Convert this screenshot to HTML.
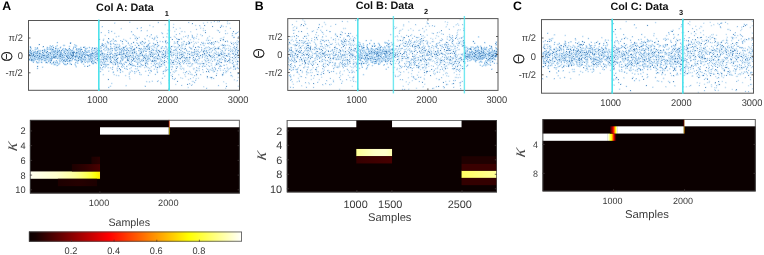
<!DOCTYPE html>
<html lang="en">
<head>
<meta charset="utf-8">
<title>Figure: circular data columns A, B, C</title>
<style>
html,body{margin:0;padding:0;background:#fff}
body{width:764px;height:255px;overflow:hidden}
svg{display:block}
</style>
</head>
<body>
<svg width="764" height="255" viewBox="0 0 764 255" text-rendering="geometricPrecision" font-family="'Liberation Sans', Arial, Helvetica, sans-serif">
<rect width="764" height="255" fill="#fff"/>
<text x="2.3" y="10.2" font-size="12.3" text-anchor="start" fill="#000" font-weight="bold">A</text>
<text x="254.7" y="10.1" font-size="12.3" text-anchor="start" fill="#000" font-weight="bold">B</text>
<text x="512.9" y="10.3" font-size="12.3" text-anchor="start" fill="#000" font-weight="bold">C</text>
<text x="96.1" y="10.6" font-size="10.8" font-weight="bold" fill="#111">Col A: Data</text>
<text x="164.8" y="15.9" font-size="7.4" font-weight="bold" fill="#111">1</text>
<text x="355.7" y="9.4" font-size="10.8" font-weight="bold" fill="#111">Col B: Data</text>
<text x="424" y="13.9" font-size="7.4" font-weight="bold" fill="#111">2</text>
<text x="610.4" y="9.8" font-size="10.8" font-weight="bold" fill="#111">Col C: Data</text>
<text x="678.9" y="14.6" font-size="7.4" font-weight="bold" fill="#111">3</text>
<path d="M37.5 68.4h0M63.6 50.4h0M70.8 53.9h0M30.5 53.4h0M38.9 62.6h0M93.8 53.7h0M33.5 52.6h0M37.6 58.1h0M95.2 57.1h0M72.2 53.1h0M54.5 57.3h0M64.5 52.9h0M75.1 59.4h0M47.9 57.8h0M38.2 57.2h0M83.9 54.7h0M75.6 47.2h0M64.5 53.9h0M85.9 49.5h0M67.1 56.3h0M97.5 58.1h0M42.9 55.5h0M67.4 55.4h0M62.5 49.8h0M53.3 49.8h0M70.1 60.4h0M45 56.9h0M84.9 54.4h0M89.5 52.4h0M37.6 57.1h0M61.4 53.8h0M48 49.1h0M34.3 56.5h0M91.5 54.5h0M58.7 56.3h0M38.9 52h0M75.9 56.4h0M42.7 52.6h0M91.9 62.3h0M43.8 55h0M30.8 49.2h0M42.6 67.1h0M52.8 53.4h0M61.5 55.6h0M92.2 48.2h0M77.5 53.8h0M52.4 49.7h0M29.7 50.3h0M39.7 57h0M98.6 53.1h0M60.8 56.2h0M77.1 56h0M32.3 53.5h0M30.9 57.2h0M88 55.8h0M69.8 56.3h0M50.2 46h0M50.8 61.6h0M34.8 58.7h0M40.6 51.3h0M30.2 53.5h0M87.5 54.8h0M61.3 51.8h0M37.4 53.8h0M80.5 58.9h0M42.3 59.4h0M32.9 56.2h0M70.6 58.2h0M91.5 59.2h0M30.4 56.5h0M85.1 57.1h0M41.9 58h0M35 58.6h0M29.8 55.7h0M49.1 49.5h0M79.6 54.6h0M63.2 54.4h0M88.5 56.2h0M43.8 55.9h0M50.7 58.3h0M46.7 55.1h0M97.3 59h0M94.7 54h0M52.5 52.5h0M59.2 52h0M50.6 48.6h0M81 52.2h0M31.3 52.2h0M33.2 58.1h0M56.9 56.1h0M45.7 52.1h0M87.9 52.3h0M80.7 58.4h0M66.9 52.6h0M75 64.2h0M77.2 55.9h0M83.4 52.6h0M93.7 63.1h0M39 60.9h0M72.5 50.3h0M38.6 57.6h0M59.7 56.7h0M83.8 47.2h0M91.4 57.4h0M81.9 58.6h0M31 60.1h0M53.8 55.9h0M40 53.3h0M98.7 55.6h0M38.6 59.8h0M45.7 55.6h0M53.6 50.4h0M32.8 57.3h0M89.7 58.9h0M73.3 56.5h0M39.7 56.5h0M63.5 60.2h0M34 56.1h0M71.5 51.9h0M44.8 49.7h0M31.2 53.4h0M36.6 61.9h0M67.6 54.1h0M73.3 48.9h0M51.3 56.3h0M73.8 55.7h0M53.3 54.8h0M37.7 66.3h0M50.7 54.9h0M56.3 61h0M92.7 59.2h0M36.6 52.6h0M34.6 52.1h0M68 57.7h0M96.3 59.4h0M92.3 47.8h0M77.8 55.4h0M33.2 61.3h0M85.2 49.1h0M76.6 52.8h0M38.6 57.8h0M61.2 60.3h0M32 58.9h0M84.9 50.9h0M79 49.9h0M85.1 54.8h0M82 54h0M47.3 54.5h0M84 54.6h0M46 52.4h0M38.2 55.3h0M56 53.2h0M63.5 61.6h0M48.6 61.3h0M71.1 55.9h0M70.9 58.4h0M45.4 58.3h0M72.3 59.6h0M53.6 47.8h0M80.2 60.3h0M48.9 55.8h0M84.7 60.6h0M57.7 58.5h0M67.4 59.4h0M75.9 62.5h0M65 60.2h0M46.6 52.9h0M97.4 48.9h0M35.3 47.8h0M51.4 46.9h0M67.1 50.7h0M30.5 55.8h0M39.4 57.5h0M84.7 57.2h0M83.6 64.1h0M73.3 53.1h0M91.9 54.6h0M81.6 57.8h0M49.5 60.1h0M73.9 55.3h0M52.4 49.3h0M81.2 58.7h0M55.6 64.5h0M39.3 55.1h0M90.1 58.4h0M77.1 56.7h0M80.9 47.3h0M67.9 54.4h0M83.6 58.8h0M60 59h0M68.3 55.3h0M32.9 59.9h0M67.5 63.8h0M85.8 57.7h0M78.1 60.7h0M85 52.1h0M63.4 48.6h0M90.5 56.1h0M36.1 54.2h0M90.1 57.8h0M54.6 56.6h0M34.9 59.2h0M72.1 56.1h0M60.5 61.5h0M58.6 64.6h0M88.4 60h0M38.2 55h0M71.9 52h0M57.6 50.6h0M65.7 54.8h0M63.6 45.4h0M37.9 51.2h0M64.5 52.5h0M89.1 56.1h0M40.5 50.7h0M29.3 60.2h0M33.3 53.8h0M60.8 54.1h0M97 55.8h0M31.6 55.1h0M98.2 52.6h0M66.2 64.6h0M36.9 56.1h0M57.9 54.9h0M43.1 57.9h0M78.7 53.5h0M66.6 56.3h0M48.8 56.7h0M46.5 53.3h0M89.5 47.7h0M82.4 60h0M59.2 58.2h0M57 61.4h0M80.4 50.1h0M96.8 55.9h0M34.1 56h0M39.7 53.6h0M54 61.4h0M64.2 56h0M33.5 54.7h0M32.3 59h0M43.9 56.2h0M55.6 56h0M80.5 52.1h0M71.4 55.2h0M30.6 47.1h0M31.7 54.8h0M60.3 48h0M90 55.2h0M92.9 60.3h0M54.2 52.1h0M90.9 53.9h0M93.8 56.8h0M57.1 51.1h0M81 53.7h0M54.2 64.7h0M39.3 53.7h0M69 55.1h0M34.6 59.7h0M75.2 59.5h0M85.4 55.5h0M92.9 63.3h0M60 52.5h0M36.8 57.6h0M92 62.3h0M89.7 55h0M96.6 51.9h0M70.3 54.2h0M75.9 57.5h0M54.8 51h0M41.4 57.4h0M49 58.9h0M79.2 56.2h0M51.4 59.5h0M77.1 60.3h0M63.8 63.5h0M60.1 56.2h0M96.6 55.7h0M40.2 51.1h0M62.8 55h0M39.7 59.7h0M94.4 48.1h0M62.9 57.1h0M51.8 50.8h0M40.3 58.9h0M70.3 43.1h0M56.6 56.4h0M37.4 48h0M30.8 53.1h0M56 54.6h0M69.5 50.5h0M65 59.9h0M91.8 56.4h0M92.6 58h0M94.4 55h0M84.7 57.5h0M62.1 59h0M65.3 53.6h0M56.4 52.4h0M56.6 57.8h0M31.4 52h0M84.7 57.7h0M45.8 59.7h0M30.6 50h0M61.3 52.7h0M79 49.6h0M59.2 50.8h0M54.1 58.2h0M74.8 59.9h0M40 53.2h0M29.3 52.1h0M70.2 53.9h0M65.8 49.8h0M89.4 50.7h0M57.7 49.1h0M83.8 59.7h0M29.8 59h0M30.4 52.5h0M70.6 60.9h0M44.4 50.7h0M33.2 52.9h0M37.5 55.6h0M54.9 54.5h0M52.2 58.1h0M68.2 57.4h0M90.9 56h0M54.2 54.6h0M41.5 55.7h0M69.2 51h0M55.6 50.3h0M50.8 54.3h0M55.7 62.4h0M32.1 55.9h0M67.5 50.5h0M72.4 52.6h0M81.2 61.9h0M95.8 51.6h0M53.5 57.5h0M74.7 44.8h0M59.6 63.7h0M43.6 58.9h0M91 53.8h0M81 58h0M94.8 53.7h0M86.3 51.9h0M93 50.5h0M37.5 48.7h0M29.6 54.4h0M42.5 50.4h0M57.5 54.8h0M76.9 53.9h0M59.3 60.1h0M64.6 50.8h0M82 58.2h0M33.5 61.4h0M76.2 49.5h0M31.9 53.5h0M46 55.8h0M79.3 54.6h0M76.5 55.7h0M57 65.6h0M49.2 52.8h0M86.7 51.6h0M47.8 53.8h0M30.7 53.6h0M45.9 62.6h0M30 51.8h0M85.5 59.6h0M37.1 55.4h0M97 56.7h0M43.5 54h0M50 60.7h0M69.7 60h0M50.2 62.9h0M55.2 56.6h0M35.8 55.8h0M55.9 47h0M30.3 55.7h0M44.3 51.8h0M92.5 53.7h0M48.2 53.7h0M47.6 55.1h0M76.3 53.7h0M90.6 55.5h0M49.3 55.1h0M55 54.6h0M78.8 52.9h0M84.2 57.7h0M71.7 60.7h0M41.1 54h0M41.2 56.2h0M81.8 56.1h0M78.2 60.1h0M91.5 55.2h0M83.3 59.2h0M58.1 51.4h0M37.9 55.8h0M91.1 61.1h0M77.4 61.7h0M69 58.5h0M76.5 46h0M55.6 51.5h0M52.6 57.8h0M69 52.2h0M62.5 62h0M78.4 60.8h0M94.3 62h0M88.1 59.6h0M55.8 49h0M54.7 56.2h0M93.7 56.4h0M56.3 55.2h0M84.8 66.2h0M35 49.8h0M60.2 55.7h0M64.8 57.7h0M85.4 48.9h0M90.2 56.1h0M39.2 58.1h0M71.9 50.6h0M72.7 54.7h0M39.2 58.9h0M87.1 48.2h0M67.4 58.9h0M96.1 52.4h0M41.6 60.5h0M65.4 51.1h0M51.2 49.4h0M73.7 53.8h0M71.3 64.3h0M64.5 52.3h0M51.3 58h0M63.9 57.9h0M54.7 54.3h0M91.2 55.5h0M61 58.1h0M61.9 54.7h0M46.7 56.9h0M46.4 62.2h0M95.6 58.6h0M50.6 60.3h0M89.6 65.3h0M70.3 50.8h0M97.5 58.8h0M40 56.7h0M94.7 50.3h0M82.8 55.7h0M68.5 55.5h0M78.4 58.5h0M79.3 57.8h0M60 52.6h0M73.1 53.1h0M44.6 57.8h0M30 51.5h0M76.1 52.8h0M61.9 59.1h0M92.2 56.2h0M47.1 48.1h0M86 54.5h0M97.9 53.7h0M91.7 49.9h0M96.3 63.3h0M39.7 53.5h0M40.1 53.3h0M44.6 49.7h0M53.9 52.4h0M36.6 55.7h0M39.1 56h0M29.8 54.8h0M94.1 60.7h0M53.9 63.4h0M72.5 54.2h0M60.5 55.4h0M80.8 47.8h0M85.2 51h0M55.4 50.9h0M66.2 49.7h0M35.4 56.9h0M48.6 53.7h0M44.2 60.7h0M50.2 59.3h0M51.3 49.7h0M68.9 58h0M51.9 54.3h0M51.5 56.4h0M87 61.2h0M29.4 55h0M32.5 55h0M89.4 47.5h0M73.1 58.2h0M79.7 53h0M95.9 59.6h0M43.8 52.7h0M93.2 50.7h0M45.6 55.2h0M65 64.5h0M76.4 60.2h0M84.6 61.7h0M46 52.2h0M62.1 54.8h0M31.7 54.6h0M48.7 61.1h0M97.5 54.4h0M92.2 55.3h0M69.4 58h0M83.8 52.9h0M92 55.8h0M51.8 48.5h0M97.5 50.8h0M60 51.6h0M39.7 52.8h0M65.8 55.5h0M70.3 58.3h0M77.2 52.5h0M75.7 53.8h0M31.4 56.4h0M73.4 55.8h0M93.3 63.8h0M75.6 65.6h0M97.1 50.7h0M64.5 45.4h0M85.5 57.5h0M38.4 50.5h0M91.5 53.9h0M59.2 50.1h0M90.2 57.8h0M51.1 58.2h0M72.4 57.9h0M88 51.3h0M78.5 51.4h0M72.1 58.6h0M96.8 54.2h0M34.7 56.9h0M35.7 57.3h0M67.3 53.7h0M95.6 48.2h0M76.8 55.3h0M50.3 61.9h0M36.1 49h0M60 55.6h0M62.3 59.4h0M61.4 55.5h0M72.1 55.5h0M47.7 57h0M90.4 57.9h0M48.8 60.4h0M36 57.5h0M53 63h0M94.3 57.6h0M39.7 57.6h0M48 55.2h0M93.7 50.6h0M53 56.5h0M87.8 55.9h0M31.7 56.3h0M91 55.1h0M45.2 59h0M41.2 59.2h0M80.7 54.3h0M98.1 57.9h0M96 62.5h0M81.4 54.8h0M92.8 60.4h0M97.9 54.8h0M67.4 61.4h0M38.7 58.1h0M88.2 56h0M56.3 54.5h0M50.5 53.3h0M63.7 56.5h0M31 57.7h0M29.8 58.8h0M47.1 51.7h0M70.4 52.6h0M81.2 55.6h0M95.8 54.7h0M86 58.8h0M94.7 52.6h0M73.3 56h0M80.1 51.9h0M69.8 53.8h0M34.2 56.4h0M32.9 60.8h0M82 52.7h0M42.7 59.2h0M84.1 60h0M61.1 57.3h0M68 55.1h0M59.7 61.8h0M33.7 54.5h0M46.9 57.7h0M50.1 49.2h0M52.8 46h0M78.2 57.4h0M40.3 58.6h0M59.7 50.3h0M71.2 57.6h0M95.1 52.6h0M36.6 57h0M34.1 55.9h0M42 62.4h0M44 58.4h0M39.9 56h0M33.8 59.3h0M43.2 53.1h0M44.2 55.2h0M62.2 58.3h0M74.1 56.9h0M54.1 57.1h0M40.3 53.8h0M35.2 49.9h0M47 49.6h0M40.5 58.1h0M62.3 59.2h0M89.8 59h0M78.9 57.9h0M42.8 55.5h0M31 48.3h0M33.3 62.1h0M59.2 55.9h0M54.1 52.7h0M76.5 56h0M34.4 54.3h0M46.4 57.2h0M76.7 52.2h0M68.5 53.4h0M64.8 60.3h0M91.9 58.8h0M36.5 57.4h0M42.2 54.4h0M68.3 55.1h0M68.3 54.8h0M97.4 53.5h0M97.2 52.6h0M69.8 60.4h0M81.9 49.7h0M77.6 50.3h0M37.8 53.2h0M70.9 54.5h0M50 49.3h0M53.7 63.4h0M39.5 54.3h0M88.5 61.3h0M78.9 57h0M81.4 54.3h0M48.8 55.3h0M57.9 58.3h0M40.9 54.8h0M70.9 53.1h0M87.5 61.3h0M83.3 53.3h0M94.2 57.1h0M46.8 59.7h0M77.8 63.2h0M37.4 55.8h0M66.2 50.6h0M36.3 52.7h0M66.5 60.7h0M66.6 55.6h0M52.9 50.9h0M53.1 54.8h0M78.5 58.4h0M62.3 55.5h0M57.2 54.8h0M36.4 53h0M48.4 56.3h0M88.1 58.9h0M96.9 53.1h0M54.7 52.4h0M89.7 59.6h0M90 59h0M43.8 52.3h0M47.8 59.5h0M77.5 57.6h0M50 56h0M95.7 56.1h0M54.2 52.7h0M79.9 56h0M78.2 48.8h0M43.5 57.2h0M89.4 61.7h0M51.6 52.3h0M36.2 57.2h0M32 56.4h0M60.3 53.2h0M73 52.5h0M47.6 57.3h0M87.7 62.5h0M47.3 47.4h0M88.1 50.7h0M30.8 58.2h0M47 52.1h0M39.7 58.4h0M60 54.2h0M53.2 56.9h0M56.3 62.8h0M88.4 55.3h0M69.3 61.8h0M71.1 54.8h0M55.9 55.9h0M85.3 60.1h0M63.8 52.2h0M81 57.1h0M92.8 61.3h0M71.5 55.4h0M59.1 50.9h0M47 48.7h0M92.6 55.4h0M82.3 62h0M84.7 56.9h0M44.1 56.5h0M59.2 57.8h0M90.6 54.5h0M45.8 58.3h0M85.7 59.6h0M66.4 55.3h0M43.9 57.8h0M54.9 57h0M33.9 52.2h0M75.8 45.4h0M79.6 48.8h0M30.5 55.3h0M49.7 59.7h0M82.6 54.2h0M42.6 50.9h0M66.3 49.9h0M85.2 55.2h0M68.6 55.8h0M37.1 56.6h0M92.4 63.4h0M81 60.6h0M68.2 54.2h0M51.9 59.6h0M69.5 58.7h0M56 53.6h0M36.8 52h0M37.1 56.1h0M31.7 60.8h0M40.5 56.6h0M45.8 58.1h0M73.2 51.3h0M69.3 57.5h0M70 63.8h0M86.3 48.9h0M35.2 52.4h0M55.9 51.5h0M34.1 57.2h0M58 63.3h0M34 52h0M33.2 60h0M35.8 51.9h0M55.9 58.2h0M82.2 55.5h0M48.3 53.3h0M80.7 49.3h0M44.9 58.1h0M48.7 52.9h0M61.7 56.1h0M33.8 54.6h0M60.1 53.4h0M69.5 53.7h0M86.5 52.6h0M32.4 56.9h0M84.8 47h0M68.6 49.6h0M69.2 54.3h0M32.1 53.8h0M90.4 60.4h0M48 54.1h0M66.9 59.4h0M66.4 60.5h0M92.5 52.3h0M70.8 42.8h0M98.2 54.2h0M44.8 54.6h0M75.1 60h0M69.1 48.7h0M64.6 51.7h0M72.6 54h0M67.2 60h0M52.2 58.3h0M73.6 54.6h0M34.4 57.1h0M62.2 54h0M60.3 58.8h0M43.5 53.6h0M68.5 61.1h0M75.6 56.5h0M37.3 48.1h0M49.4 57.3h0M32.9 50.6h0M70.5 49.9h0M34.2 59.6h0M44.6 51.5h0M60 56.9h0M60.3 53.3h0M30.8 56.4h0M95.1 52.2h0M44.7 60.5h0M71.4 57.5h0M44.1 50.2h0M70.4 53.6h0M53.3 55.3h0M50.9 52.3h0M61.9 50.8h0M69.7 54.7h0M70.6 63.5h0M76.9 50.1h0M47.4 55.5h0M34.9 52h0M46.3 57.2h0M51.5 57.5h0M71.2 54.4h0M57.6 52.3h0M50.4 49.5h0M35.4 53.3h0M70.5 55.5h0M36.2 53.2h0M64.9 61.1h0M76.9 48.8h0M72.3 56.5h0M39.7 54.3h0M53.5 52.6h0M94.7 53.7h0M34.9 59.5h0M76.2 52.2h0M59.2 55.5h0M71.6 52.4h0M56.2 62.4h0M37.2 52.2h0M68.1 51.3h0M89.3 60.9h0M84.7 59.3h0M54.8 51.8h0M66.3 59.6h0M65.6 58.8h0M97.4 60.3h0M31.6 59.6h0M49.4 47.6h0M57.1 58h0M83.9 54h0M79.8 49h0M58.3 55.5h0M29.3 51.1h0M74.1 51.1h0M57.1 45.7h0M36.7 62.3h0M72.9 52.1h0M59.8 58.8h0M50.1 58.9h0M47.4 62.8h0M65.1 64.1h0M45.9 61h0M56.2 48.8h0M94.8 55h0M62.1 55h0M46.3 57h0M65.2 48.9h0M93 53.9h0M89.4 50.9h0M76.1 56.9h0M91.7 51.4h0M81.7 55.9h0M76.3 54.7h0M58.6 57.2h0M39 44.6h0M80 56.9h0M73.1 52.6h0M96.6 47.8h0M51.1 60.9h0M90.2 59.1h0M43.9 55.8h0M95.1 59h0M98.5 61.4h0M31.8 54.5h0M51.3 58.2h0M98.7 52.9h0M96.6 56.6h0M75.7 57.7h0M38 55.2h0M46 58.7h0M94.9 48.9h0M85.1 62.2h0M58.6 51.8h0M82 56h0M92 61.1h0M49.6 49.4h0M90 59.4h0M47.5 51.7h0M51.6 57.2h0M31.6 59.7h0M39.8 50.7h0M67.2 60.7h0M30.2 46.8h0M66.9 55.9h0M40.5 58.4h0M81.2 49.5h0M37.5 63h0M43.1 46.8h0M47.4 57.3h0M69.5 46.4h0M85.4 57.9h0M81.5 54.3h0M80.6 53.7h0M76.4 56.1h0M66.7 55.1h0M52.6 53h0M41.2 62.1h0M89.2 54.9h0M57.3 62.9h0M74.2 52.1h0M33.3 55.3h0M53.9 55.1h0M35.6 59.5h0M53.4 51h0M80.1 57h0M52.5 51.5h0M76.5 56.2h0M37.2 59.4h0M55.6 57.9h0M57.3 42.6h0M64.3 59.9h0M44.6 54.7h0M77.6 55.8h0M90.6 54.2h0M85.7 53.2h0M30.7 52h0M62.8 49.2h0M52.7 50.9h0M68.8 51.9h0M34.4 60.4h0M79.8 54.4h0M57.8 52.4h0M94.9 62.3h0M29.8 56.5h0M57.9 53.4h0M62.7 57.4h0M87 55.3h0M81.7 62.6h0M41.3 59.6h0M50.1 53.5h0M80.2 59.6h0M58 48.6h0M47 51.3h0M94 61.3h0M87.8 55h0M53.5 51.9h0M67.2 57.7h0M93.9 54.2h0M43.7 55.2h0M92.4 53.6h0M90.7 56.7h0M79.6 51.7h0M76.8 53.3h0M76.7 49.3h0M66.8 56.5h0M69.5 54.5h0M42.4 57.6h0M68.1 56.8h0M75.8 55.2h0M62.6 56.7h0M76.3 60.1h0M60.7 47.1h0M85 51.9h0M79.2 59.3h0M34.8 58.2h0M82.6 52h0M48.5 57.1h0M34.2 56.9h0M37 52.4h0M51.3 51.8h0M65.4 61.5h0M51.7 64h0M42.8 56.8h0M82.6 56.4h0M54.8 57.4h0M90 59.3h0M45.7 50.9h0M77 57.5h0M53.6 56.3h0M88.3 57.3h0M74 47h0M76.2 66.8h0M35 55.9h0M81.3 59.1h0M53.4 56.6h0M80.6 57.3h0M87.9 66.2h0M37.1 52.3h0M29.6 55.2h0M81.8 59.7h0M96.6 49.9h0M91.8 53.7h0M59.1 52.8h0" stroke="#1c8ee2" stroke-opacity=".27" stroke-width="1.8" stroke-linecap="round" fill="none"/>
<path d="M123.8 52.1h0M103.3 74.7h0M145.8 60.3h0M141.2 52.7h0M146.6 66.9h0M158.2 59.4h0M137.5 64.3h0M125 54.7h0M116.5 75.4h0M135.5 66.1h0M129.6 61.9h0M129.7 52.1h0M117.7 48h0M112.7 63.4h0M154.7 57.9h0M167.4 56.2h0M145.8 54.2h0M141.3 53.7h0M110.8 56.7h0M130.2 72h0M165 54.2h0M166.5 56.8h0M104 64h0M158 50.5h0M114.1 46.6h0M165.3 57.2h0M114.7 56.6h0M153.1 57.3h0M166.2 40.8h0M102.1 69.4h0M99.7 50.1h0M136.4 54.1h0M129.2 51.6h0M165 51.6h0M119.4 54.5h0M100.3 67.3h0M160 58.8h0M141.1 74.7h0M135 52.4h0M143.2 65.2h0M162.4 57.7h0M117.3 61.8h0M116.5 55.7h0M168.4 56.4h0M135.3 56.8h0M101.2 48.4h0M152.3 81.2h0M138.5 70.4h0M102.1 26.8h0M125.2 57.9h0M140.6 63.6h0M159.7 62.2h0M145.3 62.1h0M143.7 46.2h0M151.3 63.5h0M128.4 58.6h0M155.9 58.1h0M149.8 36.8h0M105.5 65.9h0M149.8 72.9h0M161.7 51.2h0M165.2 52.9h0M129.9 22.2h0M107.4 48.3h0M138.8 48.5h0M105.8 58.4h0M139.2 37.3h0M151.4 50.7h0M140.6 66.9h0M147.6 46.8h0M151.5 55.6h0M132.5 64h0M117 59.6h0M154.2 57.1h0M134.6 71.9h0M148 67.7h0M126.1 53.6h0M162.4 78.2h0M126.6 62.6h0M141 28h0M143.4 51.5h0M136.1 51.4h0M154.7 38.6h0M117.7 63.5h0M103.2 40.2h0M109.8 57.6h0M128.9 59.9h0M148.2 48.9h0M109.6 54.4h0M128.4 56.1h0M143.1 57.8h0M113.4 55.1h0M144.1 46.9h0M144.6 57.8h0M115 55.2h0M161.6 54.1h0M165.7 42.6h0M164.3 48.4h0M114.8 44.6h0M121.7 48.5h0M137.1 55.2h0M156.1 61.4h0M100.5 55.8h0M116.6 61.4h0M144.7 67.5h0M114.8 23h0M114.3 62.5h0M168.9 50.8h0M141.6 64.9h0M147.3 49.7h0M105.1 64.8h0M119.8 53.4h0M107.4 60.9h0M116.3 56.5h0M108.3 79.5h0M106.8 65.5h0M152.8 56.3h0M118.3 47.8h0M161.8 48.2h0M99.6 56.1h0M121.4 50.5h0M120.1 52.6h0M127.2 52.5h0M139.6 50.7h0M134.3 65.5h0M123.3 48.8h0M122.7 43.9h0M148.7 57.3h0M121.1 58.4h0M147.8 59.2h0M134.2 52.3h0M115.6 57.3h0M151.9 56.1h0M136.8 47.8h0M143.6 42.4h0M104.2 54.7h0M131.1 59.9h0M134.9 35.9h0M127.8 52.8h0M125 57.8h0M108.2 64.4h0M133.8 58.4h0M153.5 46.5h0M139.8 54.2h0M120.6 63.9h0M112.4 63.8h0M125.1 62.3h0M121 60.7h0M112.2 49h0M127.7 48.1h0M124 50.8h0M136.3 55.2h0M157.2 44.6h0M124 47.9h0M146.2 53.9h0M110.8 53.6h0M115.6 47.2h0M159.3 66.9h0M151.3 66.8h0M149.1 46.9h0M156.5 48.5h0M161.6 61.1h0M164.8 65.1h0M149.9 43.2h0M164.2 62.1h0M117.7 55h0M132.4 46.9h0M112.2 50.7h0M106.3 59h0M126.7 53.1h0M122.7 71.7h0M143.2 51.4h0M127.5 49.9h0M109.8 49.8h0M133.7 42.1h0M122 64h0M152.8 60.4h0M147.3 57.7h0M166 47.7h0M139.3 60.6h0M117.2 68.2h0M138.5 62.1h0M119.8 46.7h0M135.4 57.2h0M152.3 38.2h0M149.7 54.8h0M131.1 57.1h0M120.3 72.3h0M100.9 62.5h0M159.2 66h0M157.4 72.4h0M141.4 51.4h0M155.7 56.8h0M112.5 56.6h0M145.2 39.1h0M119.4 51.5h0M156.6 48.1h0M127 66.5h0M132.6 50.9h0M124.5 50.3h0M128.9 56.2h0M160.1 59.4h0M167.3 33.7h0M155.3 60.5h0M166.2 61.8h0M135.3 61h0M141 43.3h0M156.7 36h0M145.4 48.2h0M136.6 62.1h0M161.8 66h0M138.2 55h0M154.2 39.2h0M163.3 37.1h0M121.2 52.3h0M157.5 67.7h0M112.1 57.5h0M136.9 47.2h0M144.9 50.1h0M159.2 50.4h0M121.1 57.3h0M167 54h0M151.7 55.8h0M163.7 63.6h0M116.8 46.3h0M137.3 60h0M130.7 51.8h0M166.4 43.6h0M156 67.4h0M110.4 61.5h0M162.9 57.5h0M124.3 47.5h0M132.1 46.7h0M102.7 69.7h0M134.7 52.1h0M162.5 56.1h0M131.4 48.9h0M101.1 64.2h0M158.2 46h0M131.9 49.3h0M106 66.2h0M147.9 64.4h0M111.8 62.5h0M141.7 60.9h0M128.3 60.9h0M116.3 61.3h0M129.4 51h0M119.8 54.2h0M131.9 64h0M140 55.6h0M134.3 50.5h0M102.7 55.9h0M139 55.5h0M165.3 70.9h0M158.8 54.5h0M128.5 59.6h0M153.1 26.8h0M110.8 48.5h0M148.8 40.9h0M111.3 60.4h0M104.5 58.9h0M145.4 42.4h0M123.9 66.4h0M135.1 38.5h0M102.3 53.6h0M114.8 53.1h0M104.2 57.7h0M164.1 58.2h0M107 58.9h0M163.6 54.5h0M103.7 61.8h0M113 72.5h0M148.8 70.3h0M143.3 58.8h0M102.4 45.2h0M122.2 60.6h0M107.9 52.1h0M122.6 54.4h0M124 51.9h0M136.7 40.1h0M151.6 52.6h0M101.1 65.1h0M146.4 60.4h0M164.2 62.7h0M122.4 58h0M145.4 59.4h0M130.3 64.9h0M119.6 48.6h0M136.3 59h0M103 56.2h0M146.6 62.8h0M136.7 53.3h0M117.5 50h0M101.1 32.6h0M164.3 64.7h0M144.9 57.2h0M102 44.4h0M154.3 69.2h0M106.5 47.7h0M131 46.4h0M107.3 41.3h0M163.5 54.2h0M143.9 48.6h0M147.1 35.9h0M123.1 53.2h0M121.8 58.1h0M103.3 53.4h0M160.8 82.1h0M108.1 56.4h0M141.7 55.5h0M113.4 71.9h0M105.4 43.7h0M102.1 53.4h0M121.8 58.5h0M107 64.3h0M158 59.1h0M141.8 64.8h0M111.7 40.9h0M100.7 68.9h0M131.9 61.2h0M158.1 53.3h0M116.3 59.1h0M139.6 53.1h0M115.9 63.5h0M167 51.2h0M116.3 36.8h0M113.4 61.9h0M142 41.3h0M119.1 44.7h0M159.5 52.3h0M152.6 54.2h0M147.5 63.4h0M165.9 50.9h0M129.1 58.9h0M101.7 51h0M121 40.9h0M116.5 55.2h0M111.3 44.1h0M126.9 50.7h0M103.1 64.4h0M99 71.4h0M135.8 61.8h0M109.3 58.9h0M156.9 49.3h0M106.7 57h0M105.5 56h0M140.1 49h0M155.4 50.8h0M153.8 53h0M159.4 56.6h0M131.4 43.9h0M116.3 55.5h0M100.6 71.6h0M165.2 24.7h0M140.2 53h0M165.1 55.3h0M157.9 46.6h0M145.4 64.6h0M152.6 52.8h0M110.9 53.1h0M162.2 60.8h0M158.9 45.5h0M132.4 60.5h0M129.6 45.2h0M133.6 42.7h0M138.9 45.2h0M110.5 49.6h0M165.6 69.2h0M123.6 54.7h0M101.4 54.7h0M140.9 49.9h0M108.9 32.7h0M169.1 82.9h0M164.2 56.3h0M151.9 48.5h0M103.5 59h0M158.2 22.5h0M111.7 52.8h0M143.3 52.1h0M110.9 44.6h0M149.2 46.4h0M148.5 56.3h0M123.3 56.9h0M115.7 60.9h0M158.1 45.8h0M165.2 53.8h0M110.7 51.5h0M168.9 43.6h0M138.8 58.2h0M121.7 50.4h0M133 34.7h0M103.4 44.8h0M134.7 49.4h0M141.1 64.8h0M135.2 56.6h0M101.1 62h0M150.9 70.7h0M133.4 49.5h0M110.7 46.7h0M157.5 55.9h0M142.5 55.3h0M100.3 54.2h0M129.4 57.8h0M152.5 56.4h0M144.5 43.5h0M125.7 56.7h0M154.9 37.5h0M132 53.4h0M110.1 59.9h0M108.5 43h0M161.9 32.9h0M117.2 52.9h0M140.3 42.5h0M116.2 51h0M121.4 50.3h0M121.7 66.9h0M99.9 59.5h0M99.6 51.8h0M105.1 56.1h0M149.9 25.4h0M118.3 57.8h0M129.9 78.9h0M142.4 54.2h0M134.7 51.8h0M161.7 47.4h0M153.7 61.3h0M160.8 60.7h0M120.2 62.3h0M168.2 30.2h0M165.8 56.8h0M145.2 59h0M155.3 61.9h0M111.6 48.2h0M167.3 52.4h0M112.4 69.2h0M154.7 47.4h0M101.2 60h0M152.9 53.2h0M139.1 66.4h0M127.2 54.2h0M117.8 66.1h0M132.1 47.2h0M119.3 52.6h0M124.3 47.8h0M168.6 53.4h0M124.7 49.3h0M160.1 41.4h0M130.3 64h0M159.7 51.3h0M148.7 59.6h0M159.3 58.7h0M149.7 68.4h0M142.4 54.7h0M161.3 59.6h0M145.7 51.2h0M157.4 52.7h0M146.3 51.2h0M131.2 67.7h0M118.9 36.2h0M121.6 54.2h0M157.6 42.8h0M117 44.4h0M119.2 49.6h0M167.5 42.8h0M146.3 56.5h0M122.5 65.2h0M147.7 46.8h0M130.1 55.5h0M103.4 46.6h0M162.5 33.5h0M102.5 54.5h0M165.2 55.7h0M128 58.8h0M137.1 57.1h0M133.1 57.5h0M131.3 62.2h0M158.2 80.8h0M122.4 50.9h0M168.4 47.9h0M139.6 72.6h0M157.3 71.5h0M110.7 43.7h0M112.1 50.9h0M120.7 49.2h0M160.2 52.3h0M127.5 60.7h0M155.1 64.8h0M146.7 60.8h0M111.5 53.3h0M133.8 59.9h0M107.9 61.4h0M134.4 61.2h0M110.5 68h0M146 57.8h0M131 50.2h0M140.5 55.9h0M130.4 64.6h0M139 62.6h0M128.3 43.6h0M119.9 54.8h0M165.9 52.5h0M136 54.7h0M109.3 57.3h0M123.6 52.9h0M153.3 58.7h0M137.2 59.8h0M132.6 65.8h0M139.2 48.5h0M149.7 53.3h0M167.7 59h0M108.8 30.8h0M164.7 60.5h0M131.4 59.1h0M142.4 55.3h0M128.7 64.8h0M131.2 50.5h0M126.6 52.9h0M152.6 49.3h0M132.9 54h0M153.1 50.6h0M106.1 66.1h0M100.7 51.5h0M115.8 54h0M115.2 54.1h0M116.8 55.7h0M130 56.1h0M145.7 71.2h0M162.4 63.6h0M168.5 69.8h0M144.2 55.4h0M162 57.4h0M135.2 45.3h0M151.3 55.5h0M161.3 47.4h0M147.5 49h0M127.4 56.1h0M156.2 60.6h0M153.1 55.6h0M167.5 58.5h0M156.4 54h0M139.9 62h0M115 50.6h0M99.5 39.3h0M115.1 48.7h0M148.5 55.1h0M109.4 52.5h0M148.5 44.5h0M117.3 54.5h0M110.5 86.2h0M159.5 62.9h0M107.8 56.9h0M158.8 58.7h0M141.5 42.3h0M117.6 58h0M115.4 54.1h0M140.2 51.1h0M117.1 68.9h0M141.1 48.3h0M142.1 65.4h0M100.6 64.8h0M117.3 60.4h0M150.4 55.6h0M108.6 49.1h0M151.6 61.1h0M153.6 50.1h0M156.5 58.6h0M161 64.6h0M124.4 53.5h0M165.4 71.3h0M102 52.5h0M103 67.3h0M140.5 49.3h0M103.3 55.7h0M135.5 68.8h0M120.6 61.3h0M147 57.9h0M129.2 74.3h0M122 63.9h0M145.2 86.2h0M167 49h0M115.3 55.9h0M103.6 56.8h0M110.1 57.2h0M163.1 73.7h0M150.3 52h0M99 56.1h0M113.7 56.6h0M152.9 53.9h0M108.9 39h0M133.1 55.2h0M112.1 48.8h0M118.8 54.4h0M130.3 38.3h0M132.7 55.7h0M159.5 51.2h0M132.8 52.2h0M165.7 54.5h0M135.3 57.6h0M131.5 56.2h0M119.2 63h0M126.1 46h0M167.3 69.7h0M136.8 42.9h0M111.8 83.4h0M108.1 48.4h0M143.7 61h0M137.2 28.4h0M134.4 50.6h0M142.1 59.8h0M104.1 62.5h0M103.3 57.3h0M118.6 47h0M118.6 47.5h0M149.1 51.9h0M160 52h0M139.1 58.6h0M154.3 61.7h0M154.7 58.5h0M126.8 52.5h0M138.8 50.8h0M155.4 66.2h0M165.7 41.8h0M155.6 53.2h0M128.1 50.4h0M105.5 47h0M116.2 59.2h0M136.1 53.1h0M113.5 64.6h0M150.7 56.5h0M117.5 70.9h0M129.5 48h0M127 56.8h0M168 49.8h0M128.2 54.2h0M146.3 46.7h0M166.1 70.4h0M151.1 70.5h0M149.3 48.5h0M157.2 67.5h0M127.2 58.3h0M115.6 44.8h0M114.8 49.2h0M106 61.7h0M104.2 61h0M159.7 67.4h0M163.7 71.2h0M156.9 40.7h0M114.6 44.6h0M101.6 55.6h0M150.7 51.4h0M137.4 38.4h0M139.9 74.3h0M127 48.7h0M140.8 61.2h0M151.1 71.2h0M132.9 53.5h0M129.3 73h0M129.7 55.7h0M101.6 53h0M124.9 57.5h0M126 85.7h0M116.6 60.2h0M147.7 58.8h0M155.3 53.9h0M126.6 41h0M150.5 54.6h0M134.9 48.5h0M120.4 54.2h0M100.9 68.6h0M120.6 70.5h0M161 48.6h0M157.6 81.3h0M165.2 53.6h0M154.2 57.4h0M143.8 50.2h0M102.7 63h0M104 56.6h0M157.9 63.2h0M108.5 56.7h0M107.7 57.8h0M163.1 62h0M128 55.3h0M105.1 35.3h0M114.7 59.4h0M115.6 63.9h0M133.5 54h0M104.3 56.9h0M134.9 73.3h0M121.3 63.2h0M104.7 63.1h0M129.8 56.9h0M140.3 66.1h0M120.4 61.2h0M122.1 58.1h0M122.4 56.2h0M166 67.2h0M159.8 66.2h0M121.7 59.9h0M150.8 53.1h0M158.4 64.8h0M146.3 49.6h0M148 56.5h0M104.5 45.6h0M155.6 44.4h0M102.8 57h0M168.2 63h0M113.2 39h0M114.5 59.7h0M131.6 70.6h0M125.9 55.1h0M107.4 54.1h0M110.4 41.6h0M166.9 37h0M113.3 39.4h0M101.2 51.4h0M121.2 28.7h0M132.2 71.1h0M103.8 60.3h0M146.8 63h0M132.1 55.6h0M157.1 56.5h0M116 49h0M102.2 62.1h0M137.7 66.8h0M169 80.4h0M101.5 47.6h0M151.2 53.6h0M129.9 68.7h0M148.7 61h0M123.9 63.5h0M157.5 52.9h0M138.1 58.2h0M121.5 53.7h0M122.3 49.7h0M144.7 48.4h0M118.8 75.7h0M121 51.3h0M164.8 76.1h0M114.4 57.7h0M147.3 61.8h0M110 54.2h0M112.7 67.2h0M147.5 59.6h0M125.6 75.6h0M130.7 55.5h0M115 53.3h0M163.2 53.6h0M149.3 47.4h0M116.3 41.1h0M124.1 49.2h0M117.7 62.1h0M154.4 63.5h0M142.4 49.7h0M121.5 55.5h0M136.7 47.7h0M153.2 65.4h0M116.1 62h0M126.5 56.9h0M127.4 60.6h0M138 64.4h0M101.9 45.3h0M122.1 56.7h0M113.5 58.7h0M108.5 43.7h0M123.1 59.9h0M115.1 62.3h0M145.2 49h0M106.1 64.2h0M157.2 56.9h0M159.9 63.9h0M165.6 52h0M106.7 55.7h0M103.7 57.1h0M166 56.4h0M105.4 58.1h0M107.7 42.6h0M112.9 54.5h0M141.7 59.3h0M154.8 45h0M103.5 57.1h0M123.9 54.2h0M125.5 40.3h0M165.3 51.7h0M142.2 54.8h0M131.2 48.8h0M125.4 55.9h0M123.8 48.9h0M116.7 53.2h0M148.6 49.1h0M110 62.7h0M137.3 62h0M153.4 43.2h0M134.6 48.9h0M129.8 53.5h0M143.4 56.3h0M103.4 54h0M104.7 48.7h0M105.5 60h0M119.3 68.9h0M127.3 57.6h0M120.9 57.9h0M123.1 47.2h0M147.6 57h0M154.9 54.2h0M150.1 59.2h0M148.4 59h0M102.1 43.6h0M122.3 41.7h0M127 69.2h0M142.6 60.8h0M129.3 76.8h0M140.6 55.2h0M154.3 44.5h0M139.3 45.7h0M115.3 41h0M162.7 57.7h0M158.8 55.3h0M132.4 57.1h0M151.2 35h0M103.6 66.7h0M141.1 30.8h0M140.7 53.6h0M164.6 62.1h0M149.5 82h0M100.1 48.2h0M133.5 56.2h0M165.8 46.4h0M108.3 55h0M145.2 63.1h0M124.2 64.2h0M127.8 59.3h0M163.1 71.6h0M157.2 46.8h0M123.6 57.8h0M146.1 56.6h0M118 64.9h0M137.7 43.7h0M111.8 31.4h0M153.9 39.5h0M108.6 64.7h0M103.7 39.1h0M100.2 61.4h0M157 69.6h0M147.2 30.7h0M145.4 55.5h0M163 63.6h0M148.3 75.3h0M101.7 57.7h0M103.8 58.9h0M102.5 52.9h0M106.3 54.2h0M106.5 45.1h0M116.9 59.1h0M121.2 56.3h0M137.9 63.4h0M131.5 53.2h0M150.7 60.1h0M127.9 52.4h0M168.6 60.6h0M149.5 51.6h0M98.9 63.1h0M128.2 42.6h0M119.8 45.8h0M153.5 54.7h0M103 55.3h0M160.3 58.2h0M142.3 54.1h0M160.4 66.1h0M122.1 67.2h0M163.6 54.8h0M103.2 59.1h0M149.4 58.1h0M106.6 58.2h0M162.4 52.9h0M120.5 61.8h0M142.1 61.5h0M120.2 69.8h0M144.1 56.5h0M130.9 48.2h0M116.7 47.7h0M104 49.7h0M163.4 50.8h0M131.9 65h0M123.7 39.3h0M152.9 45.9h0M148.4 44.5h0M156.7 57.9h0M152.6 61.4h0M161 83.8h0M154.2 45.7h0M143.7 58.7h0M153.6 49.5h0M162.9 41.9h0M110.9 58.7h0M126.5 50.5h0M131.6 32h0M146.9 55.8h0M114.3 41.2h0M138 55.9h0M125.9 46.9h0M110.4 54.8h0M114.4 48.6h0M166.2 46.7h0M114.7 33.3h0M114.3 60.3h0M124.7 68.1h0M104.8 57h0M119.7 63.2h0M162.5 46.8h0M126.4 54.7h0M138.1 59.1h0M134.6 53.2h0M157.5 58.1h0M149 49.4h0M146.7 81.7h0M123.8 58.3h0M134.2 59h0M102.2 59.3h0M108.1 67.7h0M136.3 37.1h0M156.9 51.3h0M127 60.1h0M103.8 64.1h0M149.7 47.6h0M123.3 48.1h0M122.4 59.1h0M162.6 55h0M165.3 70.6h0M168.5 50.5h0M100.9 46.8h0M151.1 46.3h0M136.3 71.6h0M102.1 69.2h0M146.4 61.1h0M127 66.2h0M143.3 56.2h0M106.6 47h0M108 50.6h0M147.2 45.2h0M138 70.4h0M108.8 71.1h0M142.4 44.4h0M145.7 65.6h0M137 68.8h0M148 45.4h0M107.4 59.4h0M165.6 40.7h0M109.2 58.5h0M104.8 53.6h0M139.5 56.9h0M156.7 63.7h0M158.4 55.7h0M129.9 51.2h0M125.6 46.5h0M147.7 47.6h0M106.5 56.2h0M145.5 54h0M101 59.1h0M100.5 62.6h0M139.8 59.2h0M138.6 56.5h0M125.9 50.7h0M116.4 54.1h0M157.4 37.6h0M143.2 60.3h0M117.8 58.6h0M108.9 87.4h0M147.5 61.5h0M165.8 53.7h0M153.7 54.3h0M114.1 74.6h0M106.9 50h0M141.7 44.4h0M105 67.6h0M154.3 60.3h0M105 50.8h0M120.5 61h0M105.8 47.7h0M101 51h0M115.3 64.7h0M118.4 66.5h0M149.2 58.5h0M133.8 50.8h0M161.2 56.4h0M126.2 69h0M134.1 61h0M144.8 38.6h0M133.2 65.6h0M125.4 61.7h0M151.3 56.6h0M155.3 74.3h0M159.9 62.8h0M113.4 43.4h0M130.5 50.1h0M130 63.6h0M156.4 50.4h0M115.4 50.8h0" stroke="#1c8ee2" stroke-opacity=".2" stroke-width="1.8" stroke-linecap="round" fill="none"/>
<path d="M187.7 84.2h0M206.4 40.4h0M235.9 42.7h0M216.1 57.6h0M237.9 73.9h0M177.5 67.1h0M178 47.9h0M170.3 73h0M213.3 70.9h0M227.6 23.4h0M186.8 71.7h0M227.7 45.1h0M198 68.4h0M208.1 40.6h0M182.9 45.4h0M171 75.3h0M206.7 61.9h0M190.9 48.9h0M238.6 54.7h0M225.9 72.7h0M238.2 41.5h0M186.5 43.4h0M223.9 54.3h0M238 48.8h0M184 69.8h0M193.5 41.4h0M211.6 78.7h0M227.5 33.3h0M172.8 52.4h0M198.7 60.8h0M181 50.7h0M198.3 46.7h0M175.2 37.2h0M233.1 62h0M183 48.4h0M236.7 44.7h0M221.8 57.1h0M236.5 64.4h0M183.6 63.9h0M184.9 31.9h0M203.8 86.8h0M186.8 50.1h0M219.1 21.7h0M173.7 52.7h0M179.2 52.2h0M234.4 47.9h0M186.5 63.7h0M230.5 57.3h0M226.9 55.9h0M222.7 45h0M235.3 50.8h0M208.5 40.1h0M170.7 51.9h0M190.5 63.2h0M196.8 61h0M190.3 62.9h0M203.7 55h0M229.7 23.4h0M203.5 23h0M231.7 50.7h0M170.8 54.7h0M170.9 50.9h0M200.9 74.8h0M205.3 43.5h0M185.7 59.3h0M191.4 42.4h0M233.5 69.3h0M232.4 76.5h0M179.9 55.9h0M236.9 54.7h0M209.4 55h0M209.2 50h0M175.5 58.7h0M177.2 53.1h0M175.6 43h0M190.2 72.2h0M199 56.6h0M200.8 51.8h0M228.4 48.2h0M174.9 31.4h0M199.5 66.4h0M222.9 51.8h0M216.2 75.5h0M184.4 57.2h0M203.3 65.4h0M189.2 71.2h0M206.1 50.4h0M233.6 67.1h0M190.1 47.7h0M175.2 78.4h0M189.1 51.4h0M200.2 64.4h0M233.2 62.8h0M219.1 58.9h0M175.2 70.3h0M237.4 56h0M216.8 57.5h0M207.6 60.6h0M207.5 58.3h0M181.7 39.2h0M211.7 63.7h0M175.8 47h0M236.5 47.6h0M175.8 49.5h0M202 49.1h0M184.7 52.6h0M223.6 56.2h0M225.7 88.1h0M208.5 65.7h0M186.4 44.4h0M232.7 60.4h0M228.6 50.5h0M170.8 59.8h0M174.8 64.4h0M212.5 57.9h0M227.5 21.9h0M215.3 41.9h0M187.3 58.2h0M200.7 55.1h0M222 59.5h0M174.9 54h0M186.7 42.9h0M195.9 42.3h0M232.3 54h0M186 36.1h0M208.7 62.7h0M183.3 61.8h0M184.3 48.7h0M180.9 78h0M209.9 52.6h0M233.4 64.5h0M236.1 33.3h0M192.8 64.1h0M234.6 52h0M192.2 54.1h0M217 63.6h0M186.9 59.3h0M185.4 53.7h0M176.5 55.4h0M194.1 37.5h0M189.6 63.3h0M237.3 64.6h0M235.3 61.1h0M194.2 52.4h0M198.4 49.7h0M226.6 64.7h0M184 57.6h0M188 66h0M181.1 55.6h0M237.5 46.9h0M181 47.7h0M177.8 62.8h0M173.6 54.4h0M233.4 31.7h0M235.8 61.9h0M238.2 86.1h0M205.5 62h0M233.1 53.4h0M179.8 33.9h0M203.6 52.9h0M174 43.7h0M182.9 56.9h0M173 55.3h0M186.9 50.9h0M180.8 62.9h0M237.1 46.1h0M224.4 48.5h0M181.8 57.5h0M199.3 58.8h0M188.8 41.4h0M177.1 47.3h0M188.1 35.6h0M197.6 55.9h0M225.8 60.7h0M220.8 51.8h0M199.3 52.8h0M171.4 56.2h0M238.3 68.6h0M219.2 54.2h0M226.2 26.7h0M221.6 62.8h0M205.8 66.1h0M220.4 55.8h0M223.9 53.9h0M218.8 48.5h0M228.3 54.9h0M224.7 47.1h0M169.7 58.7h0M212.2 50.8h0M173.4 27.4h0M192 65.7h0M230.6 49.6h0M216.4 54.1h0M183.6 53.8h0M214.6 53.5h0M204.3 50.2h0M210.4 56.8h0M191.6 85.1h0M180.9 54.9h0M177.5 81.2h0M174.9 47h0M238.8 51.8h0M195.4 72.2h0M196 59.7h0M214.6 49h0M182.5 62.1h0M211.8 42.9h0M189.6 61.4h0M194.4 50.1h0M223.9 57.1h0M212.7 26.6h0M181.3 50.2h0M171.9 55.1h0M237.5 42h0M189.5 58.9h0M228 56.4h0M172 39.4h0M216.4 52.2h0M213.9 78.4h0M197.9 64h0M232.2 57.5h0M204.9 66.2h0M232 63.3h0M188.6 79.6h0M180.6 58.1h0M221.1 54h0M171.7 69.5h0M196 78.6h0M238.2 57.5h0M178.1 44.6h0M194.3 53.9h0M217.7 61.5h0M227.5 61.4h0M225.4 49h0M220.3 38.8h0M233.1 47.8h0M181.8 42.7h0M185.7 72.8h0M174.6 59.6h0M183.3 44.4h0M222.9 56.3h0M194.7 49.9h0M169.2 80.4h0M236.9 64.4h0M222.5 44.3h0M182.3 54.2h0M169.8 30.6h0M225.6 33.8h0M174.3 41.8h0M171.3 66.3h0M233.9 66.9h0M220.1 68.9h0M204.2 51.4h0M174.4 50h0M203.2 51.2h0M189.4 54.6h0M205.4 56.8h0M169.5 45.3h0M212 55.8h0M215.3 65.1h0M211.3 59.2h0M212.8 50.1h0M211.3 77.3h0M227.5 67.9h0M229.2 59.4h0M189.9 53.9h0M237 68.2h0M215.6 68.6h0M169.3 54.7h0M200.2 63.5h0M211.8 44.1h0M224.7 53.3h0M189.4 47h0M196.5 49.8h0M179.1 39.8h0M185 74.8h0M226.1 71.1h0M192.6 58.6h0M223.1 70.2h0M235.1 69.2h0M236.5 47.1h0M171.3 52.6h0M221.1 58.5h0M234.6 48.8h0M224.6 53.8h0M218.3 54.4h0M197.9 54.7h0M197.8 46.8h0M188.8 53.8h0M221.2 38.5h0M170.8 62.3h0M172.2 63.7h0M204.2 45.7h0M188 53.4h0M195.8 62.3h0M214.2 57.8h0M188.4 63.6h0M203.3 30.6h0M204.8 53.7h0M174.8 42.5h0M237.7 64.9h0M226.6 86.2h0M176.7 49h0M194.9 61.9h0M221.6 54.3h0M214.5 71.1h0M173.5 62.7h0M176 66.7h0M206.6 71.9h0M170.3 51.8h0M213.5 72h0M227.3 67.5h0M231.8 43.7h0M223.4 74.8h0M172.6 74.4h0M184.5 62.4h0M196.4 70.1h0M235.6 53.5h0M223.8 65.2h0M205.5 32.8h0M181.6 54.4h0M210.1 56.7h0M192 35.2h0M194.7 82.5h0M237 80.9h0M192.1 37.3h0M201.6 47.6h0M195.3 53.7h0M183.5 72.7h0M171.3 54.8h0M187.8 53.9h0M184.1 58.2h0M184.3 49.2h0M182 52.6h0M216.8 48.8h0M197.3 34.1h0M195.6 47.5h0M171.1 49h0M171 49.5h0M238.1 42.9h0M231.7 75.5h0M230.7 59.8h0M202.5 54.9h0M227.9 70.9h0M214.8 48.9h0M179.5 46.1h0M209.4 52.1h0M209.2 43h0M188.3 43.5h0M212 43.7h0M211 55.7h0M180.5 52.1h0M177.2 41.8h0M214.3 59.5h0M222.8 48.1h0M215.7 69.5h0M209.6 66.4h0M214.4 55.9h0M205.7 60.7h0M196.5 74h0M177.5 43.4h0M206.1 53.6h0M219.7 32h0M214.2 71.3h0M182.7 51.7h0M212.7 57.6h0M236.8 56.1h0M235.1 68.8h0M202 57.8h0M173.8 60.3h0M192.2 81.3h0M195.2 62.9h0M201.4 63.4h0M192.3 23.9h0M230 54.9h0M213.2 56.6h0M237.9 53.7h0M188.3 73.9h0M219.3 46.8h0M206.5 50.4h0M225.1 58.3h0M180.3 59.5h0M203.2 72.2h0M237.6 67.1h0M176.4 48.7h0M186.2 49.7h0M211.3 65.1h0M221 26.2h0M207.6 43h0M191.2 53.5h0M234.8 65h0M176.2 61.9h0M190.9 66.2h0M189.7 66.7h0M187.7 57.6h0M179.7 63h0M237 40.9h0M236.7 49.1h0M212 48.4h0M232.1 63.3h0M189.5 57.3h0M230.7 51h0M221.6 52.7h0M225 48.3h0M218.4 30.9h0M169.9 64.7h0M220.9 62.2h0M196.8 54.1h0M212.6 70.4h0M186.1 60.2h0M232.1 63.3h0M235 55.7h0M220.2 65.4h0M233.8 37.5h0M213.6 42h0M198 53.4h0M232.9 51.1h0M230.8 72.7h0M182 31.4h0M208.9 71.4h0M172.9 46.2h0M169.7 67.3h0M177.9 53.5h0M229.3 62.8h0M182 53h0M173.9 52.7h0M233.4 44.9h0M175.8 84.4h0M203.5 43.6h0M198.7 39.3h0M205.9 48.3h0M176.7 64.2h0M202.7 43.6h0M177.5 51.3h0M195.5 59.8h0M219.2 48.7h0M179.5 49.2h0M169.2 37.7h0M214.8 60.8h0M229.5 68.8h0M180.1 68.5h0M174.2 79.3h0M181.6 44.6h0M176.5 59.4h0M205.8 51.4h0M208.4 46.9h0M177.1 58.3h0M184.9 52.6h0M224.6 58.1h0M206.2 58.8h0M204.3 48.9h0M224.2 44.6h0M196.3 43.2h0M180.5 67h0M178.8 39.2h0M205.1 55.3h0M214.4 43.4h0M224.2 55.2h0M218.5 53.5h0M218.3 55.3h0M172.8 62.9h0M198.4 56.1h0M219.7 56h0M171.3 51.1h0M169.5 46.5h0M210.5 55.8h0M181.6 53.9h0M208.7 60.2h0M169.5 45h0M171.9 53.4h0M170.4 47.7h0M210.9 43.6h0M212.5 38h0M207.8 47.8h0M232.2 50.5h0M188.3 51.9h0M189.8 83.9h0M227.2 68.7h0M209 43.8h0M192.5 52.6h0M194.3 60.8h0M190.3 74.1h0M205 25.5h0M191.6 48.1h0M195.7 25.4h0M214.1 53.5h0M208.8 59.2h0M204.8 53.9h0M170.9 37.3h0M208.4 60h0M197.2 71h0M187.5 61.9h0M224.7 68.6h0M218.2 49.1h0M233.7 54.1h0M175.1 70.4h0M196.1 38.2h0M221.9 50.5h0M181.4 31.6h0M183.4 55h0M191.2 55.3h0M171.8 46.8h0M217.4 60.5h0M224.7 48.8h0M180.1 68.3h0M177 55.1h0M214.9 67.5h0M233.6 53.2h0M237.3 51.9h0M209.1 54.5h0M207.8 37.8h0M173.7 24.3h0M196.5 29.3h0M218 64.7h0M230.5 46.6h0M218.5 85.7h0M203.8 63.6h0M202.8 66.9h0M233.2 50.3h0M221.8 25.3h0M183.6 43.8h0M234.4 79.9h0M226.5 59.9h0M213.1 47.7h0M225.8 61.6h0M220.5 49.3h0M193.3 77.6h0M218.8 42.6h0M196.1 60.7h0M171.4 55.7h0M196.3 70.9h0M207.3 52.6h0M223.1 45.7h0M206.4 51.9h0M177.5 42.8h0M195.8 47.8h0M224.4 59.6h0M193.6 52.8h0M217.4 48.2h0M191.4 51.8h0M182.3 48.4h0M232.9 35.8h0M176.2 50.5h0M223.5 72.9h0M214.7 49.7h0M173.1 71.7h0M170.2 50.7h0M186.7 71.8h0M217.5 21.9h0M223.7 81.9h0M195 58.2h0M231 68.2h0M177 66.9h0M224 37.2h0M218.9 68.1h0M193.2 59.6h0M238.5 50.9h0M194 39h0M187 60.1h0M214.3 55.9h0M207.5 77.9h0M181.2 69.2h0M193.8 37.9h0M226.5 49h0M193 60.6h0M223.2 26.5h0M210.3 49.6h0M223.2 37.8h0M185.3 49h0M230.8 75.7h0M177.2 54.7h0M210.2 77.4h0M237.1 32.6h0M177 57.8h0M183.4 41.7h0M171.3 61.3h0M217.2 41.3h0M206 47.3h0M187.8 37.9h0M219.1 54h0M205.1 48.6h0M189.4 58.8h0M183.9 52.4h0M190.6 78.8h0M229.2 54h0M195 54.7h0M212 68.5h0M222.2 54.6h0M187.3 55.2h0M217 54.3h0M200.7 28h0M233.7 65.3h0M180.2 65h0M172.3 57.6h0M199.3 70.7h0M199.5 56.8h0M182.5 55h0M225.8 45.5h0M222.4 75.4h0M217.3 41.9h0M215.5 53.4h0M218.1 48h0M224 57.2h0M202.1 35.9h0M185.7 61.2h0M179.1 58.7h0M192 49.1h0M207.2 38.9h0M237.4 61.5h0M229.4 59.4h0M206.7 64.1h0M174.2 72.3h0M179.4 64.9h0M185.2 46.7h0M178.3 60.3h0M196.2 56.3h0M217.5 70.8h0M171 66.8h0M184.5 55.8h0M233.2 42.8h0M203.7 50.5h0M206.1 47.2h0M210 69.9h0M215.8 48.2h0M185.2 57.9h0M216.9 62.8h0M175.9 55.6h0M225 53.4h0M224.3 57.3h0M191.8 52.5h0M222.8 39.8h0M178.8 74.8h0M230 60.5h0M203.1 51.7h0M202.3 66.2h0M182.3 44.1h0M225 50.8h0M203.4 45.2h0M188.8 61.3h0M183.8 55.8h0M210.1 56.6h0M172.7 67.4h0M195.4 54h0M173.5 50.3h0M230.7 48.7h0M196.3 53.5h0M174.2 36.4h0M205.1 30.6h0M185.5 76.5h0M211.2 63.3h0M226.1 83.6h0M209.4 36.3h0M228.1 53.4h0M211.4 51.6h0M225.4 30.9h0M197 62.9h0M217.8 60.6h0M192 64.8h0M220.5 58.7h0M230.4 28.2h0M189.8 42.7h0M203.3 28.5h0M199.5 63.3h0M179 61.3h0M193.2 81.5h0M194.2 43.9h0M229.1 45.9h0M218.3 63.8h0M178.6 58.5h0M179.6 58h0M188.5 60.9h0M211.5 70.1h0M185.5 44.8h0M179.6 63.7h0M215.3 50.4h0M194.3 51.4h0M202.8 55.4h0M225.9 55.8h0M235.4 33.9h0M218 47.3h0M219 64.2h0M212.2 77.3h0M207.3 53h0M177.3 39.2h0M207.4 58.3h0M183.8 68.8h0M190.8 31.8h0M204.4 60h0M232.3 49.9h0M179 63h0M196 80.1h0M182.7 60.2h0M225.4 71h0M185.9 58.2h0M201.8 42.5h0M196.7 67.8h0M211.1 22.5h0M176.1 68.1h0M214.7 46.9h0M218.9 60.4h0M188.3 36.9h0M237.7 60.4h0M217.6 57.1h0M181.2 38.5h0M192.2 84.7h0M177.5 57.5h0M196.5 75.6h0M170.9 64h0M218.5 63.3h0M237.7 61.7h0M234.4 37.1h0M181.9 85.3h0M202.9 69.8h0M211.7 65.3h0M204.7 57.5h0M208 56.1h0M174.5 46.7h0M204.2 50.9h0M210.1 48.3h0M206.8 52.9h0M237.9 44.7h0M209.5 55.1h0M206.7 88.2h0M212.6 61h0M173.9 64.2h0M210.2 69.4h0M210.6 60.6h0M224.6 45.8h0M197.8 51h0M221.9 53.4h0M198.1 42.1h0M177.8 52.8h0M194.2 68.5h0M237.1 52.3h0M206.1 55.4h0M214.7 49.2h0M171.6 46.7h0M229.5 58.9h0M209.1 55.9h0M192.2 36.2h0M229.2 61.1h0M218.3 52.3h0M169.4 59.1h0M194.6 75.8h0M211.2 57.5h0M183.3 57.1h0M219.2 61.4h0M177.1 56.4h0M219.9 54.7h0M226.4 56.2h0M200.3 55.9h0M178.4 46.7h0M209 72h0M216.1 54.4h0M202.4 56.2h0M223.4 40.4h0M238.6 32h0M205 55.9h0M224.7 60.5h0M238.1 68.1h0M236 43.9h0M175.8 57.4h0M216.8 64.5h0M209.5 62.4h0M184.7 60.2h0M219.2 59.9h0M189.6 54.7h0M171.8 53.4h0M223.6 40h0M216.6 52.7h0M174.8 60.9h0M189.2 59.7h0M190.1 57.8h0M196.7 51.6h0M171.5 52.6h0M182 46.9h0M238.2 73.4h0M220.8 59.8h0M226.6 55.7h0M235.2 68h0M200 26h0M196.5 62.5h0M215 60.6h0M179.3 53.3h0M201.8 51h0M230.7 51.7h0M199.9 58h0M172 64h0M181.4 48.4h0M220.6 40.6h0M238.5 61.6h0M192.3 55.9h0M213.6 44.8h0M220.9 53.2h0M170.2 52.6h0M175.2 49.4h0M214.2 21.5h0M206.6 68.3h0M210.1 40.4h0M172.1 62.3h0M198.8 54.1h0M207.3 53h0M188.3 43.1h0M202.1 61.3h0M204 64.3h0M198.5 58.1h0M182.4 68.1h0M235.1 57.6h0M233.6 58.9h0M199.5 68.6h0M193.8 55.5h0M219.6 66.8h0M218.3 56.1h0M227.8 23.7h0M179.8 54h0M193.4 68.4h0M227.9 55.1h0M200.9 44.9h0M193 63.8h0M216 63.7h0M218.7 55.6h0M183.6 37h0M181.3 66h0M177.1 41.9h0M175.9 53h0M180 28.2h0M204.5 63.6h0M179.7 58.5h0M175 71.6h0M235.3 49h0M189.8 43.6h0M191.6 74.1h0M172.7 78.8h0M202.3 66.8h0M211.7 57h0M221.4 66.1h0M229.8 56.8h0M225.5 53.5h0M171.9 60.2h0M178.3 41.3h0M198.5 51.8h0M216.2 51.5h0M237.5 50.5h0M235.9 49.5h0M234.7 58.8h0M224.7 61.9h0M208 69.3h0M176.8 38.7h0M229 50.1h0M173.5 55h0M214.3 52.6h0M222.3 51h0M206.5 58.2h0M207.5 22.4h0M223.7 52.3h0M185.5 72.6h0M230.9 42.2h0M220.5 27.1h0M215.3 59.5h0M236.3 59.1h0M220.6 70.3h0M227.1 40.8h0M193.5 57.5h0M184.1 41.3h0M172.4 66.4h0M229.3 60.7h0M230.9 67.5h0M204.1 54.7h0M234.1 56.6h0M191.8 64.1h0M237 57.8h0M200.7 34.7h0M203.4 42.3h0M175.2 50.8h0M176.1 34.6h0M227.8 41.8h0M184.1 41.7h0M173.2 61.6h0M179.7 55.4h0M235.7 51.8h0M219.1 62.3h0M188.9 44h0M198.4 78.1h0M195.8 51.3h0M225.5 55.8h0M236 54.7h0M181.4 45.5h0M177.2 63.9h0M189 22.5h0M232 35.7h0M188.1 87.5h0M194.6 52.5h0M216.8 73.4h0M232.4 33.7h0M183.1 54.3h0M187 51.3h0M217.4 30.2h0M234.5 46.7h0M212.5 67.3h0M194.5 59.7h0M228.4 69.1h0M224.3 65.1h0M182.7 78.3h0M199.4 47.1h0M176.2 29.2h0M207.6 56.5h0M205.5 48h0M211.3 43.2h0M235.8 54.8h0M193.5 45.2h0M225.3 41.5h0M179.6 55.9h0M175.8 61.9h0M234.8 66.7h0M170.7 49h0M213.5 69.4h0M238.5 36.8h0M198.3 68.5h0M182.2 57.9h0M173.5 54.3h0M182.8 61.1h0M193.2 46.8h0M213.2 54h0M202.9 63.5h0M169.7 42h0M186.6 57.1h0M226.5 71.9h0M223.4 73.1h0M202.9 55.7h0M181.9 56.5h0M169.5 51.4h0M183.9 68.3h0M207 76.5h0M197.8 59.8h0M175.7 71.2h0M212.3 42.8h0M219.1 55.5h0M208.2 50.5h0M220 66h0M186.6 58.9h0M211.2 52.5h0M230.4 62.5h0M176.5 70.6h0M226.8 55.9h0M170.9 63.3h0M172.4 76.8h0M206 55.5h0M208 40.5h0M196.8 36.1h0M223.1 47.7h0M194.7 52.5h0M189.8 56.9h0M187.2 61.3h0M172.8 57.4h0M208.7 54.6h0M219 54.9h0M208.8 70h0M198.8 63.8h0M220.9 53.7h0M193.8 69.4h0M238 77.4h0M197.3 50.6h0M179.4 45.4h0M232.4 53.1h0M221.1 45.1h0M209.5 48h0M178.7 61.6h0M229 60.2h0M192.3 74.9h0M187.8 59.7h0M222.3 74.5h0M234 43.1h0M232.5 60.9h0M190.5 39.8h0M238 50.6h0M229.4 53.1h0M185.2 52.8h0M237 63.5h0M185.3 58.6h0M226.2 55.9h0M203.3 64h0M189.3 57.5h0M198.1 47.2h0M169.4 67.9h0" stroke="#1c8ee2" stroke-opacity=".15" stroke-width="1.8" stroke-linecap="round" fill="none"/>
<path d="M63 50.5h1M70 53.5h1M30 53.5h1M38 62.5h1M33 52.5h1M37 58.5h1M95 57.5h1M54 57.5h1M64 52.5h1M47 57.5h1M38 57.5h1M64 53.5h1M85 49.5h1M70 60.5h1M45 56.5h1M84 54.5h1M89 52.5h1M37 57.5h1M91 54.5h1M58 56.5h1M38 51.5h1M91 62.5h1M43 55.5h1M30 49.5h1M42 67.5h1M52 53.5h1M61 55.5h1M77 53.5h1M52 49.5h1M29 50.5h1M39 56.5h1M60 56.5h1M77 55.5h1M32 53.5h1M30 57.5h1M87 55.5h1M50 45.5h1M50 61.5h1M40 51.5h1M61 51.5h1M37 53.5h1M80 58.5h1M42 59.5h1M91 59.5h1M30 56.5h1M85 57.5h1M35 58.5h1M29 55.5h1M49 49.5h1M63 54.5h1M97 58.5h1M94 53.5h1M52 52.5h1M59 51.5h1M50 48.5h1M81 52.5h1M31 52.5h1M33 58.5h1M56 56.5h1M45 52.5h1M80 58.5h1M66 52.5h1M75 64.5h1M77 55.5h1M93 63.5h1M39 60.5h1M59 56.5h1M91 57.5h1M30 60.5h1M53 55.5h1M39 53.5h1M98 55.5h1M38 59.5h1M45 55.5h1M53 50.5h1M32 57.5h1M89 58.5h1M73 56.5h1M71 51.5h1M67 54.5h1M51 56.5h1M50 54.5h1M92 59.5h1M36 52.5h1M96 59.5h1M77 55.5h1M33 61.5h1M85 49.5h1M38 57.5h1M31 58.5h1M79 49.5h1M85 54.5h1M81 53.5h1M47 54.5h1M46 52.5h1M38 55.5h1M63 61.5h1M71 55.5h1M80 60.5h1M48 55.5h1M84 60.5h1M64 60.5h1M97 48.5h1M35 47.5h1M30 55.5h1M39 57.5h1M84 57.5h1M83 64.5h1M73 53.5h1M49 60.5h1M73 55.5h1M81 58.5h1M55 64.5h1M80 47.5h1M67 54.5h1M83 58.5h1M68 55.5h1M78 60.5h1M63 48.5h1M90 56.5h1M36 54.5h1M90 57.5h1M54 56.5h1M34 59.5h1M60 61.5h1M58 64.5h1M88 59.5h1M38 54.5h1M71 52.5h1M65 54.5h1M63 45.5h1M64 52.5h1M40 50.5h1M29 60.5h1M97 55.5h1M98 52.5h1M66 64.5h1M36 56.5h1M57 54.5h1M78 53.5h1M46 53.5h1M82 59.5h1M59 58.5h1M57 61.5h1M96 55.5h1M34 55.5h1M53 61.5h1M32 59.5h1M43 56.5h1M80 52.5h1M60 47.5h1M92 60.5h1M54 52.5h1M90 53.5h1M93 56.5h1M80 53.5h1M39 53.5h1M68 55.5h1M34 59.5h1M75 59.5h1M36 57.5h1M89 55.5h1M54 50.5h1M49 58.5h1M77 60.5h1M96 55.5h1M40 51.5h1M62 54.5h1M39 59.5h1M62 57.5h1M51 50.5h1M30 53.5h1M56 54.5h1M69 50.5h1M91 56.5h1M94 55.5h1M62 58.5h1M56 52.5h1M56 57.5h1M45 59.5h1M59 50.5h1M54 58.5h1M39 53.5h1M70 53.5h1M89 50.5h1M57 49.5h1M30 52.5h1M37 55.5h1M68 57.5h1M54 54.5h1M41 55.5h1M69 50.5h1M50 54.5h1M67 50.5h1M95 51.5h1M74 44.5h1M59 63.5h1M43 58.5h1M94 53.5h1M86 51.5h1M93 50.5h1M57 54.5h1M59 60.5h1M64 50.5h1M82 58.5h1M33 61.5h1M76 49.5h1M31 53.5h1M45 55.5h1M79 54.5h1M76 55.5h1M86 51.5h1M47 53.5h1M30 53.5h1M45 62.5h1M29 51.5h1M55 56.5h1M35 55.5h1M55 46.5h1M44 51.5h1M48 53.5h1M47 55.5h1M76 53.5h1M90 55.5h1M49 55.5h1M54 54.5h1M78 52.5h1M84 57.5h1M71 60.5h1M41 54.5h1M81 56.5h1M91 55.5h1M83 59.5h1M58 51.5h1M37 55.5h1M91 61.5h1M77 61.5h1M69 58.5h1M76 45.5h1M55 51.5h1M52 57.5h1M62 61.5h1M78 60.5h1M94 61.5h1M88 59.5h1M54 56.5h1M93 56.5h1M56 55.5h1M84 66.5h1M35 49.5h1M39 58.5h1M72 54.5h1M87 48.5h1M67 58.5h1M96 52.5h1M41 60.5h1M65 51.5h1M51 49.5h1M73 53.5h1M54 54.5h1M91 55.5h1M60 58.5h1M46 56.5h1M95 58.5h1M70 50.5h1M97 58.5h1M40 56.5h1M94 50.5h1M68 55.5h1M60 52.5h1M44 57.5h1M30 51.5h1M76 52.5h1M61 59.5h1M92 56.5h1M47 48.5h1M97 53.5h1M96 63.5h1M39 53.5h1M40 53.5h1M53 52.5h1M36 55.5h1M94 60.5h1M53 63.5h1M72 54.5h1M80 47.5h1M48 53.5h1M44 60.5h1M50 59.5h1M51 49.5h1M51 54.5h1M86 61.5h1M32 55.5h1M43 52.5h1M93 50.5h1M45 55.5h1M84 61.5h1M45 52.5h1M62 54.5h1M31 54.5h1M92 55.5h1M69 57.5h1M83 52.5h1M51 48.5h1M97 50.5h1M60 51.5h1M39 52.5h1M65 55.5h1M70 58.5h1M31 56.5h1M75 65.5h1M64 45.5h1M85 57.5h1M38 50.5h1M59 50.5h1M51 58.5h1M72 57.5h1M88 51.5h1M35 57.5h1M50 61.5h1M36 49.5h1M60 55.5h1M61 55.5h1M47 56.5h1M90 57.5h1M48 60.5h1M94 57.5h1M39 57.5h1M48 55.5h1M93 50.5h1M52 56.5h1M31 56.5h1M80 54.5h1M81 54.5h1M56 54.5h1M63 56.5h1M29 58.5h1M47 51.5h1M86 58.5h1M94 52.5h1M73 55.5h1M69 53.5h1M81 52.5h1M84 59.5h1M59 61.5h1M33 54.5h1M50 49.5h1M52 45.5h1M78 57.5h1M71 57.5h1M95 52.5h1M34 55.5h1M41 62.5h1M33 59.5h1M43 53.5h1M62 58.5h1M35 49.5h1M40 58.5h1M62 59.5h1M89 59.5h1M78 57.5h1M42 55.5h1M31 48.5h1M59 55.5h1M76 56.5h1M34 54.5h1M46 57.5h1M68 53.5h1M36 57.5h1M68 55.5h1M68 54.5h1M97 52.5h1M69 60.5h1M77 50.5h1M70 54.5h1M50 49.5h1M53 63.5h1M39 54.5h1M88 61.5h1M81 54.5h1M48 55.5h1M57 58.5h1M40 54.5h1M87 61.5h1M46 59.5h1M77 63.5h1M66 50.5h1M36 52.5h1M52 50.5h1M53 54.5h1M78 58.5h1M62 55.5h1M36 53.5h1M48 56.5h1M88 58.5h1M89 59.5h1M89 58.5h1M43 52.5h1M47 59.5h1M77 57.5h1M50 55.5h1M78 48.5h1M43 57.5h1M89 61.5h1M51 52.5h1M36 57.5h1M47 57.5h1M87 62.5h1M88 50.5h1M30 58.5h1M46 52.5h1M53 56.5h1M56 62.5h1M88 55.5h1M71 54.5h1M55 55.5h1M85 60.5h1M63 52.5h1M92 61.5h1M71 55.5h1M59 50.5h1M47 48.5h1M44 56.5h1M59 57.5h1M90 54.5h1M66 55.5h1M43 57.5h1M75 45.5h1M79 48.5h1M30 55.5h1M49 59.5h1M42 50.5h1M66 49.5h1M85 55.5h1M37 56.5h1M68 54.5h1M51 59.5h1M69 58.5h1M56 53.5h1M36 52.5h1M37 56.5h1M40 56.5h1M45 58.5h1M70 63.5h1M86 48.5h1M35 52.5h1M34 57.5h1M57 63.5h1M34 52.5h1M55 58.5h1M82 55.5h1M48 53.5h1M44 58.5h1M48 52.5h1M61 56.5h1M60 53.5h1M69 53.5h1M68 49.5h1M69 54.5h1M32 53.5h1M90 60.5h1M66 60.5h1M98 54.5h1M44 54.5h1M75 59.5h1M72 53.5h1M52 58.5h1M34 57.5h1M62 53.5h1M60 58.5h1M68 61.5h1M37 48.5h1M49 57.5h1M32 50.5h1M34 59.5h1M60 53.5h1M30 56.5h1M44 50.5h1M70 53.5h1M69 54.5h1M70 63.5h1M76 50.5h1M34 51.5h1M46 57.5h1M51 57.5h1M57 52.5h1M70 55.5h1M64 61.5h1M72 56.5h1M39 54.5h1M53 52.5h1M94 53.5h1M34 59.5h1M71 52.5h1M56 62.5h1M37 52.5h1M68 51.5h1M89 60.5h1M84 59.5h1M66 59.5h1M65 58.5h1M31 59.5h1M49 47.5h1M83 53.5h1M79 48.5h1M58 55.5h1M29 51.5h1M74 51.5h1M57 45.5h1M36 62.5h1M59 58.5h1M50 58.5h1M47 62.5h1M56 48.5h1M94 55.5h1M93 53.5h1M89 50.5h1M76 56.5h1M91 51.5h1M81 55.5h1M76 54.5h1M58 57.5h1M96 47.5h1M90 59.5h1M95 58.5h1M98 61.5h1M31 54.5h1M51 58.5h1M75 57.5h1M37 55.5h1M46 58.5h1M49 49.5h1M39 50.5h1M67 60.5h1M40 58.5h1M81 49.5h1M69 46.5h1M85 57.5h1M81 54.5h1M80 53.5h1M66 55.5h1M52 53.5h1M53 51.5h1M52 51.5h1M76 56.5h1M44 54.5h1M77 55.5h1M85 53.5h1M62 49.5h1M52 50.5h1M68 51.5h1M34 60.5h1M94 62.5h1M29 56.5h1M57 53.5h1M86 55.5h1M41 59.5h1M50 53.5h1M58 48.5h1M93 61.5h1M93 54.5h1M90 56.5h1M79 51.5h1M76 53.5h1M69 54.5h1M42 57.5h1M68 56.5h1M75 55.5h1M62 56.5h1M79 59.5h1M34 56.5h1M37 52.5h1M51 51.5h1M51 63.5h1M42 56.5h1M82 56.5h1M54 57.5h1M89 59.5h1M45 50.5h1M77 57.5h1M53 56.5h1M88 57.5h1M76 66.5h1M81 59.5h1M80 57.5h1M29 55.5h1M81 59.5h1M96 49.5h1M91 53.5h1M59 52.5h1M123 52.5h1M103 74.5h1M145 60.5h1M158 59.5h1M124 54.5h1M116 75.5h1M129 61.5h1M129 52.5h1M117 47.5h1M112 63.5h1M154 57.5h1M145 54.5h1M141 53.5h1M130 72.5h1M165 54.5h1M166 56.5h1M114 46.5h1M114 56.5h1M153 57.5h1M166 40.5h1M102 69.5h1M136 54.5h1M129 51.5h1M165 51.5h1M159 58.5h1M141 74.5h1M135 52.5h1M143 65.5h1M117 61.5h1M168 56.5h1M135 56.5h1M101 48.5h1M152 81.5h1M138 70.5h1M140 63.5h1M159 62.5h1M145 62.5h1M143 46.5h1M151 63.5h1M128 58.5h1M155 58.5h1M149 36.5h1M105 65.5h1M149 72.5h1M161 51.5h1M129 22.5h1M107 48.5h1M138 48.5h1M139 37.5h1M140 66.5h1M147 46.5h1M151 55.5h1M132 63.5h1M154 57.5h1M148 67.5h1M126 53.5h1M136 51.5h1M117 63.5h1M128 59.5h1M128 56.5h1M143 57.5h1M113 55.5h1M161 54.5h1M164 48.5h1M114 44.5h1M156 61.5h1M100 55.5h1M116 61.5h1M144 67.5h1M114 23.5h1M141 64.5h1M107 60.5h1M116 56.5h1M106 65.5h1M118 47.5h1M161 48.5h1M99 56.5h1M121 50.5h1M139 50.5h1M134 65.5h1M122 43.5h1M148 57.5h1M151 56.5h1M143 42.5h1M134 35.5h1M127 52.5h1M125 57.5h1M153 46.5h1M139 54.5h1M120 63.5h1M112 63.5h1M112 48.5h1M127 48.5h1M136 55.5h1M157 44.5h1M146 53.5h1M115 47.5h1M159 66.5h1M151 66.5h1M149 46.5h1M156 48.5h1M164 65.5h1M164 62.5h1M112 50.5h1M122 71.5h1M143 51.5h1M109 49.5h1M133 42.5h1M147 57.5h1M166 47.5h1M139 60.5h1M117 68.5h1M138 62.5h1M149 54.5h1M131 57.5h1M100 62.5h1M159 65.5h1M112 56.5h1M145 39.5h1M119 51.5h1M156 48.5h1M124 50.5h1M160 59.5h1M167 33.5h1M135 60.5h1M156 36.5h1M145 48.5h1M136 62.5h1M161 66.5h1M138 55.5h1M154 39.5h1M157 67.5h1M136 47.5h1M144 50.5h1M159 50.5h1M121 57.5h1M167 53.5h1M151 55.5h1M163 63.5h1M116 46.5h1M130 51.5h1M166 43.5h1M155 67.5h1M124 47.5h1M132 46.5h1M102 69.5h1M134 52.5h1M162 56.5h1M101 64.5h1M131 49.5h1M105 66.5h1M147 64.5h1M129 51.5h1M139 55.5h1M134 50.5h1M102 55.5h1M138 55.5h1M165 70.5h1M128 59.5h1M153 26.5h1M148 40.5h1M123 66.5h1M102 53.5h1M104 57.5h1M103 61.5h1M136 40.5h1M146 60.5h1M122 57.5h1M145 59.5h1M102 56.5h1M117 49.5h1M164 64.5h1M144 57.5h1M154 69.5h1M130 46.5h1M143 48.5h1M121 58.5h1M103 53.5h1M160 82.5h1M141 55.5h1M113 71.5h1M105 43.5h1M121 58.5h1M157 59.5h1M111 40.5h1M100 68.5h1M158 53.5h1M116 59.5h1M139 53.5h1M115 63.5h1M167 51.5h1M116 36.5h1M113 61.5h1M119 44.5h1M159 52.5h1M165 50.5h1M129 58.5h1M111 44.5h1M126 50.5h1M135 61.5h1M109 58.5h1M156 49.5h1M105 56.5h1M140 48.5h1M155 50.5h1M153 53.5h1M165 24.5h1M157 46.5h1M145 64.5h1M152 52.5h1M162 60.5h1M129 45.5h1M110 49.5h1M165 69.5h1M101 54.5h1M169 82.5h1M151 48.5h1M103 59.5h1M111 52.5h1M143 52.5h1M149 46.5h1M148 56.5h1M123 56.5h1M158 45.5h1M165 53.5h1M110 51.5h1M168 43.5h1M138 58.5h1M157 55.5h1M129 57.5h1M154 37.5h1M132 53.5h1M161 32.5h1M99 59.5h1M99 51.5h1M105 56.5h1M149 25.5h1M118 57.5h1M129 78.5h1M142 54.5h1M161 47.5h1M160 60.5h1M120 62.5h1M168 30.5h1M165 56.5h1M155 61.5h1M167 52.5h1M154 47.5h1M101 59.5h1M152 53.5h1M127 54.5h1M117 66.5h1M132 47.5h1M160 41.5h1M159 51.5h1M148 59.5h1M159 58.5h1M149 68.5h1M142 54.5h1M161 59.5h1M131 67.5h1M118 36.5h1M117 44.5h1M146 56.5h1M165 55.5h1M128 58.5h1M137 57.5h1M133 57.5h1M131 62.5h1M158 80.5h1M122 50.5h1M168 47.5h1M157 71.5h1M160 52.5h1M127 60.5h1M107 61.5h1M134 61.5h1M110 67.5h1M145 57.5h1M131 50.5h1M140 55.5h1M130 64.5h1M138 62.5h1M165 52.5h1M136 54.5h1M109 57.5h1M123 52.5h1M153 58.5h1M149 53.5h1M131 59.5h1M142 55.5h1M128 64.5h1M131 50.5h1M132 53.5h1M153 50.5h1M106 66.5h1M115 54.5h1M116 55.5h1M129 56.5h1M145 71.5h1M162 63.5h1M168 69.5h1M135 45.5h1M151 55.5h1M161 47.5h1M156 60.5h1M153 55.5h1M167 58.5h1M156 54.5h1M139 62.5h1M115 48.5h1M148 55.5h1M109 52.5h1M148 44.5h1M117 54.5h1M110 86.5h1M159 62.5h1M107 56.5h1M158 58.5h1M141 42.5h1M115 54.5h1M140 51.5h1M117 68.5h1M100 64.5h1M117 60.5h1M150 55.5h1M156 58.5h1M165 71.5h1M101 52.5h1M103 55.5h1M135 68.5h1M147 57.5h1M129 74.5h1M121 63.5h1M166 49.5h1M115 55.5h1M103 56.5h1M150 52.5h1M99 56.5h1M113 56.5h1M152 53.5h1M130 38.5h1M132 55.5h1M165 54.5h1M131 56.5h1M119 62.5h1M126 45.5h1M167 69.5h1M136 42.5h1M111 83.5h1M134 50.5h1M142 59.5h1M103 57.5h1M118 47.5h1M149 51.5h1M154 61.5h1M154 58.5h1M126 52.5h1M155 53.5h1M105 47.5h1M136 53.5h1M113 64.5h1M129 47.5h1M126 56.5h1M167 49.5h1M128 54.5h1M151 70.5h1M114 49.5h1M104 61.5h1M159 67.5h1M156 40.5h1M114 44.5h1M101 55.5h1M150 51.5h1M139 74.5h1M129 73.5h1M129 55.5h1M124 57.5h1M126 85.5h1M116 60.5h1M147 58.5h1M155 53.5h1M100 68.5h1M165 53.5h1M143 50.5h1M102 63.5h1M103 56.5h1M157 63.5h1M163 61.5h1M128 55.5h1M105 35.5h1M114 59.5h1M133 53.5h1M104 56.5h1M134 73.5h1M104 63.5h1M140 66.5h1M120 61.5h1M122 58.5h1M122 56.5h1M121 59.5h1M150 53.5h1M158 64.5h1M146 49.5h1M148 56.5h1M104 45.5h1M102 56.5h1M168 62.5h1M131 70.5h1M166 36.5h1M121 28.5h1M132 71.5h1M146 63.5h1M132 55.5h1M157 56.5h1M115 49.5h1M169 80.5h1M101 47.5h1M151 53.5h1M129 68.5h1M148 61.5h1M123 63.5h1M157 52.5h1M121 53.5h1M144 48.5h1M118 75.5h1M164 76.5h1M114 57.5h1M147 61.5h1M147 59.5h1M125 75.5h1M130 55.5h1M115 53.5h1M163 53.5h1M116 41.5h1M124 49.5h1M142 49.5h1M121 55.5h1M136 47.5h1M116 61.5h1M137 64.5h1M113 58.5h1M108 43.5h1M123 59.5h1M115 62.5h1M106 64.5h1M157 56.5h1M159 63.5h1M106 55.5h1M103 57.5h1M166 56.5h1M105 58.5h1M141 59.5h1M154 45.5h1M125 40.5h1M142 54.5h1M131 48.5h1M123 48.5h1M116 53.5h1M148 49.5h1M137 62.5h1M134 48.5h1M129 53.5h1M143 56.5h1M103 53.5h1M104 48.5h1M105 59.5h1M120 57.5h1M123 47.5h1M147 56.5h1M150 59.5h1M142 60.5h1M129 76.5h1M140 55.5h1M154 44.5h1M139 45.5h1M149 81.5h1M100 48.5h1M133 56.5h1M108 55.5h1M163 71.5h1M123 57.5h1M146 56.5h1M117 64.5h1M153 39.5h1M108 64.5h1M103 39.5h1M100 61.5h1M156 69.5h1M147 30.5h1M145 55.5h1M163 63.5h1M101 57.5h1M103 58.5h1M102 52.5h1M106 54.5h1M106 45.5h1M121 56.5h1M131 53.5h1M150 60.5h1M127 52.5h1M168 60.5h1M128 42.5h1M119 45.5h1M153 54.5h1M103 55.5h1M160 58.5h1M122 67.5h1M163 54.5h1M106 58.5h1M120 61.5h1M142 61.5h1M144 56.5h1M131 65.5h1M123 39.5h1M152 45.5h1M156 57.5h1M161 83.5h1M154 45.5h1M143 58.5h1M153 49.5h1M114 41.5h1M137 55.5h1M125 46.5h1M110 54.5h1M166 46.5h1M114 33.5h1M114 60.5h1M126 54.5h1M138 59.5h1M134 53.5h1M146 81.5h1M123 58.5h1M108 67.5h1M136 37.5h1M127 60.5h1M149 47.5h1M123 48.5h1M165 70.5h1M168 50.5h1M151 46.5h1M136 71.5h1M102 69.5h1M146 61.5h1M126 66.5h1M108 50.5h1M108 71.5h1M142 44.5h1M137 68.5h1M107 59.5h1M165 40.5h1M109 58.5h1M104 53.5h1M139 56.5h1M158 55.5h1M129 51.5h1M147 47.5h1M106 56.5h1M145 54.5h1M100 59.5h1M100 62.5h1M139 59.5h1M116 54.5h1M143 60.5h1M147 61.5h1M153 54.5h1M114 74.5h1M106 49.5h1M141 44.5h1M105 67.5h1M105 50.5h1M120 61.5h1M105 47.5h1M101 50.5h1M133 50.5h1M161 56.5h1M126 68.5h1M144 38.5h1M125 61.5h1M151 56.5h1M159 62.5h1M130 50.5h1M206 40.5h1M216 57.5h1M237 73.5h1M177 67.5h1M178 47.5h1M213 70.5h1M227 23.5h1M186 71.5h1M227 45.5h1M198 68.5h1M208 40.5h1M182 45.5h1M171 75.5h1M206 61.5h1M238 54.5h1M225 72.5h1M186 43.5h1M223 54.5h1M237 48.5h1M183 69.5h1M193 41.5h1M211 78.5h1M227 33.5h1M172 52.5h1M198 60.5h1M175 37.5h1M236 44.5h1M221 57.5h1M236 64.5h1M184 31.5h1M203 86.5h1M173 52.5h1M234 47.5h1M230 57.5h1M226 55.5h1M208 40.5h1M170 51.5h1M190 63.5h1M196 61.5h1M190 62.5h1M203 54.5h1M229 23.5h1M203 23.5h1M231 50.5h1M170 50.5h1M205 43.5h1M185 59.5h1M233 69.5h1M232 76.5h1M209 54.5h1M175 58.5h1M177 53.5h1M175 43.5h1M190 72.5h1M200 51.5h1M228 48.5h1M174 31.5h1M222 51.5h1M203 65.5h1M189 71.5h1M206 50.5h1M233 67.5h1M190 47.5h1M200 64.5h1M233 62.5h1M219 58.5h1M175 70.5h1M216 57.5h1M207 60.5h1M207 58.5h1M181 39.5h1M211 63.5h1M175 46.5h1M236 47.5h1M184 52.5h1M223 56.5h1M225 88.5h1M208 65.5h1M174 64.5h1M227 21.5h1M187 58.5h1M174 54.5h1M186 42.5h1M195 42.5h1M232 53.5h1M183 61.5h1M184 48.5h1M180 77.5h1M233 64.5h1M192 64.5h1M234 51.5h1M192 54.5h1M217 63.5h1M186 59.5h1M185 53.5h1M176 55.5h1M194 37.5h1M235 61.5h1M194 52.5h1M198 49.5h1M226 64.5h1M184 57.5h1M187 65.5h1M181 55.5h1M237 46.5h1M180 47.5h1M173 54.5h1M235 61.5h1M238 86.5h1M205 61.5h1M174 43.5h1M172 55.5h1M186 50.5h1M237 46.5h1M224 48.5h1M177 47.5h1M220 51.5h1M171 56.5h1M238 68.5h1M226 26.5h1M205 66.5h1M220 55.5h1M223 53.5h1M224 47.5h1M169 58.5h1M191 65.5h1M230 49.5h1M183 53.5h1M214 53.5h1M204 50.5h1M174 47.5h1M238 51.5h1M195 59.5h1M214 49.5h1M182 62.5h1M189 61.5h1M194 50.5h1M181 50.5h1M171 55.5h1M237 42.5h1M189 58.5h1M216 52.5h1M197 63.5h1M188 79.5h1M221 53.5h1M196 78.5h1M194 53.5h1M217 61.5h1M225 49.5h1M220 38.5h1M181 42.5h1M174 59.5h1M183 44.5h1M222 56.5h1M236 64.5h1M169 30.5h1M174 41.5h1M171 66.5h1M220 68.5h1M204 51.5h1M205 56.5h1M169 45.5h1M212 55.5h1M215 65.5h1M211 59.5h1M227 67.5h1M229 59.5h1M189 53.5h1M237 68.5h1M169 54.5h1M200 63.5h1M224 53.5h1M196 49.5h1M184 74.5h1M192 58.5h1M223 70.5h1M171 52.5h1M221 58.5h1M197 46.5h1M188 53.5h1M221 38.5h1M170 62.5h1M172 63.5h1M204 45.5h1M187 53.5h1M195 62.5h1M203 30.5h1M174 42.5h1M176 49.5h1M194 61.5h1M176 66.5h1M213 71.5h1M227 67.5h1M223 74.5h1M172 74.5h1M196 70.5h1M235 53.5h1M223 65.5h1M210 56.5h1M195 53.5h1M183 72.5h1M171 54.5h1M184 58.5h1M181 52.5h1M216 48.5h1M197 34.5h1M238 42.5h1M230 59.5h1M227 70.5h1M214 48.5h1M179 46.5h1M209 52.5h1M212 43.5h1M211 55.5h1M180 52.5h1M177 41.5h1M222 48.5h1M206 53.5h1M214 71.5h1M212 57.5h1M236 56.5h1M192 81.5h1M195 62.5h1M201 63.5h1M230 54.5h1M219 46.5h1M180 59.5h1M203 72.5h1M176 48.5h1M186 49.5h1M211 65.5h1M191 53.5h1M234 65.5h1M176 61.5h1M190 66.5h1M189 66.5h1M179 63.5h1M237 40.5h1M232 63.5h1M189 57.5h1M224 48.5h1M169 64.5h1M212 70.5h1M186 60.5h1M232 63.5h1M213 42.5h1M182 31.5h1M172 46.5h1M169 67.5h1M229 62.5h1M182 53.5h1M173 52.5h1M175 84.5h1M198 39.5h1M205 48.5h1M176 64.5h1M177 51.5h1M219 48.5h1M169 37.5h1M214 60.5h1M229 68.5h1M180 68.5h1M181 44.5h1M205 51.5h1M208 46.5h1M224 58.5h1M206 58.5h1M224 44.5h1M196 43.5h1M180 66.5h1M205 55.5h1M214 43.5h1M218 53.5h1M218 55.5h1M198 56.5h1M171 51.5h1M181 53.5h1M171 53.5h1M170 47.5h1M212 38.5h1M207 47.5h1M232 50.5h1M188 51.5h1M227 68.5h1M190 74.5h1M195 25.5h1M214 53.5h1M208 59.5h1M208 60.5h1M197 70.5h1M187 61.5h1M218 49.5h1M175 70.5h1M196 38.5h1M221 50.5h1M181 31.5h1M183 54.5h1M224 48.5h1M180 68.5h1M233 53.5h1M237 51.5h1M207 37.5h1M173 24.5h1M217 64.5h1M230 46.5h1M203 63.5h1M202 66.5h1M233 50.5h1M183 43.5h1M234 79.5h1M226 59.5h1M213 47.5h1M220 49.5h1M193 77.5h1M218 42.5h1M224 59.5h1M191 51.5h1M214 49.5h1M173 71.5h1M170 50.5h1M217 21.5h1M223 81.5h1M230 68.5h1M223 37.5h1M187 60.5h1M214 55.5h1M181 69.5h1M193 37.5h1M226 48.5h1M193 60.5h1M223 26.5h1M210 49.5h1M223 37.5h1M230 75.5h1M177 54.5h1M183 41.5h1M171 61.5h1M217 41.5h1M205 47.5h1M187 37.5h1M205 48.5h1M189 58.5h1M183 52.5h1M229 54.5h1M187 55.5h1M217 54.5h1M200 28.5h1M233 65.5h1M172 57.5h1M199 70.5h1M199 56.5h1M182 54.5h1M217 41.5h1M224 57.5h1M191 49.5h1M207 38.5h1M237 61.5h1M174 72.5h1M179 64.5h1M185 46.5h1M171 66.5h1M184 55.5h1M233 42.5h1M203 50.5h1M206 47.5h1M210 69.5h1M185 57.5h1M216 62.5h1M224 57.5h1M222 39.5h1M178 74.5h1M203 51.5h1M182 44.5h1M203 45.5h1M188 61.5h1M210 56.5h1M172 67.5h1M195 53.5h1M230 48.5h1M196 53.5h1M174 36.5h1M185 76.5h1M211 63.5h1M226 83.5h1M209 36.5h1M211 51.5h1M225 30.5h1M197 62.5h1M217 60.5h1M192 64.5h1M220 58.5h1M203 28.5h1M199 63.5h1M193 81.5h1M194 43.5h1M229 45.5h1M178 58.5h1M179 58.5h1M188 60.5h1M211 70.5h1M185 44.5h1M215 50.5h1M202 55.5h1M225 55.5h1M219 64.5h1M212 77.5h1M207 52.5h1M177 39.5h1M183 68.5h1M190 31.5h1M204 59.5h1M232 49.5h1M225 70.5h1M211 22.5h1M214 46.5h1M218 60.5h1M188 36.5h1M237 60.5h1M217 57.5h1M181 38.5h1M192 84.5h1M196 75.5h1M170 63.5h1M218 63.5h1M211 65.5h1M204 57.5h1M174 46.5h1M206 52.5h1M210 69.5h1M210 60.5h1M224 45.5h1M197 51.5h1M198 42.5h1M177 52.5h1M194 68.5h1M206 55.5h1M229 61.5h1M218 52.5h1M169 59.5h1M211 57.5h1M183 57.5h1M177 56.5h1M219 54.5h1M226 56.5h1M178 46.5h1M209 72.5h1M216 54.5h1M223 40.5h1M238 31.5h1M205 55.5h1M236 43.5h1M175 57.5h1M209 62.5h1M189 54.5h1M171 53.5h1M216 52.5h1M174 60.5h1M189 59.5h1M171 52.5h1M181 46.5h1M220 59.5h1M214 60.5h1M179 53.5h1M230 51.5h1M199 57.5h1M171 64.5h1M181 48.5h1M220 53.5h1M175 49.5h1M206 68.5h1M210 40.5h1M198 54.5h1M207 53.5h1M202 61.5h1M203 64.5h1M198 58.5h1M182 68.5h1M233 58.5h1M199 68.5h1M218 56.5h1M227 23.5h1M179 54.5h1M193 68.5h1M227 55.5h1M183 36.5h1M181 66.5h1M175 53.5h1M180 28.5h1M204 63.5h1M179 58.5h1M175 71.5h1M235 48.5h1M191 74.5h1M202 66.5h1M211 56.5h1M225 53.5h1M178 41.5h1M216 51.5h1M237 50.5h1M234 58.5h1M224 61.5h1M229 50.5h1M214 52.5h1M206 58.5h1M207 22.5h1M223 52.5h1M185 72.5h1M230 42.5h1M215 59.5h1M236 59.5h1M220 70.5h1M227 40.5h1M230 67.5h1M234 56.5h1M191 64.5h1M237 57.5h1M200 34.5h1M203 42.5h1M175 50.5h1M173 61.5h1M179 55.5h1M235 51.5h1M219 62.5h1M188 44.5h1M198 78.5h1M195 51.5h1M225 55.5h1M181 45.5h1M177 63.5h1M188 87.5h1M194 52.5h1M216 73.5h1M183 54.5h1M187 51.5h1M217 30.5h1M212 67.5h1M194 59.5h1M228 69.5h1M182 78.5h1M176 29.5h1M207 56.5h1M205 48.5h1M193 45.5h1M179 55.5h1M213 69.5h1M198 68.5h1M182 57.5h1M213 54.5h1M223 73.5h1M202 55.5h1M181 56.5h1M169 51.5h1M183 68.5h1M175 71.5h1M212 42.5h1M208 50.5h1M186 58.5h1M211 52.5h1M230 62.5h1M176 70.5h1M170 63.5h1M196 36.5h1M189 56.5h1M187 61.5h1M172 57.5h1M208 70.5h1M198 63.5h1M193 69.5h1M238 77.5h1M197 50.5h1M221 45.5h1M178 61.5h1M192 74.5h1M187 59.5h1M234 43.5h1M232 60.5h1M190 39.5h1M229 53.5h1M185 52.5h1M185 58.5h1M226 55.5h1M198 47.5h1" stroke="#5a94c8" stroke-opacity=".18" stroke-width="1" fill="none" shape-rendering="crispEdges"/>
<path d="M37 68.5h1M93 53.5h1M72 53.5h1M75 59.5h1M83 54.5h1M75 47.5h1M67 56.5h1M42 55.5h1M67 55.5h1M62 49.5h1M53 49.5h1M61 53.5h1M47 49.5h1M34 56.5h1M92 48.5h1M98 53.5h1M69 56.5h1M34 58.5h1M30 53.5h1M87 54.5h1M32 56.5h1M79 54.5h1M88 56.5h1M43 55.5h1M50 58.5h1M46 55.5h1M87 52.5h1M83 52.5h1M72 50.5h1M38 57.5h1M81 58.5h1M34 56.5h1M44 49.5h1M36 61.5h1M73 48.5h1M53 54.5h1M56 60.5h1M34 52.5h1M92 47.5h1M61 60.5h1M84 50.5h1M84 54.5h1M55 53.5h1M48 61.5h1M70 58.5h1M45 58.5h1M72 59.5h1M57 58.5h1M67 59.5h1M75 62.5h1M51 46.5h1M91 54.5h1M39 55.5h1M90 58.5h1M77 56.5h1M60 58.5h1M32 59.5h1M85 57.5h1M84 52.5h1M57 50.5h1M89 56.5h1M33 53.5h1M31 55.5h1M43 57.5h1M66 56.5h1M48 56.5h1M89 47.5h1M80 50.5h1M64 55.5h1M31 54.5h1M90 55.5h1M57 51.5h1M54 64.5h1M85 55.5h1M92 63.5h1M60 52.5h1M91 62.5h1M96 51.5h1M70 54.5h1M75 57.5h1M41 57.5h1M79 56.5h1M51 59.5h1M63 63.5h1M40 58.5h1M56 56.5h1M37 47.5h1M64 59.5h1M92 58.5h1M84 57.5h1M31 51.5h1M84 57.5h1M61 52.5h1M78 49.5h1M74 59.5h1M29 52.5h1M65 49.5h1M83 59.5h1M70 60.5h1M44 50.5h1M33 52.5h1M54 54.5h1M52 58.5h1M90 56.5h1M55 50.5h1M55 62.5h1M32 55.5h1M72 52.5h1M81 61.5h1M91 53.5h1M80 57.5h1M37 48.5h1M76 53.5h1M57 65.5h1M49 52.5h1M85 59.5h1M97 56.5h1M43 53.5h1M50 60.5h1M30 55.5h1M41 56.5h1M68 52.5h1M60 55.5h1M64 57.5h1M85 48.5h1M90 56.5h1M71 50.5h1M39 58.5h1M64 52.5h1M51 58.5h1M63 57.5h1M61 54.5h1M50 60.5h1M89 65.5h1M82 55.5h1M79 57.5h1M86 54.5h1M91 49.5h1M44 49.5h1M39 55.5h1M29 54.5h1M60 55.5h1M85 50.5h1M55 50.5h1M66 49.5h1M35 56.5h1M51 56.5h1M29 54.5h1M89 47.5h1M73 58.5h1M79 53.5h1M95 59.5h1M64 64.5h1M76 60.5h1M48 61.5h1M97 54.5h1M91 55.5h1M77 52.5h1M75 53.5h1M73 55.5h1M93 63.5h1M97 50.5h1M91 53.5h1M90 57.5h1M78 51.5h1M72 58.5h1M96 54.5h1M34 56.5h1M67 53.5h1M95 48.5h1M76 55.5h1M62 59.5h1M36 57.5h1M90 55.5h1M45 58.5h1M41 59.5h1M98 57.5h1M92 60.5h1M97 54.5h1M67 61.5h1M38 58.5h1M30 57.5h1M70 52.5h1M81 55.5h1M95 54.5h1M80 51.5h1M32 60.5h1M42 59.5h1M61 57.5h1M67 55.5h1M46 57.5h1M40 58.5h1M36 57.5h1M44 58.5h1M39 56.5h1M74 56.5h1M40 53.5h1M47 49.5h1M33 62.5h1M54 52.5h1M76 52.5h1M64 60.5h1M91 58.5h1M42 54.5h1M97 53.5h1M37 53.5h1M78 57.5h1M70 53.5h1M83 53.5h1M94 57.5h1M37 55.5h1M66 60.5h1M66 55.5h1M96 53.5h1M54 52.5h1M95 56.5h1M54 52.5h1M32 56.5h1M60 53.5h1M47 47.5h1M39 58.5h1M59 54.5h1M69 61.5h1M80 57.5h1M92 55.5h1M45 58.5h1M85 59.5h1M54 56.5h1M33 52.5h1M82 54.5h1M68 55.5h1M92 63.5h1M81 60.5h1M73 51.5h1M69 57.5h1M55 51.5h1M33 60.5h1M35 51.5h1M80 49.5h1M33 54.5h1M86 52.5h1M32 56.5h1M84 47.5h1M66 59.5h1M92 52.5h1M70 42.5h1M64 51.5h1M67 59.5h1M43 53.5h1M75 56.5h1M70 49.5h1M44 51.5h1M59 56.5h1M95 52.5h1M44 60.5h1M71 57.5h1M53 55.5h1M50 52.5h1M47 55.5h1M71 54.5h1M50 49.5h1M35 53.5h1M36 53.5h1M76 48.5h1M76 52.5h1M59 55.5h1M54 51.5h1M97 60.5h1M57 58.5h1M65 64.5h1M45 60.5h1M46 56.5h1M65 48.5h1M79 56.5h1M73 52.5h1M43 55.5h1M98 52.5h1M96 56.5h1M94 48.5h1M85 62.5h1M58 51.5h1M82 56.5h1M89 59.5h1M47 51.5h1M51 57.5h1M30 46.5h1M66 55.5h1M37 62.5h1M76 56.5h1M41 62.5h1M89 54.5h1M57 62.5h1M53 55.5h1M35 59.5h1M80 57.5h1M37 59.5h1M55 57.5h1M57 42.5h1M64 59.5h1M90 54.5h1M30 52.5h1M79 54.5h1M62 57.5h1M81 62.5h1M80 59.5h1M53 51.5h1M67 57.5h1M92 53.5h1M76 49.5h1M76 60.5h1M60 47.5h1M85 51.5h1M34 58.5h1M48 57.5h1M73 47.5h1M35 55.5h1M53 56.5h1M37 52.5h1M146 66.5h1M137 64.5h1M135 66.5h1M167 56.5h1M104 64.5h1M165 57.5h1M100 67.5h1M162 57.5h1M116 55.5h1M102 26.5h1M125 57.5h1M165 52.5h1M105 58.5h1M151 50.5h1M134 71.5h1M162 78.5h1M126 62.5h1M141 27.5h1M143 51.5h1M154 38.5h1M103 40.5h1M109 57.5h1M148 48.5h1M109 54.5h1M144 46.5h1M114 55.5h1M165 42.5h1M121 48.5h1M137 55.5h1M114 62.5h1M168 50.5h1M147 49.5h1M105 64.5h1M119 53.5h1M120 52.5h1M127 52.5h1M123 48.5h1M121 58.5h1M147 59.5h1M115 57.5h1M104 54.5h1M131 59.5h1M108 64.5h1M125 62.5h1M120 60.5h1M123 50.5h1M110 53.5h1M161 61.5h1M149 43.5h1M117 55.5h1M132 46.5h1M126 53.5h1M127 49.5h1M122 64.5h1M119 46.5h1M135 57.5h1M152 38.5h1M120 72.5h1M157 72.5h1M141 51.5h1M155 56.5h1M126 66.5h1M132 50.5h1M128 56.5h1M155 60.5h1M166 61.5h1M140 43.5h1M163 37.5h1M121 52.5h1M137 59.5h1M162 57.5h1M131 48.5h1M158 45.5h1M141 60.5h1M116 61.5h1M119 54.5h1M131 64.5h1M110 48.5h1M111 60.5h1M104 58.5h1M145 42.5h1M135 38.5h1M114 53.5h1M164 58.5h1M106 58.5h1M113 72.5h1M148 70.5h1M143 58.5h1M122 60.5h1M107 52.5h1M122 54.5h1M123 51.5h1M119 48.5h1M136 58.5h1M146 62.5h1M136 53.5h1M101 32.5h1M102 44.5h1M106 47.5h1M107 41.5h1M147 35.5h1M108 56.5h1M107 64.5h1M141 64.5h1M131 61.5h1M152 54.5h1M147 63.5h1M101 50.5h1M120 40.5h1M103 64.5h1M98 71.5h1M106 56.5h1M159 56.5h1M131 43.5h1M116 55.5h1M100 71.5h1M110 53.5h1M158 45.5h1M123 54.5h1M140 49.5h1M108 32.5h1M158 22.5h1M110 44.5h1M115 60.5h1M121 50.5h1M133 34.5h1M103 44.5h1M141 64.5h1M135 56.5h1M101 61.5h1M150 70.5h1M110 46.5h1M152 56.5h1M144 43.5h1M125 56.5h1M110 59.5h1M108 42.5h1M117 52.5h1M140 42.5h1M116 50.5h1M121 50.5h1M121 66.5h1M134 51.5h1M153 61.5h1M111 48.5h1M112 69.5h1M139 66.5h1M119 52.5h1M124 47.5h1M168 53.5h1M124 49.5h1M130 64.5h1M145 51.5h1M157 52.5h1M146 51.5h1M121 54.5h1M119 49.5h1M167 42.5h1M122 65.5h1M147 46.5h1M103 46.5h1M162 33.5h1M102 54.5h1M139 72.5h1M110 43.5h1M112 50.5h1M120 49.5h1M155 64.5h1M146 60.5h1M111 53.5h1M128 43.5h1M137 59.5h1M132 65.5h1M167 58.5h1M108 30.5h1M126 52.5h1M152 49.5h1M100 51.5h1M115 53.5h1M144 55.5h1M162 57.5h1M147 49.5h1M127 56.5h1M115 50.5h1M141 48.5h1M142 65.5h1M108 49.5h1M151 61.5h1M153 50.5h1M124 53.5h1M102 67.5h1M140 49.5h1M120 61.5h1M145 86.5h1M110 57.5h1M163 73.5h1M133 55.5h1M112 48.5h1M118 54.5h1M135 57.5h1M108 48.5h1M137 28.5h1M104 62.5h1M118 47.5h1M160 51.5h1M139 58.5h1M138 50.5h1M155 66.5h1M116 59.5h1M117 70.5h1M166 70.5h1M149 48.5h1M127 58.5h1M115 44.5h1M105 61.5h1M163 71.5h1M126 48.5h1M140 61.5h1M151 71.5h1M132 53.5h1M101 53.5h1M126 41.5h1M134 48.5h1M120 54.5h1M120 70.5h1M161 48.5h1M157 81.5h1M154 57.5h1M108 56.5h1M107 57.5h1M115 63.5h1M121 63.5h1M129 56.5h1M166 67.5h1M159 66.5h1M113 39.5h1M114 59.5h1M125 55.5h1M110 41.5h1M113 39.5h1M101 51.5h1M103 60.5h1M102 62.5h1M137 66.5h1M138 58.5h1M122 49.5h1M121 51.5h1M110 54.5h1M112 67.5h1M149 47.5h1M154 63.5h1M153 65.5h1M101 45.5h1M122 56.5h1M145 48.5h1M165 52.5h1M107 42.5h1M112 54.5h1M103 57.5h1M123 54.5h1M165 51.5h1M110 62.5h1M153 43.5h1M127 57.5h1M154 54.5h1M148 58.5h1M102 43.5h1M127 69.5h1M115 40.5h1M132 57.5h1M151 34.5h1M103 66.5h1M141 30.5h1M140 53.5h1M164 62.5h1M165 46.5h1M124 64.5h1M157 46.5h1M137 43.5h1M111 31.5h1M148 75.5h1M116 59.5h1M137 63.5h1M149 51.5h1M142 54.5h1M160 66.5h1M149 58.5h1M162 52.5h1M130 48.5h1M103 49.5h1M148 44.5h1M162 41.5h1M110 58.5h1M126 50.5h1M131 31.5h1M146 55.5h1M114 48.5h1M124 68.5h1M104 56.5h1M119 63.5h1M162 46.5h1M134 58.5h1M102 59.5h1M156 51.5h1M103 64.5h1M122 59.5h1M162 54.5h1M100 46.5h1M143 56.5h1M106 46.5h1M147 45.5h1M138 70.5h1M148 45.5h1M156 63.5h1M125 46.5h1M138 56.5h1M125 50.5h1M157 37.5h1M117 58.5h1M108 87.5h1M165 53.5h1M118 66.5h1M149 58.5h1M134 61.5h1M133 65.5h1M155 74.5h1M113 43.5h1M156 50.5h1M115 50.5h1M235 42.5h1M170 72.5h1M190 48.5h1M238 41.5h1M180 50.5h1M198 46.5h1M233 62.5h1M182 48.5h1M183 63.5h1M186 50.5h1M219 21.5h1M179 52.5h1M186 63.5h1M222 45.5h1M235 50.5h1M170 54.5h1M200 74.5h1M191 42.5h1M179 55.5h1M236 54.5h1M209 49.5h1M198 56.5h1M199 66.5h1M184 57.5h1M175 78.5h1M189 51.5h1M237 55.5h1M175 49.5h1M201 49.5h1M232 60.5h1M228 50.5h1M170 59.5h1M212 57.5h1M200 55.5h1M222 59.5h1M185 36.5h1M208 62.5h1M209 52.5h1M236 33.5h1M189 63.5h1M237 64.5h1M177 62.5h1M233 53.5h1M179 33.5h1M203 52.5h1M180 62.5h1M199 58.5h1M188 41.5h1M188 35.5h1M197 55.5h1M225 60.5h1M199 52.5h1M219 54.5h1M228 54.5h1M212 50.5h1M173 27.5h1M216 54.5h1M191 85.5h1M180 54.5h1M195 72.5h1M223 57.5h1M227 56.5h1M213 78.5h1M204 66.5h1M232 63.5h1M171 69.5h1M178 44.5h1M233 47.5h1M185 72.5h1M169 80.5h1M222 44.5h1M182 54.5h1M225 33.5h1M174 50.5h1M212 50.5h1M215 68.5h1M211 44.5h1M189 47.5h1M226 71.5h1M235 69.5h1M234 48.5h1M224 53.5h1M218 54.5h1M197 54.5h1M214 57.5h1M188 63.5h1M237 64.5h1M214 71.5h1M184 62.5h1M192 35.5h1M194 82.5h1M237 80.5h1M192 37.5h1M201 47.5h1M187 53.5h1M184 49.5h1M171 49.5h1M171 49.5h1M231 75.5h1M209 42.5h1M188 43.5h1M214 59.5h1M215 69.5h1M209 66.5h1M214 55.5h1M205 60.5h1M177 43.5h1M219 32.5h1M182 51.5h1M235 68.5h1M202 57.5h1M173 60.5h1M213 56.5h1M237 53.5h1M188 73.5h1M206 50.5h1M237 67.5h1M221 26.5h1M207 43.5h1M187 57.5h1M236 49.5h1M211 48.5h1M230 51.5h1M221 52.5h1M218 30.5h1M220 62.5h1M196 54.5h1M234 55.5h1M220 65.5h1M233 37.5h1M197 53.5h1M232 51.5h1M230 72.5h1M177 53.5h1M233 44.5h1M203 43.5h1M202 43.5h1M195 59.5h1M174 79.5h1M176 59.5h1M177 58.5h1M184 52.5h1M204 48.5h1M224 55.5h1M169 46.5h1M210 55.5h1M208 60.5h1M169 44.5h1M210 43.5h1M189 83.5h1M208 43.5h1M192 52.5h1M191 48.5h1M204 53.5h1M170 37.5h1M224 68.5h1M233 54.5h1M191 55.5h1M217 60.5h1M177 55.5h1M214 67.5h1M209 54.5h1M196 29.5h1M218 85.5h1M221 25.5h1M225 61.5h1M196 60.5h1M171 55.5h1M196 70.5h1M207 52.5h1M206 51.5h1M177 42.5h1M195 47.5h1M193 52.5h1M217 48.5h1M182 48.5h1M232 35.5h1M176 50.5h1M223 72.5h1M186 71.5h1M195 58.5h1M177 66.5h1M218 68.5h1M193 59.5h1M193 38.5h1M207 77.5h1M210 77.5h1M237 32.5h1M177 57.5h1M219 54.5h1M190 78.5h1M194 54.5h1M212 68.5h1M222 54.5h1M180 64.5h1M225 45.5h1M222 75.5h1M215 53.5h1M218 48.5h1M202 35.5h1M185 61.5h1M179 58.5h1M229 59.5h1M206 64.5h1M178 60.5h1M217 70.5h1M175 55.5h1M224 53.5h1M191 52.5h1M229 60.5h1M202 66.5h1M225 50.5h1M183 55.5h1M173 50.5h1M205 30.5h1M228 53.5h1M230 28.5h1M179 61.5h1M218 63.5h1M194 51.5h1M235 33.5h1M218 47.5h1M207 58.5h1M195 80.5h1M182 60.5h1M185 58.5h1M201 42.5h1M196 67.5h1M234 37.5h1M181 85.5h1M202 69.5h1M207 56.5h1M204 50.5h1M210 48.5h1M237 44.5h1M209 55.5h1M206 88.5h1M212 61.5h1M173 64.5h1M221 53.5h1M214 49.5h1M171 46.5h1M229 58.5h1M192 36.5h1M194 75.5h1M219 61.5h1M202 56.5h1M224 60.5h1M238 68.5h1M219 59.5h1M190 57.5h1M196 51.5h1M235 68.5h1M199 25.5h1M196 62.5h1M201 50.5h1M238 61.5h1M192 55.5h1M213 44.5h1M214 21.5h1M172 62.5h1M188 43.5h1M193 55.5h1M219 66.5h1M200 44.5h1M192 63.5h1M216 63.5h1M172 78.5h1M221 66.5h1M229 56.5h1M171 60.5h1M198 51.5h1M235 49.5h1M207 69.5h1M176 38.5h1M173 55.5h1M222 50.5h1M184 41.5h1M172 66.5h1M229 60.5h1M204 54.5h1M176 34.5h1M227 41.5h1M184 41.5h1M188 22.5h1M232 35.5h1M232 33.5h1M234 46.5h1M224 65.5h1M199 47.5h1M211 43.5h1M175 61.5h1M234 66.5h1M170 48.5h1M238 36.5h1M173 54.5h1M182 61.5h1M193 46.5h1M202 63.5h1M169 42.5h1M226 71.5h1M197 59.5h1M219 55.5h1M220 66.5h1M226 55.5h1M206 55.5h1M208 40.5h1M223 47.5h1M194 52.5h1M208 54.5h1M218 54.5h1M220 53.5h1M232 53.5h1M209 47.5h1M237 50.5h1M237 63.5h1M169 67.5h1" stroke="#3a82c4" stroke-opacity=".38" stroke-width="1" fill="none" shape-rendering="crispEdges"/>
<path d="M97 58.5h1M75 56.5h1M42 52.5h1M70 58.5h1M41 57.5h1M83 47.5h1M39 56.5h1M63 60.5h1M31 53.5h1M73 55.5h1M37 66.5h1M67 57.5h1M76 52.5h1M53 47.5h1M46 52.5h1M67 50.5h1M81 57.5h1M52 49.5h1M67 63.5h1M72 56.5h1M37 51.5h1M60 54.5h1M39 53.5h1M33 54.5h1M55 56.5h1M71 55.5h1M30 47.5h1M60 56.5h1M94 48.5h1M70 43.5h1M65 53.5h1M30 50.5h1M29 59.5h1M53 57.5h1M29 54.5h1M42 50.5h1M37 55.5h1M69 60.5h1M50 62.5h1M92 53.5h1M78 60.5h1M55 48.5h1M71 64.5h1M46 62.5h1M78 58.5h1M73 53.5h1M68 58.5h1M72 55.5h1M53 62.5h1M87 55.5h1M95 62.5h1M88 55.5h1M50 53.5h1M34 56.5h1M59 50.5h1M44 55.5h1M54 57.5h1M81 49.5h1M57 54.5h1M79 56.5h1M73 52.5h1M82 61.5h1M84 56.5h1M31 60.5h1M48 54.5h1M69 48.5h1M73 54.5h1M61 50.5h1M72 52.5h1M62 55.5h1M39 44.5h1M51 60.5h1M91 61.5h1M31 59.5h1M43 46.5h1M47 57.5h1M74 52.5h1M33 55.5h1M57 52.5h1M47 51.5h1M87 55.5h1M43 55.5h1M66 56.5h1M82 51.5h1M65 61.5h1M87 66.5h1M141 52.5h1M110 56.5h1M158 50.5h1M99 50.5h1M119 54.5h1M116 59.5h1M144 57.5h1M108 79.5h1M152 56.5h1M134 52.5h1M136 47.5h1M133 58.5h1M123 47.5h1M106 59.5h1M152 60.5h1M112 57.5h1M110 61.5h1M111 62.5h1M128 60.5h1M158 54.5h1M163 54.5h1M102 45.5h1M151 52.5h1M101 65.5h1M164 62.5h1M130 64.5h1M163 54.5h1M123 53.5h1M102 53.5h1M142 41.5h1M116 55.5h1M140 53.5h1M165 55.5h1M132 60.5h1M133 42.5h1M138 45.5h1M164 56.5h1M134 49.5h1M133 49.5h1M142 55.5h1M100 54.5h1M145 58.5h1M157 42.5h1M130 55.5h1M133 59.5h1M119 54.5h1M139 48.5h1M164 60.5h1M99 39.5h1M117 58.5h1M161 64.5h1M108 38.5h1M159 51.5h1M132 52.5h1M143 60.5h1M165 41.5h1M128 50.5h1M150 56.5h1M146 46.5h1M157 67.5h1M137 38.5h1M150 54.5h1M155 44.5h1M107 54.5h1M117 62.5h1M126 56.5h1M127 60.5h1M125 55.5h1M119 68.5h1M122 41.5h1M162 57.5h1M158 55.5h1M145 63.5h1M127 59.5h1M98 63.5h1M103 59.5h1M120 69.5h1M116 47.5h1M163 50.5h1M152 61.5h1M157 58.5h1M149 49.5h1M145 65.5h1M154 60.5h1M115 64.5h1M129 63.5h1M187 84.5h1M216 75.5h1M186 44.5h1M215 41.5h1M233 31.5h1M182 56.5h1M181 57.5h1M221 62.5h1M218 48.5h1M210 56.5h1M177 81.5h1M211 42.5h1M212 26.5h1M172 39.5h1M232 57.5h1M180 58.5h1M238 57.5h1M227 61.5h1M194 49.5h1M233 66.5h1M203 51.5h1M189 54.5h1M211 77.5h1M179 39.5h1M236 47.5h1M204 53.5h1M226 86.5h1M221 54.5h1M173 62.5h1M206 71.5h1M170 51.5h1M231 43.5h1M205 32.5h1M181 54.5h1M195 47.5h1M202 54.5h1M196 74.5h1M192 23.5h1M225 58.5h1M208 71.5h1M179 49.5h1M178 39.5h1M172 62.5h1M219 55.5h1M194 60.5h1M204 25.5h1M171 46.5h1M223 45.5h1M238 50.5h1M185 48.5h1M196 56.5h1M215 48.5h1M189 42.5h1M179 63.5h1M179 63.5h1M176 68.5h1M177 57.5h1M237 61.5h1M237 52.5h1M209 55.5h1M200 55.5h1M216 64.5h1M184 60.5h1M223 39.5h1M238 73.5h1M226 55.5h1M220 40.5h1M170 52.5h1M235 57.5h1M218 55.5h1M177 41.5h1M189 43.5h1M220 27.5h1M193 57.5h1M235 54.5h1M235 54.5h1M225 41.5h1M186 57.5h1M207 76.5h1M172 76.5h1M179 45.5h1M228 60.5h1M222 74.5h1M203 63.5h1M189 57.5h1" stroke="#2a6aa8" stroke-opacity=".66" stroke-width="1" fill="none" shape-rendering="crispEdges"/>
<rect x="28.5" y="20.5" width="211" height="69.8" fill="none" stroke="#565656" stroke-width="1"/>
<path d="M98.8 90.3v-2M98.8 20.5v2M169.2 90.3v-2M169.2 20.5v2M28.5 72.8h2M239.5 72.8h-2M28.5 55.4h2M239.5 55.4h-2M28.5 38h2M239.5 38h-2" stroke="#444" stroke-width=".85" fill="none"/>
<line x1="98.8" y1="19.6" x2="98.8" y2="90.9" stroke="#4de2ec" stroke-width="1.65" stroke-opacity="1"/>
<line x1="169.2" y1="19.6" x2="169.2" y2="90.9" stroke="#4de2ec" stroke-width="1.65" stroke-opacity="1"/>
<path d="M305.3 36.4h0M354.1 48.5h0M301 59.9h0M300.3 48h0M312.3 62.1h0M303.9 25.8h0M334.7 51.1h0M295.8 69.4h0M350.6 54.5h0M347.9 62.5h0M325.7 51.9h0M295.2 45h0M305.8 49.6h0M317 55.9h0M319.5 58.4h0M320.6 41.5h0M352.8 56.5h0M305.9 53.3h0M300.9 48.3h0M334.7 63.2h0M354.1 48.2h0M352.4 44.6h0M349.4 59.9h0M292.3 60.1h0M353.4 42h0M333.3 39.8h0M348.8 51.3h0M316.4 38.2h0M303.1 38h0M343.3 67.9h0M334.1 55.9h0M342.3 65.8h0M301.9 42.9h0M297.2 49.2h0M341.3 63.8h0M354 51.7h0M297.2 57h0M329.8 47.5h0M317.1 74.4h0M310.4 70.2h0M299.7 65.5h0M342.4 44.7h0M351.8 40.3h0M338.8 58.3h0M329.8 59.8h0M337.6 57.7h0M325.3 48.9h0M326.9 30.3h0M351.3 47.9h0M307.6 33.6h0M303.3 52.3h0M354.1 41.1h0M353.8 63.9h0M321.1 74.7h0M343.9 60.3h0M339.8 49.9h0M354.3 56.8h0M293.5 57.8h0M350.7 57h0M322.8 69h0M319.2 79.7h0M335.9 53.8h0M331 60.4h0M318.3 72h0M308.2 61.4h0M352.1 71.1h0M345.1 64.5h0M294.9 65.4h0M316.1 46.3h0M341.3 55.4h0M349.4 43.4h0M355.2 49.5h0M304.6 36.1h0M350.2 45.7h0M336.4 59.6h0M292.5 55.8h0M302.5 53.4h0M301 52.2h0M293.2 57.5h0M335.9 54.7h0M309.5 61.5h0M336.2 35.8h0M293.5 52h0M348.8 60.1h0M336.5 73.5h0M342.6 74.4h0M330.3 44.1h0M319.8 61.7h0M301.3 24.7h0M353.8 49.6h0M297.9 42.3h0M324.3 67.7h0M296.3 55.2h0M295.3 48.5h0M336.6 59.9h0M350 57.9h0M320.1 57.4h0M343.4 39.7h0M348 64.2h0M325.3 52.2h0M342.1 42.8h0M308.3 52.6h0M298.3 51.8h0M301 40.8h0M292.7 60.8h0M340.4 50.7h0M351.1 49.3h0M291.8 52.1h0M338.3 43.1h0M342.3 62.7h0M335.5 33.6h0M322.7 36.9h0M321.8 72.7h0M336.4 48.1h0M304.9 64.5h0M340.5 53.4h0M301.2 59.2h0M290.2 52.9h0M353.2 50.9h0M294.1 60h0M301.5 46.4h0M291.7 47.8h0M288.5 57.8h0M296.4 38.4h0M352.3 86.3h0M336.5 67.2h0M316.1 48.6h0M345.8 57.3h0M321.7 77.2h0M347.6 21.7h0M323.1 71.6h0M293.2 44.8h0M292.9 69.9h0M343.1 58.7h0M303.3 52.4h0M298.3 56.1h0M316.4 70.8h0M306.1 60.1h0M307.1 54.7h0M343.4 59.1h0M320.6 46.5h0M357.5 53.5h0M294.6 53h0M308.4 35.5h0M349.5 47.9h0M318.3 74.6h0M341.7 57.1h0M318.1 48.3h0M316.2 51.3h0M349.8 52.1h0M309.7 54.8h0M326 36.2h0M327.3 60.5h0M290.8 77.5h0M294.7 26.6h0M304.3 55.4h0M335.6 42.1h0M328.3 40.5h0M311.7 40.9h0M317.1 59.4h0M290.6 50.4h0M315.9 62.7h0M346.7 61h0M290.4 66.4h0M333.5 81.9h0M336.2 52.1h0M303.1 45.3h0M308.5 47.3h0M300.3 57.8h0M327.4 54.2h0M313.6 78.1h0M296.9 28.1h0M308 48.7h0M304.9 50.8h0M356.9 51.1h0M330.5 58.3h0M321.3 49.2h0M322 53.3h0M328.1 65.3h0M356.5 67.4h0M314.7 47.2h0M291.8 50.7h0M300.7 65.2h0M301.9 55.6h0M330 55.4h0M305.8 50.6h0M346.4 45.1h0M354.4 63h0M296.3 45.7h0M344.2 45.2h0M334.1 64.4h0M357.3 63.9h0M341.4 47.9h0M311 57.2h0M301.7 31.6h0M305.9 58h0M353.5 39.5h0M321.3 51.4h0M318.2 53.9h0M348.9 35.9h0M347.8 60h0M350.6 38.5h0M289.3 59.5h0M357.5 45.2h0M335.8 47.8h0M351 54.1h0M344 65.5h0M350.7 50.8h0M349.8 59.7h0M333.1 57.2h0M296.7 69.7h0M335.4 63.6h0M290.3 69.1h0M312.3 61.3h0M307.6 59.4h0M308.4 47.2h0M344.2 70.9h0M349.6 55.7h0M350.9 43.1h0M331.2 37.8h0M341.9 43.7h0M296.6 21.3h0M312 55.1h0M342.9 63.8h0M319.6 58.3h0M322.4 65.3h0M342.8 49.7h0M303.4 58.7h0M348.5 44.7h0M339.6 77.6h0M293.1 30.2h0M317.5 29.4h0M352 70h0M306.7 47.6h0M288.6 61.1h0M299.7 52.5h0M325.8 61h0M294.9 30.1h0M291.5 54.2h0M297.3 71.1h0M345.6 59.5h0M355.6 48.7h0M297.2 51h0M326.9 80.8h0M335.4 62.8h0M292.7 52.8h0M349.4 72.2h0M340.1 62.3h0M335.5 65.8h0M321.4 61.8h0M343.1 46.9h0M345.6 39.3h0M307.8 53.4h0M304.4 67.7h0M356.7 35.3h0M321.7 46.1h0M316.7 32.3h0M353.3 71.2h0M338.3 55.3h0M340.1 59h0M344.1 40.3h0M346.2 59.2h0M335.6 40.1h0M357.5 51.3h0M343.2 44.2h0M345.7 59.7h0M346 52.7h0M291 48h0M357.1 56.2h0M341.3 55.1h0M293.7 55.7h0M338.3 67.4h0M337.4 66.2h0M322.7 50.6h0M309 45.9h0M325.5 46.5h0M299.2 81.3h0M315.3 53.6h0M331.4 71.6h0M337.9 56.5h0M325.8 63.5h0M350 49.5h0M350.3 38.2h0M351.5 51.1h0M329.3 62.5h0M305.2 63.2h0M291 76.2h0M328.4 70.5h0M324 73.6h0M297.7 68.8h0M355.6 38.4h0M340.4 79.6h0M351.2 54.9h0M310.5 56.5h0M318 55.8h0M328.7 70.7h0M315.9 58h0M290 60.7h0M320.7 56.3h0M334.4 67.5h0M312.8 53.8h0M352.5 78h0M353.1 59.9h0M289.8 65.8h0M316.9 51.4h0M330.1 57.7h0M316.3 69h0M356.3 55.6h0M308.9 50.3h0M350.7 33.4h0M311.9 57.1h0M349.9 62.4h0M294.8 62.7h0M347.4 61.5h0M346.8 54.3h0M327.3 55.6h0M309.1 62.2h0M315.1 48.3h0M296.7 72.1h0M307.3 63.7h0M323.9 47.7h0M324.3 54.3h0M320.7 56.3h0M348.9 33.7h0M302.7 43h0M342.6 54.9h0M348.2 70.6h0M312.6 65.5h0M291.8 65.6h0M345.2 33.3h0M338.9 52.4h0M321.7 43.6h0M352.7 44.2h0M306 77.8h0M338.7 52.1h0M333.2 58.3h0M314.9 47.5h0M342.3 62.2h0M295.2 48.8h0M309.4 48.2h0M322.4 37.4h0M355.4 62.1h0M341.2 41.6h0M291.7 61.2h0M331.6 53.9h0M297.4 44.8h0M315.1 48.1h0M355.3 66h0M306.9 74.7h0M295 59.9h0M352.7 55.3h0M302.7 55.5h0M329 57.3h0M306.1 46.7h0M354 77.3h0M340.4 62.2h0M343.8 51.9h0M294.9 44.4h0M313.1 61.3h0M347.7 64.6h0M308.4 40.5h0M295.3 66.8h0M347.7 36h0M306.6 48.2h0M329.2 64h0M301.1 58.3h0M296.2 61.1h0M322.3 46.4h0M332.5 51h0M341.7 35h0M353.1 40.8h0M324.2 52.8h0M335.9 24.3h0M309.6 42.6h0M350.3 56.7h0M311.9 57h0M290.4 67h0M302.5 61.1h0M297.9 54.4h0M332.6 58.7h0M298.9 43.2h0M319.7 57.1h0M310.8 46.2h0M343.5 46h0M308.1 55.8h0M304.4 51.6h0M307.9 42.8h0M301.1 55.9h0M333.7 53.2h0M324.4 22.5h0M336.5 52.1h0M295.9 50.5h0M343.9 54.2h0M325.8 66.5h0M356 59h0M357 61.7h0M288.8 64.8h0M329.9 56h0M305.6 43.9h0M336.4 44.4h0M297.3 54.8h0M327.5 46.5h0M341.1 40.5h0M327.7 64.3h0M308.9 56.5h0M340 73.4h0M353.2 67.8h0M307.1 44h0M295.4 54.9h0M315.4 43.5h0M316.4 56.5h0M315.3 48h0M354.2 66.5h0M304.6 62.6h0M291.7 67.9h0M288.8 59.6h0M321.5 57.9h0M306.6 72.8h0M322 40.1h0M336.3 58.1h0M310.3 59h0M296.8 51.1h0M351.7 53.1h0M300.7 25.9h0M309.5 60.8h0M289.3 59.6h0M330.6 60.4h0M304.4 48.1h0M340.1 51.8h0M317.8 64.2h0M345.7 41.9h0M311.2 79.5h0M342.5 66.1h0M292.7 57.8h0M312.6 57.1h0M310.3 50.7h0M316.4 54.6h0M303 20h0M308.3 67.7h0M355.9 49.5h0M293.5 69.5h0M322.5 54.3h0M351.2 55.7h0M320.2 49.8h0M319 27.7h0M324.3 41.9h0M297.1 69.1h0M301.8 59h0M336.9 35.5h0M329.7 31.7h0M303.8 43.1h0M321.5 44.3h0M356.9 70.1h0M302.1 61.4h0M343.8 64h0M353.5 45.8h0M325.7 83.9h0M299.1 74.3h0M320.9 52.9h0M342.7 44.4h0M334 51.6h0M346.8 40.4h0M323 59.5h0M290 56h0M343.7 50.8h0M325.4 55h0M351.5 70.5h0M347 50.8h0M332.8 62.3h0M329.3 42.3h0M342.1 55.4h0M299.7 40.5h0M313.6 87.3h0M332.7 49.7h0M324.4 52.2h0M299.4 50.5h0M310.5 49.3h0M297.3 56.6h0M346.3 44.3h0M300.5 70.1h0M333.2 52.5h0M299.6 59.8h0M296.7 40.9h0M290.7 80h0M313 67.8h0M346.4 44.1h0M351.5 58.4h0M325.4 63.7h0M348.3 53.5h0M333.6 57.4h0M354.9 37.9h0M302.4 63.8h0M305.7 24.4h0M306.7 38.4h0M345.2 63.1h0M353.4 77.8h0M342.1 50.9h0M355.1 51.1h0M299.1 80.4h0M298.4 78.2h0M310.9 63.3h0M313.5 63.3h0M315.9 34.7h0M298.8 31.5h0M324.5 56.2h0M333.8 51.7h0M344.8 63.1h0M298.4 67.8h0M356.8 47.7h0M305.9 41h0M317 51.5h0M350.9 57.5h0M298.2 52h0M317.4 55.3h0M312.4 57.2h0M294 33.2h0M290.8 43.9h0M302.3 45.7h0M323.7 40.2h0M291 64.3h0M301.7 85.9h0M353.9 76.5h0M321.7 60.2h0M307 67.1h0M356.4 45.7h0M337.8 59.4h0M312 52.1h0M347 35.9h0M290.4 87h0M310 48.3h0M354.5 72.1h0M324.7 60h0M294.5 62.5h0M293.9 75.5h0M353.7 38.7h0M314.4 75.8h0M350 39.8h0M305.6 60.6h0M328.8 61.7h0M304.3 42.4h0M347.2 69.2h0M343.4 55.9h0M355.9 62.8h0M322.2 26.7h0M341.3 56.7h0M294.2 36.1h0M330.7 62.4h0M339.8 45.5h0M340 37.2h0M307.2 58.2h0M288.9 59h0M330.9 26.2h0M340.9 54.8h0M325.4 63.2h0M300.3 76.4h0M316.1 53.4h0M303.5 54.6h0M349.3 41.9h0M335.4 34.9h0M330.6 54.4h0M338.3 58.7h0M356.7 63.3h0M355.1 49.3h0M288.7 51.4h0M291 54.3h0M357.5 56.2h0M313.8 64.1h0M339.2 63.6h0M314.3 53.8h0M343.6 28.5h0M340.3 50.8h0M308.5 50.5h0M338.6 59.1h0M289.4 49.8h0M291 56.5h0M323.7 66.2h0M352.1 50.1h0M357.5 50.9h0M291.1 40.4h0M310.7 72.3h0M297 81.8h0M349.8 63.1h0M315.6 69.3h0M309.9 51.2h0M318.3 35.6h0M314.7 37.1h0M324.6 55.6h0M293.5 41.1h0M294.4 36.6h0M306.5 71.6h0M296.3 50.9h0M355.5 57.6h0M298.5 54.2h0M350.2 53.4h0M308.9 53.4h0M357.3 46.4h0M298.1 36.6h0M328.1 51.1h0M337.1 36.6h0M289.6 49.3h0M326.2 40.5h0M322.6 61.2h0M344.1 57.7h0M313.5 61.8h0M322.3 37.4h0M289.5 42.5h0M336.3 58.8h0M355.5 65.7h0M342.4 64.3h0M343.7 42.9h0M340.6 75.9h0M303.9 42.5h0M353.7 55h0M293.5 67.5h0M321 39.8h0M345.3 54h0M339 59.3h0M304.8 60.6h0M308.4 45.1h0M325.6 24.5h0M314.5 49.9h0M297.9 72.7h0M307 28.5h0M339.8 57.7h0M319.8 49.7h0M323.5 64.5h0M296.1 51.3h0M289.5 69h0M351.4 45.7h0M347 54.5h0M322.2 65.6h0M333.5 71.3h0M334.9 57.5h0M319.2 24.5h0M294.8 60.4h0M289.4 42.2h0M340 52.1h0M345.2 52h0M292.3 81.9h0M344.7 66.1h0M289.1 75.7h0M349.4 43.7h0M323 48.2h0M322.5 52.1h0M357.5 66.3h0M339.6 89.1h0M324.9 53.3h0M347.3 63.4h0M319.2 48.5h0M307.6 47.9h0M344.1 60.3h0M345.3 55.9h0M330.8 51.1h0M307 50.2h0M356.7 70.4h0M344.6 41.8h0M299.6 43h0M333.4 52.5h0M328.5 54.6h0M290.8 47.8h0M335.3 55h0M293.6 67.7h0M335.1 55h0M332.5 65.8h0M349.7 61.6h0M308.1 66.8h0M328.1 50.6h0M338.9 56.8h0M291 70.5h0M301.5 76.6h0M329.9 84.9h0M348 54.1h0M317.6 57.5h0M354.8 44.4h0M357.5 36.4h0M315.4 60.1h0M313.4 30.9h0M333.7 71.4h0M333.3 55.2h0M351.7 72.7h0M301.8 60.4h0M352.4 53.3h0M321 74.5h0M308.7 72.9h0M314.9 39.9h0M302.8 40.9h0M308.3 44h0M341.4 58.1h0M313 49h0M350.1 63.1h0M334.5 47.8h0M316 44.8h0M315.8 52.5h0M328.6 57.7h0M330.1 31.8h0M309.3 56.5h0M289.3 50.9h0M327.5 45.6h0M310.4 47.8h0M342.2 54.7h0M349.9 48.7h0M311.9 38.6h0M312.9 53.5h0M356.9 63h0M343.1 51.2h0M342.6 41.3h0M304.7 60.8h0M352.5 72.3h0M329.2 72.4h0M320.7 30.2h0M304.8 47.4h0M336.7 50.7h0M343.2 64.3h0M316.7 67.6h0M341.2 31.9h0M336.4 59.4h0M307.3 45.4h0M335.6 38.9h0M295.7 60.5h0M322.9 40.2h0M323.6 53.4h0M340 73h0M340.9 51.7h0M328.2 40.2h0M289 48.2h0M296.8 42.8h0M331.2 50.5h0M348.7 41.4h0M292.1 39.5h0M343.7 54.8h0M323 84.9h0M335.1 58h0M289.5 54.3h0M316 48.9h0M353 80h0M297.8 58h0M302.3 71.2h0M315.3 48.4h0M321.5 55.8h0M290.9 50.6h0M293.1 87.6h0M329.5 54.1h0M304.6 50.8h0M306.4 87.1h0M305 66.4h0M352.5 57.5h0M302.4 60.7h0M333.4 80.2h0M301.1 50.6h0M352.5 54.4h0M339.7 66.8h0M302.3 72.6h0M327.9 71h0M326.7 44.8h0M348.5 64.5h0M305.6 62.8h0M336.7 54.9h0M294.2 55.5h0M320.3 43.3h0M313.9 83.7h0M337.8 67.5h0M307.1 51.8h0M295.1 60.9h0M306.2 54.6h0M291.6 79.3h0M357.1 52.6h0M311.8 69.6h0M350.2 44.4h0M323.2 54.5h0M353.1 64.6h0M321.8 31.8h0M300.3 51.1h0M304.6 59.3h0M316.7 71.3h0M295.9 53.5h0M333.4 53.4h0M292.3 24.9h0M320.9 54.5h0M325.9 40.9h0M355 56.6h0M317.3 49h0M349.8 43.1h0M322.8 56.4h0M331 84.2h0M346.7 79.8h0M325.7 54.3h0M355.1 57.8h0M349.9 77.4h0M339.4 50.4h0M299 48.1h0M304.3 54.3h0M349.2 36.5h0M307.9 43.6h0M353 63.5h0M299.5 43.4h0M321.4 60.6h0M300.8 70.1h0M338.7 44.6h0M334.8 48h0M309.4 48.7h0M299.5 61.5h0M353.8 54.2h0M334.8 65h0M330 62.5h0M337.4 48.8h0M288.4 44.7h0M295 45.9h0M347.4 54.8h0M312 31.5h0M340.2 56.3h0M350.4 61.4h0M354 61.7h0M357 53.2h0M349.8 53.4h0M308 50.8h0M342.4 81.1h0M338.6 39.5h0M316.6 45h0M345.9 64.2h0M318 51.8h0M299.5 45.5h0M328.9 45.6h0M296.8 27.2h0M353.9 81.1h0M294.4 58.7h0M308.8 82.9h0M314.3 60.9h0M295.8 60.5h0M316.1 52h0M319.6 49.3h0M289.3 43.8h0M293.3 84.2h0M322.9 32.6h0M308.8 64h0M347 66.2h0M290.4 76.7h0M352.6 36.4h0M296 62.2h0M291.1 47.4h0M323.5 34.1h0M352 67.2h0M330.4 57.4h0M301.1 48.4h0M328.9 51.6h0M323.4 54.5h0M291.3 59.8h0M326.2 54.9h0M344 38h0M342.2 32.5h0M310.7 48.3h0M308.2 53.4h0M316.8 37.3h0M326.5 50h0M293.2 27.8h0M299 46.4h0M296.6 61.7h0M332.8 54.8h0M330.2 78.3h0M350.3 45.8h0M306.2 36.2h0M313.1 63.2h0M357.3 43.8h0M310.2 43.2h0M332.2 43.7h0M300.7 52.8h0M342.2 21.3h0M296.3 57.5h0M345.4 28.4h0M311.4 51.2h0M335 49.1h0M339.1 56.5h0M303.8 57.6h0M306.9 55.2h0M290.2 74.8h0M317.4 39.5h0M316.7 48.9h0M327.9 45.8h0M296.9 36h0M306.1 43.7h0M311.2 75.7h0M333.4 59.3h0M308.5 57.8h0M339.4 64.5h0M324.2 70h0M340.3 34.5h0M340.5 51.1h0M304.9 61.9h0M342.8 61.3h0M315.9 58h0M345.2 48.9h0M324.8 44.9h0M344.2 54.6h0M325.3 58h0M294.4 57.2h0M321.6 57.1h0M292.2 36.6h0M342.4 60.2h0M346.6 41.1h0M293.5 61.7h0M341.2 56.8h0M319.8 53h0M333.7 68.1h0M333.4 39.4h0M307.6 72.9h0M345.5 47.7h0M288.8 62.2h0M357.2 70.9h0M318 82.1h0M353.6 40.9h0M301.7 53.6h0M348.6 49.1h0M305.6 82.9h0M348.3 75.3h0M340 49.8h0M350.7 80.6h0M335.4 54.8h0M295.4 53.7h0M293.6 57.1h0M335 46.3h0M341.8 83h0M347.7 60.4h0M336 54.9h0M355.9 81.8h0M308.6 35.3h0M291.8 53.4h0M347.3 57h0M304.6 21.4h0M338.2 57h0M333.7 68.8h0M339.6 65.2h0M323.7 63.3h0M294 75.1h0M348.5 60.4h0M355.1 59.1h0M295.1 59.9h0M356.8 64.7h0M331.7 44.2h0M345.1 66.1h0M350.4 66.4h0M344.4 54.5h0M319.2 24.8h0M335.6 59.4h0M291.6 58.2h0M314.7 58.7h0M318.7 56.2h0M288.4 39.6h0M344.6 55.7h0M342.9 55.3h0M319.3 53.9h0M307.2 70h0M293.9 52.9h0M355.9 20.2h0M295.5 45.9h0M291.1 49.6h0M312.1 72.6h0M354.6 50.6h0M290.7 60.6h0M292.5 51.3h0M308.2 63.2h0M318.4 66.4h0M340.5 59.6h0M305.6 36.3h0M315.7 47.2h0M345.2 43.7h0M303.7 68h0M304 41.1h0M346.1 60.4h0M338.8 66.5h0M354.9 50.4h0M345.8 60.9h0M335.3 64.1h0M292.8 56.7h0M294.8 55h0M304.9 23.3h0M342.6 60.8h0M311.5 64.3h0M291.5 63.8h0M356.7 52.7h0M314.2 42h0M291 36.8h0M341.8 56.5h0M338.3 54.7h0M309.3 83.8h0M295.8 40.2h0M340.3 71.4h0M292 55h0" stroke="#1c8ee2" stroke-opacity=".15" stroke-width="1.8" stroke-linecap="round" fill="none"/>
<path d="M365.8 58h0M386.6 55.6h0M385.5 55.1h0M390.7 52.4h0M358.5 42h0M376 52.2h0M361.9 55.2h0M388.6 40.6h0M392.1 61.1h0M383.8 53.3h0M370.3 50.6h0M362.6 61.7h0M392 55.5h0M386.5 50.8h0M374.9 61.7h0M376.2 52.6h0M381.2 56.6h0M385.4 48h0M389.8 59.8h0M376.5 56.1h0M375.6 48.8h0M368.1 55.6h0M389.1 50.8h0M369 53.4h0M377.9 55.2h0M384.1 60.3h0M368.7 54.3h0M390.7 61.1h0M366.6 49.5h0M360.1 57.1h0M384.1 64.9h0M365.9 57h0M391.5 58.9h0M371.3 51.1h0M378.9 59h0M359.3 46.5h0M380.2 50.7h0M371.1 49.1h0M377.8 52.2h0M386.8 61.2h0M358.1 63.2h0M377.1 60.8h0M359.1 55.7h0M365.5 58.7h0M388.3 67.3h0M387.6 55.8h0M373.1 55.1h0M388.4 50h0M366.5 69h0M367.9 65.6h0M367.3 57.4h0M387.6 52.6h0M369.8 58.2h0M388.8 55.1h0M359.8 49.6h0M374.4 59.2h0M381.6 55.9h0M379.5 50.2h0M385.9 60.7h0M385.9 51.9h0M364.2 58.5h0M389.3 43.9h0M365.4 58.2h0M381.6 57.6h0M381.9 54h0M371 40.4h0M368.5 50.9h0M371.6 57.4h0M360.3 51.5h0M363.7 52.8h0M367.4 55.6h0M375.8 61.9h0M378 60.5h0M386.4 53h0M383 50.3h0M372.2 46.1h0M358.3 56.2h0M366.1 40.6h0M365.8 54.9h0M359.1 57.1h0M380.5 50.7h0M386.5 53.8h0M380.3 50.1h0M374.5 45.4h0M361.3 63.1h0M381.9 57.8h0M362.5 55.1h0M387.8 51.9h0M386.2 69.2h0M359.2 60.2h0M384.7 53.7h0M369.9 54.2h0M369.6 51.4h0M360.9 60.7h0M358.9 55.3h0M378.5 52.6h0M360.8 53.2h0M358.2 45.5h0M380.1 59h0M370.6 58.3h0M382 50.2h0M359.9 63.5h0M392.4 57.5h0M361.7 57.4h0M372.6 48.9h0M359.2 54.1h0M383 47.9h0M379.3 49.1h0M388 44.1h0M385.9 53.8h0M359.3 56.5h0M388.1 46.1h0M385.2 51.9h0M385.2 55.7h0M362.8 54h0M389.5 46.5h0M358.5 57.2h0M385.9 42.6h0M371.6 52h0M367.5 58.3h0M390.7 34.6h0M381.4 61.1h0M382 54.4h0M360.2 50.9h0M373.2 61.4h0M376.1 56.1h0M377 51.6h0M361 46.2h0M392.2 52.3h0M383.9 49.9h0M367.7 60.4h0M362.7 47.1h0M368.9 58.9h0M385.1 56h0M362.5 48h0M375.8 63h0M362.7 55.9h0M372.2 62h0M366.6 55.3h0M367 54.4h0M392.2 53.6h0M361.1 52.6h0M359.8 58.8h0M362.1 48.2h0M368.1 58.6h0M358.9 55h0M359.5 68.4h0M376.7 61.8h0M381.3 60.5h0M364.4 58.4h0M387.2 58.3h0M391.6 57.9h0M376.9 55.6h0M379.9 45.5h0M360.5 58.1h0M390.2 46.3h0M385.9 57.1h0M371.7 53.1h0M358 64.2h0M379.7 61.1h0M365.1 56.3h0M377.5 59.4h0M374.5 46.2h0M376.8 60.1h0M371.9 49.7h0M363.3 48.3h0M366.4 60h0M361.1 58.1h0M383.7 56.9h0M381.3 54.7h0M379.8 58.6h0M371.8 56.6h0M358.5 59.1h0M383.1 58.5h0M388 61.6h0M392.2 49.9h0M367 58.6h0M390.9 58.5h0M368.8 52.3h0M363.5 74.7h0M377.7 56.7h0M383.4 59.8h0M371.4 51.5h0M362.6 56.1h0M361.5 57.8h0M386.5 57.3h0M392.5 48.8h0M391.3 42.6h0M390.6 53h0M374.8 50.5h0M382.1 58.6h0M374.1 43.3h0M376.2 53.2h0M364.1 47.6h0M361.8 47.7h0M385.4 51.2h0M384.9 53.4h0M379.8 55.7h0M389.3 54.4h0M365.9 53.1h0M387 55.5h0M374.1 58h0M375.5 59.4h0M385.8 61.9h0M381.6 61.5h0M384.9 55h0M364.4 51.8h0M381.9 60.1h0M380.4 47.5h0M392.3 44.3h0M383 57.9h0M381.1 56.6h0M377.6 52.5h0M371.7 54.6h0M360.7 59.8h0M372 58.7h0M367.7 48.9h0M378.3 55.1h0M389.7 52.1h0M385.9 54.8h0M372.7 53.9h0M365 55.6h0M373.6 53h0M380 55.3h0M360.2 58.1h0M378.5 43.5h0M383.8 65.1h0M378.8 54h0M358.9 44.9h0M367.2 67.4h0M377 54.8h0M367.6 54.3h0M362.8 57.3h0M372.5 49.8h0M373.8 51.7h0M374.7 52.2h0M372.9 56.1h0M381.4 52.7h0M362.3 57.1h0M384.8 51.4h0M386.2 55.8h0M374.3 52.2h0M370 50.9h0M389.1 47.6h0M369.5 56.5h0M370.8 59.8h0M360.8 54.6h0M374.3 51.8h0M392.3 50.3h0M379.5 60.7h0M362.9 50.6h0M360.2 55.9h0M358.5 48.5h0M390 50.2h0M379.2 44h0M383.5 49.6h0M362.4 50.4h0M360.2 57h0M387.5 59.6h0M378.7 64.3h0M372.3 61.6h0M374.8 50.7h0M384.2 60.6h0M362.4 58.1h0M375.7 51.8h0M388 60.5h0M385.8 51.1h0M367.4 49.1h0M389.5 51.6h0M371.1 62h0M364.8 55.4h0M374.9 52.4h0M361.4 46h0M363.6 63.4h0M377.1 58.2h0M372.4 52.3h0M375.6 51.3h0M364.8 50.1h0M361.5 65h0M370.2 52.6h0M386.5 50.2h0M372.4 50.7h0M389.9 56.3h0M376.3 63.2h0M360 44.1h0M376.2 53.9h0M390.7 53.8h0M384 49.8h0M378 51.5h0M368.9 64.4h0M378.8 58.4h0M379.6 59h0M385.8 56.3h0M363.6 47.5h0M366.2 55.3h0M376.7 49h0M388.7 58.6h0M383.1 59.3h0M377.7 53.4h0M376.6 54.5h0M382.6 52.1h0M386.6 56.9h0M377.4 49.3h0M385.3 43.1h0M362.1 67h0M392.6 55.8h0M384 60.3h0M375.4 45.8h0M391.5 53.3h0M386.7 51.5h0M373 57.6h0M383.1 49.7h0M378.9 55.8h0M371 49h0M378.4 58.2h0M371.2 48.1h0M380.3 62.8h0M389.4 46.8h0M384.8 51.9h0M379.5 48.1h0M370.7 56.7h0M375.7 59.7h0M384.7 46.7h0M367.1 47.1h0M358.7 50.2h0M378.4 58.1h0M385.8 55.3h0M379.9 51h0M389.2 47.4h0M390.1 58.5h0M378.7 63.5h0M374.8 57.2h0M358.3 54.4h0M386.6 49.7h0M384.7 51.4h0M376.2 62.5h0M379.7 52.8h0M366.8 60.3h0M391.5 49.5h0M360 51.4h0M374.7 50.8h0M380.2 53.6h0M385.4 50.2h0M390.3 63.1h0M370.3 60h0M384.8 51h0M392.1 49.9h0M369.2 51.2h0M373.2 59.8h0M379.8 49.1h0M360.3 60.2h0M384.3 58.7h0M378.9 53.5h0M377.7 52.7h0M358.6 53.5h0M380.7 56.9h0M384.9 42.3h0M374.1 54.5h0M388.1 55.2h0M375.8 51.3h0M377.5 48.3h0M376 51.3h0M377.5 53.7h0M388.2 51h0M368.4 49h0M380.2 52.7h0M367 46.1h0M391.8 57.2h0M378.3 56.2h0M385.5 56.1h0M392.1 45h0M391.4 49.5h0M371.4 48.8h0M384.6 47.5h0M358.6 55.3h0M374.9 53.6h0M366.5 53.8h0M378.7 55.1h0M360 55.7h0M385.9 61.8h0M372.7 62.7h0M384.9 60.5h0M385.6 60h0M381.1 53.4h0M363.4 58.7h0M366.1 61.4h0M373.3 49.6h0M386.3 51.4h0M384 52h0M392.3 48.6h0M383.2 49.9h0M390.1 50.4h0M361.1 49.6h0M382.8 58.3h0M372.4 65.6h0M372.2 45.6h0M387.9 43.4h0M380.1 50.5h0M361.4 53.1h0M374.4 53.3h0M376.4 59.4h0M380.4 47.4h0M370.1 53.5h0M387.7 53.5h0M388.4 51.9h0M363.2 43.8h0M365.1 53.8h0M390.8 55h0M371 60.8h0M386.9 45.9h0M375.9 53.8h0M361.7 63.1h0M367.2 59.9h0M378.4 47.1h0M380.7 50.5h0M358 56.8h0M383.6 53.4h0M360.8 52.9h0M369.8 43.5h0M381.2 46.8h0M373 58.4h0M382.8 51.2h0M364.8 59.8h0M379.4 64.1h0M387.1 63.9h0M388.2 47.8h0M366 61.5h0M379.4 61.4h0M376.4 56.9h0M367.8 62.1h0M366.5 63.5h0M362.8 51.4h0M382.3 61.5h0M378.6 57.1h0M365.9 52h0M374.6 63.5h0M377.8 53.4h0M372.2 56.9h0M386.8 42.9h0M374.4 57.1h0M382.5 51.8h0M364.6 63.2h0M386 54.2h0M367.4 53.6h0M358.3 57.5h0M382.1 53.9h0M369.3 53.8h0M390.3 63.2h0M368.5 52h0M386.7 52.3h0M389.1 52h0M374.3 53.7h0M361.2 57.1h0M377.7 56.6h0M370.7 56.2h0M376.6 48.8h0M369.3 56.6h0M375.2 49.3h0M378 49.3h0M375.7 61.7h0M379.1 50.4h0M388.1 60.4h0M358.6 57.1h0M372 58.2h0M359.9 42.8h0M376.5 51.8h0M387.8 59.3h0M383.1 58h0M363.7 47.9h0M367.3 44.9h0M389.6 58.1h0M360.6 55.9h0M391.6 49.7h0M366 55.7h0M380 48.3h0M377.7 51.9h0M363.3 50.2h0M380.4 54.4h0M380.8 49.8h0M389.8 49.1h0M363.7 45.3h0M358.5 57.1h0M369 59.4h0M368.9 49.9h0M390.2 53.9h0M378.9 51h0M375.1 59.2h0M386.6 52h0M358.2 55h0M375.3 57.3h0M389 58.3h0M385.2 57.7h0M386.5 53.2h0M368.4 54.1h0M391.2 64.5h0M374.2 43.7h0M380.4 56.5h0M374.9 58.6h0M388.4 56.9h0M381.6 52.1h0" stroke="#1c8ee2" stroke-opacity=".27" stroke-width="1.8" stroke-linecap="round" fill="none"/>
<path d="M407.2 58.3h0M460.9 58.6h0M405.1 58.2h0M393.5 43.1h0M424.9 66.4h0M409.4 64.1h0M400 66.1h0M457.7 69.1h0M403.2 56.3h0M463.4 36.4h0M403.7 24.7h0M395.7 53.9h0M399 71.5h0M445.8 73.5h0M399.5 55.8h0M461 60.9h0M405.3 41.3h0M412.6 38.1h0M436.9 60.3h0M429.7 54.7h0M429.2 59.1h0M424.9 50.9h0M449.8 37.1h0M422.4 67.4h0M458.2 29.9h0M437.3 33h0M399.1 51.6h0M406.2 81.9h0M412.3 53.5h0M429.3 46.6h0M453 40.9h0M413.3 59.8h0M446.8 45.2h0M441.4 48.6h0M424.8 52.2h0M418.7 77.2h0M431.9 55.7h0M462 66.6h0M422.4 82h0M433.3 66.1h0M409.1 54h0M413.7 62.1h0M404.8 56.7h0M456.6 59.8h0M421 51.4h0M437.2 43.6h0M458.2 61.7h0M414.8 58.2h0M415.7 24.9h0M399.9 45.1h0M399.2 62.8h0M440.7 50.4h0M454.1 55.9h0M427.1 23.3h0M447.5 68.2h0M410.9 63.9h0M427.3 44.2h0M414.5 59.1h0M460.3 57.1h0M455.1 48.1h0M432 56.7h0M449.5 81h0M417.4 75h0M460.2 85.9h0M414.8 61.7h0M445.1 43.6h0M393.8 28.7h0M415 50.3h0M446.6 59.2h0M455.3 66.1h0M462.8 37.4h0M431.2 54.5h0M397.9 55.6h0M420.5 52.4h0M427.7 64.2h0M397 54.7h0M401.3 48.7h0M431.6 47.6h0M442.5 69.2h0M462.7 24.8h0M414 78.3h0M439 59.3h0M412.7 46.9h0M414.2 63.9h0M421.2 38.8h0M410 48.9h0M430.4 60.6h0M402.3 40.7h0M420.7 43.7h0M453.9 87.2h0M441.8 38.8h0M456.3 37.3h0M408.9 22h0M408.2 57.2h0M447.7 22.4h0M428.2 46.3h0M422.1 49.3h0M417.1 52.2h0M450.3 50.2h0M406.7 69.5h0M463.4 43.8h0M414.9 54.9h0M415.5 48.2h0M450.8 60.9h0M455.8 61.5h0M427.7 55.7h0M435.9 51.9h0M403.1 86.2h0M461.2 57.9h0M408.2 84.3h0M447.1 47h0M393.9 45.3h0M433.9 46.5h0M430.3 54.4h0M443.2 47.6h0M451.7 46.4h0M411.3 60.5h0M395.5 54.2h0M401.7 56.3h0M417.4 60.7h0M427.5 55h0M447.1 62.3h0M454.8 46.7h0M456.9 74.6h0M417 37.4h0M418.3 41h0M444.9 45.5h0M426.8 43.2h0M412.3 80.7h0M407.9 67.3h0M429.2 51.9h0M404.1 53.9h0M404.8 89.3h0M432 69.3h0M461 82h0M451.3 52.8h0M407.2 55.9h0M404.2 56.9h0M411.2 42.9h0M446.4 50.6h0M447.2 39h0M414.7 62.5h0M463.4 59.6h0M452.8 39.5h0M426.6 60.8h0M394.2 52.3h0M434.7 61.8h0M435.8 51.6h0M401.4 58.5h0M431.6 52.9h0M443.8 60.8h0M455.1 58.6h0M400.4 74.8h0M453.9 45.2h0M435.2 56.9h0M423 52h0M430.4 54.3h0M440.5 59.6h0M453.7 26.8h0M427.7 55.3h0M410.2 67.8h0M457.3 55.5h0M445.4 69.1h0M432.3 25.8h0M442.1 44.8h0M426.8 64.7h0M455.7 60.5h0M422.8 56.5h0M411.7 34.7h0M436.6 46.2h0M414.3 51.5h0M422.2 56.1h0M460.2 19.6h0M449 64.5h0M452.6 40.4h0M428.2 45.5h0M437.9 55.3h0M435.4 58.4h0M433.3 60.6h0M424.9 84.1h0M394.7 55.5h0M425.3 67h0M394.4 26.8h0M424.8 53h0M457.3 65.1h0M425.1 46.3h0M418.1 60.5h0M438.5 36.4h0M436.9 64.7h0M464 61.1h0M431 50.2h0M455.1 56.8h0M436.1 44.5h0M431.5 51.5h0M406.7 35.3h0M447.4 58.4h0M422.8 28.5h0M446.4 84.8h0M444.8 67.8h0M422.1 41.7h0M414.8 46.1h0M460.6 58.1h0M406.9 45.7h0M395.4 55.4h0M398.4 63.8h0M400.3 49h0M411.7 52h0M403.4 39.5h0M406.4 52h0M421.7 53.5h0M408.3 58.8h0M429.4 60.3h0M415.6 55.9h0M415.6 57.6h0M410.1 51.8h0M404.1 43h0M445.9 52.6h0M404.4 66.6h0M423.1 35.9h0M438.7 52.7h0M414.5 36.2h0M457.2 56.8h0M412 70.6h0M403.3 42.4h0M408.6 42.2h0M437.1 72.2h0M453 51.7h0M440.1 69.7h0M435.9 46.9h0M459.1 62.9h0M423.5 46.6h0M446.5 84.1h0M430.7 75.8h0M414 56.7h0M416.4 37.4h0M445.8 81.4h0M462.5 68.8h0M455.7 68h0M464.3 42.2h0M407.2 61.5h0M424 61.2h0M447.4 36.9h0M449.4 48.3h0M415.7 62.6h0M445.7 46.4h0M423 86.9h0M435.7 68.9h0M441.4 52.4h0M393 49.9h0M445.2 21.8h0M425.8 26.4h0M436.2 58.2h0M410.2 52.4h0M417.2 65.3h0M463.7 46.8h0M419 65.8h0M424.5 64.7h0M458.4 58.9h0M439.3 79.5h0M442.3 56.8h0M397.7 53h0M452 60.7h0M446.2 42h0M404.8 63.6h0M434.6 26h0M408.6 36.5h0M408.9 57.1h0M414.6 61.3h0M459.1 61.2h0M394.3 52.4h0M455.9 52.9h0M432.6 56.4h0M447.3 73.3h0M459.1 49.6h0M399 58.1h0M395.9 57h0M443.9 70.9h0M423.8 59.5h0M420.9 34.6h0M413 77h0M437.5 55.1h0M463.8 30.3h0M463 40.4h0M461 54.2h0M418.3 46.7h0M450.3 50.7h0M452.5 42h0M438 50.5h0M450.3 39.9h0M418.9 60h0M447.6 58.2h0M409.9 65.4h0M407.9 57.9h0M440.8 63.9h0M423 38.4h0M431.4 56.8h0M401.4 60.5h0M446 27h0M445 44.9h0M411.8 42.7h0M463.3 68.6h0M421 52.6h0M394.4 60.6h0M408.4 77.8h0M416.8 54.2h0M442.3 46.5h0M449.9 48.9h0M446.5 65.8h0M447 58.6h0M422.4 55.9h0M445.6 68.5h0M448.4 53.3h0M414.3 47.3h0M411.1 64h0M397.3 46.3h0M449.6 34.7h0M454.7 48.7h0M394.5 50.3h0M452 58.2h0M424.3 50.3h0M427 43.4h0M437.1 45.8h0M415.1 44.7h0M411.5 59.4h0M429.6 52.7h0M451 57.7h0M460.1 68.3h0M448.3 48.9h0M443.3 82.4h0M397.7 59.7h0M434.9 53.1h0M397.1 55.4h0M453.8 68.2h0M448 57.8h0M457.5 66.7h0M463.8 45.1h0M438.1 65.9h0M425 62.8h0M420.6 69.6h0M418.9 68.2h0M455.1 80.5h0M436.9 54.6h0M406.5 42.8h0M400.1 40.2h0M399.4 62.3h0M456.6 43.3h0M446.5 58.4h0M431.7 53.1h0M442.1 59.8h0M400 45.6h0M398.2 57h0M436.2 56.3h0M416.2 42.4h0M462.5 54.3h0M427.7 51.1h0M430.3 59.9h0M421.1 64.9h0M444.2 67.1h0M419.9 39.8h0M459.2 58.7h0M411.2 67.9h0M427.1 35h0M456.3 54.9h0M395.2 48.7h0M432.1 33.1h0M427.2 71.1h0M429.4 26h0M442 60.2h0M446 56.7h0M444 61.7h0M457.2 61h0M417 45.9h0M455.5 55.5h0M399.2 33.1h0M450.7 53.2h0M400.8 53.7h0M431.9 53h0M424 40.6h0M424.2 31.9h0M454 68.9h0M426.4 29.9h0M452.7 62.3h0M457.9 45.3h0M458.1 43.5h0M431.4 65.8h0M449.8 36.5h0M409.5 63.7h0M401.8 60.5h0M452.3 83.9h0M409.4 40.7h0M396.1 46h0M434.8 74.4h0M429.5 52.1h0M426.9 54.9h0M436.8 54.6h0M402.5 43.7h0M448.6 56.8h0M429.8 48.7h0M410.9 60.4h0M398.9 53.2h0M413.7 62.8h0M411.5 62.9h0M463.5 61.6h0M402.6 89.4h0M450.2 45.9h0M411.2 50.7h0M439.7 64.9h0M436.2 53.8h0M462.4 45.1h0M413.8 60.8h0M459.5 38.3h0M452.3 64.4h0M407.7 43.8h0M435 56h0M404.9 51.3h0M402 54.9h0M399.4 46.7h0M454.2 61.6h0M402.3 60.4h0M441.9 62.1h0M462.9 60h0M404.5 37.9h0M398.4 76.3h0M446.6 57.9h0M422.7 56.2h0M395.3 53h0M444 87.2h0M400 53.1h0M446.6 66.2h0M449 53.8h0M420.3 42.2h0M409.2 39.6h0M439.6 42.4h0M417.4 41.8h0M463.4 42.7h0M443.2 34.1h0M426 68.8h0M413.7 76.6h0M411.2 40.4h0M453 59.1h0M421.6 60h0M409.3 50.6h0M453.7 64.5h0M408.8 89.2h0M448 50.3h0M420.9 48.7h0M459.6 42.4h0M440.5 62.9h0M401.7 60.8h0M444.7 61.5h0M430.1 43.2h0M424.8 37.2h0M454 53.5h0M455.3 77.4h0M433.7 48.5h0M445 57.9h0M416.5 79h0M460.1 29.9h0M443.4 54h0M422.5 40.5h0M404.9 63.4h0M451.2 64h0M418.3 46h0M438.4 52.9h0M459.4 74.6h0M433.4 33.6h0M459 42.5h0M440 40.3h0M400.7 50h0M439.6 72.2h0M425.5 62.5h0M395.7 28.1h0M393.8 67.6h0M445.6 47.3h0M437.4 51.5h0M443.3 86.8h0M438.2 48.6h0M397.5 68.2h0M443.3 64.5h0M428.4 59.8h0M431.5 59h0M400.1 79.6h0M420 41.6h0M458.4 63.5h0M424.7 57h0M436.7 53.4h0M399.5 31.4h0M397.4 56.7h0M428.3 23.8h0M425.8 59.4h0M460.6 41.6h0M428.2 58.3h0M444 88h0M440.1 53.4h0M413.2 30.4h0M423.5 55.7h0M437.1 48.2h0M414.7 59.3h0M441.8 60.3h0M458.7 45.7h0M420.4 60.4h0M399 62h0M457.8 30.8h0M462.2 41.2h0M415.8 79.2h0M427.4 52.4h0M450.3 58h0M439.4 32.1h0M420.9 60h0M414.6 78.5h0M422.4 58.5h0M412 45.4h0M433.4 41.5h0M397.2 50.5h0M437.4 62h0M435.1 63.3h0M418.1 45.6h0M461.1 54.1h0M400.7 72.4h0M441.6 33.9h0M435.2 52.2h0M462 59.4h0M456 63.4h0M418.7 72.1h0M399 59.5h0M409.6 61.8h0M395.2 75.2h0M396.5 48.8h0M434.2 70.1h0M422.5 53.2h0M423.5 55.4h0M424.4 79.3h0M409.9 45.1h0M461.3 44.2h0M456.3 50.7h0M426.1 64.3h0M451.5 49.7h0M453.2 58.6h0M424 78.4h0M395.5 63.4h0M421.9 42h0M409.7 62.4h0M452.4 68.8h0M448.2 64.7h0M426.4 73h0M437 62.6h0M462 41.9h0M460.2 57h0M399.2 61.4h0M406.6 48.9h0M427.8 42.5h0M422.8 68.6h0M394.6 56.6h0M411.8 64.8h0M405.6 64.1h0M395.2 36.8h0M423 59.1h0M452.1 43.4h0M425.4 59.1h0M431 38.3h0M456.5 77.3h0M415.8 50.4h0M463.4 41.5h0M393.3 63.7h0M405.5 49.6h0M445.8 52h0M464.2 43.6h0M397.7 76.4h0M462.1 81.1h0M421.8 47.3h0M394.7 55h0M393.4 54.5h0M437.8 52.3h0M438.9 86.4h0M428.3 46.5h0M448.5 44.4h0M433.9 53.1h0M408.2 46.6h0M433.6 50.9h0M422.6 64.1h0M410.9 28.8h0M459.6 82.8h0M463.7 28.5h0M459.4 43.3h0M464.3 57h0M446 47.2h0M424.8 51h0M418.9 37.3h0M423.2 43.5h0M417.4 47.1h0M437.6 43.1h0M409.7 65.8h0M444.6 54.8h0M418 67.1h0M413 59h0M428.6 49.8h0M397.1 36h0M444.4 51.2h0M404.1 52.2h0M417.3 57.3h0M398 41h0M410.8 51.4h0M405.4 58.6h0M402.8 58.1h0M454.2 53.2h0M395.6 76.5h0M415.1 64.1h0M436.1 45.7h0M414.1 56.8h0M448.2 59.3h0M412.8 59.2h0M463.6 61.7h0M437 53h0M403.1 38.1h0M410.1 43.4h0M446.9 44.7h0M460.4 65.1h0M413.8 42.3h0M419.5 55.8h0M455.8 56.6h0M421 60.1h0M424.9 48.5h0M414.8 41.3h0M442.6 39.8h0M432.1 41.7h0M426.5 62.5h0M444.7 65h0M458.5 41.2h0M420.9 77.2h0M405.5 46h0M456.2 37h0M441.3 46.6h0M425.9 41h0M456.9 57.4h0M461.1 38h0M403.9 71.8h0M424.2 70.2h0M420.7 39.4h0M445.2 66.5h0M413.8 58h0M449.4 50.1h0M419 30.3h0M418.5 58h0M394.3 56.1h0M404.8 66.6h0M440.3 61.3h0M427.6 71.4h0M423.6 50.8h0M455.3 58h0M422.1 46.9h0M439 79.9h0M402.3 56.3h0M456.9 43.5h0M394.8 67.3h0M393.5 67.7h0M422.2 52.2h0M442.5 54.2h0M419.8 66.8h0M447.7 42.8h0M418.5 48.8h0M415.7 58.6h0M438.9 53.2h0M420 53.1h0M464.3 52.3h0M417.2 45.2h0M419.6 30.1h0M399.5 65.3h0M417 60.7h0M425.3 51.6h0M406.7 56.3h0M440 45h0M457.1 32.9h0M402.6 29.1h0M455.6 38.3h0M395.9 49.3h0M428.4 62.9h0M448.4 46.3h0M424.5 47.3h0M396.7 52.7h0M409.4 82.7h0M448 59.8h0M452.3 53.6h0M399.5 51.7h0M401.4 36.5h0M449.5 53.6h0M432.9 57h0M397.1 51.8h0M393.6 72.6h0M419.3 51.6h0M397.2 69.5h0M448.2 57h0M399.8 40.1h0M418.9 63.5h0M435.7 38.1h0M460.6 65.5h0M461 58.9h0M396.7 27.4h0M447.9 54.1h0M400 30.3h0M436.5 78.6h0M459.9 71.8h0M446.7 75.9h0M416.5 88.2h0M444.9 57.7h0M453.3 58h0M424.1 55.3h0M451 46.6h0M402.4 66.6h0M433.8 88.1h0M419.2 46.4h0M415.6 50.5h0M420.1 44.9h0M416.8 46.5h0M441.3 31h0M406.1 42h0M433.6 41.6h0M457.1 47.9h0M455.3 54.4h0M404.3 46.4h0M419 67.7h0M412.7 51.4h0M432.9 39.1h0M439.5 54.6h0M440.1 62.2h0M455.6 50.1h0M458.7 25.1h0M415.7 46.3h0M428.3 50.8h0M437 43.8h0M424.7 75.1h0M412 68.6h0M452.9 64.1h0M448.7 50.7h0M444.4 57.2h0M458.1 77.7h0M437.5 68.5h0M446.5 50.4h0M456.1 71.1h0M449.1 29.1h0M460.4 70.8h0M401.3 67.8h0M443 47.6h0M449.2 59.2h0M426.5 67.4h0M403.7 45.7h0M436.4 47h0M442.6 68.2h0M428 59.7h0M456 24.9h0M433.9 73.5h0M405.4 65.1h0M411.9 76.3h0M414.8 42.5h0M440.4 50.7h0M453.6 69.4h0M428.9 63.9h0M447.1 62.7h0M414 57h0M440 60.5h0M413.4 44.4h0M406.4 61.2h0M414.5 65h0M451.8 42.1h0M426.5 71.5h0M456.8 59.3h0M430 59.3h0M396.2 54.1h0M408.5 68h0M453.4 51.5h0M444.2 49.7h0M421 40.8h0M408.3 61.9h0M437.2 53.8h0M427.7 41.4h0M429.7 57.8h0M395.8 53.9h0M406.8 66.3h0M431.9 47.4h0M452.5 43.3h0M422.4 47.3h0M445 54.6h0M417.6 37.8h0M439.8 54.1h0M399.8 68.6h0M447.5 48.2h0M455.4 46.2h0M418.2 59.3h0M426.8 40.7h0M416.1 46.7h0M424.8 60.6h0M394 57.5h0M429.8 51.4h0M432.1 61.1h0M447.7 84.4h0M464.2 47.4h0M418.8 43.7h0M450.9 63.2h0M432.9 41.6h0M403.4 37.3h0M412 59.3h0M450.5 56.4h0M435.9 54.6h0M436.3 86.9h0M440.8 60.6h0M463.6 28.5h0M400.1 53.9h0M459.4 69.9h0M416.5 65.9h0M444.2 60h0M416.6 40h0M421.7 56.9h0M442.1 60.9h0M427 53.4h0M464.3 68.7h0M408.8 41.8h0M446.1 72.6h0M414.1 65.2h0M441.7 77.8h0M459.4 49.5h0M400.9 66h0M452.5 57.4h0M453.8 83.6h0M428.9 54.9h0M407 58.9h0M420.2 56.9h0M438.7 55.3h0M453.7 80.7h0M454.9 62.7h0M464 59.1h0M400.7 44.2h0M459.4 58.2h0M404.1 49.6h0M437.6 67.6h0M409 49.2h0M451.4 60.9h0M447.1 46.5h0M443 54.4h0M451.7 38.3h0M425.6 50.6h0M415.2 41.6h0M434.5 54.4h0M455.1 56.6h0M429 66.3h0M464.2 48.4h0M401 30.4h0M455.3 51.5h0M450.9 37.9h0M445.7 62.9h0M426.1 55.6h0M457 36h0M429.4 48.1h0M461.3 60.5h0M414.9 61.1h0M408.7 58.8h0M410.7 46.3h0M398.6 49.3h0M415.4 60.8h0M421.8 50.1h0M407 55.9h0M451.7 63.3h0M419.8 50.9h0M452.9 65.2h0M457.8 24h0M462 55.1h0M449.1 40.4h0M402.2 48.2h0M437.3 71.7h0M419.1 81.6h0M447.2 24.7h0M440.9 45.8h0M418.9 66.2h0M404.4 52.9h0M438.1 50.3h0M455 52.5h0M460.8 89h0M453.4 49.8h0M397.9 36.7h0M409.5 50.4h0M444.3 44.4h0M426.1 49.8h0M447.2 48.5h0M440.5 45.6h0M462.7 41.1h0M455.5 54.2h0M444.2 49.7h0M421.2 61.7h0M424.3 72.6h0M407.7 50.1h0M461.9 37.8h0M454.1 72.8h0M419.1 47.7h0M431 55.3h0M452.2 46.7h0M440.2 63.5h0M437.2 57.6h0M416.1 50.3h0M421.9 36.2h0M452.9 37.4h0M448.6 76.1h0M462.1 46.2h0M413.1 44.4h0M408.5 30.1h0M446.6 53.1h0M460 58.2h0M397.4 46.1h0M428.1 55.2h0M420.9 60.6h0M408.5 72.5h0M427.4 64.8h0M441.6 40.8h0M413.9 67.6h0M441.3 53.3h0M459 59.6h0M406.5 52.9h0M406.7 54.4h0M431.5 53.8h0M426.3 65.4h0M449.6 60.9h0M412.8 56h0M455.2 56.2h0M409.9 64.3h0M414.5 49.2h0M460.7 41h0M414.7 56.5h0M409.3 44h0M447.9 48.4h0M433 53.2h0M438.5 58.2h0M408.4 66.7h0M424.9 56h0M397 69.8h0M433.8 50.5h0M437.5 59.8h0M438.7 51.1h0M447.6 53.2h0M424.8 58.5h0M432.7 88.5h0M412.9 54.1h0M449.2 63.6h0M432.1 45.7h0M454.4 63.5h0M433.5 71.5h0M411 35.7h0M454.2 46.4h0M416.9 67.4h0M403.1 58.5h0M448.6 49.8h0M456.3 70h0M456.4 69.3h0M460.2 83.8h0M399.2 75.5h0M457.6 34.4h0M423.5 43.9h0M414.2 61.6h0M460 64.9h0M438.1 52.9h0M458.9 54.4h0M399 48.3h0M397.4 40h0M407.4 46.8h0M427 22h0M414.9 46.3h0M453.5 44.3h0M404 53.9h0M411.1 65h0M436.6 35.7h0M437.6 62.7h0M397.1 59.8h0M407.2 44.4h0M421.6 60.2h0M457.7 39.2h0M411.4 58.8h0M405.1 51.7h0M462.3 55.7h0M458.2 65.1h0M424.3 31.2h0M419.1 43.3h0M452.3 66.1h0M449.1 63.4h0M416.9 65.7h0M427.2 55.2h0M419.7 48.2h0M419 63.9h0M410.5 41.1h0M443.3 74.8h0M423.5 67.6h0M425.5 67.9h0M449.1 62.7h0M441 58h0M438.7 43.2h0M403.6 26h0M435.1 73.2h0M458 49.8h0M441.5 66.8h0M395.3 54.7h0M450.6 59.7h0M419.6 62.3h0M402.6 80h0M396.7 61.1h0M442.5 53.2h0M406.7 63.1h0M424 54h0M429.9 71.2h0M458.5 70.3h0M410 62.4h0M460.2 77.3h0M462.6 53.8h0M423.6 45.8h0M445.8 55.7h0M461.1 54.3h0M423.8 48.7h0M427.9 53.7h0M405.5 43.8h0M452.3 35.9h0M430.7 53.1h0M428 51.4h0M411.6 73.8h0" stroke="#1c8ee2" stroke-opacity=".15" stroke-width="1.8" stroke-linecap="round" fill="none"/>
<path d="M475.7 55.6h0M477.8 58.8h0M489.9 55.7h0M482.4 66.2h0M474 59.4h0M480.3 65.2h0M472.1 58.8h0M465.9 57.8h0M479.3 55.8h0M494.3 55.2h0M475.9 50.8h0M464.9 61.9h0M485.5 52.6h0M480.5 57.9h0M475.9 52.3h0M492.4 62h0M483 48.4h0M472.3 54.3h0M484 58.6h0M484.5 55.2h0M495.5 53.9h0M475.8 59h0M479.3 59.2h0M467.7 65.1h0M495.9 53h0M497 51.2h0M471.5 56.4h0M489.4 55.9h0M490.7 57.3h0M476.1 52.4h0M496.5 53.8h0M494.3 63.1h0M479.2 52.8h0M488.4 54.2h0M491.2 54.7h0M475.2 51.9h0M465.9 53.6h0M482.2 58.6h0M467.3 50.5h0M468.3 49.2h0M495.7 47.6h0M490.3 60.4h0M491.5 47.2h0M481.8 57.4h0M488.5 54.5h0M490 58.5h0M484.5 48.1h0M466.3 54.4h0M467.7 51.1h0M465.6 47.9h0M481.4 55.7h0M467.7 57.4h0M492.9 55.3h0M488.7 53.3h0M483.6 52.7h0M495.4 55.2h0M469.8 54.1h0M471.2 47h0M470.9 55.7h0M481.3 51.5h0M468.1 54h0M482.4 55.3h0M483.5 50.1h0M474.7 43.2h0M490.6 57.9h0M465.6 53.4h0M478.4 56.5h0M486.7 47.5h0M489.1 59.2h0M475.1 54.5h0M466 50.2h0M479.3 54.5h0M483.2 54.4h0M491.7 59.3h0M484.2 57.1h0M483.5 54.4h0M485.4 64.9h0M496.5 52.3h0M466.5 56.8h0M470.8 53h0M489.5 49h0M478.6 52.3h0M494 53.5h0M489 52.8h0M480.6 58.3h0M471.8 56.6h0M490.5 48.6h0M483.1 56h0M488.1 55.5h0M470.5 48.7h0M486.9 64.9h0M488.8 51.5h0M487.1 54.8h0M495.1 57.1h0M485.6 65.7h0M472.4 51.3h0M494.1 53.2h0M496.4 49h0M464.9 63.2h0M480.2 53.5h0M483.3 50.6h0M482.4 59.2h0M484.4 53.5h0M484 57.1h0M474.4 48.5h0M464.8 45.7h0M474.9 57.5h0M464.7 59.3h0M478.3 47.9h0M470.1 57.2h0M481.8 48.5h0M481 47.8h0M481.7 49.9h0M464.4 61.9h0M471.9 52h0M484.3 56.7h0M466 56.2h0M478.5 49.4h0M478.4 55.2h0M476 54.3h0M483.6 55.2h0M486.2 56.8h0M479.9 54.8h0M469.9 56.6h0M486.3 58h0M476.6 57.6h0M473.4 52.3h0M470.4 56.7h0M468 59.5h0M496.3 42h0M478.2 57.8h0M479.5 56h0M484.9 42.7h0M493.2 57.7h0M493.5 55.1h0M465.9 56h0M486.8 62.5h0M496.2 45h0M495.6 56.1h0M480.8 55.3h0M474 52.3h0M469.5 55h0M479.5 62.4h0M483.3 53h0M476.7 55.7h0M483.2 53.9h0M475.8 48.4h0M480.3 58.4h0M489.5 60.8h0M465.9 52.1h0M483.2 51.4h0M476.7 51.3h0M466.2 54.7h0M481.9 52h0M493.7 58.9h0M489 58.1h0M486.3 49.4h0M467.8 56.3h0M466.5 56.2h0M481.2 47.1h0M491 54.1h0M485.2 49.8h0M495.1 55.3h0M487.6 54.5h0M479.6 54h0M467.5 56.6h0M496.8 53.4h0M486.7 53.3h0M479.3 53.5h0M468.7 55.6h0M496 53.7h0M495.6 53.8h0M465.7 56.2h0M496.2 51.8h0M472 56.2h0M494.5 56.7h0M484.6 47.4h0M485.9 49.5h0M496 54h0M478 55.9h0M485.7 56.1h0M483.7 54.3h0M491.9 48.1h0M467.2 54.8h0M470.4 52.7h0M480.6 46.2h0M476.8 57.1h0M494.7 56.5h0M476.4 54.2h0M485 55.3h0M471.7 56.5h0M493.6 53.1h0M487.1 63.6h0M483.2 52.7h0M475.3 56.3h0M476.4 50.3h0M492.5 57h0M466.2 58.6h0M484.8 58h0M486.9 58.7h0M472.4 57.7h0M482.5 52.3h0M484.4 54.2h0M477.7 59.8h0M496.1 55.2h0M487.7 60.6h0M496.7 51h0M466.7 47.1h0M487.9 61h0M474.1 53.3h0M465.2 47.2h0M497.4 49.2h0M468.9 54.7h0M496.2 48.2h0M495.5 52.7h0M478.6 37h0M489.1 52.8h0M484.9 52h0M469.9 51.8h0M474.9 54.6h0M485.9 54.6h0M495.5 55.2h0M489.2 55.5h0M493.6 52.4h0M494.1 56.8h0M469.3 57.7h0M469.1 55h0M490.5 65h0M489.4 58.3h0M474.6 54h0M494.3 51.7h0M488.6 60.2h0M488.9 53.9h0M474.5 54.6h0M488.7 56h0M465.6 51.3h0M465.8 50h0M470.5 54.8h0M481 56.1h0M471 53.8h0M485.5 48.8h0M481.2 59.5h0M496.3 53.2h0M490.4 62.5h0M473.5 52.7h0M470.7 48.3h0M470.1 52.8h0M465.7 56.7h0M481.7 57.4h0M488.9 64.4h0M467.6 59.5h0M488.8 51.4h0M482.7 55.8h0M476 47.5h0M480.4 56.6h0M469.1 53.3h0M472.4 53.3h0M474.9 56.7h0M470 48.9h0M496.9 55.1h0M468.5 57.4h0M485.8 61.8h0M478.7 58.5h0M471.8 52.7h0M477.8 53.8h0M477.9 51.9h0M474.1 56.9h0M485.6 55.1h0M494.9 50.4h0M470.4 58.3h0M490.7 53.9h0M465.1 53.9h0M483.8 54.5h0M470.7 60.1h0M478.8 56h0M491.2 51.3h0M471.3 59.9h0M493.9 54h0M475 58.6h0M484.6 53.4h0M494.8 53.7h0M473.9 49.5h0M492.6 58.9h0M481.2 58.2h0M474.6 53h0M473.3 41.4h0M484.3 57.9h0M479.2 54.4h0M485.3 56.3h0M482.8 57.3h0M497 63.3h0M485.4 49.8h0M466 52h0M473.9 49.3h0M492.5 50.5h0M479.7 58.3h0M495.8 56.7h0M478.3 58h0M480.3 54.2h0M493.9 54.3h0M495.2 52.7h0M476.5 60h0M466.3 51.2h0M478.6 56.9h0M471.3 57.9h0M479.2 52.6h0M468.9 56.2h0M481.3 61.7h0M494.5 55.5h0M482 62.1h0M493.6 57h0M494.6 58.8h0M484.9 62.3h0M481.6 55.5h0M469.8 52.4h0M486.5 49.1h0M476.5 57.1h0M472.2 58.1h0M469.3 54.7h0M465.3 52.6h0M478.4 47.2h0M471.8 50.9h0M479.9 54.3h0M488.8 59.5h0M470.9 54.2h0M489.1 50.8h0M474.4 54.8h0M495.5 59.6h0M485.9 60.8h0M470 49.3h0M492.1 55.3h0M489.2 54.6h0M475.7 48.4h0M477.9 55.1h0M477.7 50.1h0M495.8 53.7h0M467 57.2h0M478.8 53.3h0M478.5 51h0M467.7 61.2h0M495.2 51h0M475.6 50.4h0M468.5 55.6h0M474.3 59.9h0M485.3 54.3h0M491.6 55.3h0M480 61.8h0M492.1 49.2h0M478 59.8h0M482 55.1h0M492 69.1h0M479 57.3h0M495.9 43.9h0M482.2 57.7h0M491.2 59.7h0M490 52.4h0M473.4 56.1h0M479 53.8h0M483.1 54.1h0M471 53.3h0M487.1 59h0M466.9 58.1h0M488.5 52.4h0M464.6 53.7h0M465.6 53.1h0M468.2 54.7h0M481.2 53.1h0M488.1 57h0M476.3 58.8h0M484.5 49.7h0M467.6 50.8h0M476.9 47.4h0M490.5 55.4h0M495.5 56.6h0M465.2 57.2h0M465.1 52.3h0M464.6 58.5h0M480.5 51.1h0M482.3 54h0M469.8 60.7h0M473.4 58.8h0M481.8 50.1h0M492.5 51.7h0M464.7 49.8h0M490.7 56.7h0M484.1 57.6h0M475.2 60.7h0M492.3 58.3h0M492.5 56.5h0M491 58.8h0M496.4 56.1h0M480.7 56.9h0M491.5 46.4h0M492.8 61.2h0M485.1 55.3h0M468.5 54.7h0M473.6 56.4h0M489.2 53.9h0M475.1 50.2h0M489.5 52h0M480.4 59.8h0M483.8 65.1h0M496.6 54.8h0M465.1 56.9h0M478 56.3h0M492.8 54.2h0M491 56.1h0M469.8 57h0M469.2 49.2h0M484.5 53.8h0M467.6 55.9h0M468 56.4h0M485.4 54.6h0M467.4 53.1h0M484.3 53.6h0M481.4 52.9h0M491.8 52.1h0M469.3 58.1h0M475.8 61.8h0M487.1 51h0M494.1 59.1h0M473.9 53.5h0M491.4 51.9h0M484.9 53.4h0M492.2 56.2h0M477.2 51.6h0M483.2 55.2h0M496.9 56.7h0M491.7 51.3h0M464.5 55.5h0M466.7 66.3h0M472 51.8h0M475.3 47.8h0M482.3 49.7h0M484.6 57.2h0M473.1 55.6h0M484.9 63.7h0M491.4 58.6h0M488.8 49.7h0M482.1 52.3h0M475 57.6h0M483.9 51.9h0M468.9 56.3h0M464.5 59.6h0M495.5 51.2h0M479.3 54.1h0M477.5 46.1h0M471.3 56.7h0M483.3 57.1h0M482.9 54.9h0M465.7 52.2h0M471.3 49.2h0M481.5 55.7h0M475.2 50.3h0M477.7 55.4h0M492.6 53h0M478.9 50.9h0M481.4 49.6h0M477.8 56.9h0M481.6 56.2h0M493.9 51.2h0M469.8 55.5h0M467.8 48.1h0M464.9 47.4h0M473 47h0M489.8 45.9h0M481.5 48.9h0M496.8 54.2h0M474.1 55.9h0M475.2 54.5h0M479.7 50.8h0" stroke="#1c8ee2" stroke-opacity=".27" stroke-width="1.8" stroke-linecap="round" fill="none"/>
<path d="M305 36.5h1M312 62.5h1M334 51.5h1M295 69.5h1M305 49.5h1M352 56.5h1M305 53.5h1M300 48.5h1M334 63.5h1M354 48.5h1M352 44.5h1M349 59.5h1M353 41.5h1M316 38.5h1M342 65.5h1M301 42.5h1M297 49.5h1M354 51.5h1M329 47.5h1M310 70.5h1M342 44.5h1M351 40.5h1M338 58.5h1M329 59.5h1M337 57.5h1M325 48.5h1M351 47.5h1M303 52.5h1M354 41.5h1M343 60.5h1M339 49.5h1M293 57.5h1M350 57.5h1M319 79.5h1M335 53.5h1M330 60.5h1M318 71.5h1M308 61.5h1M352 71.5h1M345 64.5h1M316 46.5h1M341 55.5h1M349 43.5h1M350 45.5h1M336 59.5h1M300 52.5h1M293 57.5h1M336 35.5h1M293 51.5h1M336 73.5h1M342 74.5h1M353 49.5h1M324 67.5h1M295 48.5h1M336 59.5h1M350 57.5h1M320 57.5h1M343 39.5h1M347 64.5h1M325 52.5h1M342 42.5h1M308 52.5h1M292 60.5h1M340 50.5h1M291 52.5h1M338 43.5h1M342 62.5h1M335 33.5h1M321 72.5h1M304 64.5h1M290 52.5h1M301 46.5h1M352 86.5h1M336 67.5h1M316 48.5h1M321 77.5h1M347 21.5h1M293 44.5h1M292 69.5h1M343 58.5h1M298 56.5h1M316 70.5h1M306 60.5h1M343 59.5h1M357 53.5h1M294 53.5h1M308 35.5h1M318 74.5h1M318 48.5h1M326 36.5h1M290 77.5h1M294 26.5h1M335 42.5h1M315 62.5h1M346 60.5h1M290 66.5h1M336 52.5h1M303 45.5h1M308 47.5h1M327 54.5h1M313 78.5h1M308 48.5h1M304 50.5h1M356 67.5h1M300 65.5h1M301 55.5h1M329 55.5h1M305 50.5h1M346 45.5h1M354 63.5h1M334 64.5h1M357 63.5h1M321 51.5h1M318 53.5h1M350 38.5h1M289 59.5h1M290 69.5h1M312 61.5h1M307 59.5h1M344 70.5h1M350 43.5h1M331 37.5h1M296 21.5h1M342 63.5h1M319 58.5h1M322 65.5h1M342 49.5h1M303 58.5h1M348 44.5h1M317 29.5h1M351 70.5h1M306 47.5h1M288 61.5h1M294 30.5h1M291 54.5h1M345 59.5h1M297 50.5h1M335 62.5h1M292 52.5h1M340 62.5h1M335 65.5h1M321 61.5h1M307 53.5h1M304 67.5h1M356 35.5h1M321 46.5h1M353 71.5h1M340 59.5h1M346 59.5h1M335 40.5h1M343 44.5h1M345 59.5h1M345 52.5h1M291 48.5h1M341 55.5h1M293 55.5h1M338 67.5h1M337 66.5h1M325 46.5h1M325 63.5h1M350 49.5h1M350 38.5h1M351 51.5h1M290 76.5h1M328 70.5h1M297 68.5h1M355 38.5h1M351 54.5h1M310 56.5h1M318 55.5h1M328 70.5h1M315 58.5h1M289 60.5h1M320 56.5h1M334 67.5h1M312 53.5h1M352 77.5h1M289 65.5h1M316 51.5h1M330 57.5h1M356 55.5h1M308 50.5h1M311 57.5h1M349 62.5h1M294 62.5h1M347 61.5h1M346 54.5h1M309 62.5h1M315 48.5h1M296 72.5h1M307 63.5h1M323 47.5h1M324 54.5h1M320 56.5h1M302 42.5h1M342 54.5h1M348 70.5h1M291 65.5h1M352 44.5h1M338 52.5h1M295 48.5h1M322 37.5h1M355 62.5h1M291 61.5h1M331 53.5h1M297 44.5h1M315 48.5h1M355 66.5h1M306 74.5h1M306 46.5h1M353 77.5h1M343 51.5h1M294 44.5h1M347 64.5h1M329 63.5h1M301 58.5h1M341 34.5h1M309 42.5h1M350 56.5h1M311 56.5h1M302 61.5h1M298 43.5h1M304 51.5h1M307 42.5h1M301 55.5h1M324 22.5h1M336 52.5h1M295 50.5h1M343 54.5h1M325 66.5h1M356 58.5h1M329 56.5h1M305 43.5h1M336 44.5h1M297 54.5h1M327 46.5h1M308 56.5h1M339 73.5h1M353 67.5h1M315 43.5h1M315 47.5h1M354 66.5h1M304 62.5h1M291 67.5h1M288 59.5h1M321 57.5h1M306 72.5h1M322 40.5h1M336 58.5h1M351 53.5h1M300 25.5h1M309 60.5h1M289 59.5h1M330 60.5h1M304 48.5h1M311 79.5h1M292 57.5h1M310 50.5h1M316 54.5h1M302 19.5h1M308 67.5h1M322 54.5h1M351 55.5h1M320 49.5h1M301 58.5h1M336 35.5h1M321 44.5h1M356 70.5h1M302 61.5h1M299 74.5h1M334 51.5h1M346 40.5h1M343 50.5h1M351 70.5h1M347 50.5h1M329 42.5h1M324 52.5h1M297 56.5h1M346 44.5h1M333 52.5h1M296 40.5h1M313 67.5h1M346 44.5h1M351 58.5h1M325 63.5h1M348 53.5h1M345 63.5h1M342 50.5h1M355 51.5h1M299 80.5h1M298 78.5h1M310 63.5h1M313 63.5h1M315 34.5h1M333 51.5h1M298 67.5h1M356 47.5h1M350 57.5h1M298 52.5h1M312 57.5h1M290 43.5h1M302 45.5h1M301 85.5h1M353 76.5h1M321 60.5h1M307 67.5h1M356 45.5h1M337 59.5h1M311 52.5h1M309 48.5h1M354 72.5h1M324 59.5h1M294 62.5h1M293 75.5h1M353 38.5h1M305 60.5h1M328 61.5h1M355 62.5h1M322 26.5h1M341 56.5h1M294 36.5h1M339 45.5h1M307 58.5h1M330 26.5h1M325 63.5h1M300 76.5h1M316 53.5h1M349 41.5h1M330 54.5h1M338 58.5h1M357 56.5h1M339 63.5h1M343 28.5h1M352 50.5h1M291 40.5h1M310 72.5h1M297 81.5h1M349 63.5h1M309 51.5h1M318 35.5h1M293 41.5h1M298 54.5h1M308 53.5h1M289 49.5h1M344 57.5h1M313 61.5h1M322 37.5h1M336 58.5h1M355 65.5h1M340 75.5h1M303 42.5h1M321 39.5h1M345 54.5h1M339 59.5h1M304 60.5h1M325 24.5h1M307 28.5h1M339 57.5h1M351 45.5h1M346 54.5h1M322 65.5h1M333 71.5h1M334 57.5h1M319 24.5h1M289 42.5h1M292 81.5h1M344 66.5h1M349 43.5h1M323 48.5h1M322 52.5h1M339 89.5h1M345 55.5h1M306 50.5h1M299 43.5h1M328 54.5h1M290 47.5h1M293 67.5h1M335 55.5h1M332 65.5h1M308 66.5h1M338 56.5h1M347 54.5h1M317 57.5h1M354 44.5h1M357 36.5h1M315 60.5h1M313 30.5h1M351 72.5h1M301 60.5h1M352 53.5h1M320 74.5h1M308 72.5h1M302 40.5h1M308 43.5h1M341 58.5h1M334 47.5h1M315 52.5h1M309 56.5h1M327 45.5h1M349 48.5h1M311 38.5h1M312 53.5h1M356 62.5h1M343 51.5h1M320 30.5h1M304 47.5h1M336 50.5h1M343 64.5h1M341 31.5h1M335 38.5h1M295 60.5h1M339 72.5h1M340 51.5h1M328 40.5h1M288 48.5h1M331 50.5h1M292 39.5h1M343 54.5h1M335 57.5h1M352 79.5h1M302 71.5h1M315 48.5h1M321 55.5h1M290 50.5h1M304 50.5h1M304 66.5h1M352 57.5h1M302 60.5h1M333 80.5h1M339 66.5h1M302 72.5h1M348 64.5h1M336 54.5h1M320 43.5h1M307 51.5h1M295 60.5h1M311 69.5h1M350 44.5h1M323 54.5h1M321 31.5h1M304 59.5h1M316 71.5h1M295 53.5h1M325 40.5h1M317 49.5h1M349 43.5h1M331 84.5h1M325 54.5h1M355 57.5h1M349 77.5h1M339 50.5h1M299 48.5h1M304 54.5h1M307 43.5h1M353 63.5h1M299 43.5h1M321 60.5h1M300 70.5h1M338 44.5h1M309 48.5h1M299 61.5h1M353 54.5h1M330 62.5h1M288 44.5h1M294 45.5h1M347 54.5h1M340 56.5h1M350 61.5h1M353 61.5h1M357 53.5h1M349 53.5h1M342 81.5h1M338 39.5h1M316 45.5h1M317 51.5h1M328 45.5h1M296 27.5h1M308 82.5h1M314 60.5h1M295 60.5h1M316 51.5h1M319 49.5h1M289 43.5h1M293 84.5h1M346 66.5h1M352 36.5h1M295 62.5h1M291 47.5h1M323 34.5h1M351 67.5h1M330 57.5h1M301 48.5h1M343 38.5h1M308 53.5h1M326 50.5h1M293 27.5h1M298 46.5h1M332 54.5h1M350 45.5h1M306 36.5h1M313 63.5h1M357 43.5h1M310 43.5h1M332 43.5h1M296 57.5h1M345 28.5h1M311 51.5h1M339 56.5h1M303 57.5h1M306 55.5h1M290 74.5h1M316 48.5h1M333 59.5h1M339 64.5h1M324 70.5h1M340 51.5h1M342 61.5h1M315 57.5h1M345 48.5h1M324 44.5h1M344 54.5h1M294 57.5h1M321 57.5h1M292 36.5h1M342 60.5h1M346 41.5h1M341 56.5h1M319 52.5h1M333 39.5h1M307 72.5h1M345 47.5h1M288 62.5h1M357 70.5h1M301 53.5h1M348 49.5h1M348 75.5h1M350 80.5h1M335 54.5h1M293 57.5h1M335 46.5h1M355 81.5h1M308 35.5h1M291 53.5h1M347 57.5h1M304 21.5h1M338 56.5h1M333 68.5h1M339 65.5h1M323 63.5h1M293 75.5h1M295 59.5h1M350 66.5h1M335 59.5h1M291 58.5h1M314 58.5h1M342 55.5h1M293 52.5h1M312 72.5h1M308 63.5h1M318 66.5h1M340 59.5h1M305 36.5h1M345 43.5h1M304 41.5h1M346 60.5h1M338 66.5h1M345 60.5h1M335 64.5h1M304 23.5h1M314 42.5h1M290 36.5h1M338 54.5h1M309 83.5h1M295 40.5h1M340 71.5h1M386 55.5h1M385 55.5h1M358 42.5h1M388 40.5h1M370 50.5h1M392 55.5h1M386 50.5h1M376 52.5h1M381 56.5h1M385 47.5h1M389 59.5h1M376 56.5h1M375 48.5h1M368 55.5h1M389 50.5h1M377 55.5h1M384 60.5h1M368 54.5h1M366 49.5h1M360 57.5h1M365 56.5h1M391 58.5h1M378 59.5h1M380 50.5h1M371 49.5h1M386 61.5h1M358 63.5h1M377 60.5h1M359 55.5h1M365 58.5h1M388 67.5h1M387 55.5h1M373 55.5h1M388 50.5h1M387 52.5h1M369 58.5h1M388 55.5h1M359 49.5h1M381 55.5h1M379 50.5h1M385 51.5h1M364 58.5h1M381 54.5h1M371 40.5h1M368 50.5h1M371 57.5h1M363 52.5h1M377 60.5h1M358 56.5h1M365 54.5h1M380 50.5h1M386 53.5h1M380 50.5h1M374 45.5h1M361 63.5h1M381 57.5h1M362 55.5h1M387 51.5h1M386 69.5h1M359 60.5h1M369 54.5h1M360 53.5h1M380 58.5h1M392 57.5h1M372 48.5h1M359 54.5h1M382 47.5h1M379 49.5h1M359 56.5h1M385 55.5h1M362 53.5h1M389 46.5h1M358 57.5h1M385 42.5h1M367 58.5h1M390 34.5h1M382 54.5h1M373 61.5h1M376 51.5h1M383 49.5h1M367 60.5h1M362 47.5h1M368 58.5h1M362 55.5h1M372 62.5h1M366 54.5h1M361 52.5h1M359 58.5h1M362 48.5h1M359 68.5h1M381 60.5h1M364 58.5h1M391 57.5h1M360 58.5h1M390 46.5h1M379 61.5h1M365 56.5h1M371 49.5h1M363 48.5h1M366 59.5h1M381 54.5h1M383 58.5h1M368 52.5h1M363 74.5h1M377 56.5h1M383 59.5h1M362 56.5h1M392 48.5h1M391 42.5h1M390 53.5h1M374 43.5h1M376 53.5h1M361 47.5h1M385 51.5h1M384 53.5h1M379 55.5h1M365 53.5h1M387 55.5h1M374 58.5h1M385 61.5h1M381 61.5h1M364 51.5h1M381 60.5h1M383 57.5h1M381 56.5h1M377 52.5h1M371 54.5h1M389 52.5h1M385 54.5h1M372 53.5h1M360 58.5h1M378 43.5h1M383 65.5h1M358 44.5h1M367 67.5h1M377 54.5h1M362 57.5h1M372 49.5h1M373 51.5h1M374 52.5h1M372 56.5h1M362 57.5h1M386 55.5h1M374 52.5h1M370 50.5h1M389 47.5h1M369 56.5h1M370 59.5h1M374 51.5h1M379 60.5h1M360 55.5h1M390 50.5h1M383 49.5h1M360 56.5h1M387 59.5h1M372 61.5h1M384 60.5h1M362 58.5h1M375 51.5h1M388 60.5h1M385 51.5h1M367 49.5h1M371 62.5h1M364 55.5h1M361 46.5h1M377 58.5h1M364 50.5h1M370 52.5h1M386 50.5h1M372 50.5h1M376 63.5h1M390 53.5h1M377 51.5h1M368 64.5h1M378 58.5h1M379 59.5h1M383 59.5h1M382 52.5h1M385 43.5h1M392 55.5h1M383 60.5h1M375 45.5h1M386 51.5h1M383 49.5h1M378 58.5h1M371 48.5h1M380 62.5h1M389 46.5h1M384 51.5h1M379 48.5h1M370 56.5h1M375 59.5h1M384 46.5h1M379 51.5h1M389 47.5h1M374 57.5h1M358 54.5h1M386 49.5h1M384 51.5h1M376 62.5h1M366 60.5h1M359 51.5h1M374 50.5h1M380 53.5h1M385 50.5h1M384 50.5h1M392 49.5h1M369 51.5h1M379 49.5h1M360 60.5h1M384 58.5h1M378 53.5h1M380 56.5h1M384 42.5h1M388 55.5h1M375 51.5h1M377 48.5h1M376 51.5h1M388 51.5h1M368 48.5h1M366 46.5h1M391 57.5h1M391 49.5h1M371 48.5h1M384 47.5h1M358 55.5h1M374 53.5h1M359 55.5h1M384 60.5h1M366 61.5h1M373 49.5h1M383 49.5h1M390 50.5h1M361 49.5h1M382 58.5h1M372 65.5h1M372 45.5h1M361 53.5h1M374 53.5h1M376 59.5h1M380 47.5h1M363 43.5h1M365 53.5h1M390 55.5h1M371 60.5h1M367 59.5h1M378 47.5h1M380 50.5h1M372 58.5h1M379 64.5h1M387 63.5h1M388 47.5h1M379 61.5h1M376 56.5h1M367 62.5h1M366 63.5h1M362 51.5h1M382 61.5h1M378 57.5h1M377 53.5h1M372 56.5h1M386 42.5h1M382 51.5h1M364 63.5h1M367 53.5h1M382 53.5h1M369 53.5h1M390 63.5h1M389 51.5h1M361 57.5h1M370 56.5h1M376 48.5h1M375 49.5h1M378 49.5h1M379 50.5h1M359 42.5h1M376 51.5h1M387 59.5h1M383 58.5h1M389 58.5h1M360 55.5h1M366 55.5h1M380 48.5h1M363 50.5h1M389 49.5h1M363 45.5h1M358 57.5h1M378 51.5h1M375 59.5h1M358 55.5h1M375 57.5h1M368 54.5h1M374 58.5h1M388 56.5h1M407 58.5h1M460 58.5h1M424 66.5h1M409 64.5h1M400 66.5h1M403 56.5h1M463 36.5h1M403 24.5h1M399 71.5h1M445 73.5h1M399 55.5h1M460 60.5h1M405 41.5h1M436 60.5h1M429 59.5h1M449 37.5h1M458 29.5h1M399 51.5h1M406 81.5h1M413 59.5h1M441 48.5h1M424 52.5h1M431 55.5h1M409 54.5h1M413 62.5h1M404 56.5h1M421 51.5h1M437 43.5h1M458 61.5h1M399 62.5h1M454 55.5h1M447 68.5h1M427 44.5h1M414 59.5h1M460 57.5h1M455 48.5h1M431 56.5h1M449 81.5h1M417 75.5h1M445 43.5h1M462 37.5h1M397 55.5h1M427 64.5h1M414 78.5h1M439 59.5h1M409 48.5h1M430 60.5h1M420 43.5h1M441 38.5h1M408 21.5h1M408 57.5h1M447 22.5h1M414 54.5h1M427 55.5h1M403 86.5h1M408 84.5h1M393 45.5h1M433 46.5h1M430 54.5h1M443 47.5h1M451 46.5h1M411 60.5h1M417 60.5h1M447 62.5h1M454 46.5h1M456 74.5h1M416 37.5h1M418 40.5h1M444 45.5h1M426 43.5h1M412 80.5h1M451 52.5h1M407 55.5h1M411 42.5h1M447 39.5h1M414 62.5h1M394 52.5h1M434 61.5h1M435 51.5h1M401 58.5h1M431 52.5h1M455 58.5h1M400 74.5h1M453 45.5h1M435 56.5h1M430 54.5h1M440 59.5h1M453 26.5h1M457 55.5h1M445 69.5h1M442 44.5h1M455 60.5h1M422 56.5h1M411 34.5h1M460 19.5h1M448 64.5h1M452 40.5h1M428 45.5h1M437 55.5h1M433 60.5h1M424 84.5h1M394 55.5h1M425 67.5h1M394 26.5h1M424 52.5h1M457 65.5h1M425 46.5h1M418 60.5h1M438 36.5h1M436 64.5h1M464 61.5h1M430 50.5h1M455 56.5h1M444 67.5h1M422 41.5h1M414 46.5h1M406 45.5h1M400 48.5h1M403 39.5h1M406 51.5h1M421 53.5h1M408 58.5h1M429 60.5h1M415 55.5h1M415 57.5h1M410 51.5h1M404 43.5h1M445 52.5h1M404 66.5h1M423 35.5h1M457 56.5h1M403 42.5h1M423 46.5h1M446 84.5h1M445 81.5h1M455 67.5h1M407 61.5h1M447 36.5h1M449 48.5h1M445 46.5h1M423 86.5h1M435 68.5h1M441 52.5h1M392 49.5h1M445 21.5h1M425 26.5h1M436 58.5h1M410 52.5h1M463 46.5h1M418 65.5h1M424 64.5h1M458 58.5h1M397 52.5h1M451 60.5h1M414 61.5h1M459 61.5h1M394 52.5h1M455 52.5h1M432 56.5h1M447 73.5h1M459 49.5h1M398 58.5h1M443 70.5h1M461 54.5h1M418 46.5h1M450 50.5h1M450 39.5h1M418 59.5h1M447 58.5h1M440 63.5h1M423 38.5h1M431 56.5h1M401 60.5h1M446 26.5h1M411 42.5h1M463 68.5h1M394 60.5h1M408 77.5h1M416 54.5h1M446 65.5h1M447 58.5h1M414 47.5h1M411 64.5h1M397 46.5h1M449 34.5h1M454 48.5h1M394 50.5h1M424 50.5h1M415 44.5h1M451 57.5h1M460 68.5h1M434 53.5h1M397 55.5h1M447 57.5h1M438 65.5h1M425 62.5h1M420 69.5h1M418 68.5h1M406 42.5h1M399 62.5h1M456 43.5h1M446 58.5h1M431 53.5h1M442 59.5h1M399 45.5h1M436 56.5h1M416 42.5h1M427 51.5h1M421 64.5h1M444 67.5h1M419 39.5h1M459 58.5h1M411 67.5h1M427 35.5h1M456 54.5h1M395 48.5h1M432 33.5h1M427 71.5h1M429 26.5h1M446 56.5h1M444 61.5h1M424 31.5h1M426 29.5h1M452 62.5h1M457 45.5h1M431 65.5h1M409 63.5h1M401 60.5h1M452 83.5h1M434 74.5h1M402 43.5h1M448 56.5h1M429 48.5h1M410 60.5h1M411 62.5h1M450 45.5h1M411 50.5h1M436 53.5h1M459 38.5h1M452 64.5h1M407 43.5h1M435 56.5h1M402 60.5h1M441 62.5h1M462 59.5h1M398 76.5h1M422 56.5h1M395 52.5h1M400 53.5h1M446 66.5h1M417 41.5h1M425 68.5h1M411 40.5h1M452 59.5h1M421 60.5h1M408 89.5h1M420 48.5h1M459 42.5h1M401 60.5h1M430 43.5h1M424 37.5h1M455 77.5h1M433 48.5h1M416 79.5h1M460 29.5h1M443 54.5h1M422 40.5h1M451 63.5h1M418 45.5h1M459 74.5h1M400 50.5h1M439 72.5h1M425 62.5h1M393 67.5h1M397 68.5h1M443 64.5h1M431 59.5h1M424 57.5h1M399 31.5h1M460 41.5h1M428 58.5h1M444 87.5h1M440 53.5h1M413 30.5h1M423 55.5h1M437 48.5h1M414 59.5h1M458 45.5h1M457 30.5h1M462 41.5h1M427 52.5h1M450 57.5h1M439 32.5h1M414 78.5h1M433 41.5h1M397 50.5h1M437 61.5h1M435 63.5h1M461 54.5h1M441 33.5h1M435 52.5h1M418 72.5h1M398 59.5h1M395 75.5h1M396 48.5h1M422 53.5h1M423 55.5h1M424 79.5h1M409 45.5h1M461 44.5h1M456 50.5h1M451 49.5h1M424 78.5h1M395 63.5h1M421 41.5h1M448 64.5h1M462 41.5h1M406 48.5h1M422 68.5h1M411 64.5h1M405 64.5h1M395 36.5h1M422 59.5h1M430 38.5h1M456 77.5h1M463 41.5h1M393 63.5h1M405 49.5h1M445 52.5h1M397 76.5h1M421 47.5h1M437 52.5h1M433 53.5h1M433 50.5h1M422 64.5h1M410 28.5h1M459 82.5h1M463 28.5h1M464 56.5h1M445 47.5h1M424 50.5h1M418 37.5h1M423 43.5h1M417 47.5h1M437 43.5h1M409 65.5h1M417 67.5h1M413 58.5h1M428 49.5h1M397 35.5h1M444 51.5h1M417 57.5h1M398 40.5h1M410 51.5h1M415 64.5h1M436 45.5h1M448 59.5h1M437 53.5h1M403 38.5h1M460 65.5h1M413 42.5h1M419 55.5h1M420 60.5h1M426 62.5h1M458 41.5h1M456 37.5h1M441 46.5h1M425 41.5h1M403 71.5h1M424 70.5h1M445 66.5h1M413 57.5h1M418 30.5h1M394 56.5h1M440 61.5h1M423 50.5h1M455 57.5h1M422 46.5h1M438 79.5h1M456 43.5h1M394 67.5h1M393 67.5h1M422 52.5h1M418 48.5h1M438 53.5h1M420 53.5h1M464 52.5h1M417 45.5h1M419 30.5h1M416 60.5h1M425 51.5h1M406 56.5h1M439 45.5h1M457 32.5h1M402 29.5h1M395 49.5h1M428 62.5h1M448 46.5h1M396 52.5h1M409 82.5h1M447 59.5h1M401 36.5h1M449 53.5h1M397 51.5h1M397 69.5h1M448 57.5h1M399 40.5h1M418 63.5h1M435 38.5h1M461 58.5h1M396 27.5h1M447 54.5h1M399 30.5h1M436 78.5h1M446 75.5h1M416 88.5h1M444 57.5h1M453 57.5h1M424 55.5h1M450 46.5h1M402 66.5h1M433 88.5h1M419 46.5h1M433 41.5h1M412 51.5h1M432 39.5h1M439 54.5h1M440 62.5h1M455 50.5h1M458 25.5h1M428 50.5h1M424 75.5h1M452 64.5h1M458 77.5h1M437 68.5h1M456 71.5h1M460 70.5h1M426 67.5h1M442 68.5h1M427 59.5h1M456 24.5h1M433 73.5h1M405 65.5h1M411 76.5h1M453 69.5h1M428 63.5h1M447 62.5h1M413 57.5h1M406 61.5h1M451 42.5h1M456 59.5h1M396 54.5h1M408 67.5h1M421 40.5h1M437 53.5h1M427 41.5h1M395 53.5h1M452 43.5h1M445 54.5h1M399 68.5h1M426 40.5h1M424 60.5h1M394 57.5h1M432 61.5h1M447 84.5h1M418 43.5h1M440 60.5h1M463 28.5h1M416 40.5h1M421 56.5h1M442 60.5h1M426 53.5h1M446 72.5h1M414 65.5h1M459 49.5h1M452 57.5h1M428 54.5h1M438 55.5h1M454 62.5h1M400 44.5h1M404 49.5h1M437 67.5h1M408 49.5h1M451 60.5h1M443 54.5h1M415 41.5h1M455 56.5h1M428 66.5h1M464 48.5h1M400 30.5h1M445 62.5h1M429 48.5h1M461 60.5h1M414 61.5h1M408 58.5h1M410 46.5h1M398 49.5h1M406 55.5h1M419 50.5h1M452 65.5h1M457 23.5h1M462 55.5h1M437 71.5h1M447 24.5h1M440 45.5h1M404 52.5h1M438 50.5h1M453 49.5h1M397 36.5h1M462 41.5h1M455 54.5h1M421 61.5h1M407 50.5h1M454 72.5h1M430 55.5h1M452 46.5h1M440 63.5h1M437 57.5h1M416 50.5h1M421 36.5h1M448 76.5h1M413 44.5h1M408 30.5h1M446 53.5h1M420 60.5h1M408 72.5h1M427 64.5h1M413 67.5h1M458 59.5h1M431 53.5h1M455 56.5h1M414 49.5h1M460 41.5h1M433 53.5h1M438 58.5h1M424 55.5h1M396 69.5h1M433 50.5h1M437 59.5h1M438 51.5h1M447 53.5h1M412 54.5h1M449 63.5h1M433 71.5h1M454 46.5h1M416 67.5h1M403 58.5h1M460 83.5h1M399 75.5h1M457 34.5h1M423 43.5h1M460 64.5h1M458 54.5h1M398 48.5h1M397 39.5h1M407 46.5h1M427 22.5h1M453 44.5h1M411 65.5h1M436 35.5h1M457 39.5h1M411 58.5h1M462 55.5h1M458 65.5h1M424 31.5h1M452 66.5h1M449 63.5h1M427 55.5h1M419 48.5h1M443 74.5h1M425 67.5h1M440 58.5h1M438 43.5h1M403 25.5h1M435 73.5h1M458 49.5h1M395 54.5h1M419 62.5h1M396 61.5h1M406 63.5h1M424 54.5h1M429 71.5h1M409 62.5h1M460 77.5h1M462 53.5h1M423 45.5h1M430 53.5h1M411 73.5h1M489 55.5h1M482 66.5h1M480 65.5h1M472 58.5h1M494 55.5h1M475 50.5h1M464 61.5h1M485 52.5h1M492 61.5h1M483 48.5h1M475 59.5h1M495 52.5h1M476 52.5h1M491 54.5h1M475 51.5h1M465 53.5h1M468 49.5h1M495 47.5h1M490 60.5h1M481 57.5h1M488 54.5h1M484 48.5h1M466 54.5h1M465 47.5h1M481 55.5h1M492 55.5h1M488 53.5h1M469 54.5h1M471 47.5h1M470 55.5h1M481 51.5h1M468 54.5h1M489 59.5h1M465 50.5h1M479 54.5h1M483 54.5h1M491 59.5h1M484 57.5h1M483 54.5h1M485 64.5h1M496 52.5h1M470 52.5h1M489 48.5h1M488 52.5h1M483 56.5h1M470 48.5h1M486 64.5h1M488 51.5h1M495 57.5h1M485 65.5h1M494 53.5h1M483 50.5h1M484 57.5h1M464 45.5h1M474 57.5h1M478 47.5h1M470 57.5h1M481 48.5h1M484 56.5h1M466 56.5h1M478 55.5h1M483 55.5h1M486 56.5h1M479 54.5h1M486 58.5h1M476 57.5h1M473 52.5h1M470 56.5h1M467 59.5h1M480 55.5h1M473 52.5h1M479 62.5h1M483 53.5h1M476 55.5h1M475 48.5h1M480 58.5h1M489 60.5h1M466 54.5h1M493 58.5h1M486 49.5h1M466 56.5h1M481 47.5h1M485 49.5h1M487 54.5h1M467 56.5h1M496 53.5h1M479 53.5h1M495 53.5h1M465 56.5h1M484 47.5h1M485 49.5h1M495 54.5h1M478 55.5h1M483 54.5h1M491 48.5h1M480 46.5h1M476 57.5h1M485 55.5h1M471 56.5h1M493 53.5h1M483 52.5h1M476 50.5h1M482 52.5h1M484 54.5h1M477 59.5h1M496 51.5h1M466 47.5h1M465 47.5h1M496 48.5h1M495 52.5h1M478 36.5h1M489 52.5h1M484 51.5h1M474 54.5h1M485 54.5h1M495 55.5h1M489 55.5h1M493 52.5h1M494 56.5h1M469 55.5h1M489 58.5h1M488 60.5h1M474 54.5h1M488 56.5h1M465 51.5h1M465 50.5h1M470 54.5h1M470 53.5h1M485 48.5h1M481 59.5h1M496 53.5h1M490 62.5h1M470 52.5h1M481 57.5h1M488 64.5h1M488 51.5h1M482 55.5h1M469 53.5h1M485 61.5h1M478 58.5h1M471 52.5h1M485 55.5h1M470 58.5h1M465 53.5h1M483 54.5h1M470 60.5h1M478 56.5h1M491 51.5h1M493 54.5h1M474 58.5h1M484 53.5h1M494 53.5h1M473 49.5h1M492 58.5h1M474 52.5h1M484 57.5h1M497 63.5h1M473 49.5h1M478 57.5h1M480 54.5h1M495 52.5h1M466 51.5h1M478 56.5h1M471 57.5h1M479 52.5h1M468 56.5h1M481 61.5h1M494 55.5h1M481 62.5h1M493 57.5h1M494 58.5h1M484 62.5h1M481 55.5h1M486 49.5h1M472 58.5h1M465 52.5h1M471 50.5h1M474 54.5h1M495 59.5h1M485 60.5h1M489 54.5h1M475 48.5h1M477 55.5h1M495 53.5h1M466 57.5h1M478 53.5h1M478 51.5h1M467 61.5h1M495 51.5h1M475 50.5h1M474 59.5h1M491 55.5h1M492 49.5h1M478 59.5h1M481 55.5h1M479 57.5h1M482 57.5h1M491 59.5h1M483 54.5h1M470 53.5h1M487 59.5h1M466 58.5h1M488 52.5h1M465 53.5h1M468 54.5h1M488 57.5h1M476 58.5h1M467 50.5h1M476 47.5h1M490 55.5h1M495 56.5h1M465 57.5h1M465 52.5h1M464 58.5h1M480 51.5h1M482 53.5h1M469 60.5h1M473 58.5h1M481 50.5h1M492 51.5h1M464 49.5h1M490 56.5h1M484 57.5h1M492 56.5h1M480 56.5h1M473 56.5h1M475 50.5h1M480 59.5h1M483 65.5h1M496 54.5h1M465 56.5h1M469 56.5h1M469 49.5h1M484 53.5h1M467 55.5h1M485 54.5h1M467 53.5h1M484 53.5h1M473 53.5h1M491 51.5h1M477 51.5h1M491 51.5h1M466 66.5h1M482 49.5h1M484 57.5h1M473 55.5h1M488 49.5h1M475 57.5h1M483 51.5h1M468 56.5h1M464 59.5h1M495 51.5h1M471 56.5h1M482 54.5h1M465 52.5h1M477 55.5h1M492 52.5h1M481 49.5h1M477 56.5h1M481 56.5h1M493 51.5h1M473 47.5h1M475 54.5h1" stroke="#5a94c8" stroke-opacity=".18" stroke-width="1" fill="none" shape-rendering="crispEdges"/>
<path d="M354 48.5h1M350 54.5h1M347 62.5h1M325 51.5h1M295 44.5h1M316 55.5h1M319 58.5h1M320 41.5h1M292 60.5h1M333 39.5h1M348 51.5h1M303 38.5h1M343 67.5h1M334 55.5h1M341 63.5h1M299 65.5h1M326 30.5h1M307 33.5h1M353 63.5h1M321 74.5h1M354 56.5h1M322 68.5h1M294 65.5h1M355 49.5h1M292 55.5h1M302 53.5h1M335 54.5h1M309 61.5h1M348 60.5h1M330 44.5h1M297 42.5h1M296 55.5h1M301 40.5h1M322 36.5h1M336 48.5h1M340 53.5h1M301 59.5h1M353 50.5h1M294 60.5h1M291 47.5h1M288 57.5h1M296 38.5h1M345 57.5h1M323 71.5h1M303 52.5h1M320 46.5h1M341 57.5h1M316 51.5h1M309 54.5h1M327 60.5h1M304 55.5h1M328 40.5h1M311 40.5h1M317 59.5h1M290 50.5h1M333 81.5h1M296 28.5h1M356 51.5h1M328 65.5h1M314 47.5h1M341 47.5h1M311 57.5h1M305 57.5h1M353 39.5h1M357 45.5h1M335 47.5h1M351 54.5h1M344 65.5h1M350 50.5h1M349 59.5h1M333 57.5h1M296 69.5h1M335 63.5h1M308 47.5h1M341 43.5h1M312 55.5h1M339 77.5h1M293 30.5h1M325 60.5h1M297 71.5h1M326 80.5h1M349 72.5h1M316 32.5h1M338 55.5h1M344 40.5h1M357 51.5h1M357 56.5h1M308 45.5h1M299 81.5h1M315 53.5h1M331 71.5h1M337 56.5h1M329 62.5h1M340 79.5h1M353 59.5h1M316 69.5h1M350 33.5h1M327 55.5h1M345 33.5h1M338 52.5h1M321 43.5h1M305 77.5h1M314 47.5h1M342 62.5h1M309 48.5h1M341 41.5h1M294 59.5h1M302 55.5h1M340 62.5h1M313 61.5h1M308 40.5h1M295 66.5h1M347 36.5h1M296 61.5h1M322 46.5h1M332 50.5h1M353 40.5h1M324 52.5h1M335 24.5h1M290 66.5h1M332 58.5h1M319 57.5h1M310 46.5h1M343 46.5h1M333 53.5h1M357 61.5h1M288 64.5h1M341 40.5h1M307 43.5h1M295 54.5h1M316 56.5h1M296 51.5h1M340 51.5h1M345 41.5h1M342 66.5h1M312 57.5h1M355 49.5h1M293 69.5h1M324 41.5h1M297 69.5h1M329 31.5h1M303 43.5h1M343 64.5h1M353 45.5h1M325 83.5h1M320 52.5h1M342 44.5h1M322 59.5h1M290 55.5h1M325 55.5h1M332 62.5h1M342 55.5h1M313 87.5h1M332 49.5h1M299 50.5h1M299 59.5h1M290 80.5h1M333 57.5h1M354 37.5h1M302 63.5h1M305 24.5h1M306 38.5h1M353 77.5h1M298 31.5h1M324 56.5h1M344 63.5h1M305 41.5h1M317 55.5h1M293 33.5h1M323 40.5h1M347 35.5h1M290 87.5h1M314 75.5h1M349 39.5h1M304 42.5h1M347 69.5h1M343 55.5h1M330 62.5h1M340 37.5h1M288 58.5h1M340 54.5h1M335 34.5h1M356 63.5h1M355 49.5h1M288 51.5h1M290 54.5h1M313 64.5h1M314 53.5h1M308 50.5h1M338 59.5h1M289 49.5h1M357 50.5h1M314 37.5h1M324 55.5h1M294 36.5h1M306 71.5h1M355 57.5h1M350 53.5h1M357 46.5h1M298 36.5h1M326 40.5h1M322 61.5h1M342 64.5h1M343 42.5h1M353 55.5h1M293 67.5h1M314 49.5h1M297 72.5h1M319 49.5h1M323 64.5h1M296 51.5h1M294 60.5h1M339 52.5h1M289 75.5h1M357 66.5h1M324 53.5h1M347 63.5h1M319 48.5h1M307 47.5h1M344 60.5h1M330 51.5h1M356 70.5h1M333 52.5h1M335 55.5h1M328 50.5h1M291 70.5h1M301 76.5h1M329 84.5h1M333 71.5h1M333 55.5h1M314 39.5h1M312 49.5h1M350 63.5h1M315 44.5h1M328 57.5h1M330 31.5h1M289 50.5h1M342 54.5h1M342 41.5h1M352 72.5h1M316 67.5h1M336 59.5h1M322 40.5h1M296 42.5h1M348 41.5h1M322 84.5h1M289 54.5h1M316 48.5h1M297 57.5h1M293 87.5h1M329 54.5h1M306 87.5h1M352 54.5h1M327 70.5h1M294 55.5h1M337 67.5h1M291 79.5h1M357 52.5h1M353 64.5h1M300 51.5h1M333 53.5h1M292 24.5h1M320 54.5h1M355 56.5h1M322 56.5h1M346 79.5h1M349 36.5h1M334 65.5h1M337 48.5h1M312 31.5h1M307 50.5h1M345 64.5h1M299 45.5h1M353 81.5h1M294 58.5h1M322 32.5h1M308 64.5h1M290 76.5h1M328 51.5h1M323 54.5h1M291 59.5h1M326 54.5h1M342 32.5h1M330 78.5h1M300 52.5h1M342 21.5h1M334 49.5h1M317 39.5h1M327 45.5h1M306 43.5h1M311 75.5h1M293 61.5h1M333 68.5h1M317 82.5h1M305 82.5h1M339 49.5h1M341 83.5h1M347 60.5h1M336 54.5h1M348 60.5h1M355 59.5h1M356 64.5h1M331 44.5h1M345 66.5h1M344 54.5h1M319 24.5h1M318 56.5h1M288 39.5h1M344 55.5h1M319 53.5h1M307 69.5h1M355 20.5h1M295 45.5h1M291 49.5h1M354 50.5h1M290 60.5h1M292 51.5h1M315 47.5h1M303 67.5h1M354 50.5h1M292 56.5h1M294 55.5h1M342 60.5h1M311 64.5h1M291 63.5h1M356 52.5h1M341 56.5h1M292 54.5h1M390 52.5h1M376 52.5h1M361 55.5h1M392 61.5h1M383 53.5h1M362 61.5h1M374 61.5h1M384 64.5h1M377 52.5h1M366 68.5h1M367 65.5h1M367 57.5h1M374 59.5h1M385 60.5h1M389 43.5h1M365 58.5h1M381 57.5h1M360 51.5h1M382 50.5h1M366 40.5h1M359 57.5h1M369 51.5h1M360 60.5h1M358 55.5h1M378 52.5h1M358 45.5h1M382 50.5h1M361 57.5h1M385 53.5h1M388 46.5h1M371 52.5h1M381 61.5h1M360 50.5h1M376 56.5h1M361 46.5h1M385 56.5h1M362 48.5h1M375 63.5h1M366 55.5h1M392 53.5h1M358 55.5h1M376 61.5h1M387 58.5h1M376 55.5h1M379 45.5h1M385 57.5h1M371 53.5h1M357 64.5h1M377 59.5h1M376 60.5h1M383 56.5h1M379 58.5h1M371 56.5h1M387 61.5h1M367 58.5h1M390 58.5h1M371 51.5h1M361 57.5h1M386 57.5h1M374 50.5h1M382 58.5h1M364 47.5h1M384 54.5h1M392 44.5h1M360 59.5h1M371 58.5h1M367 48.5h1M378 55.5h1M373 52.5h1M379 55.5h1M378 54.5h1M367 54.5h1M381 52.5h1M384 51.5h1M360 54.5h1M392 50.5h1M362 50.5h1M358 48.5h1M379 44.5h1M362 50.5h1M378 64.5h1M374 50.5h1M389 51.5h1M372 52.5h1M375 51.5h1M361 64.5h1M389 56.5h1M360 44.5h1M376 53.5h1M383 49.5h1M385 56.5h1M363 47.5h1M376 48.5h1M388 58.5h1M377 53.5h1M386 56.5h1M362 67.5h1M391 53.5h1M372 57.5h1M371 48.5h1M358 50.5h1M378 58.5h1M385 55.5h1M390 58.5h1M378 63.5h1M379 52.5h1M391 49.5h1M390 63.5h1M370 60.5h1M373 59.5h1M377 52.5h1M358 53.5h1M374 54.5h1M380 52.5h1M378 56.5h1M385 56.5h1M392 44.5h1M366 53.5h1M378 55.5h1M372 62.5h1M385 59.5h1M381 53.5h1M363 58.5h1M386 51.5h1M383 51.5h1M392 48.5h1M387 43.5h1M380 50.5h1M370 53.5h1M387 53.5h1M388 51.5h1M386 45.5h1M375 53.5h1M358 56.5h1M383 53.5h1M360 52.5h1M369 43.5h1M381 46.5h1M382 51.5h1M364 59.5h1M365 61.5h1M365 52.5h1M374 63.5h1M374 57.5h1M385 54.5h1M358 57.5h1M368 51.5h1M374 53.5h1M377 56.5h1M369 56.5h1M375 61.5h1M388 60.5h1M358 57.5h1M372 58.5h1M367 44.5h1M391 49.5h1M377 51.5h1M380 54.5h1M380 49.5h1M368 59.5h1M368 49.5h1M388 58.5h1M385 57.5h1M386 53.5h1M374 43.5h1M381 52.5h1M405 58.5h1M393 43.5h1M457 69.5h1M395 53.5h1M412 38.5h1M429 54.5h1M424 50.5h1M422 67.5h1M437 32.5h1M429 46.5h1M453 40.5h1M446 45.5h1M418 77.5h1M462 66.5h1M433 66.5h1M456 59.5h1M414 58.5h1M415 24.5h1M427 23.5h1M410 63.5h1M460 85.5h1M414 61.5h1M393 28.5h1M415 50.5h1M446 59.5h1M455 66.5h1M431 54.5h1M420 52.5h1M401 48.5h1M431 47.5h1M442 69.5h1M462 24.5h1M414 63.5h1M402 40.5h1M453 87.5h1M456 37.5h1M428 46.5h1M450 50.5h1M406 69.5h1M463 43.5h1M415 48.5h1M450 60.5h1M461 57.5h1M447 47.5h1M395 54.5h1M401 56.5h1M427 54.5h1M407 67.5h1M429 51.5h1M404 53.5h1M404 89.5h1M460 82.5h1M404 56.5h1M446 50.5h1M463 59.5h1M452 39.5h1M443 60.5h1M423 52.5h1M427 55.5h1M432 25.5h1M426 64.5h1M436 46.5h1M422 56.5h1M435 58.5h1M436 44.5h1M431 51.5h1M406 35.5h1M447 58.5h1M422 28.5h1M446 84.5h1M460 58.5h1M398 63.5h1M411 51.5h1M438 52.5h1M414 36.5h1M412 70.5h1M408 42.5h1M437 72.5h1M453 51.5h1M440 69.5h1M435 46.5h1M413 56.5h1M416 37.5h1M424 61.5h1M415 62.5h1M417 65.5h1M439 79.5h1M442 56.5h1M404 63.5h1M434 26.5h1M408 57.5h1M395 57.5h1M423 59.5h1M413 77.5h1M463 30.5h1M437 50.5h1M409 65.5h1M445 44.5h1M420 52.5h1M442 46.5h1M449 48.5h1M448 53.5h1M452 58.5h1M427 43.5h1M437 45.5h1M411 59.5h1M429 52.5h1M448 48.5h1M397 59.5h1M453 68.5h1M455 80.5h1M436 54.5h1M398 56.5h1M462 54.5h1M430 59.5h1M441 60.5h1M457 61.5h1M417 45.5h1M455 55.5h1M399 33.5h1M400 53.5h1M431 53.5h1M458 43.5h1M449 36.5h1M409 40.5h1M396 46.5h1M426 54.5h1M398 53.5h1M413 62.5h1M463 61.5h1M402 89.5h1M439 64.5h1M462 45.5h1M413 60.5h1M404 51.5h1M399 46.5h1M454 61.5h1M446 57.5h1M444 87.5h1M448 53.5h1M420 42.5h1M409 39.5h1M439 42.5h1M463 42.5h1M443 34.5h1M413 76.5h1M409 50.5h1M440 62.5h1M444 61.5h1M444 57.5h1M404 63.5h1M438 52.5h1M433 33.5h1M459 42.5h1M440 40.5h1M395 28.5h1M445 47.5h1M437 51.5h1M443 86.5h1M438 48.5h1M428 59.5h1M400 79.5h1M420 41.5h1M458 63.5h1M436 53.5h1M397 56.5h1M428 23.5h1M425 59.5h1M399 62.5h1M415 79.5h1M420 59.5h1M422 58.5h1M400 72.5h1M456 63.5h1M409 61.5h1M434 70.5h1M453 58.5h1M409 62.5h1M452 68.5h1M426 72.5h1M436 62.5h1M460 57.5h1M399 61.5h1M427 42.5h1M452 43.5h1M415 50.5h1M464 43.5h1M462 81.5h1M394 54.5h1M393 54.5h1M428 46.5h1M448 44.5h1M408 46.5h1M459 43.5h1M444 54.5h1M404 52.5h1M405 58.5h1M454 53.5h1M395 76.5h1M414 56.5h1M412 59.5h1M410 43.5h1M446 44.5h1M455 56.5h1M424 48.5h1M414 41.5h1M442 39.5h1M432 41.5h1M420 77.5h1M405 46.5h1M456 57.5h1M461 38.5h1M420 39.5h1M418 57.5h1M404 66.5h1M402 56.5h1M442 54.5h1M419 66.5h1M447 42.5h1M415 58.5h1M399 65.5h1M424 47.5h1M452 53.5h1M399 51.5h1M393 72.5h1M460 65.5h1M459 71.5h1M415 50.5h1M420 44.5h1M416 46.5h1M406 41.5h1M457 47.5h1M455 54.5h1M404 46.5h1M436 43.5h1M412 68.5h1M448 50.5h1M444 57.5h1M449 29.5h1M401 67.5h1M443 47.5h1M449 59.5h1M403 45.5h1M436 47.5h1M414 42.5h1M440 50.5h1M440 60.5h1M413 44.5h1M414 64.5h1M429 59.5h1M408 61.5h1M429 57.5h1M406 66.5h1M431 47.5h1M422 47.5h1M417 37.5h1M439 54.5h1M447 48.5h1M455 46.5h1M418 59.5h1M416 46.5h1M429 51.5h1M450 63.5h1M432 41.5h1M403 37.5h1M411 59.5h1M435 54.5h1M436 86.5h1M459 69.5h1M416 65.5h1M444 59.5h1M464 68.5h1M408 41.5h1M441 77.5h1M400 66.5h1M406 58.5h1M420 56.5h1M453 80.5h1M464 59.5h1M459 58.5h1M447 46.5h1M451 38.5h1M455 51.5h1M450 37.5h1M426 55.5h1M456 35.5h1M415 60.5h1M421 50.5h1M451 63.5h1M449 40.5h1M402 48.5h1M419 81.5h1M418 66.5h1M454 52.5h1M460 88.5h1M409 50.5h1M444 44.5h1M426 49.5h1M447 48.5h1M440 45.5h1M444 49.5h1M461 37.5h1M452 37.5h1M462 46.5h1M460 58.5h1M397 46.5h1M428 55.5h1M441 40.5h1M406 52.5h1M406 54.5h1M426 65.5h1M449 60.5h1M409 64.5h1M414 56.5h1M409 44.5h1M447 48.5h1M408 66.5h1M424 58.5h1M432 88.5h1M432 45.5h1M454 63.5h1M410 35.5h1M448 49.5h1M456 69.5h1M456 69.5h1M414 61.5h1M438 52.5h1M414 46.5h1M437 62.5h1M407 44.5h1M421 60.5h1M405 51.5h1M419 43.5h1M418 63.5h1M410 41.5h1M423 67.5h1M449 62.5h1M441 66.5h1M402 79.5h1M442 53.5h1M458 70.5h1M445 55.5h1M461 54.5h1M423 48.5h1M427 53.5h1M452 35.5h1M475 55.5h1M473 59.5h1M465 57.5h1M479 55.5h1M480 57.5h1M483 58.5h1M484 55.5h1M495 53.5h1M479 59.5h1M467 65.5h1M471 56.5h1M490 57.5h1M494 63.5h1M488 54.5h1M482 58.5h1M467 50.5h1M491 47.5h1M467 51.5h1M467 57.5h1M495 55.5h1M483 50.5h1M474 43.5h1M490 57.5h1M478 56.5h1M486 47.5h1M478 52.5h1M494 53.5h1M480 58.5h1M471 56.5h1M490 48.5h1M488 55.5h1M487 54.5h1M472 51.5h1M496 48.5h1M464 63.5h1M482 59.5h1M484 53.5h1M474 48.5h1M464 59.5h1M481 49.5h1M464 61.5h1M471 52.5h1M478 49.5h1M476 54.5h1M469 56.5h1M496 42.5h1M478 57.5h1M479 56.5h1M484 42.5h1M493 57.5h1M465 55.5h1M496 44.5h1M469 54.5h1M483 53.5h1M465 52.5h1M483 51.5h1M476 51.5h1M489 58.5h1M491 54.5h1M479 53.5h1M486 53.5h1M468 55.5h1M496 51.5h1M471 56.5h1M494 56.5h1M485 56.5h1M467 54.5h1M470 52.5h1M494 56.5h1M476 54.5h1M487 63.5h1M475 56.5h1M466 58.5h1M484 57.5h1M472 57.5h1M487 60.5h1M487 60.5h1M497 49.5h1M468 54.5h1M469 51.5h1M469 57.5h1M490 65.5h1M474 53.5h1M494 51.5h1M488 53.5h1M480 56.5h1M473 52.5h1M465 56.5h1M467 59.5h1M475 47.5h1M472 53.5h1M474 56.5h1M469 48.5h1M468 57.5h1M477 53.5h1M477 51.5h1M490 53.5h1M471 59.5h1M481 58.5h1M479 54.5h1M485 56.5h1M482 57.5h1M485 49.5h1M465 52.5h1M492 50.5h1M479 58.5h1M495 56.5h1M493 54.5h1M476 60.5h1M469 52.5h1M469 54.5h1M478 47.5h1M479 54.5h1M470 54.5h1M489 50.5h1M477 50.5h1M468 55.5h1M480 61.5h1M491 69.5h1M490 52.5h1M473 56.5h1M478 53.5h1M464 53.5h1M481 53.5h1M484 49.5h1M475 60.5h1M490 58.5h1M496 56.5h1M485 55.5h1M468 54.5h1M489 52.5h1M478 56.5h1M492 54.5h1M468 56.5h1M481 52.5h1M491 52.5h1M469 58.5h1M475 61.5h1M487 51.5h1M494 59.5h1M484 53.5h1M483 55.5h1M496 56.5h1M464 55.5h1M471 51.5h1M475 47.5h1M484 63.5h1M491 58.5h1M482 52.5h1M479 54.5h1M477 46.5h1M483 57.5h1M471 49.5h1M478 50.5h1M469 55.5h1M467 48.5h1M464 47.5h1M489 45.5h1M496 54.5h1M474 55.5h1M479 50.5h1" stroke="#3a82c4" stroke-opacity=".38" stroke-width="1" fill="none" shape-rendering="crispEdges"/>
<path d="M301 59.5h1M300 47.5h1M303 25.5h1M297 56.5h1M317 74.5h1M304 36.5h1M319 61.5h1M301 24.5h1M298 51.5h1M351 49.5h1M307 54.5h1M349 47.5h1M349 52.5h1M300 57.5h1M330 58.5h1M321 49.5h1M322 53.5h1M291 50.5h1M296 45.5h1M344 45.5h1M301 31.5h1M348 35.5h1M347 59.5h1M349 55.5h1M299 52.5h1M355 48.5h1M343 46.5h1M345 39.5h1M322 50.5h1M305 63.5h1M323 73.5h1M348 33.5h1M312 65.5h1M333 58.5h1M352 55.5h1M328 57.5h1M306 48.5h1M297 54.5h1M308 55.5h1M327 64.5h1M310 58.5h1M317 64.5h1M318 27.5h1M299 40.5h1M310 49.5h1M300 70.5h1M317 51.5h1M290 64.5h1M303 54.5h1M340 50.5h1M290 56.5h1M323 66.5h1M315 69.5h1M296 50.5h1M328 51.5h1M337 36.5h1M289 42.5h1M308 45.5h1M289 69.5h1M345 51.5h1M344 41.5h1M349 61.5h1M310 47.5h1M304 60.5h1M329 72.5h1M307 45.5h1M323 53.5h1M301 50.5h1M326 44.5h1M305 62.5h1M313 83.5h1M306 54.5h1M334 47.5h1M310 48.5h1M316 37.5h1M296 61.5h1M296 35.5h1M308 57.5h1M340 34.5h1M304 61.5h1M325 57.5h1M353 40.5h1M295 53.5h1M365 57.5h1M369 53.5h1M390 61.5h1M371 51.5h1M359 46.5h1M367 55.5h1M375 61.5h1M386 52.5h1M372 46.5h1M384 53.5h1M370 58.5h1M359 63.5h1M388 44.5h1M385 51.5h1M392 52.5h1M368 58.5h1M374 46.5h1M361 58.5h1M358 59.5h1M392 49.5h1M389 54.5h1M375 59.5h1M380 47.5h1M364 55.5h1M374 52.5h1M363 63.5h1M366 55.5h1M376 54.5h1M377 49.5h1M378 55.5h1M367 47.5h1M377 53.5h1M385 61.5h1M361 63.5h1M386 52.5h1M363 47.5h1M390 53.5h1M386 51.5h1M391 64.5h1M380 56.5h1M412 53.5h1M422 82.5h1M399 45.5h1M440 50.5h1M397 54.5h1M412 46.5h1M421 38.5h1M422 49.5h1M417 52.5h1M455 61.5h1M435 51.5h1M431 69.5h1M426 60.5h1M410 67.5h1M414 51.5h1M395 55.5h1M459 62.5h1M430 75.5h1M462 68.5h1M464 42.5h1M446 42.5h1M408 36.5h1M420 34.5h1M437 55.5h1M463 40.5h1M452 41.5h1M407 57.5h1M422 55.5h1M445 68.5h1M443 82.5h1M457 66.5h1M463 45.5h1M400 40.5h1M450 53.5h1M423 40.5h1M454 68.5h1M429 52.5h1M436 54.5h1M402 54.5h1M404 37.5h1M453 64.5h1M447 50.5h1M454 53.5h1M441 60.5h1M420 60.5h1M412 45.5h1M418 45.5h1M461 59.5h1M426 64.5h1M394 56.5h1M425 59.5h1M438 86.5h1M402 58.5h1M463 61.5h1M444 64.5h1M449 50.5h1M427 71.5h1M455 38.5h1M432 56.5h1M419 51.5h1M441 30.5h1M418 67.5h1M415 46.5h1M446 50.5h1M426 71.5h1M453 51.5h1M444 49.5h1M464 47.5h1M450 56.5h1M400 53.5h1M453 83.5h1M425 50.5h1M434 54.5h1M424 72.5h1M419 47.5h1M441 53.5h1M412 56.5h1M403 53.5h1M397 59.5h1M416 65.5h1M450 59.5h1M405 43.5h1M428 51.5h1M477 58.5h1M475 52.5h1M472 54.5h1M496 51.5h1M489 55.5h1M496 53.5h1M479 52.5h1M489 58.5h1M483 52.5h1M482 55.5h1M465 53.5h1M475 54.5h1M466 56.5h1M480 53.5h1M481 47.5h1M493 55.5h1M486 62.5h1M495 56.5h1M481 51.5h1M467 56.5h1M495 55.5h1M495 53.5h1M492 56.5h1M486 58.5h1M496 55.5h1M474 53.5h1M470 48.5h1M480 56.5h1M496 55.5h1M474 56.5h1M494 50.5h1M473 41.5h1M476 57.5h1M488 59.5h1M470 49.5h1M492 55.5h1M485 54.5h1M495 43.5h1M492 58.5h1M491 46.5h1M492 61.5h1M489 53.5h1M491 56.5h1M492 56.5h1M481 55.5h1M475 50.5h1M481 48.5h1" stroke="#2a6aa8" stroke-opacity=".66" stroke-width="1" fill="none" shape-rendering="crispEdges"/>
<rect x="287.75" y="18.6" width="210.25" height="71.8" fill="none" stroke="#565656" stroke-width="1"/>
<path d="M357.8 90.4v-2M357.8 18.6v2M427.9 90.4v-2M427.9 18.6v2M287.8 72.5h2M498 72.5h-2M287.8 54.5h2M498 54.5h-2M287.8 36.5h2M498 36.5h-2" stroke="#444" stroke-width=".85" fill="none"/>
<line x1="357.8" y1="18.1" x2="357.8" y2="91.2" stroke="#4de2ec" stroke-width="1.55" stroke-opacity="0.95"/>
<line x1="393.4" y1="16" x2="393.4" y2="93.4" stroke="#4de2ec" stroke-width="1.4" stroke-opacity="0.8"/>
<line x1="464.4" y1="16" x2="464.4" y2="93.4" stroke="#4de2ec" stroke-width="1.4" stroke-opacity="0.8"/>
<path d="M602.6 52.3h0M601.9 54.1h0M598.8 54.3h0M560 53h0M547 62h0M608.4 53.6h0M584.9 58.9h0M605.8 55.1h0M611.1 59h0M561.7 56.6h0M599 52.4h0M547.3 57.4h0M572.5 55.8h0M599.3 57.3h0M570.4 63.8h0M578.1 49h0M549.8 41.3h0M599 44.2h0M576.7 64h0M559 56.8h0M596.4 67h0M610.7 52.3h0M579.5 62.5h0M593.6 55.2h0M611.7 40.3h0M543.6 55.1h0M583.8 50.7h0M609.9 65.5h0M549.8 61h0M557.3 54h0M580.4 51.9h0M592.5 54.2h0M580.6 71.4h0M580.2 44.5h0M545.1 40.8h0M593.7 66.4h0M564.2 43.9h0M546.7 44.9h0M609.2 50h0M588.1 52.2h0M573.7 49.4h0M593.3 64.5h0M575.3 56.8h0M550.3 62.5h0M584.2 52.6h0M594.3 50h0M594.1 59.4h0M580.5 51.7h0M607.1 59.8h0M608.3 58.4h0M603.3 55.1h0M567.8 47.5h0M560.4 58.1h0M578.9 60.2h0M587.7 60h0M552.8 38.4h0M581 51.5h0M572.5 56.6h0M571.1 53.5h0M569.8 61.2h0M609.6 58.7h0M545.4 63.9h0M607.1 51.5h0M605.7 45.8h0M583.9 67.9h0M554.7 34.8h0M597.4 59.7h0M552.9 58.5h0M564.2 55.4h0M588.6 50.4h0M571.5 56.7h0M574.1 64.7h0M562.9 57.3h0M544.1 62.2h0M567 61.7h0M599.9 58h0M600.2 53.8h0M547.2 48.3h0M580.6 45.3h0M566.5 56.1h0M569.7 52.3h0M611.3 49.6h0M598.7 62.3h0M577.3 65.9h0M577.4 48.4h0M606.3 67h0M568 57.1h0M596.8 57.2h0M593.1 69.2h0M593.6 58.5h0M573.7 65.2h0M589.9 51h0M600.7 61.9h0M562.4 56.2h0M595.4 45.5h0M575.6 55.3h0M579.3 44.7h0M574.3 49.1h0M568 52.1h0M594.7 61.6h0M569.2 65.6h0M554.3 34.9h0M597.2 60.3h0M569.7 60.7h0M582.4 45.5h0M610.9 56.4h0M587.3 54.2h0M578.6 49.7h0M561.6 57.7h0M591.6 65.9h0M609.4 59.1h0M591.6 57.9h0M595.9 58.3h0M564 58.5h0M563.6 47.5h0M566.8 63.6h0M575.3 38.7h0M604.6 59.6h0M574.5 71.6h0M554 51.3h0M579.2 55.9h0M559.9 60.1h0M586.4 68.5h0M565.4 60.5h0M608.7 49.4h0M572.4 57.1h0M582.7 72.3h0M582.8 55.4h0M570.7 78.7h0M610.6 70.3h0M544.5 48.5h0M594.1 54.8h0M560.2 48.7h0M545.8 56.2h0M554.2 61.4h0M594.6 45.7h0M605.7 64.7h0M596.3 57h0M561.6 53.8h0M576.6 51.4h0M549.9 55.2h0M571.2 50.7h0M559.7 59.3h0M543.7 56.7h0M562.1 67.4h0M607.1 45.7h0M579 58.7h0M560.9 45.5h0M549.6 46.6h0M604.9 52.4h0M548 41.3h0M544.2 61.6h0M549.4 51.9h0M594.7 56h0M607.5 44.5h0M548.3 52.4h0M586.6 56.2h0M587.6 69.4h0M578.7 58.9h0M590.4 48.8h0M571.9 65.2h0M607.3 56.5h0M612 54.6h0M586.5 51.7h0M549.7 71.8h0M563.9 57.7h0M586 60.9h0M603.1 57.4h0M571.3 61.8h0M567 47.4h0M584.4 58h0M601.9 52.6h0M555.3 58.6h0M583.6 52.1h0M585 65.6h0M575.1 50.6h0M566.9 66.2h0M608.5 57.9h0M599.2 56.6h0M552.5 58.3h0M559.7 60h0M571.4 65.8h0M553 61.5h0M565.4 41.6h0M589.6 55.5h0M593.7 57.2h0M599.3 52.1h0M599 46.7h0M564.3 60.1h0M579.2 62.6h0M593.6 58h0M584.8 55.1h0M582.5 52.5h0M598.9 57.1h0M608.3 57.6h0M604.9 59.3h0M560.6 58h0M550 57.1h0M561.9 55.4h0M598.1 66.2h0M563.8 51.1h0M594 47.3h0M583.4 44.2h0M611.7 64.4h0M549.9 45.7h0M600 73.1h0M544.8 58.7h0M586.7 54.6h0M579.5 53.6h0M558.8 44.1h0M560.1 49.7h0M568.9 54.5h0M575.7 40h0M552.6 53.9h0M572.6 61.9h0M547.7 66.7h0M576.8 63.8h0M579.6 51.5h0M568.9 66.6h0M576.3 53h0M581.7 58.2h0M578.3 66.1h0M554.3 44.4h0M557 62.6h0M560.3 65.7h0M612.1 54.3h0M576.9 59.8h0M591.5 58.3h0M555.8 55.1h0M578.3 59.1h0M572.4 69.4h0M555.8 52.6h0M557 50.8h0M558.5 56.3h0M593.7 61.6h0M594.1 50.1h0M602.8 55.6h0M565.3 55.7h0M578.2 59.7h0M592.8 53.8h0M581.1 65.1h0M602.3 51h0M543 52.7h0M590.7 58.4h0M550.8 47.7h0M578 60.1h0M569.2 62h0M573.5 58.8h0M595.8 57.5h0M547.9 56h0M545 63.6h0M607.8 52.2h0M575.9 53.5h0M570.5 57.1h0M552.3 63.8h0M577.1 50.5h0M588.6 51.8h0M604.7 59.5h0M569.1 60.9h0M550.6 46.2h0M595 58.4h0M563 70.9h0M592 52.5h0M598.1 53.7h0M609.6 52.5h0M553.6 63h0M560.1 59.1h0M568.9 55.8h0M599.3 55.7h0M572.3 58.2h0M572.2 53.6h0M600.8 59.5h0M549.9 54.4h0M549.2 51.5h0M548 61.5h0M577.5 46.3h0M556.4 59.1h0M566.9 53.8h0M576.4 57.1h0M578.9 58.2h0M569.2 58.3h0M551.3 64.8h0M599.3 60.2h0M602.7 69.2h0M581.4 60.3h0M561.9 64.1h0M612.1 78.7h0M549.9 71.3h0M603.8 49h0M585.8 53h0M559.8 49.6h0M583.3 57.8h0M580.6 59.8h0M542.2 57.9h0M574.4 58.5h0M596.3 60.7h0M586.4 51.1h0M550.7 53.4h0M556.5 59.6h0M590.6 47.2h0M543.4 41.8h0M590.3 52.8h0M579.2 58.3h0M568.7 42.8h0M571.2 59.2h0M575.3 59h0M548.5 52.7h0M607 58.1h0M571.2 50.4h0M588.4 38.5h0M548.9 51.8h0M603.6 63.9h0M590.7 69.3h0M559.5 59.1h0M605.3 47.3h0M603.6 45.2h0M574.2 69.3h0M561.2 49.7h0M599.8 63.9h0M608.7 56.8h0M609.5 57.1h0M547.3 52.1h0M608.1 57.4h0M561.5 50.8h0M598.9 62h0M602.6 51h0M554.1 48.6h0M565.7 55.5h0M609.1 62.7h0M596.9 42.4h0M591.1 42.1h0M558.1 75.7h0M593.3 63.2h0M544.3 51.9h0M560.2 48.3h0M559.1 55h0M545.5 54.5h0M574.6 54h0M543.9 54.7h0M611.1 64.9h0M576 54.7h0M596.1 54.1h0M578.9 46.2h0M550.2 65.9h0M573.4 50.8h0M562.7 53.8h0M586.4 52.5h0M554.2 78.8h0M606.3 59.8h0M586.4 47.5h0M543.3 47.5h0M571.8 58.3h0M604.8 55.2h0M559.6 50.4h0M549.9 59.3h0M561 55.5h0M575.8 42.9h0M569.3 51.9h0M558.7 50.7h0M574.4 64.3h0M575.7 55.2h0M590.9 45.8h0M612 52.3h0M586.3 61.8h0M547 56.8h0M552.2 59.3h0M562.7 54.7h0M608 58.5h0M546 61.8h0M587.5 61.6h0M570.1 51.5h0M558.8 63.3h0M586.9 46.5h0M595 43h0M596 63.4h0M556.8 54.7h0M555.1 61.1h0M555 65.1h0M557.2 63.6h0M556.7 51.9h0M578.4 50.4h0M563.9 46.2h0M585.3 55.4h0M610.2 57.9h0M597.5 65.8h0M547.8 33.2h0M608.3 63.8h0M568.9 45.3h0M554 52.6h0M558.8 71.1h0M545.4 54.7h0M561.5 45.8h0M574.7 58.3h0M549 61.4h0M609.8 62.1h0M571.7 50.4h0M579.5 57h0M563.9 60.4h0M605.4 59.6h0M602 47.4h0M575.6 57.6h0M588.1 71.6h0M565.2 35.4h0M551.3 40.9h0M574.3 54.4h0M593 68.3h0M588.2 56.3h0M548.4 68h0M606 60.8h0M575.5 52.3h0M605.6 39.9h0M571.2 59h0M605.6 52.7h0M601.1 55.2h0M544.1 62.9h0M604.2 56.7h0M589.6 45.8h0M582.6 57.3h0M586.2 56.1h0M586.9 64.7h0M602.6 48.6h0M569.3 57.9h0M545.9 63.8h0M593.5 71.1h0M567.5 54.1h0M564.7 44.7h0M589 56.2h0M544.3 48.4h0M543.7 60.3h0M610.4 60.3h0M603 52.4h0M598 64.2h0M575.6 54.5h0M569 65.6h0M554.5 57.1h0M543.8 66.8h0M597.7 57.2h0M559.5 50.6h0M594.5 64.9h0M545.7 55.7h0M558.8 50.5h0M571.8 52.9h0M568.1 56.4h0M556.1 58.1h0M596.4 59.6h0M546.5 52.3h0M584.7 62h0M581.3 48.3h0M578.4 54.9h0M554.3 67.6h0M587.4 63h0M592.2 72.2h0M581.6 58.8h0M582.6 61h0M580 47.4h0M572.2 47.2h0M582.3 41.3h0M578 57.6h0M561.7 48.8h0M601.3 62h0M565.7 58.3h0M548.6 53h0M585.7 54.3h0M602 61.6h0M549.5 54.8h0M543.5 63.2h0M564.1 55.4h0M560.7 65.5h0M552.5 60.2h0M561.1 53.7h0M571.5 54.1h0M557.2 50.3h0M579.1 45h0M570.4 41.9h0M569.4 72.3h0M549.3 39.2h0M594.9 60.5h0M585.3 57.1h0M580.8 49.7h0M563.5 55.4h0M612 51.6h0M593.3 54h0M600.3 62.8h0M581 61.8h0M585.2 55.9h0M590.3 48.1h0M561.4 59.4h0M559.5 50.5h0M595.7 49.4h0M563.8 66.9h0M543.5 62.9h0M574.1 46.3h0M602.4 54.2h0M571.4 57.7h0M581.3 53.4h0M605.2 41h0M552.2 53.5h0M554.5 57h0M542.8 78.9h0M566.6 60.7h0M550.6 39.5h0M582 64.9h0M565 41.1h0M547.9 46.9h0M592.9 51.6h0M595 54.2h0M605.7 48.5h0M566.6 55h0M579.9 60.2h0M586.6 54.8h0M603.4 49.8h0M608.3 40.2h0M565.1 42h0M556.8 73h0M561 62.3h0M560 78.1h0M596.2 52.4h0M585.5 52.8h0M550 50h0M585.7 59.2h0M588.3 51.4h0M576.3 61.9h0M593.5 60.1h0M546.5 52.8h0M590.2 46.1h0M545.5 65.3h0M602 59.5h0M579.2 74.8h0M601 58.5h0M551.8 63.1h0M555.6 58.4h0M600.5 49.9h0M547.8 44.4h0M564.2 62.1h0M596.7 60h0M601.9 37.7h0M551.4 50.1h0M546.1 53.7h0M585.9 70.3h0M557 57.2h0M562.4 67.6h0M545.3 62.5h0M566.5 51.8h0M598.9 50.9h0M582.2 50.9h0M543.6 58.9h0M546.8 60.7h0M604.5 51.2h0M586.2 50.1h0M553.9 49.1h0M585.2 48.7h0M597.8 41.4h0M599.9 58.2h0M587.2 58.1h0M551.5 50.2h0M601.5 66.3h0M589 52.2h0M599.8 59.4h0M575 59.7h0M602.9 58.1h0M598.2 62.4h0M564.9 65.5h0M552.4 55.7h0M585.4 49h0M556.1 48.9h0M565.9 52.7h0M557.6 64.5h0M569.2 59.9h0M566.4 51.3h0M591 56.8h0M584.4 52.6h0M553.6 58.1h0M587.6 57.9h0M594.7 50.9h0M573.5 56.6h0M544 58.4h0M597.6 59.9h0M592.5 63.9h0M546 54.6h0M561 48.9h0M595.2 53.3h0M586.3 66.3h0M551.7 60.7h0M565.6 54.7h0M544.6 46.3h0M604.6 56.1h0M596.9 62.6h0M559.1 46.5h0M571.1 41.9h0M594.1 50.4h0M579 59.7h0M548.5 65.4h0M596.7 48.4h0M592 49.7h0M542.9 53.6h0M602.1 53.9h0M575.2 61.1h0M582.8 36.5h0M589.5 54.7h0M604.3 64.8h0M576.7 50.4h0M559.3 53.6h0M570.1 55.1h0M603.2 67.6h0M586.1 45.8h0M580.1 55.6h0M580.4 66h0M576 56.1h0M607.4 52.3h0M608.6 55.4h0M565.6 60.6h0M552.9 51.9h0M559.4 54.3h0M570.6 63.5h0M589.3 44.2h0M588.6 52.6h0M575.3 57.1h0M606.9 42.9h0M549 61.2h0M570.6 49.9h0M598.7 62.6h0M589.6 48.5h0M579.9 45.8h0M590.5 51.9h0M591.7 45.6h0M577.9 51.6h0M601.5 55.5h0M554 52.7h0M569.6 51.8h0M610.3 56.5h0M563.7 59.8h0M589.8 66.5h0M606.5 65.9h0M579.7 66.7h0M577.8 46.6h0M578.1 53h0M559.4 57.7h0M577.8 50.1h0M592.2 50.3h0M576.7 48.3h0M564.4 54.1h0M569.5 51.4h0M548 54.1h0M607.2 57.2h0M568.2 45.9h0M592.6 53h0M588.6 65.4h0M560.8 47.5h0M563.1 60.6h0M587.3 59.9h0M576.5 54.8h0M587.7 53.2h0M582.2 56h0M574.8 46.4h0M586.1 56.4h0M573.4 54.4h0M545.8 58.8h0M578.9 42.2h0M608.5 50.2h0M594 69.9h0M560.4 60.2h0M577.3 55.9h0M548.7 57.2h0M589.2 54.5h0M568.2 64.2h0M582.9 48h0M610.2 63.3h0M584.5 50.2h0M598.1 48.4h0M563.9 65.3h0M582.6 41.8h0M554.9 42.3h0M580.2 52.4h0M565.6 56.7h0M574.6 47.3h0M547.5 55.1h0M592.2 53h0M559.7 54.8h0M564.8 58.7h0M552.9 57.4h0M559.2 43.1h0M551.9 38.7h0M611.6 60.6h0M598.7 50.8h0M594.6 54.3h0M547.5 53.4h0M559.3 50.9h0M606.4 48.4h0M604.7 52.6h0M554.1 49.5h0M583.4 52.8h0M588.9 56.5h0M570.8 48.6h0M564.9 56.9h0M559.5 47.4h0M591.7 57.4h0M564.4 55.2h0M592.5 54.3h0M543.2 54.2h0M579.3 64.9h0M603.9 64.1h0M550.4 54.9h0M592.9 49.1h0M554.9 54.7h0M581.4 58.9h0M576.5 53.3h0M570.7 57.8h0M542.7 57.2h0M562.2 58.5h0M573.6 52.2h0M578 53.8h0M564.1 57.3h0M587.8 48.1h0M594.4 60.8h0M549 63.6h0M606 56.3h0M566.8 57.4h0M584.2 42.1h0M606.4 48.3h0M590.1 50.5h0M571.6 64.4h0M594.9 49.7h0M564.6 55.1h0M543.5 61.7h0M589.1 57.2h0M569 64.1h0M601.6 48.2h0M543.6 57.1h0M592.3 61.6h0M573.2 59.7h0M544 45.1h0M570 48.9h0M598.6 54.1h0M604.1 51.4h0M586.4 60h0M591.7 59.6h0M604 69.8h0M607.8 54.3h0M577.8 62.6h0M543.9 46.5h0M587.8 60.3h0M544.9 44.3h0M546.1 50.7h0M577 57h0M584.5 54.3h0M548.2 66.4h0M587.2 68h0M593.9 59.5h0M606.7 56.3h0M573.2 45.3h0M609.8 51.1h0M556 51.9h0M581.8 48.3h0M558.1 66.8h0M567.3 60.7h0M559.3 54.7h0M611.4 57.1h0M608.6 61.4h0M582 52h0M546.9 77h0M556.8 57.4h0M553.3 52.1h0M562.2 54h0M572.9 60.2h0M569.1 55.8h0M573.1 71.6h0M598.2 50h0M571.6 53.4h0M578.2 49.7h0M575.4 56.8h0M559.6 61.4h0M583.3 61.6h0M553.5 52.5h0M549.1 55.1h0M582.3 62.7h0M590.7 59.6h0M549 62.3h0M576.8 64.1h0M549.8 53.2h0M565.5 58h0M587.8 62.2h0M588.5 66.3h0M571.2 56.1h0M600.2 64.5h0M602 50.4h0M556 69.1h0M607.8 61.7h0M558.6 71h0M606.2 58.9h0M583.9 54.1h0M608.1 54.2h0M565.1 54.7h0M600.9 51.2h0M565.6 59.6h0M590.8 48.9h0M594.1 53.5h0M599.9 43.3h0M585.9 53.7h0M572.3 62.5h0M592.5 48.8h0M582.1 57.5h0M549.3 48.8h0M590.7 59.5h0M568.5 61.1h0M587.9 53.7h0M573.4 63.1h0M597.9 51.5h0M592.8 58.7h0M604 43.4h0M603.9 56.4h0M584.8 58.2h0M610.9 54.5h0M543.1 66.8h0M595.2 59.4h0M561 59h0M581 55.8h0M547.2 58.8h0M587.4 53.9h0M601.8 61.4h0M594.3 55h0M591.6 62.3h0M604.3 54.7h0M581.5 50.8h0M557 55.5h0M578.8 53.8h0M599.4 55h0M563.5 49.3h0M570.7 49.9h0M599.2 49.8h0M545.5 48.9h0M545.2 53.6h0M565.9 43.5h0M601.5 60.6h0M549.7 53.4h0M580.3 45.5h0M589.1 51.2h0M545.2 61.7h0M601.1 58.5h0M597 62.1h0M543.3 53h0M574.5 59.7h0M571 60.8h0M594.1 53.6h0M543.4 53.7h0M565.9 57.5h0M545 57.6h0M577.7 43.5h0M546.5 51.5h0M598.2 57.7h0M564.5 62.6h0M562.5 56.7h0M579.3 61h0M556.1 53.6h0M551.2 53.5h0M596.2 64.4h0M581.7 59h0M543.7 59h0M590.2 56.5h0M547.3 59h0M597.5 51.6h0M599.9 55.8h0M561 61.4h0M542.1 54.1h0M579.6 58.6h0M581 55.6h0M564.4 61.5h0M569.2 53.2h0M543.3 59.5h0M608.5 56.6h0M548.3 68.3h0M573.4 63.9h0M559.3 56.3h0M585 55.4h0M557.4 44.5h0M545.4 51.9h0M577.3 60.9h0M559.1 66.3h0M587.7 56.1h0M562 57.7h0M604.8 59.9h0M582.1 52h0M576.7 62.8h0M575.1 47.1h0M581.8 49.6h0M580 63.3h0M578.6 58.2h0M554.9 56.8h0M596.1 51.9h0M568.5 49.1h0M558.2 59.7h0M584.5 55.9h0M586.4 63.3h0M567.1 49.1h0M591.4 49h0M555.6 67.8h0M544.3 53.6h0M556.6 68h0M594.8 59.8h0M549.8 59.8h0M587.3 58.7h0M581.4 64.1h0M582.5 64.9h0M564.6 77.5h0M570.5 53.9h0M599.6 61.3h0M569.3 51.4h0M545.6 54h0M574.1 58.9h0M546 56.8h0M552 65.5h0M557.8 62.9h0M577.1 51.8h0M579.7 53.1h0M570.2 57.2h0M544.5 51.7h0M550.3 49.1h0M582.8 54.4h0M595.8 51.5h0M583.4 48h0M580.5 52.4h0M605 66.1h0M550.3 60h0M584.2 52.5h0M570.4 46.7h0M595.7 51.4h0M584.1 52.6h0M581.3 44.6h0M570.8 62.8h0M604 53.2h0M581 56.3h0M556.9 63.4h0M548.5 52h0M608.5 63h0M605.8 51.5h0M588.5 48.3h0M596.7 64.8h0M609.5 52.5h0M593.3 55.1h0M563.9 50.5h0M594.3 54.6h0M585 57.5h0M556 57.7h0M581.4 54.4h0M609.2 59.8h0M609 51h0M567.1 60.3h0M606.8 51.7h0M558 49h0M566 47h0M555.6 51.2h0M565.8 45.1h0M608.2 64.7h0M554.5 56.4h0M556.1 47.3h0M564 52.4h0M602.2 55.3h0M562.2 60.1h0M567.6 62.1h0M575.4 54.6h0M599.1 61.5h0M566.8 49.1h0M592.5 50.7h0M598.7 60.4h0M542.3 66.7h0M603.4 49.9h0M563 53.5h0M577.5 64.3h0M542.8 58.9h0M606.2 67.6h0M547.4 57.1h0M607.8 58.7h0M577.5 55.6h0M592 47.8h0M588.7 56.8h0M543.4 61.5h0M589.5 48.6h0M556.9 54.2h0M547.5 52.3h0M606.2 49.7h0M558 61h0M602.7 58.8h0M557.6 57.4h0" stroke="#1c8ee2" stroke-opacity=".2" stroke-width="1.8" stroke-linecap="round" fill="none"/>
<path d="M677.9 74.8h0M677.8 40.8h0M641.6 46.8h0M621.5 45.6h0M654.1 62.9h0M649.1 67.4h0M665.2 74.7h0M658.9 52.1h0M675.1 61.9h0M676.5 74.8h0M651.4 49.5h0M681.9 25h0M625.4 52h0M658.4 54.9h0M677.2 55.9h0M658.7 72.9h0M628.3 51.8h0M614.7 51.2h0M670.1 64h0M649.8 62.2h0M673 67.8h0M673.2 63.7h0M681.7 59.5h0M663.5 69.5h0M625.4 58.5h0M658.5 56.1h0M622.1 67.1h0M613.8 55.5h0M651.1 57.3h0M679.8 48.8h0M618.1 42h0M669.1 58.4h0M661 63.2h0M631.3 54.5h0M671.4 42.2h0M625.8 55.2h0M635.7 49.3h0M615.9 55.1h0M669.1 48.1h0M646.2 58.2h0M647.8 40h0M639.2 61.2h0M620.6 28.9h0M637.4 51.7h0M640.8 65.6h0M660.4 66.7h0M647.2 67.1h0M633.7 49.5h0M665.1 44.6h0M663.5 78.3h0M643.8 64.4h0M625.9 65.4h0M663.7 65.3h0M666.4 60.8h0M663.8 50.3h0M673.3 64.6h0M674.5 59.9h0M661.8 67.5h0M635.5 55.5h0M639.1 61.5h0M628.5 57.3h0M673.7 58.8h0M673.2 59.6h0M637.3 69.5h0M628.8 52.6h0M673.8 48.7h0M671.8 47h0M670.9 65.6h0M661.4 58.9h0M648.5 54.8h0M643.8 59.3h0M646.7 49.4h0M672.8 57.5h0M674.6 55.5h0M649.5 58.3h0M680.6 69.8h0M619.5 64.5h0M617.2 40.7h0M674.7 62.5h0M641.1 50.2h0M613.3 47.4h0M677.7 58.9h0M619.9 52.6h0M679 55.5h0M616 73.1h0M640.6 53.3h0M628 57.5h0M623.8 66.5h0M662.1 68.3h0M612.2 68.4h0M624.7 58.8h0M663 56.8h0M615.2 53.9h0M648.7 57.7h0M679.4 55.2h0M643.8 53.4h0M648.4 65.8h0M679.8 51.9h0M640.1 65.9h0M639.7 59h0M623 60.8h0M636.8 52.7h0M639.5 68.9h0M619.3 52.5h0M636.2 56.9h0M626.6 52.8h0M613.1 66.5h0M646.3 66.1h0M640.1 43.5h0M645.6 45.6h0M671.3 55.8h0M639.9 51.7h0M682.1 46.7h0M612.3 24.4h0M667.8 60.2h0M632.2 58h0M671.3 56.7h0M670.1 63.2h0M663.8 57.3h0M656.5 51.6h0M617.5 48.3h0M679.7 52h0M665.2 64h0M618 58.3h0M634.1 43.7h0M681.9 59.3h0M652.2 65.3h0M624.4 38.5h0M647.5 25.4h0M643.7 61.8h0M623.8 51.8h0M632.3 78.5h0M629.3 64.4h0M666.8 49.4h0M616.2 48.1h0M658.9 63.2h0M681.5 49.9h0M652.2 41.2h0M663.1 46.7h0M631 57.3h0M633 59h0M652.5 64h0M682.7 68.3h0M660 50.4h0M655.6 66.6h0M630.3 67.8h0M621.8 54.5h0M628.1 64.1h0M662.5 56.4h0M650.6 66.4h0M658.4 44.1h0M641 58.1h0M619.6 51.1h0M675.8 70.4h0M615.4 61.4h0M677.3 59.1h0M671.2 31.1h0M627.2 66h0M638.7 39.9h0M654.1 55h0M661.6 60.3h0M658.1 59.2h0M665.3 62.8h0M640.8 52.4h0M678.6 56.4h0M665 53.9h0M658.9 57.3h0M624.5 60.8h0M621.9 70h0M671.9 61.1h0M682.5 70.1h0M633.3 57.5h0M631 70.2h0M641.3 50h0M674.7 67.4h0M636.3 46.5h0M661.3 62.1h0M650.1 57.7h0M614.1 69.6h0M612.6 60.7h0M654.4 52.5h0M631.1 54.6h0M612.7 47.9h0M656.5 73.3h0M662 56.1h0M670.3 61.4h0M662.6 72.5h0M622 54.1h0M664.3 56.5h0M682.4 52.5h0M667.2 61.7h0M643 61.4h0M673.7 34.4h0M620.2 56h0M645.2 57h0M621.8 52.2h0M612.8 45.8h0M640.6 69.2h0M628.1 53.8h0M660.2 56.3h0M651.7 45.4h0M645.4 48.6h0M648 48.2h0M660.4 70.6h0M637.5 63.1h0M655.1 52.9h0M653.2 53.1h0M675 60.6h0M616.4 37.4h0M648.6 40.7h0M644.6 42.1h0M680.8 70.8h0M668.7 54.3h0M663.7 78.5h0M682.5 62h0M612.7 65.1h0M625.4 51.7h0M615.7 55.9h0M659.6 53h0M623.5 58.7h0M620.8 48h0M668.2 55.1h0M678.3 60.8h0M638.6 63.4h0M659.5 45.3h0M671.4 53.6h0M662.3 59.7h0M651.7 53.5h0M674.5 37.1h0M671.6 75.6h0M639.4 58.2h0M648.6 41.7h0M613.8 65.5h0M651.1 49.5h0M630.8 49.4h0M680.1 61.5h0M663.4 56.7h0M621.9 56.7h0M675.8 64.2h0M658 73h0M665.4 46.3h0M624.6 60.8h0M652.6 52.5h0M637.4 71.2h0M623.5 54.5h0M627.4 60.5h0M628.4 60.8h0M663.4 59.3h0M646 64.3h0M667.5 70.4h0M665.4 52h0M662.3 60.2h0M644.7 61h0M634.6 48.8h0M619.2 48.4h0M682.8 50h0M670.7 40.4h0M647.2 55.3h0M649.9 55.9h0M679.6 50.6h0M629.3 51.1h0M666.1 39.5h0M614.5 54.3h0M653.4 51.4h0M682.7 50.1h0M647.1 77.6h0M621.5 66.9h0M666.8 66.6h0M675.2 57h0M644.4 57.4h0M644.2 57.2h0M676.9 62.6h0M631.6 65.6h0M625.8 45.3h0M681.1 69h0M675.1 54.4h0M619.6 64.6h0M627.6 47.5h0M669.9 82.5h0M632.5 57.5h0M645 56.2h0M638.4 52.8h0M668.9 32.7h0M632.6 59.6h0M660.3 61.1h0M664.5 70.7h0M630.6 90.8h0M663.7 49.9h0M631.2 65.2h0M680.9 47.5h0M679.1 57.8h0M636.6 48.8h0M617.1 52.2h0M612.2 65.3h0M646.1 54.1h0M650.8 40.3h0M641.7 55.5h0M613 69.4h0M674.1 54.8h0M672.2 31.3h0M675.5 56.9h0M633.2 54.3h0M645.7 52.2h0M658.4 61.5h0M676.6 52.7h0M665.6 64.5h0M616.8 57.6h0M632.4 73.1h0M661.3 62.3h0M673.4 70.8h0M637.3 62.7h0M614.8 57.6h0M642.5 46.3h0M649.7 55.4h0M673.9 76h0M619.3 52.2h0M636 79h0M623.2 59.7h0M630.5 64h0M650.8 51.8h0M670.5 58.3h0M667.1 45.6h0M673.7 63.5h0M671.4 66h0M657.1 64.6h0M662.5 70.5h0M615.5 64.2h0M654.6 65.7h0M632.4 36.9h0M645 49.8h0M632.3 46.1h0M620.7 61.7h0M651.5 61.4h0M629.7 61.9h0M648.6 59.6h0M649.5 59.7h0M626.1 21.6h0M620 57.1h0M634.5 80.8h0M650.4 46.5h0M636.1 27.9h0M656.9 56.9h0M641.8 46.9h0M618.8 82.7h0M619.2 70.1h0M645.6 61.5h0M622.8 46.9h0M648.5 48.7h0M660.6 56.8h0M619.9 54.7h0M645.1 51.2h0M663.7 39h0M642.3 59.8h0M653.1 62.9h0M628.3 55.5h0M628 63.9h0M625.6 65.7h0M650.5 45.7h0M673.9 38.3h0M680.1 39.8h0M632.3 45h0M678.5 49.8h0M676 58.3h0M668.5 81.3h0M617.9 56.1h0M657.3 80.9h0M664.9 59.5h0M675.6 62h0M645 52.3h0M624 43.5h0M658.1 55.4h0M631.8 64.6h0M654.3 53.7h0M634.4 25h0M625.9 59.3h0M614 60.7h0M680 56.5h0M639.4 80.5h0M640.2 55.4h0M668.6 52.7h0M619.3 65.2h0M647.4 66.5h0M643.5 53.4h0M655.5 77.5h0M631.9 54.9h0M616.1 61.5h0M643.2 48.9h0M639.4 54.9h0M679.7 51.4h0M627.4 68.2h0M666.6 63.1h0M635.3 49.9h0M643.7 45.3h0M625.7 37.3h0M676.6 50.6h0M617.7 62.7h0M668 39h0M635.9 61.1h0M648.7 47.7h0M643.3 54.8h0M634.5 53.3h0M641.1 53.7h0M619.9 51h0M632.9 46.6h0M639.4 62.5h0M656.4 54.9h0M619.3 62.5h0M640.1 61.4h0M615.8 59.1h0M678.3 56h0M619.6 89.1h0M675 85.9h0M661.8 53h0M660.1 53h0M653.3 56.5h0M636.7 64.4h0M680.4 56.6h0M618.9 43.5h0M680.6 63.5h0M654.2 54h0M682.2 50.9h0M614.2 75.2h0M644.9 37h0M631.4 62.9h0M643.9 67h0M634.1 65.6h0M678.5 48.1h0M643.8 79.1h0M636 53.8h0M680.9 64.4h0M618.6 57.1h0M631.1 42.4h0M645.3 66.4h0M665.2 38.5h0M650 53.9h0M672.6 49.3h0M655.1 56.4h0M650 60.4h0M618.3 79.8h0M615.8 59.2h0M618 51.6h0M661.4 58.8h0M637.4 61h0M681.5 53.8h0M625 58.2h0M617 77.8h0M613.8 61.7h0M647.4 39.4h0M641.5 43.3h0M624.3 55.1h0M680.5 66.8h0M642.6 64.4h0M670.3 60.7h0M623.8 53.9h0M630.4 70.9h0M638.3 74h0M662.4 52.5h0M628.7 50.2h0M646.3 85.6h0M661.5 56.1h0M654.9 42.9h0M634 66.3h0M632.3 50.8h0M623.5 53.7h0M673.1 30.1h0M635.5 54.7h0M644.7 59.8h0M642.2 50.1h0M614.1 55.8h0M623.8 34.6h0M638.9 62h0M652.3 44.5h0M625.2 56.1h0M642.6 58h0M630.5 40h0M627.8 53h0M660.4 65.1h0M648.6 61.4h0M630.8 45.4h0M644.5 52.2h0M676.7 64.3h0M630.8 61h0M622.8 56.7h0M659.4 59h0M661.9 57.1h0M621.5 47.4h0M639.4 58h0M666.5 66h0M645.2 51.1h0M612.8 51.1h0M653.2 59.1h0M625.1 46h0M615.2 46.2h0M657.5 63.4h0M668.6 57.4h0M620.6 41.1h0M654.3 61.7h0M678.9 48.4h0M656.6 57.3h0M674.5 54.9h0M645.6 57.3h0M677.1 59.6h0M644.4 52.4h0M680.1 52.6h0M621.9 39h0M658.8 55.2h0M669.5 54.8h0M655.6 51.1h0M674.8 45.6h0M676.7 39.5h0M680.3 69.8h0M644.5 50.8h0M636.4 49.4h0M645.6 64h0M652.1 52.1h0M661.8 74.5h0M642.8 65.7h0M667.6 64.2h0M634.9 49.8h0M677.8 52.1h0M648.7 65.4h0M636.4 63.7h0M628.2 59.8h0M625.2 64h0M615.4 34.3h0M678.1 34.9h0M630.7 45.8h0M613.5 62.6h0M664.2 68.7h0M628.6 65.4h0M615.9 40.9h0M659.9 67.2h0M653.7 49h0M667.2 44.8h0M613.5 60.8h0M642.6 69.9h0M665.4 52.3h0M638.3 63.3h0M650.3 67.4h0M644.5 41.4h0M648.2 58.5h0M674.8 46.7h0M636.9 52.6h0M644.5 55.2h0M647 74.4h0M616.1 61.5h0M682.3 65.4h0M631.6 50.6h0M657.8 50.7h0M653.9 35.8h0M657.2 55.9h0M649.5 60.3h0M673.1 56h0M641.6 56.3h0M634.3 57.3h0M635 63.3h0M617.5 49.9h0M643 42.2h0M626.7 44.6h0M634 51h0M615.6 51h0M662.7 73.4h0M673.7 51h0M676.3 43h0M613.3 60.2h0M656 49.4h0M614.3 47.8h0M661.3 60.7h0M659 53.3h0M635.5 70.5h0M612.7 53.8h0M658.4 60.5h0M614.3 55h0M642.1 61.9h0M675.5 58.6h0M681.7 60.4h0M642 45.6h0M670.2 63.5h0M614 85h0M642.9 46.1h0M661.4 60.3h0M650.7 63.1h0M642.2 57.6h0M657.5 65.8h0M638.9 59.3h0M663.9 50.4h0M665.4 60.7h0M619.8 71.2h0M656.2 60.8h0M677.5 49.5h0M674.5 49.8h0M638.3 58.7h0M623.7 62h0M654 33.7h0M670.4 56.1h0M671.7 57.7h0M640.9 73.9h0M614.8 41.8h0M664.7 47.1h0M656.3 70.5h0M660.8 64.1h0M635.2 53.3h0M618.9 48.2h0M638.2 46.4h0M614.5 61.8h0M672.6 66.8h0M656.1 63.7h0M666.8 59.8h0M629.1 60.9h0M677.1 58.7h0M636.6 59.8h0M664.2 61.6h0M637.2 63.2h0M645.7 60.8h0M626.2 64.7h0M658.7 81.1h0M664.7 52.3h0M639.8 54.3h0M616.4 77.3h0M666.6 67.2h0M672.3 59.4h0M646.5 53.5h0M614.1 68.6h0M614.3 57.6h0M677.2 73.2h0M639.3 54.4h0M622.1 58.4h0M674.5 58.6h0M636.5 66.5h0M640.5 70.1h0M677 61.1h0M614.7 45.1h0M624.6 72.2h0M623.5 53.3h0M651.7 61.6h0M615.1 29.6h0M626.9 73.2h0M621.9 64.4h0M631.2 57.5h0M674.6 53.7h0M629.5 50h0M616.4 53.1h0M631.2 64.7h0M655 56.7h0M614.8 42.7h0M673.6 45.5h0M677.6 62.5h0M675.5 68.9h0M623.2 46.7h0M661.5 50.9h0M626.2 50.7h0M669.9 62.4h0M642.7 54.7h0M633.7 46.5h0M680.1 59.4h0M666.6 53.1h0M625.9 48.7h0M640.4 46.7h0M666.2 61.9h0M640.4 61.4h0M625.7 68.5h0M613 49.2h0M671.9 57h0M644.8 64.2h0M654 67h0M665.5 52.4h0M629.2 62.8h0M663.6 50.5h0M636 60.7h0M615.8 78.9h0M613.2 65.5h0M618.1 59h0M663.1 45.3h0M633.1 69.4h0M614 50.6h0M669.8 61h0M631.6 56.2h0M645.8 63.8h0M639.7 47.4h0M621 84.2h0M658.8 52h0M652.9 87.2h0M680.5 50.8h0M660.5 50.8h0M614.2 67.2h0M621.6 67.2h0M678.8 48h0M678.2 53.9h0M626.7 64.4h0M656.6 55.3h0M638.7 57.2h0M657.9 62.7h0M652.9 56.7h0M622 71.4h0M642.3 76.6h0M628.6 57.8h0M654.6 48.3h0M655.6 22.6h0M674.5 69.8h0M654.8 46.4h0M678.1 61.6h0M632.8 63.8h0M626.3 66.9h0M657.7 69.4h0M648.9 58.8h0M648.7 56.5h0M633.3 51.8h0M645.6 64.7h0M657.2 44.2h0M622 53.3h0M674.8 61.9h0M657.4 61.7h0M650.8 59.3h0M634.9 74h0M675.9 52h0M627.5 59.3h0M672.4 52.1h0M682.3 45.3h0M650.7 66h0M652.9 62.6h0M661.8 81.7h0M653.9 67.4h0M622.2 59h0M651.5 46.3h0M647.3 61.6h0M654.2 60h0M648.9 52.9h0M647.2 47.1h0M673.1 58.7h0M624.7 47.6h0M621.9 55.1h0M635 51.7h0M666 67.3h0M672.1 62.5h0M679.7 63.3h0M613.5 68.9h0M618.7 49.6h0M632.3 60.1h0M647.1 53.6h0M643.6 67.5h0M635.5 59h0M628.3 62.9h0M615.1 55.9h0M620.9 62.2h0M645.7 48.7h0M619.5 66.7h0M656.9 62.6h0M630.3 46.4h0M636.5 59.8h0M643.1 53.7h0M675.9 45h0M655.9 63.5h0M670.4 73.1h0M613.1 51.4h0M612.8 72.8h0M616.2 62.4h0M648.8 54.4h0M649 53.7h0M616.5 47.6h0M613.9 31.8h0M635.2 63.4h0M637.5 71.1h0M614.7 52.9h0M625 54.6h0M627.1 58h0M618.5 54.7h0M666.4 54.7h0M636.6 59.1h0M665.6 68.3h0M631.9 47.9h0M671.8 46.2h0M673.8 48.5h0M622.3 46.4h0M627.5 54.7h0M656.1 70.6h0M620.9 62h0M616.9 53.5h0M647.7 69.5h0M682.7 42.7h0M661.7 60.2h0M647.3 65.9h0M634.1 61.4h0M616 49.9h0M678.1 52.5h0M672 53.3h0M680.6 73.8h0M669.6 63.4h0M641.1 39.3h0M661.6 64.1h0M613.7 56.7h0M668.5 61.1h0M646.1 56.1h0M643.7 62.6h0M640.2 61.6h0M679.2 66.1h0M675.2 59.1h0M677.4 51.3h0M634.8 43.4h0M613.3 64.2h0M653.2 55.1h0M639.4 49.6h0M641.9 34.4h0M615 62.5h0M681.6 64.2h0M635 62.5h0M679.5 51.9h0M631.3 54h0M671.3 51.7h0M678.6 63.6h0M629 60.8h0M678 54.2h0M679.1 28.7h0M675.7 62.4h0M681.1 57.4h0M646.8 46.8h0M650.6 47.3h0M658.2 41h0M614.2 65.3h0M641.8 50h0M680.6 46.8h0M648.2 61.8h0M669.8 69h0M666.8 53.5h0M640.5 69.6h0M630.9 54.8h0M639.5 47.6h0M663.6 65.2h0M650.2 60.7h0M676.5 66.9h0M675.1 61.6h0M633.6 56.8h0M629.4 55.9h0M670.2 59.3h0M617.3 59.4h0M624.3 53.5h0M637.9 62.5h0M645.5 42.9h0M649.8 41h0M671.2 56.6h0M642.8 54.6h0M636.7 43.1h0M648.9 45.4h0M651 49.6h0M644.3 53.7h0M630.8 68.7h0M643.1 44.1h0M659 46.9h0M629.3 70h0M652 55h0M681.6 44.3h0M617.6 62.1h0M675.2 45.9h0M632.1 65.2h0M633.5 49.9h0M613.5 79.2h0M660.2 67.5h0M665 54.2h0M623.1 55.1h0M646.2 59.1h0M641.8 41.6h0M654.1 46.3h0M680.7 43h0M666.6 35.7h0M677.5 50.3h0M636.6 66h0M650.9 69.3h0M681 58.8h0M615.1 56.6h0M681.1 26.7h0M647.9 76.6h0M626.6 53.4h0M631.2 62.1h0M624.9 55.6h0M632.8 55.1h0M637.1 45.1h0M670.1 53.4h0M629.8 46.4h0M640.8 70.3h0M624.6 47.8h0M613.6 62.1h0M673.7 64.6h0M656.6 38.7h0M642.8 57.3h0M622.7 50.8h0M678 51.4h0M637 59.2h0M648 61.7h0M655 52.1h0M673.6 81.8h0M647.1 41.7h0M630.2 48.7h0M614.5 56.3h0M644.1 66.4h0M652.1 56.4h0M642.2 48.8h0M612.4 48h0M627.4 38.6h0M667.1 45h0M671.4 53.1h0M674.1 56.1h0M679.1 39.9h0M671.6 58.5h0M618.1 47.6h0M644.1 68.3h0M650.6 50.5h0M613.3 23.6h0M658.3 52.5h0M613.8 61.4h0M654.4 48.5h0M651.5 50.4h0M648.7 60.1h0M635.5 59.3h0M615.3 52.5h0M643.2 72.4h0M675.8 58.1h0M624 78h0M631 67.1h0M669.1 34.1h0M660.5 45.9h0M613.9 80.2h0M644.1 63.9h0M626.4 86.3h0M671.3 56.6h0M655.5 42.2h0M648.5 50.5h0M642.5 45.8h0M657.7 61.7h0M671.6 61.2h0M682.1 32.6h0M643.9 55.7h0M670.7 66.3h0M677.3 58.4h0M622.8 55.4h0M634.9 60.6h0M658.1 49.8h0M666 86.8h0M669.7 53h0M630.1 51.1h0M655.3 67.9h0M635.3 45.3h0M670.8 41.9h0M651.5 63.8h0M672.5 57.2h0M633.5 46.4h0M662.6 70.1h0M617.5 63.1h0M675.9 48.2h0M621.6 47.5h0M679.9 58.4h0M670.6 59.2h0M646.2 59.7h0M636.9 58.7h0M631.8 60.9h0M639 65.3h0M668.4 49.5h0M656.1 57.3h0M646.7 44.5h0M662.3 56.1h0M653.7 45.6h0M665.6 45h0M643.7 50.6h0M637.4 49.9h0M648.5 49h0M615.1 55.4h0M649.3 63.8h0M624.1 60.8h0M675.8 41.6h0M669.8 55.1h0M624.6 71.8h0M642.4 49.5h0M617.9 50.8h0M634 44.2h0M634.8 42.5h0M680.1 55.4h0M631.2 61.2h0M672.3 50.3h0M635.7 57.6h0M625.3 57.3h0M672.3 56.2h0M613.1 58.3h0M638.5 68h0M679.8 62.3h0M665.6 40.3h0M662.4 73.1h0M679.3 57.8h0M632.9 63.1h0M617.6 53h0M635.8 43.3h0M616 55.4h0M674.7 68.2h0M666.3 44.7h0M614 58.4h0M656.4 68.2h0M671.7 64.1h0M656.1 59.2h0M679.4 66.5h0M633 77.3h0M674.9 49.7h0M669.6 58.7h0" stroke="#1c8ee2" stroke-opacity=".2" stroke-width="1.8" stroke-linecap="round" fill="none"/>
<path d="M746.2 54.1h0M686.9 56.2h0M708.4 41.8h0M690.7 58.4h0M685 53.8h0M733.4 71h0M745.6 56.3h0M737.4 53.3h0M716.7 85.9h0M690 21.7h0M717.5 42.3h0M744.1 58h0M690 53.3h0M705.8 49.3h0M745.6 66.4h0M722.1 61.4h0M749.7 59.1h0M695 64.4h0M724.4 57.2h0M749.6 63.7h0M683.5 61.1h0M718.3 90.4h0M719.2 24.7h0M700.8 63.1h0M742.3 60.6h0M733.2 51.4h0M697.5 48.5h0M737.4 76.3h0M703 50.4h0M695.1 62h0M710.1 22.3h0M709.8 60h0M745.9 59h0M711.9 69.6h0M690.5 52.4h0M702.8 52.4h0M684.5 72.7h0M687.4 48.5h0M718.6 57.6h0M740.2 34.5h0M726.8 67.8h0M684.7 75.1h0M749.2 47.5h0M725.8 65.7h0M710.1 73.1h0M718.9 62.4h0M752.2 57.5h0M744.2 67.1h0M692.6 46.9h0M704.1 56.9h0M700.3 67h0M699.9 49.6h0M687.2 51.8h0M741.3 68.7h0M748.5 52.9h0M689.1 51.7h0M726.7 49.3h0M710.1 39.1h0M739 57.8h0M752.5 67h0M690.6 44.5h0M752.3 25.8h0M714.6 53.7h0M723.3 59.7h0M743.3 55.4h0M708.2 71.5h0M728.9 29.3h0M707 39.5h0M716.5 35.2h0M743.3 50.4h0M718.9 81.7h0M730.5 71.9h0M705.8 51.4h0M703 50.9h0M752 53.2h0M723.7 47.3h0M687.3 47.3h0M726.5 75.3h0M704.6 57.6h0M689.5 56.6h0M748.6 91.8h0M704.4 58.8h0M716.6 48.8h0M695.1 59.7h0M741.9 29.1h0M731.2 60.8h0M740.1 52.4h0M716.6 62.9h0M693.4 49.2h0M715.1 60.6h0M719.4 51.9h0M731.2 46.3h0M733.5 53.7h0M702.2 56.7h0M743.1 73.8h0M731.3 47.6h0M700.7 51.2h0M718.6 73.7h0M745.2 48.1h0M692.8 51.4h0M727.9 62.5h0M687 47.1h0M725.5 57.4h0M707.4 82.7h0M703.2 30.7h0M737.6 58.9h0M689 64.1h0M684 58.9h0M731.6 47.4h0M699.9 51.3h0M700.4 71.9h0M728.1 60.9h0M714 63.4h0M685.4 70h0M741.1 56.4h0M735.6 50.6h0M732.9 50.5h0M686.3 86.9h0M705.5 52.8h0M723.4 51.2h0M701.1 54.7h0M694.5 35.5h0M752.8 39.5h0M695.6 59.1h0M711.6 86.5h0M690.5 56.5h0M740.1 56.1h0M748.8 39.5h0M726.5 57.9h0M750.5 77.8h0M683.5 61h0M684.1 48.4h0M721.3 61.7h0M710.6 52.7h0M716.1 50.1h0M704.5 84.1h0M708.5 40.6h0M711.5 49.9h0M705 70.6h0M716.1 57.2h0M732.3 39h0M690.9 60.1h0M748.4 63h0M727.1 58.3h0M693.9 59.8h0M701 56.7h0M700.3 60.8h0M710.3 42.4h0M709.6 48.9h0M737.9 62h0M739.4 64.8h0M695.8 26.2h0M743.1 67.1h0M685.1 56h0M731.4 74.5h0M735.1 73.4h0M725.9 58h0M746.9 39.8h0M741.5 61.3h0M695.8 50.8h0M683.1 62.5h0M711.7 69.8h0M728.8 71.9h0M724 53.1h0M749.6 59.3h0M715.5 66.2h0M693.1 68.4h0M711.7 46.4h0M751.4 58.4h0M736 69.3h0M692.7 76h0M688.9 48.2h0M713.9 24.7h0M694.8 54.4h0M721.5 49.4h0M736.8 56.6h0M717.7 56.1h0M722.7 48h0M712.1 42.9h0M720.2 26.8h0M696 57.3h0M741.3 48h0M717.7 45.5h0M701.1 43.5h0M690.8 61h0M706.4 67.7h0M684 49.4h0M752.5 59.3h0M723.6 46.5h0M720.2 48h0M686.4 62.1h0M745.4 56.2h0M750.2 27.4h0M733.6 63.6h0M741.1 68.8h0M704.5 90.8h0M742.6 36.5h0M722.2 45.2h0M688.1 45.1h0M743.8 55.8h0M687 59.4h0M721.9 45.9h0M735.7 70.9h0M683.4 87h0M723 65.9h0M714.8 89.9h0M746.3 69.6h0M695.5 46.6h0M698.3 92.3h0M705 47.2h0M697 41.8h0M721.6 51.8h0M684 53.5h0M709.4 72.7h0M707 54.3h0M691.7 47.1h0M737.2 46h0M688.6 45.1h0M743 58.6h0M686.5 73.9h0M719.3 56.6h0M685.9 67.7h0M689.5 86.2h0M736.7 43h0M684.1 38.6h0M711.5 73.4h0M701.1 57.6h0M699.3 69.4h0M735.8 58.2h0M701 26.5h0M699.7 55.2h0M734.4 61.4h0M735.4 71.7h0M724.4 71h0M690.1 47.5h0M747.3 72.5h0M744.7 64.8h0M702.3 75.5h0M717.3 54.2h0M719.9 63.4h0M720.9 27.7h0M715.5 64.3h0M722 48.1h0M704.6 59.6h0M706.3 61.2h0M690.6 57h0M730.5 59.3h0M700.7 32.7h0M688 66.6h0M719.7 52h0M732.6 52.8h0M736.1 69.5h0M726 82.7h0M687.5 74h0M687.2 55.1h0M726.1 51.9h0M721.7 42.3h0M740.2 60.1h0M713.2 34.5h0M752.8 43.8h0M722.7 54.3h0M694 59.4h0M723.5 77.7h0M714.7 40.6h0M718.7 56.8h0M693.4 55.9h0M700.1 69.4h0M718.7 57.3h0M747.5 59.1h0M718.1 59.2h0M698.1 64.6h0M727.7 73.7h0M722.2 68.8h0M731.1 52.2h0M752.6 57.9h0M733 38.9h0M684.1 46.5h0M721.2 46.3h0M719.1 74.8h0M699.3 42.2h0M692.6 28.7h0M690.9 56.7h0M701.4 37.2h0M726 52.2h0M697.1 82.7h0M696.1 65.8h0M714.5 58.8h0M697.3 76.2h0M693.1 59.6h0M699.2 85.6h0M736.1 53h0M705.6 43.8h0M748.8 75.4h0M713.6 74.2h0M713.6 52.9h0M683.7 57.5h0M745 39.1h0M705.2 61.9h0M685.7 60.2h0M714.8 63.8h0M734.3 50.3h0M750 58.9h0M713 59.6h0M706.8 52.8h0M720.3 53.7h0M750.2 48.9h0M705.1 47.1h0M701.9 39.8h0M715 39.8h0M747.8 66.9h0M698.9 71.2h0M721.8 53.8h0M703.8 75.6h0M723.3 65.5h0M703.1 54.6h0M722.7 40.8h0M720.8 42.7h0M698.7 56.3h0M750 65.7h0M742.6 59.1h0M750.1 57.8h0M707.7 60.4h0M694.4 53.2h0M689 43.4h0M735.1 33h0M736.6 44.6h0M749.1 52.6h0M692 65h0M688.5 41.4h0M686.1 47.5h0M746.3 60.9h0M688.7 70.9h0M706.4 53.8h0M689.3 55.8h0M732.3 65.5h0M701.1 58.9h0M732 53.6h0M694.3 71h0M741 65.5h0M696.7 29.9h0M724.1 50.7h0M726.5 52.5h0M705.9 78.2h0M699.5 57.4h0M692.3 55.8h0M704.4 79.3h0M722.8 63.9h0M716.5 51.8h0M707.1 59.9h0M737.3 51.3h0M716.9 61.1h0M716 50h0M700.7 62.3h0M743.2 52h0M686.4 45.2h0M690.1 72.7h0M744.6 50.6h0M743.7 40.5h0M724.4 69.9h0M710.5 75.7h0M752.1 72.5h0M747.5 67.4h0M713.7 64.5h0M709.2 52.1h0M737.7 58.7h0M696 33.8h0M703.9 23.1h0M717 55.6h0M712.4 50.5h0M715.5 41.9h0M741.8 72.3h0M732.4 37.3h0M722 59.5h0M713.2 47.3h0M742.7 42.6h0M722 76.6h0M721 72.5h0M726.2 62.9h0M698.7 41.4h0M706.8 53.9h0M742.1 67.4h0M701.6 57.4h0M698.5 54.2h0M697.6 50.7h0M722.9 52.1h0M708.5 70.2h0M688.3 31.6h0M743.4 48.4h0M721.3 73.1h0M751.2 72h0M685 35.6h0M695.1 39.8h0M718.5 60.7h0M721.6 41.6h0M716.9 69.9h0M750.6 79.8h0M709.4 81.2h0M718.6 59.2h0M740.9 47.5h0M734.1 45.1h0M711.1 60.4h0M749.3 59.8h0M729.5 72.9h0M692.7 44h0M724.7 60.1h0M697.9 43.1h0M728.4 53.8h0M741.8 54.4h0M695.9 57h0M690.7 61h0M739 55h0M683.5 47.3h0M688.3 40.9h0M694.3 46.4h0M694.6 65.2h0M742.5 68.8h0M741.9 48.1h0M712.6 56h0M739.6 65.1h0M749.6 39h0M690 55.9h0M737.8 66.7h0M752 57.3h0M690.7 51.7h0M727.5 40.6h0M700.7 61.2h0M745.7 62.9h0M707.5 58.3h0M725.6 51.9h0M702.4 58.5h0M715.5 69.7h0M721.7 23h0M744.2 24.1h0M688.1 68.8h0M735.9 69.5h0M711.5 84.9h0M736.1 49.1h0M686.1 61.9h0M703.5 75.4h0M704.9 64.4h0M723.3 68.8h0M704.4 51.5h0M686 49.8h0M739.7 55.1h0M726.7 39h0M707.1 51.8h0M730.7 74.3h0M748.5 60.8h0M751.6 84.4h0M709 37.3h0M752.1 59.9h0M747.2 58.6h0M709.9 52.2h0M719.8 57h0M690 58.6h0M692.4 65.3h0M743.7 26.2h0M683 53.3h0M705.8 61.5h0M725.9 50.1h0M684.1 60.2h0M687.9 52.5h0M719.4 49.4h0M720.9 50.9h0M702.3 57.4h0M717.2 43.7h0M702.7 55.4h0M685 49.7h0M686.9 66.5h0M690 67.1h0M714.6 58.7h0M752.8 51.1h0M743.1 54h0M748.4 55.4h0M723.5 40.4h0M705.8 58.9h0M731.7 40.8h0M742.1 41.5h0M735.1 51h0M730.1 63.1h0M731.9 52.1h0M696.7 42h0M731.7 50.5h0M726.8 64.7h0M727.2 37.2h0M694.6 57.7h0M750.8 73h0M717.7 60.2h0M745 72.3h0M732.7 57.9h0M725.9 58.9h0M732.1 51.8h0M716.8 62.2h0M686.1 49.4h0M716.4 87.8h0M683.8 61.6h0M713.4 48.9h0M694.2 60h0M711.2 37.8h0M748.9 70.3h0M701.4 49h0M731.4 37.1h0M699.6 28.3h0M688.9 53h0M737.5 66.4h0M747.7 49.2h0M685.2 58.4h0M717.8 71.5h0M699.8 77h0M711.9 62.3h0M708.9 68.1h0M727.5 67.2h0M725.3 49.2h0M717.1 78.2h0M751.5 67.7h0M742.9 50.1h0M719.3 50.4h0M725 47.5h0M719.3 63.6h0M740 67.3h0M732.5 75.2h0M750.4 57.7h0M708.9 63.8h0M737.9 57.1h0M709.1 54.3h0M734.6 57.6h0M699.5 75.5h0M709.7 62.8h0M745.3 50.9h0M723.7 70.2h0M701.4 63.9h0M694.5 51.7h0M694.8 57.1h0M693.2 66.1h0M752.1 51.2h0M714.9 87.8h0M733.4 34.4h0M715.9 62.6h0M734.9 49.1h0M707.2 78.8h0M707.4 79h0M745.5 91.3h0M686.9 46.5h0M718.9 77.9h0M736.4 60.2h0M700 68.3h0M737.1 65.2h0M736.9 68.2h0M747.8 60.8h0M706.5 50.2h0M718.4 43.7h0M752.4 51.6h0M717.1 54.9h0M712.5 53.5h0M749.9 62.3h0M709 82.4h0M734.5 68.9h0M696.3 73.9h0M716 70.8h0M685.3 66.5h0M735.5 55.7h0M747 24.7h0M730.5 52.5h0M752.3 33h0M705.3 53.9h0M694.3 31.9h0M699 44.5h0M719.4 66h0M727.8 43.5h0M683.2 82.9h0M701.4 48h0M700.3 56.5h0M683.5 54.2h0M712.3 57.6h0M713.8 54.3h0M751.5 52h0M686.5 50.3h0M736.4 48.5h0M710.8 52.3h0M695.9 40.8h0M720.4 44.9h0M738.3 80.3h0M745.2 60.8h0M740.9 30.6h0M684.5 67.9h0M690.2 51.5h0M692.8 39.8h0M727.5 71.6h0M740.7 52.4h0M691.9 42.7h0M732.2 89.3h0M731.9 62.4h0M720 56.2h0M715.1 90.2h0M735.9 53.4h0M713.5 60.6h0M737.5 50.4h0M747.3 62.5h0M734.5 49.3h0M746.9 58h0M683.7 70.3h0M725.3 43.1h0M742.9 43.3h0M700.2 38h0M697.9 37.9h0M701.5 53.5h0M714.9 42.3h0M701.4 58.8h0M744.2 72h0M752.4 21.1h0M742.6 62.5h0M727.4 55.3h0M746.7 68.4h0M720.8 23.1h0M685.4 65h0M744 61.8h0M703.2 58.1h0M699.8 83.1h0M728.9 68.7h0M727.2 46.3h0M726.1 54.4h0M693.2 68.7h0M701.2 43.2h0M737.8 42.9h0M732.8 55.7h0M740.9 73.8h0M739.7 53.9h0M744.9 41.7h0M713.5 73.4h0M725.4 87.5h0M733.3 46.4h0M741.2 39h0M748.3 57.7h0M712.1 68.8h0M722 49.6h0M733 62.8h0M735 50h0M751.4 47.2h0M749.7 51.2h0M700.7 45.7h0M722 73.5h0M698.4 61h0M697.8 63.5h0M700 47.5h0M730.3 52.7h0M703.6 65.4h0M718.4 84.5h0M751.9 40h0M735.8 65.7h0M694.9 50.3h0M747.5 50.4h0M736.3 89.9h0M726.7 59.4h0M727.7 50.6h0M683 58.5h0M745.3 77.7h0M688 54h0M689.3 44h0M712.8 68.4h0M736.3 59.5h0M711.8 34.9h0M683.5 75.6h0M696.7 45.7h0M705.9 87.4h0M697.6 61.3h0M711.1 71.4h0M695.6 44.9h0M726.2 34.3h0M686.2 60.1h0M738.7 40.2h0M695.7 63.2h0M731 58.9h0M727.8 57.6h0M698.6 77.8h0M722 67.6h0M703.6 61.8h0M687.3 55h0M733.8 38h0M750.6 84.4h0M740.4 74.7h0M735.2 35.4h0M699.2 43.4h0M699.7 56.7h0M733.3 48.4h0M720.4 62.9h0M721.8 75.2h0M720.7 62h0M719.3 65.4h0M733.3 62.2h0M696.8 70.3h0M743.8 53.8h0M690.6 69.2h0M724.5 70.5h0M741.9 67.9h0M692 76.2h0M731.7 59.2h0M703.6 34.9h0M716.8 51.1h0M714.5 49.8h0M752.7 50.4h0M691.6 53.9h0M688.3 51.1h0M709.7 58.4h0M701.3 52.8h0M716.8 46.5h0M691 85.4h0M725.5 22.1h0M712.3 63.1h0M744.3 67.5h0M704.3 49.6h0M746.3 72h0M735.3 56.2h0M711.4 58.7h0M705.7 53.5h0M723.9 60.7h0M719.6 59.9h0M737.3 26.7h0M710.2 36.1h0M726.6 40.5h0M707.1 46.1h0M684.1 40.4h0M688.9 72.9h0M746 62.8h0M721.9 23h0M704.1 41.2h0M738.3 74.4h0M701.6 72.3h0M742.5 47.6h0M747.9 73.4h0M702.3 72.4h0M700.1 43.2h0M685.5 71.9h0M694.3 54.6h0M750.4 74h0M702.6 59.3h0M718.9 44.3h0M700.7 58.1h0M701.6 26.9h0M748.2 65h0M737.8 35.6h0M689.9 24.8h0M722.6 62.8h0M708.7 65.7h0M729.2 48h0M727.9 47.5h0M705.3 40.1h0M720.5 46.2h0M702.3 41.1h0M715.2 56h0M722.2 81.4h0M691 41.1h0M687.2 51.8h0M743 57.2h0M691 67.8h0M695.7 59.6h0M739.9 69.5h0M704.3 73.7h0M744.9 54.7h0M715.2 56.5h0M706.4 36.9h0M684.1 59h0M750.8 55.3h0M691.6 66.1h0M735.6 43.3h0M701.3 49.4h0M714.8 49.9h0M696.6 64h0M726.9 54.3h0M714.4 51h0M687.4 62.8h0M698.8 74h0M694.6 63.2h0M735.7 61.5h0M748.9 38.5h0M732.8 48.3h0M692.1 72.7h0M728.7 56.2h0M731.8 62.6h0M704.9 48.7h0M752.5 61.4h0M741 35.5h0M710.6 75.9h0M688.1 23.5h0M725.9 50.3h0M729.7 56h0M717.3 45.8h0M715.1 82.7h0M688.5 57.6h0M727.4 67.1h0M691.3 33.5h0M752.2 55.2h0M711.4 50.7h0M710.8 61.1h0M693.3 53.7h0M736.9 55.8h0M697.5 72.8h0M687.5 49.8h0M720.2 55.5h0M731.6 47h0M745.3 51.2h0M688 67.6h0M737.5 56.1h0M742 57.7h0M704.3 45h0M699.2 53.4h0M745.4 25.5h0M693.1 44h0M742.9 41.7h0M748.6 85.8h0M697.2 48.5h0M710 69.8h0M731.3 56.6h0M688.7 44.4h0M726.9 58.8h0M718.5 42.5h0M693.9 47.8h0M687.7 62.6h0M715 45.4h0M689.4 37.8h0M718.5 77.6h0M718.4 57.6h0M697.7 55.1h0M714.3 38.3h0M698.6 52.3h0M702.9 57.8h0M752.6 88.8h0M726.9 67.9h0M733.4 51.3h0M733.5 61.3h0M694.3 42.1h0M711.6 60.3h0M707.8 59.9h0M706 71.1h0M709.1 67.5h0M712.8 66.6h0M693 49.9h0M725.4 57.9h0M738.9 46.1h0M683.2 60.6h0M688.6 37.8h0M700.9 45.6h0M712.9 37.3h0M746.8 58.9h0M695.6 59.1h0M685.4 68.8h0M737.5 57.9h0M730.3 54h0M684.2 52.1h0M726.9 42.4h0M728.9 45.9h0M707.1 75.8h0M715.8 76.6h0M732 54.2h0M709.7 53.1h0M701.2 61.5h0M714.8 56.2h0M707.7 63.9h0M698.3 67.9h0M717.8 64.9h0M729.7 74.9h0M712.3 59.2h0M746.3 56.7h0M731 75.1h0M729.7 54.7h0M693.8 48.7h0M694.4 53.7h0M703.5 47.7h0M688.8 62.8h0M736.4 76.3h0M744.1 62.8h0M722 74.1h0M744.9 39.8h0M722 60.1h0M714.8 70.6h0M725.8 48.8h0M706.2 40.5h0M717.4 51.9h0M687 65.1h0M696.2 47.9h0M728.7 51.6h0M711.7 52.6h0M719.6 84.5h0M711.2 56.4h0M688 48.9h0M751.5 53.8h0M735.9 90.2h0M752.7 49.2h0M728.9 53.7h0M715.9 38.9h0M714.7 65.2h0M742.2 57.7h0M686.1 64.1h0M735.8 69.7h0M695.4 65.1h0M749.7 63.8h0M745.9 60h0M691.4 42.4h0M714.6 56.4h0M719.4 50.5h0M751.8 49h0M731 49.2h0M718 48.9h0M694.6 55.1h0M726.1 57.9h0M741.2 56.2h0M715.2 83.5h0M718.7 56.5h0M734.4 61.8h0M727.8 29.3h0M750.3 53.5h0M690.3 57.4h0M685.4 73.2h0M742.2 63.6h0M717.4 49.1h0M694.5 43.6h0M711.4 25.7h0M736.2 37.7h0M682.9 66.7h0M713.1 50.3h0M748.7 46.7h0M734.8 35.3h0M727.7 23.8h0M701.2 62.7h0M730.2 30.3h0M733 43.3h0M714.7 74.1h0M736.3 90.4h0M715.7 51.5h0M731 44.4h0M706.8 42.5h0M718 73.2h0M728.1 51.2h0M730.9 50.3h0M723.5 62h0M701.2 49.9h0M722 49.6h0M688.3 44.8h0M683.4 50.3h0M734.2 66.2h0M746.5 56.1h0M724 60.5h0M711.4 65.3h0M717.8 67.1h0M742.6 82.7h0M721.5 65.9h0M719.3 49.8h0M729.7 70.7h0M720.8 64.3h0M752.3 45.3h0M684.1 58.8h0M739.8 47.9h0M736.9 81.3h0M709.4 73.7h0M724.3 75.5h0M708 51.2h0M687.6 62.2h0M702.6 61.9h0M706.2 74.1h0M715.9 66.3h0M720.6 54.7h0M728.2 50.4h0M686.5 59.7h0M705.6 58.7h0M688 73.4h0M714.1 53.1h0M739.6 74h0M731.8 50.7h0M720.4 62.5h0M702.5 51h0M691 60.3h0M686.4 40.5h0M717.9 23.5h0M747.8 64.5h0M703.4 75.4h0M732.3 52.1h0M703.8 48.1h0M741.8 27h0M690.8 50.5h0M704.1 55.6h0M689.6 55.7h0M727 49.4h0M725 67.5h0M683.8 32.5h0" stroke="#1c8ee2" stroke-opacity=".15" stroke-width="1.8" stroke-linecap="round" fill="none"/>
<path d="M598 54.5h1M559 53.5h1M546 61.5h1M608 53.5h1M584 58.5h1M605 55.5h1M598 52.5h1M547 57.5h1M572 55.5h1M599 57.5h1M578 49.5h1M576 63.5h1M559 56.5h1M596 67.5h1M610 52.5h1M593 55.5h1M611 40.5h1M543 55.5h1M583 50.5h1M609 65.5h1M549 60.5h1M580 51.5h1M580 71.5h1M593 66.5h1M564 43.5h1M546 44.5h1M609 49.5h1M575 56.5h1M550 62.5h1M584 52.5h1M594 50.5h1M594 59.5h1M607 59.5h1M608 58.5h1M603 55.5h1M567 47.5h1M560 58.5h1M587 59.5h1M552 38.5h1M581 51.5h1M572 56.5h1M571 53.5h1M607 51.5h1M605 45.5h1M554 34.5h1M597 59.5h1M571 56.5h1M574 64.5h1M562 57.5h1M544 62.5h1M600 53.5h1M547 48.5h1M580 45.5h1M566 56.5h1M611 49.5h1M577 65.5h1M577 48.5h1M606 67.5h1M568 57.5h1M596 57.5h1M593 58.5h1M573 65.5h1M595 45.5h1M574 49.5h1M567 52.5h1M594 61.5h1M569 65.5h1M554 34.5h1M561 57.5h1M591 65.5h1M609 59.5h1M591 57.5h1M595 58.5h1M563 58.5h1M563 47.5h1M566 63.5h1M604 59.5h1M574 71.5h1M553 51.5h1M579 55.5h1M565 60.5h1M608 49.5h1M582 72.5h1M582 55.5h1M570 78.5h1M610 70.5h1M594 45.5h1M605 64.5h1M596 56.5h1M571 50.5h1M562 67.5h1M607 45.5h1M579 58.5h1M549 51.5h1M594 55.5h1M607 44.5h1M548 52.5h1M586 56.5h1M587 69.5h1M578 58.5h1M590 48.5h1M607 56.5h1M586 51.5h1M586 60.5h1M584 58.5h1M601 52.5h1M583 52.5h1M585 65.5h1M566 66.5h1M599 56.5h1M552 58.5h1M552 61.5h1M593 57.5h1M599 52.5h1M599 46.5h1M579 62.5h1M584 55.5h1M608 57.5h1M604 59.5h1M560 58.5h1M549 57.5h1M561 55.5h1M598 66.5h1M563 51.5h1M611 64.5h1M549 45.5h1M600 73.5h1M558 44.5h1M560 49.5h1M568 54.5h1M575 39.5h1M572 61.5h1M547 66.5h1M576 63.5h1M581 58.5h1M578 66.5h1M560 65.5h1M612 54.5h1M591 58.5h1M555 55.5h1M572 69.5h1M555 52.5h1M557 50.5h1M558 56.5h1M594 50.5h1M602 55.5h1M565 55.5h1M578 59.5h1M592 53.5h1M602 50.5h1M577 60.5h1M595 57.5h1M544 63.5h1M575 53.5h1M570 57.5h1M552 63.5h1M577 50.5h1M604 59.5h1M569 60.5h1M550 46.5h1M609 52.5h1M553 63.5h1M560 59.5h1M568 55.5h1M572 58.5h1M572 53.5h1M549 54.5h1M549 51.5h1M577 46.5h1M556 59.5h1M576 57.5h1M569 58.5h1M551 64.5h1M599 60.5h1M602 69.5h1M581 60.5h1M561 64.5h1M612 78.5h1M559 49.5h1M583 57.5h1M574 58.5h1M596 60.5h1M590 47.5h1M543 41.5h1M575 59.5h1M548 52.5h1M607 58.5h1M571 50.5h1M590 69.5h1M559 59.5h1M574 69.5h1M599 63.5h1M609 57.5h1M608 57.5h1M561 50.5h1M598 62.5h1M602 51.5h1M554 48.5h1M565 55.5h1M558 75.5h1M560 48.5h1M574 53.5h1M543 54.5h1M575 54.5h1M596 54.5h1M606 59.5h1M604 55.5h1M559 50.5h1M558 50.5h1M574 64.5h1M611 52.5h1M586 61.5h1M547 56.5h1M562 54.5h1M546 61.5h1M587 61.5h1M570 51.5h1M558 63.5h1M594 43.5h1M555 61.5h1M557 63.5h1M556 51.5h1M610 57.5h1M597 65.5h1M608 63.5h1M568 45.5h1M554 52.5h1M545 54.5h1M575 57.5h1M588 71.5h1M565 35.5h1M574 54.5h1M593 68.5h1M588 56.5h1M548 68.5h1M575 52.5h1M605 39.5h1M571 58.5h1M544 62.5h1M589 45.5h1M586 64.5h1M593 71.5h1M589 56.5h1M544 48.5h1M603 52.5h1M575 54.5h1M554 57.5h1M597 57.5h1M559 50.5h1M558 50.5h1M571 52.5h1M568 56.5h1M556 58.5h1M546 52.5h1M581 48.5h1M587 62.5h1M592 72.5h1M581 58.5h1M582 60.5h1M577 57.5h1M561 48.5h1M601 62.5h1M565 58.5h1M548 52.5h1M560 65.5h1M552 60.5h1M561 53.5h1M570 41.5h1M569 72.5h1M594 60.5h1M580 49.5h1M612 51.5h1M600 62.5h1M580 61.5h1M590 48.5h1M561 59.5h1M543 62.5h1M574 46.5h1M602 54.5h1M571 57.5h1M581 53.5h1M605 40.5h1M552 53.5h1M554 57.5h1M566 60.5h1M550 39.5h1M547 46.5h1M592 51.5h1M566 55.5h1M586 54.5h1M603 49.5h1M608 40.5h1M565 42.5h1M556 72.5h1M560 78.5h1M596 52.5h1M549 50.5h1M588 51.5h1M546 52.5h1M601 59.5h1M579 74.5h1M551 63.5h1M600 49.5h1M547 44.5h1M596 59.5h1M601 37.5h1M551 50.5h1M585 70.5h1M557 57.5h1M545 62.5h1M543 58.5h1M586 50.5h1M585 48.5h1M597 41.5h1M599 58.5h1M587 58.5h1M551 50.5h1M588 52.5h1M599 59.5h1M575 59.5h1M602 58.5h1M564 65.5h1M585 49.5h1M556 48.5h1M565 52.5h1M557 64.5h1M569 59.5h1M591 56.5h1M553 58.5h1M587 57.5h1M594 50.5h1M543 58.5h1M597 59.5h1M592 63.5h1M561 48.5h1M595 53.5h1M586 66.5h1M551 60.5h1M544 46.5h1M571 41.5h1M594 50.5h1M596 48.5h1M592 49.5h1M542 53.5h1M602 53.5h1M575 61.5h1M582 36.5h1M604 64.5h1M576 50.5h1M559 53.5h1M603 67.5h1M586 45.5h1M580 55.5h1M580 65.5h1M608 55.5h1M559 54.5h1M588 52.5h1M575 57.5h1M548 61.5h1M598 62.5h1M589 48.5h1M579 45.5h1M601 55.5h1M563 59.5h1M606 65.5h1M579 66.5h1M577 46.5h1M578 52.5h1M559 57.5h1M592 50.5h1M564 54.5h1M568 45.5h1M588 65.5h1M560 47.5h1M587 53.5h1M582 55.5h1M574 46.5h1M586 56.5h1M573 54.5h1M545 58.5h1M578 42.5h1M608 50.5h1M593 69.5h1M560 60.5h1M577 55.5h1M589 54.5h1M568 64.5h1M582 48.5h1M584 50.5h1M598 48.5h1M563 65.5h1M565 56.5h1M574 47.5h1M547 55.5h1M559 54.5h1M552 57.5h1M551 38.5h1M611 60.5h1M598 50.5h1M594 54.5h1M547 53.5h1M559 50.5h1M604 52.5h1M583 52.5h1M588 56.5h1M570 48.5h1M564 56.5h1M591 57.5h1M564 55.5h1M543 54.5h1M570 57.5h1M577 53.5h1M564 57.5h1M587 48.5h1M594 60.5h1M549 63.5h1M566 57.5h1M590 50.5h1M569 64.5h1M601 48.5h1M543 57.5h1M573 59.5h1M544 45.5h1M570 48.5h1M607 54.5h1M577 62.5h1M543 46.5h1M587 60.5h1M544 44.5h1M584 54.5h1M548 66.5h1M587 68.5h1M573 45.5h1M581 48.5h1M558 66.5h1M567 60.5h1M559 54.5h1M611 57.5h1M581 51.5h1M556 57.5h1M573 71.5h1M575 56.5h1M559 61.5h1M583 61.5h1M553 52.5h1M549 55.5h1M590 59.5h1M576 64.5h1M549 53.5h1M587 62.5h1M588 66.5h1M571 56.5h1M600 64.5h1M556 69.5h1M607 61.5h1M583 54.5h1M608 54.5h1M565 54.5h1M585 53.5h1M572 62.5h1M549 48.5h1M590 59.5h1M568 61.5h1M573 63.5h1M597 51.5h1M592 58.5h1M610 54.5h1M561 59.5h1M547 58.5h1M587 53.5h1M601 61.5h1M604 54.5h1M556 55.5h1M578 53.5h1M599 55.5h1M545 48.5h1M545 53.5h1M601 60.5h1M549 53.5h1M580 45.5h1M589 51.5h1M545 61.5h1M601 58.5h1M594 53.5h1M565 57.5h1M546 51.5h1M598 57.5h1M551 53.5h1M596 64.5h1M543 59.5h1M597 51.5h1M542 54.5h1M564 61.5h1M543 59.5h1M608 56.5h1M573 63.5h1M559 56.5h1M585 55.5h1M557 44.5h1M577 60.5h1M562 57.5h1M604 59.5h1M582 52.5h1M575 47.5h1M581 49.5h1M579 63.5h1M596 51.5h1M584 55.5h1M586 63.5h1M591 49.5h1M555 67.5h1M544 53.5h1M556 67.5h1M549 59.5h1M587 58.5h1M582 64.5h1M570 53.5h1M545 53.5h1M574 58.5h1M551 65.5h1M579 53.5h1M570 57.5h1M544 51.5h1M582 54.5h1M595 51.5h1M583 48.5h1M584 52.5h1M570 46.5h1M556 63.5h1M608 62.5h1M605 51.5h1M588 48.5h1M609 52.5h1M593 55.5h1M563 50.5h1M594 54.5h1M584 57.5h1M581 54.5h1M609 59.5h1M606 51.5h1M557 48.5h1M565 46.5h1M555 51.5h1M608 64.5h1M554 56.5h1M556 47.5h1M602 55.5h1M562 60.5h1M567 62.5h1M599 61.5h1M592 50.5h1M542 66.5h1M563 53.5h1M577 64.5h1M542 58.5h1M606 67.5h1M607 58.5h1M577 55.5h1M588 56.5h1M547 52.5h1M606 49.5h1M602 58.5h1M557 57.5h1M677 74.5h1M654 62.5h1M649 67.5h1M665 74.5h1M675 61.5h1M676 74.5h1M625 51.5h1M658 54.5h1M677 55.5h1M658 72.5h1M628 51.5h1M614 51.5h1M670 64.5h1M649 62.5h1M672 67.5h1M673 63.5h1M681 59.5h1M663 69.5h1M625 58.5h1M658 56.5h1M622 67.5h1M613 55.5h1M651 57.5h1M618 41.5h1M669 58.5h1M660 63.5h1M625 55.5h1M635 49.5h1M669 48.5h1M647 40.5h1M639 61.5h1M620 28.5h1M637 51.5h1M640 65.5h1M660 66.5h1M647 67.5h1M663 78.5h1M643 64.5h1M625 65.5h1M663 65.5h1M666 60.5h1M663 50.5h1M673 64.5h1M674 59.5h1M639 61.5h1M673 58.5h1M673 59.5h1M628 52.5h1M673 48.5h1M670 65.5h1M661 58.5h1M648 54.5h1M646 49.5h1M672 57.5h1M649 58.5h1M680 69.5h1M619 64.5h1M674 62.5h1M677 58.5h1M619 52.5h1M640 53.5h1M623 66.5h1M624 58.5h1M662 56.5h1M615 53.5h1M648 57.5h1M648 65.5h1M640 65.5h1M639 59.5h1M622 60.5h1M636 52.5h1M646 66.5h1M640 43.5h1M645 45.5h1M671 55.5h1M639 51.5h1M682 46.5h1M612 24.5h1M632 57.5h1M671 56.5h1M670 63.5h1M663 57.5h1M656 51.5h1M617 48.5h1M679 52.5h1M617 58.5h1M666 49.5h1M616 48.5h1M658 63.5h1M633 59.5h1M682 68.5h1M660 50.5h1M655 66.5h1M630 67.5h1M621 54.5h1M628 64.5h1M658 44.5h1M677 59.5h1M654 55.5h1M665 62.5h1M665 53.5h1M624 60.5h1M671 61.5h1M682 70.5h1M631 70.5h1M641 49.5h1M674 67.5h1M661 62.5h1M614 69.5h1M612 60.5h1M664 56.5h1M667 61.5h1M620 56.5h1M645 56.5h1M621 52.5h1M612 45.5h1M640 69.5h1M628 53.5h1M651 45.5h1M645 48.5h1M660 70.5h1M655 52.5h1M674 60.5h1M616 37.5h1M644 42.5h1M668 54.5h1M663 78.5h1M659 53.5h1M623 58.5h1M620 48.5h1M678 60.5h1M659 45.5h1M662 59.5h1M674 37.5h1M671 75.5h1M639 58.5h1M648 41.5h1M613 65.5h1M630 49.5h1M680 61.5h1M663 56.5h1M621 56.5h1M665 46.5h1M624 60.5h1M637 71.5h1M623 54.5h1M628 60.5h1M645 64.5h1M667 70.5h1M682 49.5h1M670 40.5h1M647 55.5h1M649 55.5h1M614 54.5h1M653 51.5h1M647 77.5h1M621 66.5h1M675 57.5h1M644 57.5h1M644 57.5h1M676 62.5h1M631 65.5h1M619 64.5h1M627 47.5h1M632 57.5h1M644 56.5h1M660 61.5h1M664 70.5h1M631 65.5h1M680 47.5h1M679 57.5h1M646 54.5h1M650 40.5h1M641 55.5h1M674 54.5h1M675 56.5h1M633 54.5h1M645 52.5h1M658 61.5h1M676 52.5h1M665 64.5h1M616 57.5h1M632 73.5h1M642 46.5h1M649 55.5h1M623 59.5h1M650 51.5h1M670 58.5h1M667 45.5h1M673 63.5h1M671 66.5h1M662 70.5h1M654 65.5h1M632 46.5h1M620 61.5h1M651 61.5h1M648 59.5h1M626 21.5h1M650 46.5h1M636 27.5h1M656 56.5h1M619 70.5h1M645 61.5h1M648 48.5h1M619 54.5h1M645 51.5h1M663 39.5h1M642 59.5h1M653 62.5h1M650 45.5h1M680 39.5h1M668 81.5h1M657 80.5h1M675 62.5h1M631 64.5h1M654 53.5h1M614 60.5h1M679 56.5h1M639 80.5h1M640 55.5h1M668 52.5h1M619 65.5h1M616 61.5h1M639 54.5h1M627 68.5h1M666 63.5h1M635 49.5h1M625 37.5h1M617 62.5h1M668 39.5h1M648 47.5h1M643 54.5h1M634 53.5h1M619 51.5h1M632 46.5h1M639 62.5h1M656 54.5h1M619 62.5h1M678 56.5h1M619 89.5h1M674 85.5h1M661 52.5h1M653 56.5h1M680 56.5h1M618 43.5h1M680 63.5h1M654 54.5h1M644 37.5h1M631 62.5h1M678 48.5h1M636 53.5h1M618 57.5h1M631 42.5h1M645 66.5h1M665 38.5h1M655 56.5h1M649 60.5h1M615 59.5h1M661 58.5h1M616 77.5h1M613 61.5h1M641 43.5h1M670 60.5h1M630 70.5h1M638 74.5h1M662 52.5h1M661 56.5h1M633 66.5h1M632 50.5h1M623 53.5h1M673 30.5h1M635 54.5h1M642 50.5h1M614 55.5h1M638 62.5h1M652 44.5h1M625 56.5h1M642 58.5h1M627 53.5h1M660 65.5h1M648 61.5h1M630 45.5h1M644 52.5h1M676 64.5h1M659 58.5h1M661 57.5h1M621 47.5h1M639 58.5h1M666 66.5h1M645 51.5h1M653 59.5h1M625 45.5h1M657 63.5h1M668 57.5h1M674 54.5h1M645 57.5h1M677 59.5h1M644 52.5h1M680 52.5h1M658 55.5h1M669 54.5h1M674 45.5h1M676 39.5h1M636 49.5h1M645 64.5h1M661 74.5h1M667 64.5h1M677 52.5h1M648 65.5h1M636 63.5h1M625 64.5h1M615 34.5h1M630 45.5h1M664 68.5h1M615 40.5h1M659 67.5h1M653 48.5h1M667 44.5h1M613 60.5h1M665 52.5h1M638 63.5h1M650 67.5h1M644 41.5h1M648 58.5h1M674 46.5h1M644 55.5h1M616 61.5h1M682 65.5h1M631 50.5h1M653 35.5h1M657 55.5h1M673 56.5h1M634 63.5h1M626 44.5h1M615 50.5h1M662 73.5h1M673 51.5h1M676 43.5h1M613 60.5h1M661 60.5h1M658 53.5h1M635 70.5h1M658 60.5h1M614 55.5h1M641 45.5h1M670 63.5h1M614 85.5h1M642 46.5h1M661 60.5h1M638 59.5h1M663 50.5h1M619 71.5h1M656 60.5h1M623 61.5h1M654 33.5h1M640 73.5h1M614 41.5h1M656 70.5h1M635 53.5h1M638 46.5h1M672 66.5h1M656 63.5h1M666 59.5h1M629 60.5h1M677 58.5h1M636 59.5h1M645 60.5h1M626 64.5h1M658 81.5h1M664 52.5h1M646 53.5h1M639 54.5h1M674 58.5h1M636 66.5h1M626 73.5h1M631 57.5h1M674 53.5h1M616 53.5h1M675 68.5h1M623 46.5h1M661 50.5h1M626 50.5h1M669 62.5h1M633 46.5h1M680 59.5h1M666 61.5h1M625 68.5h1M613 49.5h1M671 56.5h1M644 64.5h1M665 52.5h1M629 62.5h1M615 78.5h1M613 65.5h1M618 58.5h1M663 45.5h1M633 69.5h1M669 60.5h1M631 56.5h1M645 63.5h1M652 87.5h1M680 50.5h1M614 67.5h1M678 53.5h1M626 64.5h1M656 55.5h1M657 62.5h1M621 71.5h1M628 57.5h1M655 22.5h1M654 46.5h1M626 66.5h1M648 56.5h1M633 51.5h1M645 64.5h1M650 59.5h1M634 74.5h1M627 59.5h1M682 45.5h1M661 81.5h1M653 67.5h1M622 59.5h1M654 59.5h1M648 52.5h1M673 58.5h1M621 55.5h1M635 51.5h1M672 62.5h1M679 63.5h1M632 60.5h1M647 53.5h1M643 67.5h1M628 62.5h1M620 62.5h1M645 48.5h1M619 66.5h1M656 62.5h1M630 46.5h1M636 59.5h1M655 63.5h1M612 72.5h1M616 47.5h1M635 63.5h1M637 71.5h1M618 54.5h1M666 54.5h1M636 59.5h1M671 46.5h1M627 54.5h1M656 70.5h1M616 53.5h1M661 60.5h1M647 65.5h1M634 61.5h1M671 53.5h1M680 73.5h1M641 39.5h1M668 61.5h1M646 56.5h1M643 62.5h1M640 61.5h1M679 66.5h1M675 59.5h1M677 51.5h1M634 43.5h1M613 64.5h1M614 62.5h1M679 51.5h1M631 53.5h1M671 51.5h1M629 60.5h1M679 28.5h1M675 62.5h1M650 47.5h1M614 65.5h1M680 46.5h1M648 61.5h1M669 68.5h1M663 65.5h1M650 60.5h1M633 56.5h1M629 55.5h1M670 59.5h1M617 59.5h1M624 53.5h1M637 62.5h1M649 41.5h1M671 56.5h1M636 43.5h1M648 45.5h1M651 49.5h1M630 68.5h1M659 46.5h1M681 44.5h1M613 79.5h1M665 54.5h1M666 35.5h1M677 50.5h1M636 66.5h1M650 69.5h1M680 58.5h1M615 56.5h1M681 26.5h1M647 76.5h1M670 53.5h1M629 46.5h1M640 70.5h1M624 47.5h1M613 62.5h1M673 64.5h1M656 38.5h1M642 57.5h1M622 50.5h1M677 51.5h1M637 59.5h1M648 61.5h1M614 56.5h1M644 66.5h1M652 56.5h1M642 48.5h1M612 47.5h1M627 38.5h1M671 53.5h1M674 56.5h1M679 39.5h1M671 58.5h1M618 47.5h1M644 68.5h1M650 50.5h1M658 52.5h1M613 61.5h1M654 48.5h1M648 60.5h1M635 59.5h1M615 52.5h1M643 72.5h1M623 77.5h1M631 67.5h1M669 34.5h1M613 80.5h1M671 56.5h1M655 42.5h1M671 61.5h1M622 55.5h1M658 49.5h1M665 86.5h1M630 51.5h1M655 67.5h1M670 41.5h1M651 63.5h1M633 46.5h1M662 70.5h1M670 59.5h1M646 59.5h1M636 58.5h1M631 60.5h1M639 65.5h1M668 49.5h1M656 57.5h1M653 45.5h1M643 50.5h1M637 49.5h1M648 49.5h1M615 55.5h1M649 63.5h1M624 60.5h1M675 41.5h1M669 55.5h1M624 71.5h1M642 49.5h1M680 55.5h1M631 61.5h1M672 50.5h1M635 57.5h1M625 57.5h1M613 58.5h1M679 62.5h1M662 73.5h1M632 63.5h1M617 53.5h1M635 43.5h1M666 44.5h1M614 58.5h1M671 64.5h1M633 77.5h1M669 58.5h1M746 54.5h1M686 56.5h1M690 58.5h1M685 53.5h1M733 70.5h1M745 56.5h1M689 21.5h1M717 42.5h1M744 57.5h1M690 53.5h1M705 49.5h1M722 61.5h1M749 63.5h1M683 61.5h1M718 90.5h1M697 48.5h1M737 76.5h1M695 61.5h1M710 22.5h1M711 69.5h1M690 52.5h1M702 52.5h1M718 57.5h1M726 67.5h1M684 75.5h1M749 47.5h1M725 65.5h1M718 62.5h1M744 67.5h1M704 56.5h1M741 68.5h1M748 52.5h1M689 51.5h1M710 39.5h1M752 25.5h1M714 53.5h1M723 59.5h1M743 55.5h1M708 71.5h1M728 29.5h1M707 39.5h1M716 35.5h1M743 50.5h1M730 71.5h1M705 51.5h1M703 50.5h1M751 53.5h1M723 47.5h1M704 57.5h1M689 56.5h1M741 29.5h1M731 60.5h1M740 52.5h1M716 62.5h1M693 49.5h1M715 60.5h1M731 47.5h1M745 48.5h1M727 62.5h1M687 47.5h1M725 57.5h1M707 82.5h1M703 30.5h1M737 58.5h1M689 64.5h1M728 60.5h1M685 70.5h1M735 50.5h1M732 50.5h1M686 86.5h1M723 51.5h1M701 54.5h1M695 59.5h1M711 86.5h1M690 56.5h1M748 39.5h1M726 57.5h1M684 48.5h1M721 61.5h1M716 50.5h1M704 84.5h1M711 49.5h1M732 38.5h1M709 48.5h1M695 26.5h1M685 55.5h1M731 74.5h1M741 61.5h1M683 62.5h1M751 58.5h1M692 75.5h1M688 48.5h1M713 24.5h1M694 54.5h1M736 56.5h1M717 56.5h1M722 47.5h1M712 42.5h1M695 57.5h1M717 45.5h1M690 60.5h1M684 49.5h1M752 59.5h1M720 47.5h1M686 62.5h1M750 27.5h1M741 68.5h1M688 45.5h1M735 70.5h1M683 86.5h1M723 65.5h1M714 89.5h1M698 92.5h1M697 41.5h1M721 51.5h1M684 53.5h1M709 72.5h1M743 58.5h1M686 73.5h1M685 67.5h1M689 86.5h1M700 26.5h1M699 55.5h1M734 61.5h1M735 71.5h1M724 71.5h1M690 47.5h1M744 64.5h1M719 63.5h1M704 59.5h1M690 57.5h1M700 32.5h1M687 66.5h1M732 52.5h1M725 82.5h1M687 73.5h1M713 34.5h1M722 54.5h1M694 59.5h1M723 77.5h1M714 40.5h1M718 56.5h1M718 57.5h1M718 59.5h1M698 64.5h1M727 73.5h1M722 68.5h1M731 52.5h1M752 57.5h1M721 46.5h1M719 74.5h1M690 56.5h1M726 52.5h1M697 82.5h1M696 65.5h1M714 58.5h1M697 76.5h1M693 59.5h1M736 53.5h1M683 57.5h1M744 39.5h1M714 63.5h1M749 58.5h1M706 52.5h1M720 53.5h1M750 48.5h1M705 47.5h1M701 39.5h1M714 39.5h1M747 66.5h1M698 71.5h1M721 53.5h1M703 75.5h1M723 65.5h1M722 40.5h1M720 42.5h1M742 59.5h1M694 53.5h1M688 43.5h1M686 47.5h1M746 60.5h1M688 70.5h1M689 55.5h1M732 65.5h1M701 58.5h1M694 71.5h1M696 29.5h1M724 50.5h1M705 78.5h1M692 55.5h1M716 51.5h1M707 59.5h1M716 61.5h1M700 62.5h1M743 52.5h1M690 72.5h1M752 72.5h1M713 64.5h1M709 52.5h1M737 58.5h1M695 33.5h1M703 23.5h1M717 55.5h1M741 72.5h1M722 59.5h1M713 47.5h1M721 76.5h1M720 72.5h1M698 41.5h1M742 67.5h1M701 57.5h1M697 50.5h1M708 70.5h1M743 48.5h1M685 35.5h1M721 41.5h1M716 69.5h1M709 81.5h1M749 59.5h1M724 60.5h1M697 43.5h1M741 54.5h1M690 61.5h1M738 55.5h1M683 47.5h1M694 65.5h1M742 68.5h1M741 48.5h1M712 55.5h1M739 65.5h1M749 38.5h1M690 55.5h1M727 40.5h1M700 61.5h1M745 62.5h1M702 58.5h1M721 22.5h1M711 84.5h1M736 49.5h1M704 64.5h1M723 68.5h1M704 51.5h1M739 55.5h1M726 39.5h1M707 51.5h1M730 74.5h1M748 60.5h1M751 84.5h1M752 59.5h1M719 56.5h1M689 58.5h1M692 65.5h1M682 53.5h1M705 61.5h1M725 50.5h1M687 52.5h1M719 49.5h1M720 50.5h1M717 43.5h1M685 49.5h1M686 66.5h1M689 67.5h1M714 58.5h1M743 53.5h1M748 55.5h1M723 40.5h1M731 40.5h1M730 63.5h1M731 52.5h1M731 50.5h1M727 37.5h1M694 57.5h1M717 60.5h1M744 72.5h1M732 57.5h1M725 58.5h1M716 62.5h1M686 49.5h1M716 87.5h1M683 61.5h1M713 48.5h1M694 59.5h1M711 37.5h1M701 49.5h1M731 37.5h1M699 28.5h1M688 53.5h1M737 66.5h1M717 71.5h1M711 62.5h1M727 67.5h1M725 49.5h1M717 78.5h1M751 67.5h1M725 47.5h1M719 63.5h1M732 75.5h1M750 57.5h1M708 63.5h1M734 57.5h1M699 75.5h1M745 50.5h1M723 70.5h1M694 51.5h1M694 57.5h1M752 51.5h1M714 87.5h1M715 62.5h1M686 46.5h1M718 77.5h1M736 60.5h1M737 65.5h1M736 68.5h1M706 50.5h1M718 43.5h1M752 51.5h1M749 62.5h1M709 82.5h1M735 55.5h1M730 52.5h1M752 33.5h1M705 53.5h1M698 44.5h1M719 66.5h1M727 43.5h1M683 82.5h1M701 47.5h1M700 56.5h1M683 54.5h1M712 57.5h1M751 51.5h1M686 50.5h1M736 48.5h1M695 40.5h1M738 80.5h1M740 30.5h1M690 51.5h1M740 52.5h1M732 89.5h1M719 56.5h1M735 53.5h1M737 50.5h1M747 62.5h1M734 49.5h1M746 57.5h1M683 70.5h1M701 58.5h1M744 71.5h1M752 21.5h1M727 55.5h1M685 64.5h1M743 61.5h1M703 58.5h1M699 83.5h1M701 43.5h1M740 73.5h1M744 41.5h1M713 73.5h1M725 87.5h1M733 46.5h1M741 38.5h1M748 57.5h1M712 68.5h1M722 49.5h1M734 49.5h1M751 47.5h1M749 51.5h1M722 73.5h1M698 60.5h1M699 47.5h1M703 65.5h1M718 84.5h1M751 40.5h1M747 50.5h1M726 59.5h1M727 50.5h1M683 58.5h1M687 53.5h1M712 68.5h1M711 34.5h1M683 75.5h1M696 45.5h1M711 71.5h1M695 44.5h1M726 34.5h1M686 60.5h1M695 63.5h1M721 67.5h1M703 61.5h1M687 54.5h1M733 37.5h1M740 74.5h1M735 35.5h1M699 43.5h1M733 48.5h1M720 62.5h1M721 75.5h1M720 61.5h1M719 65.5h1M733 62.5h1M743 53.5h1M690 69.5h1M692 76.5h1M703 34.5h1M716 51.5h1M714 49.5h1M709 58.5h1M716 46.5h1M744 67.5h1M704 49.5h1M735 56.5h1M711 58.5h1M705 53.5h1M723 60.5h1M719 59.5h1M710 36.5h1M707 46.5h1M684 40.5h1M688 72.5h1M745 62.5h1M704 41.5h1M738 74.5h1M701 72.5h1M747 73.5h1M702 72.5h1M700 43.5h1M694 54.5h1M750 73.5h1M702 59.5h1M700 58.5h1M701 26.5h1M737 35.5h1M689 24.5h1M722 62.5h1M708 65.5h1M705 40.5h1M720 46.5h1M702 41.5h1M715 56.5h1M722 81.5h1M739 69.5h1M744 54.5h1M706 36.5h1M684 59.5h1M750 55.5h1M735 43.5h1M701 49.5h1M696 63.5h1M726 54.5h1M714 50.5h1M687 62.5h1M694 63.5h1M735 61.5h1M692 72.5h1M728 56.5h1M731 62.5h1M710 75.5h1M688 57.5h1M727 67.5h1M691 33.5h1M752 55.5h1M711 50.5h1M693 53.5h1M687 49.5h1M745 51.5h1M688 67.5h1M737 56.5h1M699 53.5h1M693 43.5h1M742 41.5h1M748 85.5h1M710 69.5h1M731 56.5h1M726 58.5h1M718 42.5h1M687 62.5h1M714 45.5h1M718 57.5h1M697 55.5h1M702 57.5h1M752 88.5h1M733 51.5h1M733 61.5h1M694 42.5h1M711 60.5h1M707 59.5h1M706 71.5h1M692 49.5h1M725 57.5h1M688 37.5h1M695 59.5h1M685 68.5h1M730 53.5h1M684 52.5h1M728 45.5h1M707 75.5h1M715 76.5h1M701 61.5h1M714 56.5h1M712 59.5h1M746 56.5h1M731 75.5h1M729 54.5h1M693 48.5h1M694 53.5h1M703 47.5h1M736 76.5h1M721 74.5h1M744 39.5h1M722 60.5h1M714 70.5h1M717 51.5h1M686 65.5h1M696 47.5h1M728 51.5h1M711 52.5h1M751 53.5h1M735 90.5h1M752 49.5h1M715 38.5h1M714 65.5h1M742 57.5h1M686 64.5h1M735 69.5h1M695 65.5h1M749 63.5h1M691 42.5h1M719 50.5h1M751 49.5h1M730 49.5h1M694 55.5h1M715 83.5h1M718 56.5h1M734 61.5h1M727 29.5h1M685 73.5h1M742 63.5h1M717 49.5h1M694 43.5h1M711 25.5h1M736 37.5h1M682 66.5h1M748 46.5h1M727 23.5h1M701 62.5h1M714 74.5h1M736 90.5h1M715 51.5h1M731 44.5h1M706 42.5h1M728 51.5h1M701 49.5h1M722 49.5h1M688 44.5h1M683 50.5h1M734 66.5h1M746 56.5h1M724 60.5h1M742 82.5h1M719 49.5h1M729 70.5h1M720 64.5h1M684 58.5h1M709 73.5h1M724 75.5h1M708 51.5h1M687 62.5h1M702 61.5h1M706 74.5h1M715 66.5h1M728 50.5h1M714 53.5h1M739 73.5h1M731 50.5h1M720 62.5h1M702 51.5h1M717 23.5h1M747 64.5h1M732 52.5h1M741 27.5h1M690 50.5h1M704 55.5h1M689 55.5h1M726 49.5h1M683 32.5h1" stroke="#5a94c8" stroke-opacity=".18" stroke-width="1" fill="none" shape-rendering="crispEdges"/>
<path d="M601 54.5h1M611 58.5h1M561 56.5h1M570 63.5h1M599 44.5h1M579 62.5h1M557 54.5h1M592 54.5h1M545 40.5h1M588 52.5h1M580 51.5h1M578 60.5h1M569 61.5h1M552 58.5h1M564 55.5h1M588 50.5h1M566 61.5h1M599 58.5h1M598 62.5h1M593 69.5h1M589 50.5h1M600 61.5h1M562 56.5h1M575 55.5h1M579 44.5h1M597 60.5h1M569 60.5h1M582 45.5h1M610 56.5h1M587 54.5h1M578 49.5h1M575 38.5h1M559 60.5h1M586 68.5h1M572 57.5h1M594 54.5h1M560 48.5h1M545 56.5h1M561 53.5h1M576 51.5h1M543 56.5h1M560 45.5h1M549 46.5h1M604 52.5h1M544 61.5h1M611 54.5h1M549 71.5h1M563 57.5h1M603 57.5h1M571 61.5h1M567 47.5h1M555 58.5h1M575 50.5h1M608 57.5h1M559 60.5h1M571 65.5h1M565 41.5h1M589 55.5h1M564 60.5h1M593 58.5h1M582 52.5h1M598 57.5h1M594 47.5h1M544 58.5h1M586 54.5h1M579 53.5h1M579 51.5h1M576 52.5h1M554 44.5h1M557 62.5h1M576 59.5h1M578 59.5h1M593 61.5h1M581 65.5h1M543 52.5h1M550 47.5h1M573 58.5h1M547 56.5h1M607 52.5h1M588 51.5h1M594 58.5h1M563 70.5h1M591 52.5h1M598 53.5h1M599 55.5h1M600 59.5h1M547 61.5h1M566 53.5h1M578 58.5h1M585 52.5h1M580 59.5h1M542 57.5h1M586 51.5h1M550 53.5h1M556 59.5h1M568 42.5h1M571 59.5h1M588 38.5h1M548 51.5h1M603 63.5h1M605 47.5h1M603 45.5h1M561 49.5h1M608 56.5h1M547 52.5h1M609 62.5h1M591 42.5h1M593 63.5h1M544 51.5h1M559 55.5h1M545 54.5h1M611 64.5h1M578 46.5h1M550 65.5h1M562 53.5h1M554 78.5h1M586 47.5h1M543 47.5h1M571 58.5h1M549 59.5h1M561 55.5h1M575 42.5h1M575 55.5h1M590 45.5h1M552 59.5h1M607 58.5h1M586 46.5h1M556 54.5h1M555 65.5h1M585 55.5h1M547 33.5h1M558 71.5h1M574 58.5h1M548 61.5h1M571 50.5h1M579 57.5h1M563 60.5h1M605 59.5h1M601 47.5h1M551 40.5h1M606 60.5h1M605 52.5h1M604 56.5h1M582 57.5h1M586 56.5h1M602 48.5h1M569 57.5h1M545 63.5h1M564 44.5h1M543 60.5h1M598 64.5h1M596 59.5h1M578 54.5h1M554 67.5h1M572 47.5h1M585 54.5h1M602 61.5h1M549 54.5h1M543 63.5h1M564 55.5h1M571 54.5h1M557 50.5h1M579 44.5h1M549 39.5h1M563 55.5h1M593 54.5h1M585 55.5h1M595 49.5h1M542 78.5h1M582 64.5h1M565 41.5h1M605 48.5h1M579 60.5h1M561 62.5h1M585 52.5h1M585 59.5h1M576 61.5h1M593 60.5h1M590 46.5h1M601 58.5h1M555 58.5h1M564 62.5h1M546 53.5h1M562 67.5h1M566 51.5h1M582 50.5h1M604 51.5h1M553 49.5h1M601 66.5h1M598 62.5h1M552 55.5h1M584 52.5h1M565 54.5h1M604 56.5h1M596 62.5h1M559 46.5h1M579 59.5h1M548 65.5h1M589 54.5h1M570 55.5h1M576 56.5h1M607 52.5h1M565 60.5h1M552 51.5h1M570 63.5h1M589 44.5h1M590 51.5h1M591 45.5h1M569 51.5h1M589 66.5h1M577 50.5h1M576 48.5h1M569 51.5h1M548 54.5h1M592 52.5h1M563 60.5h1M587 59.5h1M576 54.5h1M610 63.5h1M582 41.5h1M554 42.5h1M559 43.5h1M606 48.5h1M592 54.5h1M579 64.5h1M603 64.5h1M550 54.5h1M592 49.5h1M554 54.5h1M576 53.5h1M542 57.5h1M562 58.5h1M573 52.5h1M606 56.5h1M606 48.5h1M571 64.5h1M594 49.5h1M564 55.5h1M543 61.5h1M589 57.5h1M592 61.5h1M598 54.5h1M604 51.5h1M586 59.5h1M591 59.5h1M604 69.5h1M546 50.5h1M577 56.5h1M593 59.5h1M606 56.5h1M609 51.5h1M608 61.5h1M546 76.5h1M553 52.5h1M562 53.5h1M598 49.5h1M571 53.5h1M578 49.5h1M582 62.5h1M565 57.5h1M602 50.5h1M558 70.5h1M606 58.5h1M600 51.5h1M565 59.5h1M590 48.5h1M594 53.5h1M592 48.5h1M582 57.5h1M603 43.5h1M603 56.5h1M584 58.5h1M543 66.5h1M581 55.5h1M594 54.5h1M591 62.5h1M581 50.5h1M563 49.5h1M570 49.5h1M565 43.5h1M597 62.5h1M543 52.5h1M574 59.5h1M543 53.5h1M545 57.5h1M564 62.5h1M562 56.5h1M556 53.5h1M590 56.5h1M547 59.5h1M599 55.5h1M561 61.5h1M579 58.5h1M569 53.5h1M548 68.5h1M545 51.5h1M559 66.5h1M587 56.5h1M576 62.5h1M578 58.5h1M554 56.5h1M558 59.5h1M567 49.5h1M594 59.5h1M581 64.5h1M564 77.5h1M599 61.5h1M546 56.5h1M557 62.5h1M577 51.5h1M550 49.5h1M580 52.5h1M595 51.5h1M570 62.5h1M603 53.5h1M580 56.5h1M596 64.5h1M609 51.5h1M567 60.5h1M563 52.5h1M575 54.5h1M566 49.5h1M598 60.5h1M603 49.5h1M547 57.5h1M591 47.5h1M543 61.5h1M589 48.5h1M556 54.5h1M557 60.5h1M641 46.5h1M621 45.5h1M651 49.5h1M681 24.5h1M671 42.5h1M615 55.5h1M646 58.5h1M633 49.5h1M665 44.5h1M661 67.5h1M635 55.5h1M628 57.5h1M637 69.5h1M671 46.5h1M643 59.5h1M674 55.5h1M617 40.5h1M641 50.5h1M613 47.5h1M679 55.5h1M615 73.5h1M627 57.5h1M662 68.5h1M612 68.5h1M679 55.5h1M643 53.5h1M679 51.5h1M639 68.5h1M619 52.5h1M636 56.5h1M665 63.5h1M634 43.5h1M681 59.5h1M643 61.5h1M623 51.5h1M629 64.5h1M681 49.5h1M652 41.5h1M663 46.5h1M652 64.5h1M662 56.5h1M640 58.5h1M675 70.5h1M615 61.5h1M671 31.5h1M638 39.5h1M661 60.5h1M658 59.5h1M640 52.5h1M678 56.5h1M658 57.5h1M621 69.5h1M633 57.5h1M636 46.5h1M654 52.5h1M631 54.5h1M612 47.5h1M656 73.5h1M662 56.5h1M670 61.5h1M622 54.5h1M642 61.5h1M673 34.5h1M660 56.5h1M653 53.5h1M648 40.5h1M680 70.5h1M682 62.5h1M625 51.5h1M615 55.5h1M668 55.5h1M638 63.5h1M651 53.5h1M651 49.5h1M675 64.5h1M652 52.5h1M627 60.5h1M663 59.5h1M665 52.5h1M662 60.5h1M634 48.5h1M619 48.5h1M679 50.5h1M629 51.5h1M666 39.5h1M682 50.5h1M625 45.5h1M681 68.5h1M675 54.5h1M669 82.5h1M638 52.5h1M668 32.5h1M632 59.5h1M663 49.5h1M617 52.5h1M612 65.5h1M613 69.5h1M661 62.5h1M637 62.5h1M619 52.5h1M636 78.5h1M630 63.5h1M657 64.5h1M615 64.5h1M632 36.5h1M645 49.5h1M629 61.5h1M649 59.5h1M620 57.5h1M634 80.5h1M618 82.5h1M622 46.5h1M628 55.5h1M627 63.5h1M673 38.5h1M632 44.5h1M678 49.5h1M675 58.5h1M617 56.5h1M664 59.5h1M644 52.5h1M658 55.5h1M634 24.5h1M625 59.5h1M647 66.5h1M643 53.5h1M655 77.5h1M643 48.5h1M679 51.5h1M643 45.5h1M676 50.5h1M635 61.5h1M641 53.5h1M640 61.5h1M615 59.5h1M660 52.5h1M636 64.5h1M614 75.5h1M643 66.5h1M634 65.5h1M649 53.5h1M672 49.5h1M618 51.5h1M637 60.5h1M681 53.5h1M647 39.5h1M624 55.5h1M680 66.5h1M642 64.5h1M623 53.5h1M628 50.5h1M623 34.5h1M630 40.5h1M630 60.5h1M612 51.5h1M615 46.5h1M620 41.5h1M654 61.5h1M678 48.5h1M656 57.5h1M621 39.5h1M655 51.5h1M680 69.5h1M642 65.5h1M628 59.5h1M678 34.5h1M628 65.5h1M642 69.5h1M636 52.5h1M647 74.5h1M657 50.5h1M649 60.5h1M634 57.5h1M617 49.5h1M643 42.5h1M614 47.5h1M642 61.5h1M675 58.5h1M650 63.5h1M642 57.5h1M665 60.5h1M638 58.5h1M670 56.5h1M671 57.5h1M664 47.5h1M660 64.5h1M618 48.5h1M664 61.5h1M637 63.5h1M639 54.5h1M666 67.5h1M672 59.5h1M614 68.5h1M614 57.5h1M677 73.5h1M622 58.5h1M640 70.5h1M677 61.5h1M614 45.5h1M624 72.5h1M623 53.5h1M651 61.5h1M621 64.5h1M629 50.5h1M655 56.5h1M614 42.5h1M673 45.5h1M642 54.5h1M666 53.5h1M640 46.5h1M640 61.5h1M663 50.5h1M636 60.5h1M614 50.5h1M658 52.5h1M621 67.5h1M678 48.5h1M638 57.5h1M652 56.5h1M642 76.5h1M654 48.5h1M678 61.5h1M632 63.5h1M657 69.5h1M648 58.5h1M657 44.5h1M621 53.5h1M657 61.5h1M675 51.5h1M672 52.5h1M652 62.5h1M651 46.5h1M647 47.5h1M665 67.5h1M613 68.5h1M618 49.5h1M635 58.5h1M615 55.5h1M643 53.5h1M670 73.5h1M616 62.5h1M648 53.5h1M613 31.5h1M614 52.5h1M627 57.5h1M631 47.5h1M673 48.5h1M622 46.5h1M620 61.5h1M647 69.5h1M682 42.5h1M678 52.5h1M669 63.5h1M661 64.5h1M613 56.5h1M653 55.5h1M639 49.5h1M641 34.5h1M635 62.5h1M678 63.5h1M681 57.5h1M646 46.5h1M641 50.5h1M666 53.5h1M639 47.5h1M676 66.5h1M642 54.5h1M644 53.5h1M643 44.5h1M629 70.5h1M652 54.5h1M617 62.5h1M675 45.5h1M632 65.5h1M660 67.5h1M623 55.5h1M646 59.5h1M641 41.5h1M654 46.5h1M680 43.5h1M626 53.5h1M624 55.5h1M632 55.5h1M637 45.5h1M647 41.5h1M630 48.5h1M613 23.5h1M651 50.5h1M660 45.5h1M644 63.5h1M626 86.5h1M648 50.5h1M642 45.5h1M657 61.5h1M682 32.5h1M643 55.5h1M670 66.5h1M634 60.5h1M669 52.5h1M672 57.5h1M617 63.5h1M675 48.5h1M621 47.5h1M679 58.5h1M646 44.5h1M665 45.5h1M617 50.5h1M633 44.5h1M672 56.5h1M638 68.5h1M665 40.5h1M679 57.5h1M616 55.5h1M656 68.5h1M679 66.5h1M674 49.5h1M708 41.5h1M716 85.5h1M745 66.5h1M749 59.5h1M695 64.5h1M724 57.5h1M719 24.5h1M700 63.5h1M742 60.5h1M702 50.5h1M745 59.5h1M740 34.5h1M710 73.5h1M752 57.5h1M700 66.5h1M699 49.5h1M687 51.5h1M726 49.5h1M752 66.5h1M690 44.5h1M687 47.5h1M748 91.5h1M716 48.5h1M695 59.5h1M719 51.5h1M731 46.5h1M733 53.5h1M702 56.5h1M743 73.5h1M700 51.5h1M718 73.5h1M692 51.5h1M683 58.5h1M731 47.5h1M700 71.5h1M714 63.5h1M705 52.5h1M694 35.5h1M752 39.5h1M740 56.5h1M750 77.5h1M708 40.5h1M716 57.5h1M690 60.5h1M748 63.5h1M727 58.5h1M693 59.5h1M701 56.5h1M700 60.5h1M710 42.5h1M737 61.5h1M739 64.5h1M743 67.5h1M735 73.5h1M725 58.5h1M711 69.5h1M723 53.5h1M749 59.5h1M715 66.5h1M693 68.5h1M711 46.5h1M735 69.5h1M720 26.5h1M741 47.5h1M745 56.5h1M704 90.5h1M742 36.5h1M743 55.5h1M687 59.5h1M721 45.5h1M746 69.5h1M695 46.5h1M705 47.5h1M707 54.5h1M691 47.5h1M737 46.5h1M719 56.5h1M684 38.5h1M711 73.5h1M701 57.5h1M699 69.5h1M735 58.5h1M747 72.5h1M702 75.5h1M720 27.5h1M715 64.5h1M721 48.5h1M706 61.5h1M730 59.5h1M719 52.5h1M736 69.5h1M687 55.5h1M726 51.5h1M740 60.5h1M752 43.5h1M700 69.5h1M747 59.5h1M732 38.5h1M684 46.5h1M699 42.5h1M692 28.5h1M699 85.5h1M713 74.5h1M713 52.5h1M705 61.5h1M685 60.5h1M703 54.5h1M698 56.5h1M750 65.5h1M707 60.5h1M735 32.5h1M736 44.5h1M749 52.5h1M688 41.5h1M706 53.5h1M732 53.5h1M741 65.5h1M704 79.5h1M722 63.5h1M737 51.5h1M715 50.5h1M686 45.5h1M744 50.5h1M743 40.5h1M724 69.5h1M747 67.5h1M732 37.5h1M742 42.5h1M726 62.5h1M706 53.5h1M698 54.5h1M722 52.5h1M751 72.5h1M718 60.5h1M750 79.5h1M740 47.5h1M734 45.5h1M711 60.5h1M729 72.5h1M692 44.5h1M728 53.5h1M694 46.5h1M737 66.5h1M752 57.5h1M690 51.5h1M707 58.5h1M725 51.5h1M744 24.5h1M688 68.5h1M735 69.5h1M686 61.5h1M686 49.5h1M708 37.5h1M747 58.5h1M709 52.5h1M684 60.5h1M702 55.5h1M752 51.5h1M705 58.5h1M742 41.5h1M735 50.5h1M696 42.5h1M726 64.5h1M750 72.5h1M748 70.5h1M747 49.5h1M685 58.5h1M699 77.5h1M708 68.5h1M742 50.5h1M719 50.5h1M739 67.5h1M737 57.5h1M709 54.5h1M709 62.5h1M701 63.5h1M693 66.5h1M734 49.5h1M707 78.5h1M745 91.5h1M699 68.5h1M747 60.5h1M717 54.5h1M712 53.5h1M734 68.5h1M696 73.5h1M716 70.5h1M685 66.5h1M746 24.5h1M720 44.5h1M745 60.5h1M692 39.5h1M727 71.5h1M691 42.5h1M731 62.5h1M715 90.5h1M713 60.5h1M725 43.5h1M742 43.5h1M701 53.5h1M714 42.5h1M742 62.5h1M746 68.5h1M720 23.5h1M728 68.5h1M727 46.5h1M726 54.5h1M693 68.5h1M737 42.5h1M733 62.5h1M700 45.5h1M730 52.5h1M735 65.5h1M694 50.5h1M745 77.5h1M689 44.5h1M697 61.5h1M738 40.5h1M730 58.5h1M727 57.5h1M750 84.5h1M699 56.5h1M696 70.5h1M752 50.5h1M701 52.5h1M690 85.5h1M725 22.5h1M712 63.5h1M746 71.5h1M737 26.5h1M726 40.5h1M721 23.5h1M742 47.5h1M685 71.5h1M718 44.5h1M748 65.5h1M729 47.5h1M727 47.5h1M691 41.5h1M687 51.5h1M742 57.5h1M690 67.5h1M695 59.5h1M704 73.5h1M691 66.5h1M714 49.5h1M698 74.5h1M748 38.5h1M732 48.5h1M704 48.5h1M752 61.5h1M741 35.5h1M688 23.5h1M725 50.5h1M729 55.5h1M710 61.5h1M736 55.5h1M720 55.5h1M731 46.5h1M742 57.5h1M704 44.5h1M688 44.5h1M693 47.5h1M689 37.5h1M718 77.5h1M698 52.5h1M709 67.5h1M712 66.5h1M738 46.5h1M700 45.5h1M712 37.5h1M746 58.5h1M737 57.5h1M726 42.5h1M709 53.5h1M707 63.5h1M698 67.5h1M717 64.5h1M729 74.5h1M688 62.5h1M744 62.5h1M725 48.5h1M687 48.5h1M728 53.5h1M714 56.5h1M717 48.5h1M726 57.5h1M741 56.5h1M750 53.5h1M690 57.5h1M713 50.5h1M734 35.5h1M730 30.5h1M711 65.5h1M721 65.5h1M752 45.5h1M739 47.5h1M736 81.5h1M686 59.5h1M691 60.5h1M686 40.5h1M703 75.5h1" stroke="#3a82c4" stroke-opacity=".38" stroke-width="1" fill="none" shape-rendering="crispEdges"/>
<path d="M602 52.5h1M549 41.5h1M580 44.5h1M573 49.5h1M593 64.5h1M609 58.5h1M545 63.5h1M583 67.5h1M569 52.5h1M544 48.5h1M554 61.5h1M549 55.5h1M559 59.5h1M547 41.5h1M571 65.5h1M583 44.5h1M552 53.5h1M568 66.5h1M590 58.5h1M569 61.5h1M549 71.5h1M603 49.5h1M590 52.5h1M579 58.5h1M596 42.5h1M573 50.5h1M586 52.5h1M569 51.5h1M595 63.5h1M578 50.5h1M563 46.5h1M561 45.5h1M609 62.5h1M601 55.5h1M567 54.5h1M610 60.5h1M568 65.5h1M543 66.5h1M594 64.5h1M545 55.5h1M584 62.5h1M580 47.5h1M582 41.5h1M585 57.5h1M559 50.5h1M563 66.5h1M594 54.5h1M545 65.5h1M598 50.5h1M546 60.5h1M566 51.5h1M573 56.5h1M546 54.5h1M606 42.5h1M570 49.5h1M577 51.5h1M553 52.5h1M610 56.5h1M607 57.5h1M548 57.5h1M580 52.5h1M592 53.5h1M564 58.5h1M554 49.5h1M559 47.5h1M581 58.5h1M584 42.5h1M556 51.5h1M572 60.5h1M569 55.5h1M548 62.5h1M599 43.5h1M587 53.5h1M595 59.5h1M599 49.5h1M571 60.5h1M577 43.5h1M579 60.5h1M581 59.5h1M581 55.5h1M568 49.5h1M569 51.5h1M604 66.5h1M550 60.5h1M584 52.5h1M581 44.5h1M548 52.5h1M555 57.5h1M565 45.5h1M677 40.5h1M658 52.5h1M679 48.5h1M631 54.5h1M626 52.5h1M613 66.5h1M667 60.5h1M652 65.5h1M624 38.5h1M647 25.5h1M632 78.5h1M631 57.5h1M650 66.5h1M619 51.5h1M627 66.5h1M650 57.5h1M662 72.5h1M682 52.5h1M648 48.5h1M637 63.5h1M612 65.5h1M671 53.5h1M657 72.5h1M644 60.5h1M666 66.5h1M630 90.5h1M636 48.5h1M672 31.5h1M673 70.5h1M614 57.5h1M673 75.5h1M641 46.5h1M660 56.5h1M625 65.5h1M624 43.5h1M631 54.5h1M682 50.5h1M643 79.5h1M680 64.5h1M618 79.5h1M625 58.5h1M646 85.5h1M654 42.5h1M644 59.5h1M622 56.5h1M644 50.5h1M652 52.5h1M634 49.5h1M613 62.5h1M641 56.5h1M634 50.5h1M656 49.5h1M612 53.5h1M681 60.5h1M657 65.5h1M677 49.5h1M674 49.5h1M614 61.5h1M616 77.5h1M615 29.5h1M631 64.5h1M677 62.5h1M625 48.5h1M653 67.5h1M639 47.5h1M620 84.5h1M660 50.5h1M674 69.5h1M674 61.5h1M650 66.5h1M647 61.5h1M624 47.5h1M675 44.5h1M613 51.5h1M648 54.5h1M624 54.5h1M665 68.5h1M616 49.5h1M681 64.5h1M678 54.5h1M658 41.5h1M640 69.5h1M630 54.5h1M675 61.5h1M645 42.5h1M633 49.5h1M631 62.5h1M654 52.5h1M673 81.5h1M667 44.5h1M675 58.5h1M677 58.5h1M635 45.5h1M662 56.5h1M634 42.5h1M674 68.5h1M656 59.5h1M737 53.5h1M733 51.5h1M709 60.5h1M684 72.5h1M687 48.5h1M692 46.5h1M738 57.5h1M718 81.5h1M726 75.5h1M704 58.5h1M699 51.5h1M741 56.5h1M683 61.5h1M710 52.5h1M705 70.5h1M746 39.5h1M695 50.5h1M728 71.5h1M721 49.5h1M701 43.5h1M706 67.5h1M723 46.5h1M733 63.5h1M722 45.5h1M688 45.5h1M736 42.5h1M717 54.5h1M721 42.5h1M693 55.5h1M701 37.5h1M705 43.5h1M748 75.5h1M734 50.5h1M713 59.5h1M750 57.5h1M691 65.5h1M726 52.5h1M699 57.5h1M710 75.5h1M712 50.5h1M715 41.5h1M688 31.5h1M721 73.5h1M695 39.5h1M718 59.5h1M695 56.5h1M688 40.5h1M715 69.5h1M703 75.5h1M743 26.5h1M702 57.5h1M732 51.5h1M733 34.5h1M707 79.5h1M694 31.5h1M713 54.5h1M710 52.5h1M684 67.5h1M700 37.5h1M697 37.5h1M732 55.5h1M739 53.5h1M697 63.5h1M736 89.5h1M736 59.5h1M705 87.5h1M698 77.5h1M724 70.5h1M741 67.5h1M731 59.5h1M691 53.5h1M688 51.5h1M715 56.5h1M717 45.5h1M715 82.5h1M697 72.5h1M745 25.5h1M697 48.5h1M714 38.5h1M726 67.5h1M683 60.5h1M732 54.5h1M706 40.5h1M719 84.5h1M711 56.5h1M745 59.5h1M732 43.5h1M717 73.5h1M730 50.5h1M723 61.5h1M717 67.5h1M720 54.5h1M705 58.5h1M687 73.5h1M703 48.5h1M725 67.5h1" stroke="#2a6aa8" stroke-opacity=".66" stroke-width="1" fill="none" shape-rendering="crispEdges"/>
<rect x="541.5" y="19.6" width="212" height="73.6" fill="none" stroke="#565656" stroke-width="1"/>
<path d="M612.2 93.2v-2M612.2 19.6v2M682.8 93.2v-2M682.8 19.6v2M541.5 74.8h2M753.5 74.8h-2M541.5 56.4h2M753.5 56.4h-2M541.5 38h2M753.5 38h-2" stroke="#444" stroke-width=".85" fill="none"/>
<line x1="612.2" y1="18.7" x2="612.2" y2="93.8" stroke="#4de2ec" stroke-width="1.65" stroke-opacity="1"/>
<line x1="682.8" y1="18.7" x2="682.8" y2="93.8" stroke="#4de2ec" stroke-width="1.65" stroke-opacity="1"/>
<text transform="translate(22.8 41.45) scale(.96 1)" font-size="9.7" text-anchor="end" fill="#3a3a3a">π/2</text>
<text transform="translate(22.8 58.9) scale(.96 1)" font-size="9.7" text-anchor="end" fill="#3a3a3a">0</text>
<text transform="translate(22.8 76.35) scale(.96 1)" font-size="9.7" text-anchor="end" fill="#3a3a3a">-π/2</text>
<text transform="translate(97.43 102.9) scale(.96 1)" font-size="9.7" text-anchor="middle" fill="#3a3a3a">1000</text>
<text transform="translate(167.77 102.9) scale(.96 1)" font-size="9.7" text-anchor="middle" fill="#3a3a3a">2000</text>
<text transform="translate(238.1 102.9) scale(.96 1)" font-size="9.7" text-anchor="middle" fill="#3a3a3a">3000</text>
<text transform="translate(282.4 39.75) scale(.96 1)" font-size="9.7" text-anchor="end" fill="#3a3a3a">π/2</text>
<text transform="translate(282.4 57.7) scale(.96 1)" font-size="9.7" text-anchor="end" fill="#3a3a3a">0</text>
<text transform="translate(282.4 75.65) scale(.96 1)" font-size="9.7" text-anchor="end" fill="#3a3a3a">-π/2</text>
<text transform="translate(356.63 102.9) scale(.96 1)" font-size="9.7" text-anchor="middle" fill="#3a3a3a">1000</text>
<text transform="translate(426.72 102.9) scale(.96 1)" font-size="9.7" text-anchor="middle" fill="#3a3a3a">2000</text>
<text transform="translate(496.8 102.9) scale(.96 1)" font-size="9.7" text-anchor="middle" fill="#3a3a3a">3000</text>
<text transform="translate(536 41.3) scale(.96 1)" font-size="9.7" text-anchor="end" fill="#3a3a3a">π/2</text>
<text transform="translate(536 59.7) scale(.96 1)" font-size="9.7" text-anchor="end" fill="#3a3a3a">0</text>
<text transform="translate(536 78.1) scale(.96 1)" font-size="9.7" text-anchor="end" fill="#3a3a3a">-π/2</text>
<text transform="translate(610.67 105.9) scale(.96 1)" font-size="9.7" text-anchor="middle" fill="#3a3a3a">1000</text>
<text transform="translate(681.33 105.9) scale(.96 1)" font-size="9.7" text-anchor="middle" fill="#3a3a3a">2000</text>
<text transform="translate(752 105.9) scale(.96 1)" font-size="9.7" text-anchor="middle" fill="#3a3a3a">3000</text>
<text transform="translate(11.5 56.5) scale(1.1 1.04) rotate(-90)" font-size="13" text-anchor="middle" fill="#111" font-family="'DejaVu Sans Light', 'DejaVu Sans', 'Liberation Sans', sans-serif" font-weight="200" stroke="#111" stroke-width=".34">Θ</text>
<text transform="translate(264 53.4) scale(1.1 1.04) rotate(-90)" font-size="13" text-anchor="middle" fill="#111" font-family="'DejaVu Sans Light', 'DejaVu Sans', 'Liberation Sans', sans-serif" font-weight="200" stroke="#111" stroke-width=".34">Θ</text>
<text transform="translate(523.8 59) scale(1.1 1.04) rotate(-90)" font-size="13" text-anchor="middle" fill="#111" font-family="'DejaVu Sans Light', 'DejaVu Sans', 'Liberation Sans', sans-serif" font-weight="200" stroke="#111" stroke-width=".34">Θ</text>
<rect x="29.9" y="119.9" width="209.9" height="73.6" fill="#0b0000"/>
<linearGradient id="g1" x1="0" y1="0" x2="1" y2="0"><stop offset="0.000" stop-color="#fffff0"/><stop offset="0.062" stop-color="#ffffea"/><stop offset="0.125" stop-color="#ffffe5"/><stop offset="0.188" stop-color="#ffffdf"/><stop offset="0.250" stop-color="#ffffd9"/><stop offset="0.312" stop-color="#ffffd4"/><stop offset="0.375" stop-color="#ffffce"/><stop offset="0.438" stop-color="#ffffc4"/><stop offset="0.500" stop-color="#ffffb7"/><stop offset="0.562" stop-color="#ffffab"/><stop offset="0.625" stop-color="#ffff9e"/><stop offset="0.688" stop-color="#ffff89"/><stop offset="0.750" stop-color="#ffff70"/><stop offset="0.812" stop-color="#ffff56"/><stop offset="0.875" stop-color="#ffff35"/><stop offset="0.938" stop-color="#ffff08"/><stop offset="1.000" stop-color="#ffe700"/></linearGradient>
<rect x="29.90" y="171.42" width="70.11" height="7.36" fill="url(#g1)"/>
<linearGradient id="g2" x1="0" y1="0" x2="1" y2="0"><stop offset="0.000" stop-color="#1d0000"/><stop offset="0.062" stop-color="#1f0000"/><stop offset="0.125" stop-color="#210000"/><stop offset="0.188" stop-color="#240000"/><stop offset="0.250" stop-color="#260000"/><stop offset="0.312" stop-color="#290000"/><stop offset="0.375" stop-color="#2b0000"/><stop offset="0.438" stop-color="#2d0000"/><stop offset="0.500" stop-color="#300000"/><stop offset="0.562" stop-color="#330000"/><stop offset="0.625" stop-color="#370000"/><stop offset="0.688" stop-color="#3a0000"/><stop offset="0.750" stop-color="#3d0000"/><stop offset="0.812" stop-color="#410000"/><stop offset="0.875" stop-color="#440000"/><stop offset="0.938" stop-color="#470000"/><stop offset="1.000" stop-color="#4b0000"/></linearGradient>
<rect x="71.88" y="164.06" width="28.13" height="7.36" fill="url(#g2)"/>
<linearGradient id="g3" x1="0" y1="0" x2="1" y2="0"><stop offset="0.000" stop-color="#1d0000"/><stop offset="0.062" stop-color="#1d0000"/><stop offset="0.125" stop-color="#1e0000"/><stop offset="0.188" stop-color="#1f0000"/><stop offset="0.250" stop-color="#200000"/><stop offset="0.312" stop-color="#200000"/><stop offset="0.375" stop-color="#210000"/><stop offset="0.438" stop-color="#220000"/><stop offset="0.500" stop-color="#230000"/><stop offset="0.562" stop-color="#230000"/><stop offset="0.625" stop-color="#240000"/><stop offset="0.688" stop-color="#250000"/><stop offset="0.750" stop-color="#260000"/><stop offset="0.812" stop-color="#270000"/><stop offset="0.875" stop-color="#270000"/><stop offset="0.938" stop-color="#280000"/><stop offset="1.000" stop-color="#290000"/></linearGradient>
<rect x="91.47" y="156.70" width="8.54" height="7.36" fill="url(#g3)"/>
<linearGradient id="g4" x1="0" y1="0" x2="1" y2="0"><stop offset="0.000" stop-color="#1d0000"/><stop offset="0.062" stop-color="#1e0000"/><stop offset="0.125" stop-color="#1f0000"/><stop offset="0.188" stop-color="#200000"/><stop offset="0.250" stop-color="#210000"/><stop offset="0.312" stop-color="#220000"/><stop offset="0.375" stop-color="#230000"/><stop offset="0.438" stop-color="#240000"/><stop offset="0.500" stop-color="#250000"/><stop offset="0.562" stop-color="#250000"/><stop offset="0.625" stop-color="#240000"/><stop offset="0.688" stop-color="#230000"/><stop offset="0.750" stop-color="#210000"/><stop offset="0.812" stop-color="#200000"/><stop offset="0.875" stop-color="#1f0000"/><stop offset="0.938" stop-color="#1e0000"/><stop offset="1.000" stop-color="#1d0000"/></linearGradient>
<rect x="57.89" y="178.78" width="39.18" height="7.36" fill="url(#g4)"/>
<rect x="100.01" y="127.26" width="68.43" height="7.36" fill="#ffffff"/>
<linearGradient id="g5" x1="0" y1="0" x2="1" y2="0"><stop offset="0.000" stop-color="#ffffff"/><stop offset="0.062" stop-color="#ffffec"/><stop offset="0.125" stop-color="#ffffd9"/><stop offset="0.188" stop-color="#ffffc6"/><stop offset="0.250" stop-color="#ffffb3"/><stop offset="0.312" stop-color="#ffff9f"/><stop offset="0.375" stop-color="#ffff8c"/><stop offset="0.438" stop-color="#ffff79"/><stop offset="0.500" stop-color="#ffff66"/><stop offset="0.562" stop-color="#ffff53"/><stop offset="0.625" stop-color="#ffff40"/><stop offset="0.688" stop-color="#ffff2d"/><stop offset="0.750" stop-color="#ffff19"/><stop offset="0.812" stop-color="#ffff06"/><stop offset="0.875" stop-color="#fff600"/><stop offset="0.938" stop-color="#ffea00"/><stop offset="1.000" stop-color="#ffdd00"/></linearGradient>
<rect x="168.43" y="127.26" width="1.12" height="7.36" fill="url(#g5)"/>
<linearGradient id="g6" x1="0" y1="0" x2="1" y2="0"><stop offset="0.000" stop-color="#660000"/><stop offset="0.062" stop-color="#770000"/><stop offset="0.125" stop-color="#880000"/><stop offset="0.188" stop-color="#990000"/><stop offset="0.250" stop-color="#aa0000"/><stop offset="0.312" stop-color="#bb0000"/><stop offset="0.375" stop-color="#cc0000"/><stop offset="0.438" stop-color="#dd0000"/><stop offset="0.500" stop-color="#ee0000"/><stop offset="0.562" stop-color="#ff0000"/><stop offset="0.625" stop-color="#ff1100"/><stop offset="0.688" stop-color="#ff2200"/><stop offset="0.750" stop-color="#ff3300"/><stop offset="0.812" stop-color="#ff4400"/><stop offset="0.875" stop-color="#ff5500"/><stop offset="0.938" stop-color="#ff6600"/><stop offset="1.000" stop-color="#ff7700"/></linearGradient>
<rect x="168.57" y="119.90" width="1.12" height="7.36" fill="url(#g6)"/>
<rect x="169.69" y="119.90" width="70.11" height="7.36" fill="#ffffff"/>
<rect x="286.8" y="120" width="210.2" height="72.4" fill="#0b0000"/>
<rect x="286.80" y="120.00" width="69.51" height="7.24" fill="#ffffff"/>
<rect x="392.04" y="120.00" width="69.51" height="7.24" fill="#ffffff"/>
<linearGradient id="g7" x1="0" y1="0" x2="1" y2="0"><stop offset="0.000" stop-color="#ffff94"/><stop offset="0.062" stop-color="#ffff9a"/><stop offset="0.125" stop-color="#ffffa1"/><stop offset="0.188" stop-color="#ffffa7"/><stop offset="0.250" stop-color="#ffffad"/><stop offset="0.312" stop-color="#ffffb3"/><stop offset="0.375" stop-color="#ffffba"/><stop offset="0.438" stop-color="#ffffc0"/><stop offset="0.500" stop-color="#ffffc6"/><stop offset="0.562" stop-color="#ffffc8"/><stop offset="0.625" stop-color="#ffffc9"/><stop offset="0.688" stop-color="#ffffca"/><stop offset="0.750" stop-color="#ffffcb"/><stop offset="0.812" stop-color="#ffffcc"/><stop offset="0.875" stop-color="#ffffc5"/><stop offset="0.938" stop-color="#ffffb9"/><stop offset="1.000" stop-color="#ffffad"/></linearGradient>
<rect x="356.31" y="148.96" width="35.73" height="7.24" fill="url(#g7)"/>
<linearGradient id="g8" x1="0" y1="0" x2="1" y2="0"><stop offset="0.000" stop-color="#360000"/><stop offset="0.062" stop-color="#370000"/><stop offset="0.125" stop-color="#390000"/><stop offset="0.188" stop-color="#3a0000"/><stop offset="0.250" stop-color="#3b0000"/><stop offset="0.312" stop-color="#3c0000"/><stop offset="0.375" stop-color="#3d0000"/><stop offset="0.438" stop-color="#3e0000"/><stop offset="0.500" stop-color="#3f0000"/><stop offset="0.562" stop-color="#400000"/><stop offset="0.625" stop-color="#410000"/><stop offset="0.688" stop-color="#420000"/><stop offset="0.750" stop-color="#430000"/><stop offset="0.812" stop-color="#440000"/><stop offset="0.875" stop-color="#450000"/><stop offset="0.938" stop-color="#460000"/><stop offset="1.000" stop-color="#470000"/></linearGradient>
<rect x="356.31" y="156.20" width="35.73" height="7.24" fill="url(#g8)"/>
<linearGradient id="g9" x1="0" y1="0" x2="1" y2="0"><stop offset="0.000" stop-color="#ffff61"/><stop offset="0.062" stop-color="#ffff64"/><stop offset="0.125" stop-color="#ffff68"/><stop offset="0.188" stop-color="#ffff6b"/><stop offset="0.250" stop-color="#ffff6f"/><stop offset="0.312" stop-color="#ffff72"/><stop offset="0.375" stop-color="#ffff76"/><stop offset="0.438" stop-color="#ffff79"/><stop offset="0.500" stop-color="#ffff7d"/><stop offset="0.562" stop-color="#ffff80"/><stop offset="0.625" stop-color="#ffff84"/><stop offset="0.688" stop-color="#ffff87"/><stop offset="0.750" stop-color="#ffff8b"/><stop offset="0.812" stop-color="#ffff8e"/><stop offset="0.875" stop-color="#ffff92"/><stop offset="0.938" stop-color="#ffff95"/><stop offset="1.000" stop-color="#ffff99"/></linearGradient>
<rect x="461.55" y="170.68" width="35.45" height="7.24" fill="url(#g9)"/>
<rect x="461.55" y="163.44" width="35.45" height="7.24" fill="#3a0000"/>
<rect x="461.55" y="177.92" width="35.45" height="7.24" fill="#330000"/>
<rect x="461.55" y="156.20" width="35.45" height="7.24" fill="#1f0000"/>
<rect x="542.5" y="119.1" width="213.2" height="72.3" fill="#0b0000"/>
<rect x="542.50" y="133.57" width="65.38" height="7.23" fill="#ffffff"/>
<linearGradient id="g10" x1="0" y1="0" x2="1" y2="0"><stop offset="0.000" stop-color="#ffffff"/><stop offset="0.062" stop-color="#ffffd8"/><stop offset="0.125" stop-color="#ffffb1"/><stop offset="0.188" stop-color="#ffff8a"/><stop offset="0.250" stop-color="#ffff63"/><stop offset="0.312" stop-color="#ffff3c"/><stop offset="0.375" stop-color="#ffff15"/><stop offset="0.438" stop-color="#fff300"/><stop offset="0.500" stop-color="#ffc200"/><stop offset="0.562" stop-color="#ff8500"/><stop offset="0.625" stop-color="#ff4700"/><stop offset="0.688" stop-color="#ff0a00"/><stop offset="0.750" stop-color="#cc0000"/><stop offset="0.812" stop-color="#8f0000"/><stop offset="0.875" stop-color="#520000"/><stop offset="0.938" stop-color="#370000"/><stop offset="1.000" stop-color="#1d0000"/></linearGradient>
<rect x="607.88" y="133.57" width="8.53" height="7.23" fill="url(#g10)"/>
<linearGradient id="g11" x1="0" y1="0" x2="1" y2="0"><stop offset="0.000" stop-color="#1d0000"/><stop offset="0.062" stop-color="#380000"/><stop offset="0.125" stop-color="#530000"/><stop offset="0.188" stop-color="#6f0000"/><stop offset="0.250" stop-color="#8a0000"/><stop offset="0.312" stop-color="#a60000"/><stop offset="0.375" stop-color="#c10000"/><stop offset="0.438" stop-color="#ea0000"/><stop offset="0.500" stop-color="#ff1c00"/><stop offset="0.562" stop-color="#ff4e00"/><stop offset="0.625" stop-color="#ff8000"/><stop offset="0.688" stop-color="#ffb100"/><stop offset="0.750" stop-color="#ffe300"/><stop offset="0.812" stop-color="#ffff20"/><stop offset="0.875" stop-color="#ffff6a"/><stop offset="0.938" stop-color="#ffffb5"/><stop offset="1.000" stop-color="#ffffff"/></linearGradient>
<rect x="610.01" y="126.33" width="7.11" height="7.23" fill="url(#g11)"/>
<rect x="617.12" y="126.33" width="66.45" height="7.23" fill="#ffffff"/>
<linearGradient id="g12" x1="0" y1="0" x2="1" y2="0"><stop offset="0.000" stop-color="#ffff99"/><stop offset="0.062" stop-color="#ffff86"/><stop offset="0.125" stop-color="#ffff73"/><stop offset="0.188" stop-color="#ffff60"/><stop offset="0.250" stop-color="#ffff4c"/><stop offset="0.312" stop-color="#ffff39"/><stop offset="0.375" stop-color="#ffff26"/><stop offset="0.438" stop-color="#ffff13"/><stop offset="0.500" stop-color="#ffff00"/><stop offset="0.562" stop-color="#fff200"/><stop offset="0.625" stop-color="#ffe600"/><stop offset="0.688" stop-color="#ffd900"/><stop offset="0.750" stop-color="#ffcc00"/><stop offset="0.812" stop-color="#ffbf00"/><stop offset="0.875" stop-color="#ffb200"/><stop offset="0.938" stop-color="#ffa600"/><stop offset="1.000" stop-color="#ff9900"/></linearGradient>
<rect x="683.57" y="126.33" width="0.92" height="7.23" fill="url(#g12)"/>
<linearGradient id="g13" x1="0" y1="0" x2="1" y2="0"><stop offset="0.000" stop-color="#880000"/><stop offset="0.062" stop-color="#990000"/><stop offset="0.125" stop-color="#aa0000"/><stop offset="0.188" stop-color="#bb0000"/><stop offset="0.250" stop-color="#cc0000"/><stop offset="0.312" stop-color="#dd0000"/><stop offset="0.375" stop-color="#ee0000"/><stop offset="0.438" stop-color="#ff0000"/><stop offset="0.500" stop-color="#ff1100"/><stop offset="0.562" stop-color="#ff2200"/><stop offset="0.625" stop-color="#ff3300"/><stop offset="0.688" stop-color="#ff4400"/><stop offset="0.750" stop-color="#ff5500"/><stop offset="0.812" stop-color="#ff6600"/><stop offset="0.875" stop-color="#ff7700"/><stop offset="0.938" stop-color="#ff8800"/><stop offset="1.000" stop-color="#ff9900"/></linearGradient>
<rect x="683.57" y="119.10" width="0.92" height="7.23" fill="url(#g13)"/>
<rect x="684.49" y="119.10" width="71.21" height="7.23" fill="#ffffff"/>
<rect x="30.35" y="120.35" width="209" height="72.7" stroke="#4a4a4a" stroke-opacity=".85" stroke-width=".9" fill="none"/>
<path d="M29.9 130.94h2.2M239.8 130.94h-2.2M29.9 145.66h2.2M239.8 145.66h-2.2M29.9 160.38h2.2M239.8 160.38h-2.2M29.9 175.10h2.2M239.8 175.10h-2.2M29.9 189.82h2.2M239.8 189.82h-2.2M99.9 193.5v-2.2M169.8 193.5v-2.2" stroke="#443c3c" stroke-width=".8" fill="none"/>
<rect x="287.25" y="120.45" width="209.3" height="71.5" stroke="#4a4a4a" stroke-opacity=".85" stroke-width=".9" fill="none"/>
<path d="M286.8 130.86h2.2M497 130.86h-2.2M286.8 145.34h2.2M497 145.34h-2.2M286.8 159.82h2.2M497 159.82h-2.2M286.8 174.30h2.2M497 174.30h-2.2M286.8 188.78h2.2M497 188.78h-2.2M356.9 192.4v-2.2M391.9 192.4v-2.2M462 192.4v-2.2" stroke="#443c3c" stroke-width=".8" fill="none"/>
<rect x="542.95" y="119.55" width="212.3" height="71.45" stroke="#4a4a4a" stroke-opacity=".85" stroke-width=".9" fill="none"/>
<path d="M542.5 144.42h2.2M755.7 144.42h-2.2M542.5 173.36h2.2M755.7 173.36h-2.2M613.6 191.4v-2.2M684.6 191.4v-2.2" stroke="#443c3c" stroke-width=".8" fill="none"/>
<text transform="translate(25.6 134.34) scale(.96 1)" font-size="9.6" text-anchor="end" fill="#3a3a3a">2</text>
<text transform="translate(25.6 149.06) scale(.96 1)" font-size="9.6" text-anchor="end" fill="#3a3a3a">4</text>
<text transform="translate(25.6 163.78) scale(.96 1)" font-size="9.6" text-anchor="end" fill="#3a3a3a">6</text>
<text transform="translate(25.6 178.5) scale(.96 1)" font-size="9.6" text-anchor="end" fill="#3a3a3a">8</text>
<text transform="translate(25.6 193.22) scale(.96 1)" font-size="9.6" text-anchor="end" fill="#3a3a3a">10</text>
<text x="282.2" y="134.96" font-size="10.9" text-anchor="end" fill="#3a3a3a">2</text>
<text x="282.2" y="149.44" font-size="10.9" text-anchor="end" fill="#3a3a3a">4</text>
<text x="282.2" y="163.92" font-size="10.9" text-anchor="end" fill="#3a3a3a">6</text>
<text x="282.2" y="178.4" font-size="10.9" text-anchor="end" fill="#3a3a3a">8</text>
<text x="282.2" y="192.88" font-size="10.9" text-anchor="end" fill="#3a3a3a">10</text>
<text transform="translate(538 147.82) scale(.96 1)" font-size="9.3" text-anchor="end" fill="#3a3a3a">4</text>
<text transform="translate(538 176.76) scale(.96 1)" font-size="9.3" text-anchor="end" fill="#3a3a3a">8</text>
<text x="99.1" y="206.2" font-size="9.2" text-anchor="middle" fill="#3a3a3a">1000</text>
<text x="168.3" y="206.2" font-size="9.2" text-anchor="middle" fill="#3a3a3a">2000</text>
<text x="355.6" y="208" font-size="10.9" text-anchor="middle" fill="#3a3a3a">1000</text>
<text x="390.2" y="208" font-size="10.9" text-anchor="middle" fill="#3a3a3a">1500</text>
<text x="459.8" y="208" font-size="10.9" text-anchor="middle" fill="#3a3a3a">2500</text>
<text x="612.5" y="204.2" font-size="9.0" text-anchor="middle" fill="#3a3a3a">1000</text>
<text x="683" y="204.2" font-size="9.0" text-anchor="middle" fill="#3a3a3a">2000</text>
<text x="129.2" y="226" font-size="10.7" text-anchor="middle" fill="#3a3a3a">Samples</text>
<text x="389.7" y="221.2" font-size="11.2" text-anchor="middle" fill="#3a3a3a">Samples</text>
<text x="647" y="217.9" font-size="11.3" text-anchor="middle" fill="#3a3a3a">Samples</text>
<text transform="translate(16.5 147.4) rotate(-90) skewX(-12)" font-size="18.5" text-anchor="middle" fill="#222" fill-opacity=".82" font-family="'Liberation Serif', 'DejaVu Serif', serif" font-style="italic">κ</text>
<text transform="translate(265.6 156.6) rotate(-90) skewX(-12)" font-size="18.5" text-anchor="middle" fill="#222" fill-opacity=".82" font-family="'Liberation Serif', 'DejaVu Serif', serif" font-style="italic">κ</text>
<text transform="translate(525 153.5) rotate(-90) skewX(-12)" font-size="18.5" text-anchor="middle" fill="#222" fill-opacity=".82" font-family="'Liberation Serif', 'DejaVu Serif', serif" font-style="italic">κ</text>
<linearGradient id="gcb" x1="0" y1="0" x2="1" y2="0"><stop offset="0.0000" stop-color="#0b0000"/><stop offset="0.0312" stop-color="#150000"/><stop offset="0.0625" stop-color="#2a0000"/><stop offset="0.0938" stop-color="#400000"/><stop offset="0.1250" stop-color="#550000"/><stop offset="0.1562" stop-color="#6a0000"/><stop offset="0.1875" stop-color="#800000"/><stop offset="0.2188" stop-color="#950000"/><stop offset="0.2500" stop-color="#aa0000"/><stop offset="0.2812" stop-color="#bf0000"/><stop offset="0.3125" stop-color="#d40000"/><stop offset="0.3438" stop-color="#ea0000"/><stop offset="0.3750" stop-color="#ff0000"/><stop offset="0.4062" stop-color="#ff1500"/><stop offset="0.4375" stop-color="#ff2a00"/><stop offset="0.4688" stop-color="#ff4000"/><stop offset="0.5000" stop-color="#ff5500"/><stop offset="0.5312" stop-color="#ff6a00"/><stop offset="0.5625" stop-color="#ff8000"/><stop offset="0.5938" stop-color="#ff9500"/><stop offset="0.6250" stop-color="#ffaa00"/><stop offset="0.6562" stop-color="#ffbf00"/><stop offset="0.6875" stop-color="#ffd400"/><stop offset="0.7188" stop-color="#ffea00"/><stop offset="0.7500" stop-color="#ffff00"/><stop offset="0.7812" stop-color="#ffff20"/><stop offset="0.8125" stop-color="#ffff40"/><stop offset="0.8438" stop-color="#ffff60"/><stop offset="0.8750" stop-color="#ffff80"/><stop offset="0.9062" stop-color="#ffff9f"/><stop offset="0.9375" stop-color="#ffffbf"/><stop offset="0.9688" stop-color="#ffffdf"/><stop offset="1.0000" stop-color="#ffffff"/></linearGradient>
<rect x="28.9" y="231.5" width="213.1" height="10.2" fill="url(#gcb)"/>
<rect x="29.35" y="231.95" width="212.2" height="9.3" fill="none" stroke="#444" stroke-opacity=".85" stroke-width=".9"/>
<text transform="translate(71.02 253.8) scale(.96 1)" font-size="9.6" text-anchor="middle" fill="#3a3a3a">0.2</text>
<text transform="translate(113.64 253.8) scale(.96 1)" font-size="9.6" text-anchor="middle" fill="#3a3a3a">0.4</text>
<text transform="translate(156.26 253.8) scale(.96 1)" font-size="9.6" text-anchor="middle" fill="#3a3a3a">0.6</text>
<text transform="translate(198.88 253.8) scale(.96 1)" font-size="9.6" text-anchor="middle" fill="#3a3a3a">0.8</text>
<path d="M71.5 241.7v-2M114.1 241.7v-2M156.8 241.7v-2M199.4 241.7v-2" stroke="#4a3030" stroke-width=".7" fill="none"/>
</svg>
</body>
</html>
